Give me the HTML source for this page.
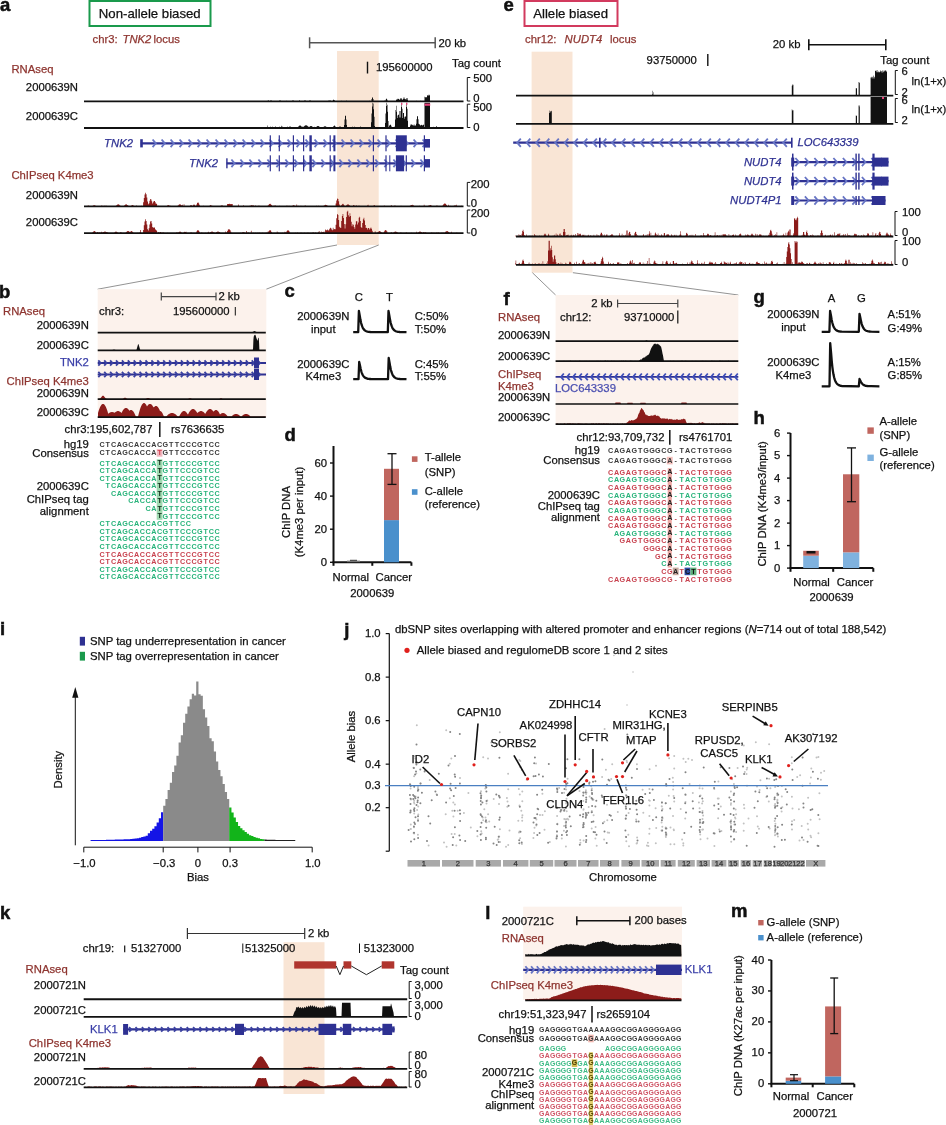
<!DOCTYPE html>
<html><head><meta charset="utf-8"><style>
html,body{margin:0;padding:0;background:#fff;}
body{width:946px;height:1125px;overflow:hidden;font-family:"Liberation Sans", sans-serif;}
svg{display:block;will-change:transform;}
</style></head><body>
<svg width="946" height="1125" viewBox="0 0 946 1125" font-family='"Liberation Sans", sans-serif'><text x="0.00" y="10.60" font-size="18.5" fill="#111" font-weight="bold" stroke="#111" stroke-width="0.5">a</text>
<rect x="89.5" y="1" width="121" height="25" fill="none" stroke="#1a9a4c" stroke-width="2"/>
<text x="98.80" y="18.10" font-size="13.2" fill="#111" stroke="#111" stroke-width="0.25">Non-allele biased</text>
<text x="92.60" y="42.90" font-size="11.3" fill="#8e3530" stroke="#8e3530" stroke-width="0.25">chr3:</text>
<text x="122.50" y="42.90" font-size="11.3" fill="#8e3530" stroke="#8e3530" stroke-width="0.25" font-style="italic">TNK2</text>
<text x="153.50" y="42.90" font-size="11.3" fill="#8e3530" stroke="#8e3530" stroke-width="0.25">locus</text>
<line x1="309.60" y1="42.80" x2="435.20" y2="42.80" stroke="#555" stroke-width="1.5"/>
<line x1="309.60" y1="37.30" x2="309.60" y2="48.30" stroke="#555" stroke-width="1.5"/>
<line x1="435.20" y1="37.30" x2="435.20" y2="48.30" stroke="#555" stroke-width="1.5"/>
<text x="438.50" y="47.00" font-size="11.3" fill="#111" stroke="#111" stroke-width="0.25">20 kb</text>
<rect x="337.00" y="51.00" width="41.70" height="194.00" fill="#f9e5d5"/>
<line x1="367.50" y1="61.70" x2="367.50" y2="73.50" stroke="#111" stroke-width="1.4"/>
<text x="376.00" y="71.30" font-size="11.3" fill="#111" stroke="#111" stroke-width="0.25">195600000</text>
<text x="452.00" y="66.80" font-size="11.3" fill="#111" stroke="#111" stroke-width="0.25">Tag count</text>
<text x="11.40" y="72.50" font-size="11.3" fill="#8e3530" stroke="#8e3530" stroke-width="0.25">RNAseq</text>
<text x="78.00" y="91.00" font-size="11.3" fill="#111" stroke="#111" stroke-width="0.25" text-anchor="end">2000639N</text>
<text x="78.00" y="119.50" font-size="11.3" fill="#111" stroke="#111" stroke-width="0.25" text-anchor="end">2000639C</text>
<path d="M262.00,101.10L262.00,101.10L262.50,101.10L262.50,101.10L263.00,101.10L263.00,101.10L263.50,101.10L263.50,101.10L264.00,101.10L264.00,101.10L264.50,101.10L264.50,101.10L265.00,101.10L265.00,101.10L265.50,101.10L265.50,101.10L266.00,101.10L266.00,101.10L266.50,101.10L266.50,101.10L267.00,101.10L267.00,101.01L267.50,101.01L267.50,100.69L268.00,100.69L268.00,101.10L268.50,101.10L268.50,100.09L269.00,100.09L269.00,101.10L269.50,101.10L269.50,101.10L270.00,101.10L270.00,100.70L270.50,100.70L270.50,100.38L271.00,100.38L271.00,100.38L271.50,100.38L271.50,100.70L272.00,100.70L272.00,101.10L272.50,101.10L272.50,100.94L273.00,100.94L273.00,101.10L273.50,101.10L273.50,101.10L274.00,101.10L274.00,101.10L274.50,101.10L274.50,101.10L275.00,101.10L275.00,101.10L275.50,101.10L275.50,101.10L276.00,101.10L276.00,101.10L276.50,101.10L276.50,101.10L277.00,101.10L277.00,101.10L277.50,101.10L277.50,101.10L278.00,101.10L278.00,101.10L278.50,101.10L278.50,101.10L279.00,101.10L279.00,100.70L279.50,100.70L279.50,100.38L280.00,100.38L280.00,100.38L280.50,100.38L280.50,100.70L281.00,100.70L281.00,101.10L281.50,101.10L281.50,101.10L282.00,101.10L282.00,101.10L282.50,101.10L282.50,101.10L283.00,101.10L283.00,101.10L283.50,101.10L283.50,101.04L284.00,101.04L284.00,101.10L284.50,101.10L284.50,101.10L285.00,101.10L285.00,101.10L285.50,101.10L285.50,101.10L286.00,101.10L286.00,100.85L286.50,100.85L286.50,101.10L287.00,101.10L287.00,101.10L287.50,101.10L287.50,101.00L288.00,101.00L288.00,101.10L288.50,101.10L288.50,101.10L289.00,101.10L289.00,101.03L289.50,101.03L289.50,101.08L290.00,101.08L290.00,101.10L290.50,101.10L290.50,101.10L291.00,101.10L291.00,101.10L291.50,101.10L291.50,101.10L292.00,101.10L292.00,100.70L292.50,100.70L292.50,100.38L293.00,100.38L293.00,100.38L293.50,100.38L293.50,100.70L294.00,100.70L294.00,101.10L294.50,101.10L294.50,101.10L295.00,101.10L295.00,101.10L295.50,101.10L295.50,101.10L296.00,101.10L296.00,101.10L296.50,101.10L296.50,101.10L297.00,101.10L297.00,101.10L297.50,101.10L297.50,101.10L298.00,101.10L298.00,101.10L298.50,101.10L298.50,101.10L299.00,101.10L299.00,99.97L299.50,99.97L299.50,101.10L300.00,101.10L300.00,101.10L300.50,101.10L300.50,101.10L301.00,101.10L301.00,101.10L301.50,101.10L301.50,101.10L302.00,101.10L302.00,101.08L302.50,101.08L302.50,101.10L303.00,101.10L303.00,101.10L303.50,101.10L303.50,101.10L304.00,101.10L304.00,100.70L304.50,100.70L304.50,100.38L305.00,100.38L305.00,100.38L305.50,100.38L305.50,100.70L306.00,100.70L306.00,101.10L306.50,101.10L306.50,101.10L307.00,101.10L307.00,101.10L307.50,101.10L307.50,101.10L308.00,101.10L308.00,101.10L308.50,101.10L308.50,101.10L309.00,101.10L309.00,100.70L309.50,100.70L309.50,100.38L310.00,100.38L310.00,100.38L310.50,100.38L310.50,100.70L311.00,100.70L311.00,101.10L311.50,101.10L311.50,101.10L312.00,101.10L312.00,101.10L312.50,101.10L312.50,101.10L313.00,101.10L313.00,101.10L313.50,101.10L313.50,101.09L314.00,101.09L314.00,101.10L314.50,101.10L314.50,101.10L315.00,101.10L315.00,101.10L315.50,101.10L315.50,101.10L316.00,101.10L316.00,101.10L316.50,101.10L316.50,101.10L317.00,101.10L317.00,101.10L317.50,101.10L317.50,101.10L318.00,101.10L318.00,101.10L318.50,101.10L318.50,101.04L319.00,101.04L319.00,101.10L319.50,101.10L319.50,101.10L320.00,101.10L320.00,101.10L320.50,101.10L320.50,101.10L321.00,101.10L321.00,101.10L321.50,101.10L321.50,101.10L322.00,101.10L322.00,101.02L322.50,101.02L322.50,101.10L323.00,101.10L323.00,101.05L323.50,101.05L323.50,101.10L324.00,101.10L324.00,101.10L324.50,101.10L324.50,100.99L325.00,100.99L325.00,101.10L325.50,101.10L325.50,101.10L326.00,101.10L326.00,101.10L326.50,101.10L326.50,101.10L327.00,101.10L327.00,101.10L327.50,101.10L327.50,101.09L328.00,101.09L328.00,100.50L328.50,100.50L328.50,101.10L329.00,101.10L329.00,100.70L329.50,100.70L329.50,100.38L330.00,100.38L330.00,100.38L330.50,100.38L330.50,100.70L331.00,100.70L331.00,101.10L331.50,101.10L331.50,101.10L332.00,101.10L332.00,100.90L332.50,100.90L332.50,100.83L333.00,100.83L333.00,100.07L333.50,100.07L333.50,99.61L334.00,99.61L334.00,99.94L334.50,99.94L334.50,100.66L335.00,100.66L335.00,101.10L335.50,101.10L335.50,101.10L336.00,101.10L336.00,101.10L336.50,101.10L336.50,101.10L337.00,101.10L337.00,101.10L337.50,101.10L337.50,101.10L338.00,101.10L338.00,101.10L338.50,101.10L338.50,101.10L339.00,101.10L339.00,101.10L339.50,101.10L339.50,101.10L340.00,101.10L340.00,101.10L340.50,101.10L340.50,101.10L341.00,101.10L341.00,101.10L341.50,101.10L341.50,100.85L342.00,100.85L342.00,101.10L342.50,101.10L342.50,101.10L343.00,101.10L343.00,101.10L343.50,101.10L343.50,101.10L344.00,101.10L344.00,101.10L344.50,101.10L344.50,101.10L345.00,101.10L345.00,101.10L345.50,101.10L345.50,101.10L346.00,101.10L346.00,100.75L346.50,100.75L346.50,100.87L347.00,100.87L347.00,101.10L347.50,101.10L347.50,101.10L348.00,101.10L348.00,101.10L348.50,101.10L348.50,101.10L349.00,101.10L349.00,101.10L349.50,101.10L349.50,101.10L350.00,101.10L350.00,101.10L350.50,101.10L350.50,101.01L351.00,101.01L351.00,101.10L351.50,101.10L351.50,101.10L352.00,101.10L352.00,101.10L352.50,101.10L352.50,101.10L353.00,101.10L353.00,101.10L353.50,101.10L353.50,101.10L354.00,101.10L354.00,101.10L354.50,101.10L354.50,101.10L355.00,101.10L355.00,101.10L355.50,101.10L355.50,101.10L356.00,101.10L356.00,101.10L356.50,101.10L356.50,101.10L357.00,101.10L357.00,101.10L357.50,101.10L357.50,101.10L358.00,101.10L358.00,101.10L358.50,101.10L358.50,101.10L359.00,101.10L359.00,101.10L359.50,101.10L359.50,100.93L360.00,100.93L360.00,101.10L360.50,101.10L360.50,101.10L361.00,101.10L361.00,101.10L361.50,101.10L361.50,101.10L362.00,101.10L362.00,101.10L362.50,101.10L362.50,101.10L363.00,101.10L363.00,101.10L363.50,101.10L363.50,101.10L364.00,101.10L364.00,101.10L364.50,101.10L364.50,101.10L365.00,101.10L365.00,101.10L365.50,101.10L365.50,101.10L366.00,101.10L366.00,101.10L366.50,101.10L366.50,101.10L367.00,101.10L367.00,101.10L367.50,101.10L367.50,101.10L368.00,101.10L368.00,101.09L368.50,101.09L368.50,101.10L369.00,101.10L369.00,100.79L369.50,100.79L369.50,101.10L370.00,101.10L370.00,101.10L370.50,101.10L370.50,101.10L371.00,101.10L371.00,101.06L371.50,101.06L371.50,99.08L372.00,99.08L372.00,97.48L372.50,97.48L372.50,97.48L373.00,97.48L373.00,99.08L373.50,99.08L373.50,101.10L374.00,101.10L374.00,101.10L374.50,101.10L374.50,101.10L375.00,101.10L375.00,101.10L375.50,101.10L375.50,101.10L376.00,101.10L376.00,101.10L376.50,101.10L376.50,101.10L377.00,101.10L377.00,101.10L377.50,101.10L377.50,101.10L378.00,101.10L378.00,101.10L378.50,101.10L378.50,100.94L379.00,100.94L379.00,101.10L379.50,101.10L379.50,101.10L380.00,101.10L380.00,101.10L380.50,101.10L380.50,101.10L381.00,101.10L381.00,101.10L381.50,101.10L381.50,101.10L382.00,101.10L382.00,101.10L382.50,101.10L382.50,101.10L383.00,101.10L383.00,101.10L383.50,101.10L383.50,101.10L384.00,101.10L384.00,101.10L384.50,101.10L384.50,100.43L385.00,100.43L385.00,101.10L385.50,101.10L385.50,99.84L386.00,99.84L386.00,98.84L386.50,98.84L386.50,98.84L387.00,98.84L387.00,99.84L387.50,99.84L387.50,101.10L388.00,101.10L388.00,101.10L388.50,101.10L388.50,101.10L389.00,101.10L389.00,101.10L389.50,101.10L389.50,101.10L390.00,101.10L390.00,101.10L390.50,101.10L390.50,101.10L391.00,101.10L391.00,101.10L391.50,101.10L391.50,101.10L392.00,101.10L392.00,101.10L392.50,101.10L392.50,101.10L393.00,101.10L393.00,101.10L393.50,101.10L393.50,101.10L394.00,101.10L394.00,101.10L394.50,101.10L394.50,101.10L395.00,101.10L395.00,101.10L395.50,101.10L395.50,101.10L396.00,101.10L396.00,99.90L396.50,99.90L396.50,99.28L397.00,99.28L397.00,99.51L397.50,99.51L397.50,98.84L398.00,98.84L398.00,98.84L398.50,98.84L398.50,99.09L399.00,99.09L399.00,99.77L399.50,99.77L399.50,99.47L400.00,99.47L400.00,99.33L400.50,99.33L400.50,97.93L401.00,97.93L401.00,97.93L401.50,97.93L401.50,99.33L402.00,99.33L402.00,99.70L402.50,99.70L402.50,99.48L403.00,99.48L403.00,99.08L403.50,99.08L403.50,97.48L404.00,97.48L404.00,97.48L404.50,97.48L404.50,99.08L405.00,99.08L405.00,99.48L405.50,99.48L405.50,99.12L406.00,99.12L406.00,99.45L406.50,99.45L406.50,98.07L407.00,98.07L407.00,98.07L407.50,98.07L407.50,99.78L408.00,99.78L408.00,101.10L408.50,101.10L408.50,101.10L409.00,101.10L409.00,101.10L409.50,101.10L409.50,100.91L410.00,100.91L410.00,101.10L410.50,101.10L410.50,101.10L411.00,101.10L411.00,101.10L411.50,101.10L411.50,101.10L412.00,101.10L412.00,101.10L412.50,101.10L412.50,100.96L413.00,100.96L413.00,101.10L413.50,101.10L413.50,101.10L414.00,101.10L414.00,101.10L414.50,101.10L414.50,101.10L415.00,101.10L415.00,101.10L415.50,101.10L415.50,101.10L416.00,101.10L416.00,101.10L416.50,101.10L416.50,100.72L417.00,100.72L417.00,101.05L417.50,101.05L417.50,101.10L418.00,101.10L418.00,101.10L418.50,101.10L418.50,101.10L419.00,101.10L419.00,101.10L419.50,101.10L419.50,101.10L420.00,101.10L420.00,100.77L420.50,100.77L420.50,100.92L421.00,100.92L421.00,101.10L421.50,101.10L421.50,101.10L422.00,101.10L422.00,101.10L422.50,101.10L422.50,101.10L423.00,101.10L423.00,101.10L423.50,101.10L423.50,101.10L424.00,101.10L424.00,101.10L424.50,101.10L424.50,96.78L425.00,96.78L425.00,97.17L425.50,97.17L425.50,97.37L426.00,97.37L426.00,97.37L426.50,97.37L426.50,97.27L427.00,97.27L427.00,95.69L427.50,95.69L427.50,94.92L428.00,94.92L428.00,94.79L428.50,94.79L428.50,95.67L429.00,95.67L429.00,95.46L429.50,95.46L429.50,94.63L430.00,94.63L430.00,101.10L430.50,101.10L430.50,101.10L431.00,101.10L431.00,101.10L431.50,101.10L431.50,100.97L432.00,100.97L432.00,101.10L432.50,101.10L432.50,101.04L433.00,101.04L433.00,101.10L433.50,101.10L433.50,101.10L434.00,101.10L434.00,101.10L434.50,101.10L434.50,100.92L435.00,100.92L435.00,101.10L435.50,101.10L435.50,101.10L436.00,101.10L436.00,101.10L436.50,101.10L436.50,101.10L437.00,101.10L437.00,101.07L437.50,101.07L437.50,100.90L438.00,100.90L438.00,101.10L438.50,101.10L438.50,101.10L439.00,101.10L439.00,101.05L439.50,101.05L439.50,101.10L440.00,101.10L440.00,101.10Z" fill="#111"/>
<path d="M262.00,127.50L262.00,127.09L262.50,127.09L262.50,127.50L263.00,127.50L263.00,127.50L263.50,127.50L263.50,126.95L264.00,126.95L264.00,127.50L264.50,127.50L264.50,127.50L265.00,127.50L265.00,127.50L265.50,127.50L265.50,127.50L266.00,127.50L266.00,127.19L266.50,127.19L266.50,126.95L267.00,126.95L267.00,127.41L267.50,127.41L267.50,125.39L268.00,125.39L268.00,127.50L268.50,127.50L268.50,127.50L269.00,127.50L269.00,127.50L269.50,127.50L269.50,127.36L270.00,127.36L270.00,127.50L270.50,127.50L270.50,126.44L271.00,126.44L271.00,127.44L271.50,127.44L271.50,127.50L272.00,127.50L272.00,126.58L272.50,126.58L272.50,127.50L273.00,127.50L273.00,127.50L273.50,127.50L273.50,127.27L274.00,127.27L274.00,127.49L274.50,127.49L274.50,127.50L275.00,127.50L275.00,126.97L275.50,126.97L275.50,126.29L276.00,126.29L276.00,127.50L276.50,127.50L276.50,127.50L277.00,127.50L277.00,127.50L277.50,127.50L277.50,127.50L278.00,127.50L278.00,127.50L278.50,127.50L278.50,127.27L279.00,127.27L279.00,127.50L279.50,127.50L279.50,126.60L280.00,126.60L280.00,127.20L280.50,127.20L280.50,127.00L281.00,127.00L281.00,126.84L281.50,126.84L281.50,125.66L282.00,125.66L282.00,126.73L282.50,126.73L282.50,126.84L283.00,126.84L283.00,127.00L283.50,127.00L283.50,127.20L284.00,127.20L284.00,127.43L284.50,127.43L284.50,127.50L285.00,127.50L285.00,127.50L285.50,127.50L285.50,127.17L286.00,127.17L286.00,127.50L286.50,127.50L286.50,127.50L287.00,127.50L287.00,127.43L287.50,127.43L287.50,126.58L288.00,126.58L288.00,127.12L288.50,127.12L288.50,126.88L289.00,126.88L289.00,126.67L289.50,126.67L289.50,126.53L290.00,126.53L290.00,126.53L290.50,126.53L290.50,126.67L291.00,126.67L291.00,126.88L291.50,126.88L291.50,127.12L292.00,127.12L292.00,127.41L292.50,127.41L292.50,127.50L293.00,127.50L293.00,127.50L293.50,127.50L293.50,127.50L294.00,127.50L294.00,127.50L294.50,127.50L294.50,127.50L295.00,127.50L295.00,127.40L295.50,127.40L295.50,127.50L296.00,127.50L296.00,127.47L296.50,127.47L296.50,127.50L297.00,127.50L297.00,127.50L297.50,127.50L297.50,127.32L298.00,127.32L298.00,126.75L298.50,126.75L298.50,126.25L299.00,126.25L299.00,125.85L299.50,125.85L299.50,125.57L300.00,125.57L300.00,125.57L300.50,125.57L300.50,125.85L301.00,125.85L301.00,126.25L301.50,126.25L301.50,126.75L302.00,126.75L302.00,126.38L302.50,126.38L302.50,127.50L303.00,127.50L303.00,127.05L303.50,127.05L303.50,126.60L304.00,126.60L304.00,126.19L304.50,126.19L304.50,125.84L305.00,125.84L305.00,125.55L305.50,125.55L305.50,125.35L306.00,125.35L306.00,125.35L306.50,125.35L306.50,125.55L307.00,125.55L307.00,125.84L307.50,125.84L307.50,126.19L308.00,126.19L308.00,126.60L308.50,126.60L308.50,127.05L309.00,127.05L309.00,126.90L309.50,126.90L309.50,126.50L310.00,126.50L310.00,126.18L310.50,126.18L310.50,125.95L311.00,125.95L311.00,125.95L311.50,125.95L311.50,126.18L312.00,126.18L312.00,126.50L312.50,126.50L312.50,126.90L313.00,126.90L313.00,127.35L313.50,127.35L313.50,127.49L314.00,127.49L314.00,127.50L314.50,127.50L314.50,126.79L315.00,126.79L315.00,127.50L315.50,127.50L315.50,127.23L316.00,127.23L316.00,126.93L316.50,126.93L316.50,126.56L317.00,126.56L317.00,126.26L317.50,126.26L317.50,126.05L318.00,126.05L318.00,126.05L318.50,126.05L318.50,126.26L319.00,126.26L319.00,126.56L319.50,126.56L319.50,126.93L320.00,126.93L320.00,127.36L320.50,127.36L320.50,127.28L321.00,127.28L321.00,126.99L321.50,126.99L321.50,127.06L322.00,127.06L322.00,127.08L322.50,127.08L322.50,127.39L323.00,127.39L323.00,127.05L323.50,127.05L323.50,126.75L324.00,126.75L324.00,126.51L324.50,126.51L324.50,126.34L325.00,126.34L325.00,126.34L325.50,126.34L325.50,126.51L326.00,126.51L326.00,126.75L326.50,126.75L326.50,127.05L327.00,127.05L327.00,127.39L327.50,127.39L327.50,127.08L328.00,127.08L328.00,127.50L328.50,127.50L328.50,127.50L329.00,127.50L329.00,126.91L329.50,126.91L329.50,127.50L330.00,127.50L330.00,127.37L330.50,127.37L330.50,127.50L331.00,127.50L331.00,127.47L331.50,127.47L331.50,126.91L332.00,126.91L332.00,127.50L332.50,127.50L332.50,127.50L333.00,127.50L333.00,126.72L333.50,126.72L333.50,126.02L334.00,126.02L334.00,125.56L334.50,125.56L334.50,125.70L335.00,125.70L335.00,126.27L335.50,126.27L335.50,127.05L336.00,127.05L336.00,127.50L336.50,127.50L336.50,127.07L337.00,127.07L337.00,127.50L337.50,127.50L337.50,127.50L338.00,127.50L338.00,127.50L338.50,127.50L338.50,127.19L339.00,127.19L339.00,126.82L339.50,126.82L339.50,126.56L340.00,126.56L340.00,126.56L340.50,126.56L340.50,126.82L341.00,126.82L341.00,127.19L341.50,127.19L341.50,127.50L342.00,127.50L342.00,127.50L342.50,127.50L342.50,127.50L343.00,127.50L343.00,127.50L343.50,127.50L343.50,127.50L344.00,127.50L344.00,125.07L344.50,125.07L344.50,119.57L345.00,119.57L345.00,115.72L345.50,115.72L345.50,115.72L346.00,115.72L346.00,119.57L346.50,119.57L346.50,125.07L347.00,125.07L347.00,127.50L347.50,127.50L347.50,127.50L348.00,127.50L348.00,127.50L348.50,127.50L348.50,127.37L349.00,127.37L349.00,127.33L349.50,127.33L349.50,127.22L350.00,127.22L350.00,127.37L350.50,127.37L350.50,127.50L351.00,127.50L351.00,127.50L351.50,127.50L351.50,127.50L352.00,127.50L352.00,126.41L352.50,126.41L352.50,127.50L353.00,127.50L353.00,127.36L353.50,127.36L353.50,127.50L354.00,127.50L354.00,127.50L354.50,127.50L354.50,126.44L355.00,126.44L355.00,127.40L355.50,127.40L355.50,127.50L356.00,127.50L356.00,127.10L356.50,127.10L356.50,127.18L357.00,127.18L357.00,127.33L357.50,127.33L357.50,127.50L358.00,127.50L358.00,127.50L358.50,127.50L358.50,127.50L359.00,127.50L359.00,127.50L359.50,127.50L359.50,127.43L360.00,127.43L360.00,127.39L360.50,127.39L360.50,126.37L361.00,126.37L361.00,126.92L361.50,126.92L361.50,127.50L362.00,127.50L362.00,127.50L362.50,127.50L362.50,127.26L363.00,127.26L363.00,127.17L363.50,127.17L363.50,127.50L364.00,127.50L364.00,127.50L364.50,127.50L364.50,127.50L365.00,127.50L365.00,127.37L365.50,127.37L365.50,127.50L366.00,127.50L366.00,127.50L366.50,127.50L366.50,127.45L367.00,127.45L367.00,127.50L367.50,127.50L367.50,127.50L368.00,127.50L368.00,127.50L368.50,127.50L368.50,127.43L369.00,127.43L369.00,127.50L369.50,127.50L369.50,127.50L370.00,127.50L370.00,126.93L370.50,126.93L370.50,127.50L371.00,127.50L371.00,122.21L371.50,122.21L371.50,113.55L372.00,113.55L372.00,106.62L372.50,106.62L372.50,102.80L373.00,102.80L373.00,103.52L373.50,103.52L373.50,109.16L374.00,109.16L374.00,116.83L374.50,116.83L374.50,126.09L375.00,126.09L375.00,127.50L375.50,127.50L375.50,127.50L376.00,127.50L376.00,127.50L376.50,127.50L376.50,127.50L377.00,127.50L377.00,127.39L377.50,127.39L377.50,127.38L378.00,127.38L378.00,127.50L378.50,127.50L378.50,127.50L379.00,127.50L379.00,127.48L379.50,127.48L379.50,127.50L380.00,127.50L380.00,127.50L380.50,127.50L380.50,127.39L381.00,127.39L381.00,127.49L381.50,127.49L381.50,127.50L382.00,127.50L382.00,127.50L382.50,127.50L382.50,127.50L383.00,127.50L383.00,127.46L383.50,127.46L383.50,127.50L384.00,127.50L384.00,127.50L384.50,127.50L384.50,127.50L385.00,127.50L385.00,122.99L385.50,122.99L385.50,113.48L386.00,113.48L386.00,106.04L386.50,106.04L386.50,102.80L387.00,102.80L387.00,104.86L387.50,104.86L387.50,111.81L388.00,111.81L388.00,120.94L388.50,120.94L388.50,127.07L389.00,127.07L389.00,126.09L389.50,126.09L389.50,125.10L390.00,125.10L390.00,124.52L390.50,124.52L390.50,124.95L391.00,124.95L391.00,125.87L391.50,125.87L391.50,126.97L392.00,126.97L392.00,127.50L392.50,127.50L392.50,127.50L393.00,127.50L393.00,127.50L393.50,127.50L393.50,127.50L394.00,127.50L394.00,126.50L394.50,126.50L394.50,127.50L395.00,127.50L395.00,119.57L395.50,119.57L395.50,110.09L396.00,110.09L396.00,105.67L396.50,105.67L396.50,111.70L397.00,111.70L397.00,115.55L397.50,115.55L397.50,117.99L398.00,117.99L398.00,114.71L398.50,114.71L398.50,114.71L399.00,114.71L399.00,117.57L399.50,117.57L399.50,111.05L400.00,111.05L400.00,111.05L400.50,111.05L400.50,117.57L401.00,117.57L401.00,106.92L401.50,106.92L401.50,102.80L402.00,102.80L402.00,108.82L402.50,108.82L402.50,117.90L403.00,117.90L403.00,112.88L403.50,112.88L403.50,112.88L404.00,112.88L404.00,118.68L404.50,118.68L404.50,116.77L405.00,116.77L405.00,116.77L405.50,116.77L405.50,116.23L406.00,116.23L406.00,106.92L406.50,106.92L406.50,102.80L407.00,102.80L407.00,108.82L407.50,108.82L407.50,120.82L408.00,120.82L408.00,127.32L408.50,127.32L408.50,127.12L409.00,127.12L409.00,127.50L409.50,127.50L409.50,127.50L410.00,127.50L410.00,124.41L410.50,124.41L410.50,125.71L411.00,125.71L411.00,124.12L411.50,124.12L411.50,125.05L412.00,125.05L412.00,124.82L412.50,124.82L412.50,125.26L413.00,125.26L413.00,125.82L413.50,125.82L413.50,124.79L414.00,124.79L414.00,125.67L414.50,125.67L414.50,124.42L415.00,124.42L415.00,125.87L415.50,125.87L415.50,125.33L416.00,125.33L416.00,123.79L416.50,123.79L416.50,119.35L417.00,119.35L417.00,116.24L417.50,116.24L417.50,116.24L418.00,116.24L418.00,119.35L418.50,119.35L418.50,123.79L419.00,123.79L419.00,124.12L419.50,124.12L419.50,124.87L420.00,124.87L420.00,125.38L420.50,125.38L420.50,125.25L421.00,125.25L421.00,125.05L421.50,125.05L421.50,124.79L422.00,124.79L422.00,125.34L422.50,125.34L422.50,125.59L423.00,125.59L423.00,124.96L423.50,124.96L423.50,124.47L424.00,124.47L424.00,127.50L424.50,127.50L424.50,102.80L425.00,102.80L425.00,102.80L425.50,102.80L425.50,102.80L426.00,102.80L426.00,102.80L426.50,102.80L426.50,102.80L427.00,102.80L427.00,102.80L427.50,102.80L427.50,102.80L428.00,102.80L428.00,102.80L428.50,102.80L428.50,102.80L429.00,102.80L429.00,102.80L429.50,102.80L429.50,102.80L430.00,102.80L430.00,127.42L430.50,127.42L430.50,127.50L431.00,127.50L431.00,127.50L431.50,127.50L431.50,127.50L432.00,127.50L432.00,127.50L432.50,127.50L432.50,127.37L433.00,127.37L433.00,126.64L433.50,126.64L433.50,126.96L434.00,126.96L434.00,127.26L434.50,127.26L434.50,127.50L435.00,127.50L435.00,127.50L435.50,127.50L435.50,127.50L436.00,127.50L436.00,126.59L436.50,126.59L436.50,126.33L437.00,126.33L437.00,127.50L437.50,127.50L437.50,127.50L438.00,127.50L438.00,127.50L438.50,127.50L438.50,127.35L439.00,127.35L439.00,127.50L439.50,127.50L439.50,127.50L440.00,127.50L440.00,127.50Z" fill="#111"/>
<rect x="424.50" y="103.60" width="5.70" height="2.20" fill="#e8407a"/>
<rect x="401.00" y="102.80" width="1.40" height="2.00" fill="#e8407a"/>
<rect x="406.00" y="102.80" width="1.40" height="2.00" fill="#e8407a"/>
<line x1="84.00" y1="101.40" x2="463.50" y2="101.40" stroke="#111" stroke-width="1.8"/>
<line x1="84.00" y1="128.00" x2="463.50" y2="128.00" stroke="#111" stroke-width="1.8"/>
<path d="M470.30,77.50H467.30V101.00H470.30" fill="none" stroke="#111" stroke-width="1.0"/>
<text x="473.30" y="81.90" font-size="11.3" fill="#111" stroke="#111" stroke-width="0.25">500</text>
<text x="473.30" y="102.10" font-size="11.3" fill="#111" stroke="#111" stroke-width="0.25">0</text>
<path d="M470.30,104.20H467.30V127.50H470.30" fill="none" stroke="#111" stroke-width="1.0"/>
<text x="473.30" y="111.30" font-size="11.3" fill="#111" stroke="#111" stroke-width="0.25">500</text>
<text x="473.30" y="131.20" font-size="11.3" fill="#111" stroke="#111" stroke-width="0.25">0</text>
<line x1="140.80" y1="143.30" x2="430.00" y2="143.30" stroke="#2e3192" stroke-width="2.2"/>
<path d="M152.60,139.50L155.80,143.30L152.60,147.10M161.60,139.50L164.80,143.30L161.60,147.10M170.60,139.50L173.80,143.30L170.60,147.10M179.60,139.50L182.80,143.30L179.60,147.10M188.60,139.50L191.80,143.30L188.60,147.10M197.60,139.50L200.80,143.30L197.60,147.10M206.60,139.50L209.80,143.30L206.60,147.10M215.60,139.50L218.80,143.30L215.60,147.10M224.60,139.50L227.80,143.30L224.60,147.10M233.60,139.50L236.80,143.30L233.60,147.10M242.60,139.50L245.80,143.30L242.60,147.10M251.60,139.50L254.80,143.30L251.60,147.10M260.60,139.50L263.80,143.30L260.60,147.10M269.60,139.50L272.80,143.30L269.60,147.10M278.60,139.50L281.80,143.30L278.60,147.10M287.60,139.50L290.80,143.30L287.60,147.10M296.60,139.50L299.80,143.30L296.60,147.10M305.60,139.50L308.80,143.30L305.60,147.10M314.60,139.50L317.80,143.30L314.60,147.10M323.60,139.50L326.80,143.30L323.60,147.10M332.60,139.50L335.80,143.30L332.60,147.10M341.60,139.50L344.80,143.30L341.60,147.10M350.60,139.50L353.80,143.30L350.60,147.10M359.60,139.50L362.80,143.30L359.60,147.10M368.60,139.50L371.80,143.30L368.60,147.10M377.60,139.50L380.80,143.30L377.60,147.10M386.60,139.50L389.80,143.30L386.60,147.10M395.60,139.50L398.80,143.30L395.60,147.10M404.60,139.50L407.80,143.30L404.60,147.10M413.60,139.50L416.80,143.30L413.60,147.10M422.60,139.50L425.80,143.30L422.60,147.10" fill="none" stroke="#6674c4" stroke-width="1.8" stroke-linejoin="miter"/>
<rect x="140.20" y="139.20" width="2.60" height="8.20" fill="#2e3192"/>
<rect x="269.70" y="135.30" width="1.20" height="16.00" fill="#2e3192"/>
<rect x="278.70" y="135.30" width="1.20" height="16.00" fill="#2e3192"/>
<rect x="292.80" y="135.30" width="1.20" height="16.00" fill="#2e3192"/>
<rect x="303.00" y="135.30" width="1.20" height="16.00" fill="#2e3192"/>
<rect x="309.40" y="135.30" width="2.40" height="16.00" fill="#2e3192"/>
<rect x="329.60" y="135.30" width="1.20" height="16.00" fill="#2e3192"/>
<rect x="333.40" y="135.30" width="2.00" height="16.00" fill="#2e3192"/>
<rect x="372.80" y="135.30" width="1.20" height="16.00" fill="#2e3192"/>
<rect x="385.40" y="135.30" width="1.20" height="16.00" fill="#2e3192"/>
<rect x="395.90" y="135.30" width="10.90" height="16.00" fill="#2e3192"/>
<rect x="423.80" y="135.30" width="1.20" height="16.00" fill="#2e3192"/>
<rect x="424.40" y="139.00" width="5.60" height="8.60" fill="#2e3192"/>
<text x="133.00" y="147.00" font-size="11.3" fill="#2e3192" stroke="#2e3192" stroke-width="0.25" text-anchor="end" font-style="italic">TNK2</text>
<line x1="226.60" y1="163.30" x2="430.00" y2="163.30" stroke="#2e3192" stroke-width="2.2"/>
<path d="M231.40,159.50L234.60,163.30L231.40,167.10M240.40,159.50L243.60,163.30L240.40,167.10M249.40,159.50L252.60,163.30L249.40,167.10M258.40,159.50L261.60,163.30L258.40,167.10M267.40,159.50L270.60,163.30L267.40,167.10M276.40,159.50L279.60,163.30L276.40,167.10M285.40,159.50L288.60,163.30L285.40,167.10M294.40,159.50L297.60,163.30L294.40,167.10M303.40,159.50L306.60,163.30L303.40,167.10M312.40,159.50L315.60,163.30L312.40,167.10M321.40,159.50L324.60,163.30L321.40,167.10M330.40,159.50L333.60,163.30L330.40,167.10M339.40,159.50L342.60,163.30L339.40,167.10M348.40,159.50L351.60,163.30L348.40,167.10M357.40,159.50L360.60,163.30L357.40,167.10M366.40,159.50L369.60,163.30L366.40,167.10M375.40,159.50L378.60,163.30L375.40,167.10M384.40,159.50L387.60,163.30L384.40,167.10M393.40,159.50L396.60,163.30L393.40,167.10M402.40,159.50L405.60,163.30L402.40,167.10M411.40,159.50L414.60,163.30L411.40,167.10M420.40,159.50L423.60,163.30L420.40,167.10" fill="none" stroke="#6674c4" stroke-width="1.8" stroke-linejoin="miter"/>
<rect x="226.20" y="158.30" width="1.40" height="10.00" fill="#2e3192"/>
<rect x="269.70" y="155.30" width="1.20" height="16.00" fill="#2e3192"/>
<rect x="278.70" y="155.30" width="1.20" height="16.00" fill="#2e3192"/>
<rect x="292.80" y="155.30" width="1.20" height="16.00" fill="#2e3192"/>
<rect x="303.00" y="155.30" width="1.20" height="16.00" fill="#2e3192"/>
<rect x="309.40" y="155.30" width="2.40" height="16.00" fill="#2e3192"/>
<rect x="329.60" y="155.30" width="1.20" height="16.00" fill="#2e3192"/>
<rect x="333.40" y="155.30" width="2.00" height="16.00" fill="#2e3192"/>
<rect x="372.80" y="155.30" width="1.20" height="16.00" fill="#2e3192"/>
<rect x="385.40" y="155.30" width="1.20" height="16.00" fill="#2e3192"/>
<rect x="389.30" y="155.30" width="1.00" height="16.00" fill="#2e3192"/>
<rect x="395.90" y="155.30" width="8.20" height="16.00" fill="#2e3192"/>
<rect x="405.70" y="155.30" width="1.20" height="16.00" fill="#2e3192"/>
<rect x="423.80" y="155.30" width="1.20" height="16.00" fill="#2e3192"/>
<rect x="424.40" y="159.10" width="5.60" height="8.40" fill="#2e3192"/>
<text x="218.00" y="167.20" font-size="11.3" fill="#2e3192" stroke="#2e3192" stroke-width="0.25" text-anchor="end" font-style="italic">TNK2</text>
<text x="11.40" y="178.50" font-size="11.3" fill="#8e3530" stroke="#8e3530" stroke-width="0.25">ChIPseq K4me3</text>
<text x="78.00" y="198.50" font-size="11.3" fill="#111" stroke="#111" stroke-width="0.25" text-anchor="end">2000639N</text>
<text x="78.00" y="226.30" font-size="11.3" fill="#111" stroke="#111" stroke-width="0.25" text-anchor="end">2000639C</text>
<path d="M85.00,206.30L85.00,206.24L85.70,206.24L85.70,206.30L86.40,206.30L86.40,206.30L87.10,206.30L87.10,206.24L87.80,206.24L87.80,205.59L88.50,205.59L88.50,205.63L89.20,205.63L89.20,206.30L89.90,206.30L89.90,205.92L90.60,205.92L90.60,206.30L91.30,206.30L91.30,206.30L92.00,206.30L92.00,206.30L92.70,206.30L92.70,205.86L93.40,205.86L93.40,205.32L94.10,205.32L94.10,205.13L94.80,205.13L94.80,205.52L95.50,205.52L95.50,206.14L96.20,206.14L96.20,206.30L96.90,206.30L96.90,206.18L97.60,206.18L97.60,206.30L98.30,206.30L98.30,206.30L99.00,206.30L99.00,206.30L99.70,206.30L99.70,206.30L100.40,206.30L100.40,206.30L101.10,206.30L101.10,205.39L101.80,205.39L101.80,206.30L102.50,206.30L102.50,205.64L103.20,205.64L103.20,206.30L103.90,206.30L103.90,206.30L104.60,206.30L104.60,205.50L105.30,205.50L105.30,206.30L106.00,206.30L106.00,205.79L106.70,205.79L106.70,206.28L107.40,206.28L107.40,206.10L108.10,206.10L108.10,206.30L108.80,206.30L108.80,206.30L109.50,206.30L109.50,206.30L110.20,206.30L110.20,206.30L110.90,206.30L110.90,206.30L111.60,206.30L111.60,206.30L112.30,206.30L112.30,206.30L113.00,206.30L113.00,206.20L113.70,206.20L113.70,206.30L114.40,206.30L114.40,206.30L115.10,206.30L115.10,206.30L115.80,206.30L115.80,205.74L116.50,205.74L116.50,205.07L117.20,205.07L117.20,204.56L117.90,204.56L117.90,204.31L118.60,204.31L118.60,204.62L119.30,204.62L119.30,205.16L120.00,205.16L120.00,205.85L120.70,205.85L120.70,206.30L121.40,206.30L121.40,206.00L122.10,206.00L122.10,206.30L122.80,206.30L122.80,206.30L123.50,206.30L123.50,206.07L124.20,206.07L124.20,205.34L124.90,205.34L124.90,204.75L125.60,204.75L125.60,204.36L126.30,204.36L126.30,204.45L127.00,204.45L127.00,204.91L127.70,204.91L127.70,205.54L128.40,205.54L128.40,206.30L129.10,206.30L129.10,206.30L129.80,206.30L129.80,206.30L130.50,206.30L130.50,205.89L131.20,205.89L131.20,205.42L131.90,205.42L131.90,205.12L132.60,205.12L132.60,205.27L133.30,205.27L133.30,205.65L134.00,205.65L134.00,206.22L134.70,206.22L134.70,206.30L135.40,206.30L135.40,206.30L136.10,206.30L136.10,205.57L136.80,205.57L136.80,206.30L137.50,206.30L137.50,206.29L138.20,206.29L138.20,206.30L138.90,206.30L138.90,206.20L139.60,206.20L139.60,206.23L140.30,206.23L140.30,206.30L141.00,206.30L141.00,205.82L141.70,205.82L141.70,206.19L142.40,206.19L142.40,206.30L143.10,206.30L143.10,202.23L143.80,202.23L143.80,197.93L144.50,197.93L144.50,194.58L145.20,194.58L145.20,192.63L145.90,192.63L145.90,194.20L146.60,194.20L146.60,197.39L147.30,197.39L147.30,201.56L148.00,201.56L148.00,204.15L148.70,204.15L148.70,203.13L149.40,203.13L149.40,200.69L150.10,200.69L150.10,199.06L150.80,199.06L150.80,199.42L151.50,199.42L151.50,201.32L152.20,201.32L152.20,203.52L152.90,203.52L152.90,202.27L153.60,202.27L153.60,200.92L154.30,200.92L154.30,200.92L155.00,200.92L155.00,202.27L155.70,202.27L155.70,203.66L156.40,203.66L156.40,203.65L157.10,203.65L157.10,206.18L157.80,206.18L157.80,205.70L158.50,205.70L158.50,206.30L159.20,206.30L159.20,206.30L159.90,206.30L159.90,206.16L160.60,206.16L160.60,206.30L161.30,206.30L161.30,206.30L162.00,206.30L162.00,206.30L162.70,206.30L162.70,206.30L163.40,206.30L163.40,206.20L164.10,206.20L164.10,205.97L164.80,205.97L164.80,205.98L165.50,205.98L165.50,206.30L166.20,206.30L166.20,206.30L166.90,206.30L166.90,205.86L167.60,205.86L167.60,205.08L168.30,205.08L168.30,205.13L169.00,205.13L169.00,205.52L169.70,205.52L169.70,206.14L170.40,206.14L170.40,205.84L171.10,205.84L171.10,206.30L171.80,206.30L171.80,206.30L172.50,206.30L172.50,206.25L173.20,206.25L173.20,206.30L173.90,206.30L173.90,206.07L174.60,206.07L174.60,206.30L175.30,206.30L175.30,206.30L176.00,206.30L176.00,206.30L176.70,206.30L176.70,206.30L177.40,206.30L177.40,205.85L178.10,205.85L178.10,205.16L178.80,205.16L178.80,204.62L179.50,204.62L179.50,204.31L180.20,204.31L180.20,204.56L180.90,204.56L180.90,205.07L181.60,205.07L181.60,205.69L182.30,205.69L182.30,204.75L183.00,204.75L183.00,206.30L183.70,206.30L183.70,204.26L184.40,204.26L184.40,206.30L185.10,206.30L185.10,206.16L185.80,206.16L185.80,206.30L186.50,206.30L186.50,206.30L187.20,206.30L187.20,206.28L187.90,206.28L187.90,206.28L188.60,206.28L188.60,206.30L189.30,206.30L189.30,205.95L190.00,205.95L190.00,205.38L190.70,205.38L190.70,205.11L191.40,205.11L191.40,205.45L192.10,205.45L192.10,206.05L192.80,206.05L192.80,205.14L193.50,205.14L193.50,204.55L194.20,204.55L194.20,204.83L194.90,204.83L194.90,205.63L195.60,205.63L195.60,206.30L196.30,206.30L196.30,204.45L197.00,204.45L197.00,203.02L197.70,203.02L197.70,202.32L198.40,202.32L198.40,203.19L199.10,203.19L199.10,204.70L199.80,204.70L199.80,206.05L200.50,206.05L200.50,206.30L201.20,206.30L201.20,206.30L201.90,206.30L201.90,206.30L202.60,206.30L202.60,206.30L203.30,206.30L203.30,205.64L204.00,205.64L204.00,206.30L204.70,206.30L204.70,206.30L205.40,206.30L205.40,206.30L206.10,206.30L206.10,206.30L206.80,206.30L206.80,206.30L207.50,206.30L207.50,206.30L208.20,206.30L208.20,206.30L208.90,206.30L208.90,206.05L209.60,206.05L209.60,205.45L210.30,205.45L210.30,205.11L211.00,205.11L211.00,205.38L211.70,205.38L211.70,205.86L212.40,205.86L212.40,206.30L213.10,206.30L213.10,206.30L213.80,206.30L213.80,206.06L214.50,206.06L214.50,206.09L215.20,206.09L215.20,206.30L215.90,206.30L215.90,206.30L216.60,206.30L216.60,206.14L217.30,206.14L217.30,206.30L218.00,206.30L218.00,206.30L218.70,206.30L218.70,206.20L219.40,206.20L219.40,206.15L220.10,206.15L220.10,206.30L220.80,206.30L220.80,205.60L221.50,205.60L221.50,205.53L222.20,205.53L222.20,205.54L222.90,205.54L222.90,206.30L223.60,206.30L223.60,206.25L224.30,206.25L224.30,206.30L225.00,206.30L225.00,206.30L225.70,206.30L225.70,206.30L226.40,206.30L226.40,206.30L227.10,206.30L227.10,204.04L227.80,204.04L227.80,203.96L228.50,203.96L228.50,204.07L229.20,204.07L229.20,203.86L229.90,203.86L229.90,204.11L230.60,204.11L230.60,204.24L231.30,204.24L231.30,204.10L232.00,204.10L232.00,203.93L232.70,203.93L232.70,206.30L233.40,206.30L233.40,206.30L234.10,206.30L234.10,206.30L234.80,206.30L234.80,206.30L235.50,206.30L235.50,206.30L236.20,206.30L236.20,206.30L236.90,206.30L236.90,206.26L237.60,206.26L237.60,206.30L238.30,206.30L238.30,204.55L239.00,204.55L239.00,206.30L239.70,206.30L239.70,206.30L240.40,206.30L240.40,206.30L241.10,206.30L241.10,206.30L241.80,206.30L241.80,206.00L242.50,206.00L242.50,205.99L243.20,205.99L243.20,205.25L243.90,205.25L243.90,206.30L244.60,206.30L244.60,206.30L245.30,206.30L245.30,206.30L246.00,206.30L246.00,206.30L246.70,206.30L246.70,205.95L247.40,205.95L247.40,206.30L248.10,206.30L248.10,206.23L248.80,206.23L248.80,206.30L249.50,206.30L249.50,205.68L250.20,205.68L250.20,205.86L250.90,205.86L250.90,205.32L251.60,205.32L251.60,205.13L252.30,205.13L252.30,205.52L253.00,205.52L253.00,205.16L253.70,205.16L253.70,206.30L254.40,206.30L254.40,206.21L255.10,206.21L255.10,205.47L255.80,205.47L255.80,206.30L256.50,206.30L256.50,206.20L257.20,206.20L257.20,206.03L257.90,206.03L257.90,206.27L258.60,206.27L258.60,205.44L259.30,205.44L259.30,206.04L260.00,206.04L260.00,206.30L260.70,206.30L260.70,206.28L261.40,206.28L261.40,206.22L262.10,206.22L262.10,206.30L262.80,206.30L262.80,206.30L263.50,206.30L263.50,206.30L264.20,206.30L264.20,206.30L264.90,206.30L264.90,206.16L265.60,206.16L265.60,206.30L266.30,206.30L266.30,206.30L267.00,206.30L267.00,206.30L267.70,206.30L267.70,205.47L268.40,205.47L268.40,204.66L269.10,204.66L269.10,204.05L269.80,204.05L269.80,203.84L270.50,203.84L270.50,204.28L271.20,204.28L271.20,204.98L271.90,204.98L271.90,205.87L272.60,205.87L272.60,206.30L273.30,206.30L273.30,205.71L274.00,205.71L274.00,206.30L274.70,206.30L274.70,205.07L275.40,205.07L275.40,206.30L276.10,206.30L276.10,206.30L276.80,206.30L276.80,206.21L277.50,206.21L277.50,206.30L278.20,206.30L278.20,206.30L278.90,206.30L278.90,205.78L279.60,205.78L279.60,206.30L280.30,206.30L280.30,206.30L281.00,206.30L281.00,206.30L281.70,206.30L281.70,206.30L282.40,206.30L282.40,206.30L283.10,206.30L283.10,206.30L283.80,206.30L283.80,206.30L284.50,206.30L284.50,206.30L285.20,206.30L285.20,206.30L285.90,206.30L285.90,205.99L286.60,205.99L286.60,205.48L287.30,205.48L287.30,206.30L288.00,206.30L288.00,206.30L288.70,206.30L288.70,205.85L289.40,205.85L289.40,206.30L290.10,206.30L290.10,206.30L290.80,206.30L290.80,206.30L291.50,206.30L291.50,206.30L292.20,206.30L292.20,205.68L292.90,205.68L292.90,205.21L293.60,205.21L293.60,205.21L294.30,205.21L294.30,205.68L295.00,205.68L295.00,206.30L295.70,206.30L295.70,206.30L296.40,206.30L296.40,204.51L297.10,204.51L297.10,206.00L297.80,206.00L297.80,205.84L298.50,205.84L298.50,206.30L299.20,206.30L299.20,206.30L299.90,206.30L299.90,206.30L300.60,206.30L300.60,205.76L301.30,205.76L301.30,206.30L302.00,206.30L302.00,206.28L302.70,206.28L302.70,206.30L303.40,206.30L303.40,206.30L304.10,206.30L304.10,206.30L304.80,206.30L304.80,205.15L305.50,205.15L305.50,206.30L306.20,206.30L306.20,206.30L306.90,206.30L306.90,206.30L307.60,206.30L307.60,206.30L308.30,206.30L308.30,206.30L309.00,206.30L309.00,206.30L309.70,206.30L309.70,206.30L310.40,206.30L310.40,206.30L311.10,206.30L311.10,206.30L311.80,206.30L311.80,206.09L312.50,206.09L312.50,206.30L313.20,206.30L313.20,206.30L313.90,206.30L313.90,206.30L314.60,206.30L314.60,206.30L315.30,206.30L315.30,206.15L316.00,206.15L316.00,205.74L316.70,205.74L316.70,206.30L317.40,206.30L317.40,206.01L318.10,206.01L318.10,205.68L318.80,205.68L318.80,206.30L319.50,206.30L319.50,206.30L320.20,206.30L320.20,206.30L320.90,206.30L320.90,205.88L321.60,205.88L321.60,206.24L322.30,206.24L322.30,206.30L323.00,206.30L323.00,206.13L323.70,206.13L323.70,205.58L324.40,205.58L324.40,205.14L325.10,205.14L325.10,204.85L325.80,204.85L325.80,204.91L326.50,204.91L326.50,205.25L327.20,205.25L327.20,205.73L327.90,205.73L327.90,206.21L328.60,206.21L328.60,206.30L329.30,206.30L329.30,206.30L330.00,206.30L330.00,206.30L330.70,206.30L330.70,206.30L331.40,206.30L331.40,205.98L332.10,205.98L332.10,206.30L332.80,206.30L332.80,205.93L333.50,205.93L333.50,206.30L334.20,206.30L334.20,206.30L334.90,206.30L334.90,206.30L335.60,206.30L335.60,203.46L336.30,203.46L336.30,200.55L337.00,200.55L337.00,198.60L337.70,198.60L337.70,199.04L338.40,199.04L338.40,201.30L339.10,201.30L339.10,204.43L339.80,204.43L339.80,206.30L340.50,206.30L340.50,206.14L341.20,206.14L341.20,205.00L341.90,205.00L341.90,204.15L342.60,204.15L342.60,203.85L343.30,203.85L343.30,204.47L344.00,204.47L344.00,205.46L344.70,205.46L344.70,206.30L345.40,206.30L345.40,205.96L346.10,205.96L346.10,205.25L346.80,205.25L346.80,204.68L347.50,204.68L347.50,204.33L348.20,204.33L348.20,204.50L348.90,204.50L348.90,204.99L349.60,204.99L349.60,205.64L350.30,205.64L350.30,205.95L351.00,205.95L351.00,206.30L351.70,206.30L351.70,206.08L352.40,206.08L352.40,206.30L353.10,206.30L353.10,205.10L353.80,205.10L353.80,205.24L354.50,205.24L354.50,206.30L355.20,206.30L355.20,206.30L355.90,206.30L355.90,205.29L356.60,205.29L356.60,206.30L357.30,206.30L357.30,206.11L358.00,206.11L358.00,205.80L358.70,205.80L358.70,206.30L359.40,206.30L359.40,205.69L360.10,205.69L360.10,206.22L360.80,206.22L360.80,206.30L361.50,206.30L361.50,206.30L362.20,206.30L362.20,206.30L362.90,206.30L362.90,206.30L363.60,206.30L363.60,206.30L364.30,206.30L364.30,206.30L365.00,206.30L365.00,206.12L365.70,206.12L365.70,206.30L366.40,206.30L366.40,206.30L367.10,206.30L367.10,205.58L367.80,205.58L367.80,204.84L368.50,204.84L368.50,206.30L369.20,206.30L369.20,206.30L369.90,206.30L369.90,206.30L370.60,206.30L370.60,206.30L371.30,206.30L371.30,206.30L372.00,206.30L372.00,206.01L372.70,206.01L372.70,206.30L373.40,206.30L373.40,205.42L374.10,205.42L374.10,205.03L374.80,205.03L374.80,206.30L375.50,206.30L375.50,206.30L376.20,206.30L376.20,206.30L376.90,206.30L376.90,206.30L377.60,206.30L377.60,206.30L378.30,206.30L378.30,206.26L379.00,206.26L379.00,206.30L379.70,206.30L379.70,206.04L380.40,206.04L380.40,206.30L381.10,206.30L381.10,206.30L381.80,206.30L381.80,206.30L382.50,206.30L382.50,206.30L383.20,206.30L383.20,206.30L383.90,206.30L383.90,205.42L384.60,205.42L384.60,206.30L385.30,206.30L385.30,206.26L386.00,206.26L386.00,206.25L386.70,206.25L386.70,206.30L387.40,206.30L387.40,206.30L388.10,206.30L388.10,206.30L388.80,206.30L388.80,206.21L389.50,206.21L389.50,206.30L390.20,206.30L390.20,206.30L390.90,206.30L390.90,205.09L391.60,205.09L391.60,206.30L392.30,206.30L392.30,206.30L393.00,206.30L393.00,206.30L393.70,206.30L393.70,206.20L394.40,206.20L394.40,205.46L395.10,205.46L395.10,205.65L395.80,205.65L395.80,206.30L396.50,206.30L396.50,206.30L397.20,206.30L397.20,206.30L397.90,206.30L397.90,206.30L398.60,206.30L398.60,206.30L399.30,206.30L399.30,206.30L400.00,206.30L400.00,206.13L400.70,206.13L400.70,205.80L401.40,205.80L401.40,206.30L402.10,206.30L402.10,206.30L402.80,206.30L402.80,206.30L403.50,206.30L403.50,206.30L404.20,206.30L404.20,206.30L404.90,206.30L404.90,206.30L405.60,206.30L405.60,206.30L406.30,206.30L406.30,206.30L407.00,206.30L407.00,206.30L407.70,206.30L407.70,206.26L408.40,206.26L408.40,206.30L409.10,206.30L409.10,206.30L409.80,206.30L409.80,205.73L410.50,205.73L410.50,205.25L411.20,205.25L411.20,204.91L411.90,204.91L411.90,204.85L412.60,204.85L412.60,205.14L413.30,205.14L413.30,205.58L414.00,205.58L414.00,206.13L414.70,206.13L414.70,206.30L415.40,206.30L415.40,205.96L416.10,205.96L416.10,206.30L416.80,206.30L416.80,206.30L417.50,206.30L417.50,205.97L418.20,205.97L418.20,206.30L418.90,206.30L418.90,205.76L419.60,205.76L419.60,205.98L420.30,205.98L420.30,206.30L421.00,206.30L421.00,206.30L421.70,206.30L421.70,206.30L422.40,206.30L422.40,206.30L423.10,206.30L423.10,206.30L423.80,206.30L423.80,204.84L424.50,204.84L424.50,206.30L425.20,206.30L425.20,206.30L425.90,206.30L425.90,205.92L426.60,205.92L426.60,206.30L427.30,206.30L427.30,206.30L428.00,206.30L428.00,205.67L428.70,205.67L428.70,205.60L429.40,205.60L429.40,205.17L430.10,205.17L430.10,205.12L430.80,205.12L430.80,205.32L431.50,205.32L431.50,206.30L432.20,206.30L432.20,206.30L432.90,206.30L432.90,206.14L433.60,206.14L433.60,206.20L434.30,206.20L434.30,206.30L435.00,206.30L435.00,206.30L435.70,206.30L435.70,206.30L436.40,206.30L436.40,205.62L437.10,205.62L437.10,205.68L437.80,205.68L437.80,206.08L438.50,206.08L438.50,206.30L439.20,206.30L439.20,206.30L439.90,206.30L439.90,206.05L440.60,206.05L440.60,206.30L441.30,206.30L441.30,205.99L442.00,205.99L442.00,206.12L442.70,206.12L442.70,205.01L443.40,205.01L443.40,204.09L444.10,204.09L444.10,203.45L444.80,203.45L444.80,203.45L445.50,203.45L445.50,204.09L446.20,204.09L446.20,205.01L446.90,205.01L446.90,206.13L447.60,206.13L447.60,206.30L448.30,206.30L448.30,204.64L449.00,204.64L449.00,206.30L449.70,206.30L449.70,205.80L450.40,205.80L450.40,206.30L451.10,206.30L451.10,205.94L451.80,205.94L451.80,205.99L452.50,205.99L452.50,206.30L453.20,206.30L453.20,206.30L453.90,206.30L453.90,205.31L454.60,205.31L454.60,206.30L455.30,206.30L455.30,205.33L456.00,205.33L456.00,204.63L456.70,204.63L456.70,206.30L457.40,206.30L457.40,206.30L458.10,206.30L458.10,206.30L458.80,206.30L458.80,206.30L459.50,206.30L459.50,206.30L460.20,206.30L460.20,206.30L460.90,206.30L460.90,205.75L461.60,205.75L461.60,206.30L462.30,206.30L462.00,206.30Z" fill="#8c1c1a"/>
<path d="M85.00,233.00L85.00,233.00L85.70,233.00L85.70,232.91L86.40,232.91L86.40,233.00L87.10,233.00L87.10,233.00L87.80,233.00L87.80,233.00L88.50,233.00L88.50,233.00L89.20,233.00L89.20,233.00L89.90,233.00L89.90,233.00L90.60,233.00L90.60,233.00L91.30,233.00L91.30,233.00L92.00,233.00L92.00,232.87L92.70,232.87L92.70,231.96L93.40,231.96L93.40,231.28L94.10,231.28L94.10,231.04L94.80,231.04L94.80,231.54L95.50,231.54L95.50,232.32L96.20,232.32L96.20,233.00L96.90,233.00L96.90,232.23L97.60,232.23L97.60,231.99L98.30,231.99L98.30,233.00L99.00,233.00L99.00,232.35L99.70,232.35L99.70,233.00L100.40,233.00L100.40,232.45L101.10,232.45L101.10,231.78L101.80,231.78L101.80,232.65L102.50,232.65L102.50,232.25L103.20,232.25L103.20,231.92L103.90,231.92L103.90,231.66L104.60,231.66L104.60,231.50L105.30,231.50L105.30,231.63L106.00,231.63L106.00,231.88L106.70,231.88L106.70,232.20L107.40,232.20L107.40,232.59L108.10,232.59L108.10,233.00L108.80,233.00L108.80,233.00L109.50,233.00L109.50,233.00L110.20,233.00L110.20,233.00L110.90,233.00L110.90,232.93L111.60,232.93L111.60,233.00L112.30,233.00L112.30,233.00L113.00,233.00L113.00,233.00L113.70,233.00L113.70,232.90L114.40,232.90L114.40,232.22L115.10,232.22L115.10,231.71L115.80,231.71L115.80,231.53L116.50,231.53L116.50,231.90L117.20,231.90L117.20,232.49L117.90,232.49L117.90,233.00L118.60,233.00L118.60,233.00L119.30,233.00L119.30,233.00L120.00,233.00L120.00,232.46L120.70,232.46L120.70,231.90L121.40,231.90L121.40,233.00L122.10,233.00L122.10,233.00L122.80,233.00L122.80,233.00L123.50,233.00L123.50,233.00L124.20,233.00L124.20,233.00L124.90,233.00L124.90,233.00L125.60,233.00L125.60,232.44L126.30,232.44L126.30,231.77L127.00,231.77L127.00,231.26L127.70,231.26L127.70,231.01L128.40,231.01L128.40,231.32L129.10,231.32L129.10,231.86L129.80,231.86L129.80,232.08L130.50,232.08L130.50,231.36L131.20,231.36L131.20,231.01L131.90,231.01L131.90,231.45L132.60,231.45L132.60,232.20L133.30,232.20L133.30,233.00L134.00,233.00L134.00,233.00L134.70,233.00L134.70,233.00L135.40,233.00L135.40,232.91L136.10,232.91L136.10,232.90L136.80,232.90L136.80,233.00L137.50,233.00L137.50,232.86L138.20,232.86L138.20,233.00L138.90,233.00L138.90,232.80L139.60,232.80L139.60,232.44L140.30,232.44L140.30,230.00L141.00,230.00L141.00,233.00L141.70,233.00L141.70,233.00L142.40,233.00L142.40,233.00L143.10,233.00L143.10,229.91L143.80,229.91L143.80,225.17L144.50,225.17L144.50,221.49L145.20,221.49L145.20,219.34L145.90,219.34L145.90,221.06L146.60,221.06L146.60,224.58L147.30,224.58L147.30,229.18L148.00,229.18L148.00,230.54L148.70,230.54L148.70,228.30L149.40,228.30L149.40,224.43L150.10,224.43L150.10,221.61L150.80,221.61L150.80,221.08L151.50,221.08L151.50,223.50L152.20,223.50L152.20,227.10L152.90,227.10L152.90,227.96L153.60,227.96L153.60,227.02L154.30,227.02L154.30,227.77L155.00,227.77L155.00,229.31L155.70,229.31L155.70,230.05L156.40,230.05L156.40,230.64L157.10,230.64L157.10,233.00L157.80,233.00L157.80,232.29L158.50,232.29L158.50,232.19L159.20,232.19L159.20,232.77L159.90,232.77L159.90,231.99L160.60,231.99L160.60,231.97L161.30,231.97L161.30,233.00L162.00,233.00L162.00,232.47L162.70,232.47L162.70,233.00L163.40,233.00L163.40,232.13L164.10,232.13L164.10,232.99L164.80,232.99L164.80,233.00L165.50,233.00L165.50,233.00L166.20,233.00L166.20,233.00L166.90,233.00L166.90,232.63L167.60,232.63L167.60,233.00L168.30,233.00L168.30,233.00L169.00,233.00L169.00,233.00L169.70,233.00L169.70,233.00L170.40,233.00L170.40,233.00L171.10,233.00L171.10,232.90L171.80,232.90L171.80,233.00L172.50,233.00L172.50,233.00L173.20,233.00L173.20,233.00L173.90,233.00L173.90,233.00L174.60,233.00L174.60,233.00L175.30,233.00L175.30,233.00L176.00,233.00L176.00,232.75L176.70,232.75L176.70,232.10L177.40,232.10L177.40,233.00L178.10,233.00L178.10,232.49L178.80,232.49L178.80,231.90L179.50,231.90L179.50,231.53L180.20,231.53L180.20,231.71L180.90,231.71L180.90,232.22L181.60,232.22L181.60,232.90L182.30,232.90L182.30,233.00L183.00,233.00L183.00,232.91L183.70,232.91L183.70,232.07L184.40,232.07L184.40,231.83L185.10,231.83L185.10,232.09L185.80,232.09L185.80,231.84L186.50,231.84L186.50,233.00L187.20,233.00L187.20,233.00L187.90,233.00L187.90,233.00L188.60,233.00L188.60,233.00L189.30,233.00L189.30,233.00L190.00,233.00L190.00,233.00L190.70,233.00L190.70,232.05L191.40,232.05L191.40,233.00L192.10,233.00L192.10,232.91L192.80,232.91L192.80,233.00L193.50,233.00L193.50,233.00L194.20,233.00L194.20,233.00L194.90,233.00L194.90,233.00L195.60,233.00L195.60,233.00L196.30,233.00L196.30,231.62L197.00,231.62L197.00,230.54L197.70,230.54L197.70,230.01L198.40,230.01L198.40,230.67L199.10,230.67L199.10,231.80L199.80,231.80L199.80,233.00L200.50,233.00L200.50,233.00L201.20,233.00L201.20,232.45L201.90,232.45L201.90,232.86L202.60,232.86L202.60,233.00L203.30,233.00L203.30,232.95L204.00,232.95L204.00,233.00L204.70,233.00L204.70,233.00L205.40,233.00L205.40,232.74L206.10,232.74L206.10,233.00L206.80,233.00L206.80,233.00L207.50,233.00L207.50,232.48L208.20,232.48L208.20,231.68L208.90,231.68L208.90,233.00L209.60,233.00L209.60,232.58L210.30,232.58L210.30,232.08L211.00,232.08L211.00,231.69L211.70,231.69L211.70,231.50L212.40,231.50L212.40,231.74L213.10,231.74L213.10,232.14L213.80,232.14L213.80,232.58L214.50,232.58L214.50,233.00L215.20,233.00L215.20,232.91L215.90,232.91L215.90,232.35L216.60,232.35L216.60,231.90L217.30,231.90L217.30,231.58L218.00,231.58L218.00,231.58L218.70,231.58L218.70,231.90L219.40,231.90L219.40,231.88L220.10,231.88L220.10,232.91L220.80,232.91L220.80,233.00L221.50,233.00L221.50,233.00L222.20,233.00L222.20,233.00L222.90,233.00L222.90,233.00L223.60,233.00L223.60,233.00L224.30,233.00L224.30,233.00L225.00,233.00L225.00,231.53L225.70,231.53L225.70,233.00L226.40,233.00L226.40,232.32L227.10,232.32L227.10,230.90L227.80,230.90L227.80,229.77L228.50,229.77L228.50,229.06L229.20,229.06L229.20,229.40L229.90,229.40L229.90,230.37L230.60,230.37L230.60,231.67L231.30,231.67L231.30,233.00L232.00,233.00L232.00,233.00L232.70,233.00L232.70,233.00L233.40,233.00L233.40,233.00L234.10,233.00L234.10,233.00L234.80,233.00L234.80,233.00L235.50,233.00L235.50,233.00L236.20,233.00L236.20,233.00L236.90,233.00L236.90,233.00L237.60,233.00L237.60,233.00L238.30,233.00L238.30,233.00L239.00,233.00L239.00,232.90L239.70,232.90L239.70,233.00L240.40,233.00L240.40,232.84L241.10,232.84L241.10,233.00L241.80,233.00L241.80,232.63L242.50,232.63L242.50,232.12L243.20,232.12L243.20,232.19L243.90,232.19L243.90,232.22L244.60,232.22L244.60,233.00L245.30,233.00L245.30,233.00L246.00,233.00L246.00,230.91L246.70,230.91L246.70,232.78L247.40,232.78L247.40,232.66L248.10,232.66L248.10,232.59L248.80,232.59L248.80,233.00L249.50,233.00L249.50,233.00L250.20,233.00L250.20,233.00L250.90,233.00L250.90,230.85L251.60,230.85L251.60,233.00L252.30,233.00L252.30,233.00L253.00,233.00L253.00,232.82L253.70,232.82L253.70,233.00L254.40,233.00L254.40,233.00L255.10,233.00L255.10,232.69L255.80,232.69L255.80,233.00L256.50,233.00L256.50,232.88L257.20,232.88L257.20,232.64L257.90,232.64L257.90,233.00L258.60,233.00L258.60,232.67L259.30,232.67L259.30,232.76L260.00,232.76L260.00,233.00L260.70,233.00L260.70,232.95L261.40,232.95L261.40,233.00L262.10,233.00L262.10,232.68L262.80,232.68L262.80,233.00L263.50,233.00L263.50,233.00L264.20,233.00L264.20,233.00L264.90,233.00L264.90,233.00L265.60,233.00L265.60,232.79L266.30,232.79L266.30,232.83L267.00,232.83L267.00,232.86L267.70,232.86L267.70,231.59L268.40,231.59L268.40,231.44L269.10,231.44L269.10,230.42L269.80,230.42L269.80,230.06L270.50,230.06L270.50,230.81L271.20,230.81L271.20,231.99L271.90,231.99L271.90,233.00L272.60,233.00L272.60,233.00L273.30,233.00L273.30,233.00L274.00,233.00L274.00,233.00L274.70,233.00L274.70,232.95L275.40,232.95L275.40,233.00L276.10,233.00L276.10,233.00L276.80,233.00L276.80,231.48L277.50,231.48L277.50,232.71L278.20,232.71L278.20,232.74L278.90,232.74L278.90,233.00L279.60,233.00L279.60,233.00L280.30,233.00L280.30,233.00L281.00,233.00L281.00,233.00L281.70,233.00L281.70,233.00L282.40,233.00L282.40,232.75L283.10,232.75L283.10,233.00L283.80,233.00L283.80,233.00L284.50,233.00L284.50,231.87L285.20,231.87L285.20,232.43L285.90,232.43L285.90,232.38L286.60,232.38L286.60,231.11L287.30,231.11L287.30,230.21L288.00,230.21L288.00,230.21L288.70,230.21L288.70,231.11L289.40,231.11L289.40,232.38L290.10,232.38L290.10,233.00L290.80,233.00L290.80,233.00L291.50,233.00L291.50,233.00L292.20,233.00L292.20,233.00L292.90,233.00L292.90,233.00L293.60,233.00L293.60,233.00L294.30,233.00L294.30,233.00L295.00,233.00L295.00,232.67L295.70,232.67L295.70,233.00L296.40,233.00L296.40,232.92L297.10,232.92L297.10,232.45L297.80,232.45L297.80,233.00L298.50,233.00L298.50,233.00L299.20,233.00L299.20,233.00L299.90,233.00L299.90,232.77L300.60,232.77L300.60,233.00L301.30,233.00L301.30,232.86L302.00,232.86L302.00,233.00L302.70,233.00L302.70,232.96L303.40,232.96L303.40,233.00L304.10,233.00L304.10,232.72L304.80,232.72L304.80,233.00L305.50,233.00L305.50,233.00L306.20,233.00L306.20,233.00L306.90,233.00L306.90,233.00L307.60,233.00L307.60,232.38L308.30,232.38L308.30,233.00L309.00,233.00L309.00,233.00L309.70,233.00L309.70,233.00L310.40,233.00L310.40,233.00L311.10,233.00L311.10,233.00L311.80,233.00L311.80,233.00L312.50,233.00L312.50,232.51L313.20,232.51L313.20,232.45L313.90,232.45L313.90,233.00L314.60,233.00L314.60,233.00L315.30,233.00L315.30,232.38L316.00,232.38L316.00,233.00L316.70,233.00L316.70,233.00L317.40,233.00L317.40,233.00L318.10,233.00L318.10,232.26L318.80,232.26L318.80,231.05L319.50,231.05L319.50,232.99L320.20,232.99L320.20,233.00L320.90,233.00L320.90,231.48L321.60,231.48L321.60,233.00L322.30,233.00L322.30,231.98L323.00,231.98L323.00,232.15L323.70,232.15L323.70,231.59L324.40,231.59L324.40,233.00L325.10,233.00L325.10,229.50L325.80,229.50L325.80,230.33L326.50,230.33L326.50,230.23L327.20,230.23L327.20,229.53L327.90,229.53L327.90,230.48L328.60,230.48L328.60,230.16L329.30,230.16L329.30,228.64L330.00,228.64L330.00,227.68L330.70,227.68L330.70,228.14L331.40,228.14L331.40,229.45L332.10,229.45L332.10,230.21L332.80,230.21L332.80,227.68L333.50,227.68L333.50,229.58L334.20,229.58L334.20,228.94L334.90,228.94L334.90,229.22L335.60,229.22L335.60,224.67L336.30,224.67L336.30,218.27L337.00,218.27L337.00,213.97L337.70,213.97L337.70,214.92L338.40,214.92L338.40,219.92L339.10,219.92L339.10,226.80L339.80,226.80L339.80,227.53L340.50,227.53L340.50,228.04L341.20,228.04L341.20,221.11L341.90,221.11L341.90,215.93L342.60,215.93L342.60,214.10L343.30,214.10L343.30,217.90L344.00,217.90L344.00,223.89L344.70,223.89L344.70,228.58L345.40,228.58L345.40,224.21L346.10,224.21L346.10,216.97L346.80,216.97L346.80,211.71L347.50,211.71L347.50,210.71L348.20,210.71L348.20,215.23L348.90,215.23L348.90,216.78L349.60,216.78L349.60,213.36L350.30,213.36L350.30,216.11L351.00,216.11L351.00,221.72L351.70,221.72L351.70,226.27L352.40,226.27L352.40,224.31L353.10,224.31L353.10,224.74L353.80,224.74L353.80,227.02L354.50,227.02L354.50,228.86L355.20,228.86L355.20,224.53L355.90,224.53L355.90,221.19L356.60,221.19L356.60,221.19L357.30,221.19L357.30,224.53L358.00,224.53L358.00,222.51L358.70,222.51L358.70,217.74L359.40,217.74L359.40,216.84L360.10,216.84L360.10,220.93L360.80,220.93L360.80,227.04L361.50,227.04L361.50,227.90L362.20,227.90L362.20,222.89L362.90,222.89L362.90,219.14L363.60,219.14L363.60,217.82L364.30,217.82L364.30,220.56L365.00,220.56L365.00,224.90L365.70,224.90L365.70,227.98L366.40,227.98L366.40,227.86L367.10,227.86L367.10,229.59L367.80,229.59L367.80,227.98L368.50,227.98L368.50,227.98L369.20,227.98L369.20,229.59L369.90,229.59L369.90,228.57L370.60,228.57L370.60,227.62L371.30,227.62L371.30,228.80L372.00,228.80L372.00,230.84L372.70,230.84L372.70,233.00L373.40,233.00L373.40,233.00L374.10,233.00L374.10,233.00L374.80,233.00L374.80,231.35L375.50,231.35L375.50,232.87L376.20,232.87L376.20,233.00L376.90,233.00L376.90,232.66L377.60,232.66L377.60,231.95L378.30,231.95L378.30,231.38L379.00,231.38L379.00,231.03L379.70,231.03L379.70,231.20L380.40,231.20L380.40,231.66L381.10,231.66L381.10,232.18L381.80,232.18L381.80,233.00L382.50,233.00L382.50,232.76L383.20,232.76L383.20,232.68L383.90,232.68L383.90,231.43L384.60,231.43L384.60,230.48L385.30,230.48L385.30,230.01L386.00,230.01L386.00,230.59L386.70,230.59L386.70,231.59L387.40,231.59L387.40,232.88L388.10,232.88L388.10,233.00L388.80,233.00L388.80,232.92L389.50,232.92L389.50,233.00L390.20,233.00L390.20,233.00L390.90,233.00L390.90,231.96L391.60,231.96L391.60,233.00L392.30,233.00L392.30,233.00L393.00,233.00L393.00,232.74L393.70,232.74L393.70,232.21L394.40,232.21L394.40,231.79L395.10,231.79L395.10,231.52L395.80,231.52L395.80,231.65L396.50,231.65L396.50,232.01L397.20,232.01L397.20,232.50L397.90,232.50L397.90,233.00L398.60,233.00L398.60,233.00L399.30,233.00L399.30,233.00L400.00,233.00L400.00,232.71L400.70,232.71L400.70,232.53L401.40,232.53L401.40,233.00L402.10,233.00L402.10,233.00L402.80,233.00L402.80,232.94L403.50,232.94L403.50,233.00L404.20,233.00L404.20,233.00L404.90,233.00L404.90,233.00L405.60,233.00L405.60,232.83L406.30,232.83L406.30,232.49L407.00,232.49L407.00,233.00L407.70,233.00L407.70,233.00L408.40,233.00L408.40,233.00L409.10,233.00L409.10,232.95L409.80,232.95L409.80,233.00L410.50,233.00L410.50,233.00L411.20,233.00L411.20,232.81L411.90,232.81L411.90,233.00L412.60,233.00L412.60,233.00L413.30,233.00L413.30,233.00L414.00,233.00L414.00,233.00L414.70,233.00L414.70,233.00L415.40,233.00L415.40,233.00L416.10,233.00L416.10,231.72L416.80,231.72L416.80,233.00L417.50,233.00L417.50,232.66L418.20,232.66L418.20,232.14L418.90,232.14L418.90,231.74L419.60,231.74L419.60,231.50L420.30,231.50L420.30,231.69L421.00,231.69L421.00,232.08L421.70,232.08L421.70,232.58L422.40,232.58L422.40,233.00L423.10,233.00L423.10,231.96L423.80,231.96L423.80,232.46L424.50,232.46L424.50,232.61L425.20,232.61L425.20,232.17L425.90,232.17L425.90,232.64L426.60,232.64L426.60,233.00L427.30,233.00L427.30,233.00L428.00,233.00L428.00,233.00L428.70,233.00L428.70,233.00L429.40,233.00L429.40,233.00L430.10,233.00L430.10,233.00L430.80,233.00L430.80,233.00L431.50,233.00L431.50,232.24L432.20,232.24L432.20,233.00L432.90,233.00L432.90,233.00L433.60,233.00L433.60,232.82L434.30,232.82L434.30,233.00L435.00,233.00L435.00,233.00L435.70,233.00L435.70,233.00L436.40,233.00L436.40,232.41L437.10,232.41L437.10,233.00L437.80,233.00L437.80,232.31L438.50,232.31L438.50,233.00L439.20,233.00L439.20,233.00L439.90,233.00L439.90,233.00L440.60,233.00L440.60,233.00L441.30,233.00L441.30,232.74L442.00,232.74L442.00,233.00L442.70,233.00L442.70,232.42L443.40,232.42L443.40,233.00L444.10,233.00L444.10,233.00L444.80,233.00L444.80,232.24L445.50,232.24L445.50,231.61L446.20,231.61L446.20,231.15L446.90,231.15L446.90,231.06L447.60,231.06L447.60,231.45L448.30,231.45L448.30,232.04L449.00,232.04L449.00,232.77L449.70,232.77L449.70,232.80L450.40,232.80L450.40,233.00L451.10,233.00L451.10,231.74L451.80,231.74L451.80,233.00L452.50,233.00L452.50,233.00L453.20,233.00L453.20,233.00L453.90,233.00L453.90,233.00L454.60,233.00L454.60,233.00L455.30,233.00L455.30,233.00L456.00,233.00L456.00,232.82L456.70,232.82L456.70,232.87L457.40,232.87L457.40,233.00L458.10,233.00L458.10,233.00L458.80,233.00L458.80,233.00L459.50,233.00L459.50,233.00L460.20,233.00L460.20,233.00L460.90,233.00L460.90,233.00L461.60,233.00L461.60,233.00L462.30,233.00L462.00,233.00Z" fill="#8c1c1a"/>
<line x1="84.00" y1="206.40" x2="463.50" y2="206.40" stroke="#111" stroke-width="1.8"/>
<line x1="84.00" y1="233.20" x2="463.50" y2="233.20" stroke="#111" stroke-width="1.8"/>
<path d="M470.30,182.40H467.30V206.00H470.30" fill="none" stroke="#111" stroke-width="1.0"/>
<text x="470.70" y="187.70" font-size="11.3" fill="#111" stroke="#111" stroke-width="0.25">200</text>
<text x="470.70" y="207.30" font-size="11.3" fill="#111" stroke="#111" stroke-width="0.25">0</text>
<path d="M470.30,210.00H467.30V233.00H470.30" fill="none" stroke="#111" stroke-width="1.0"/>
<text x="470.70" y="216.70" font-size="11.3" fill="#111" stroke="#111" stroke-width="0.25">200</text>
<text x="470.70" y="236.30" font-size="11.3" fill="#111" stroke="#111" stroke-width="0.25">0</text>
<line x1="337.00" y1="245.00" x2="97.70" y2="289.20" stroke="#777" stroke-width="0.8"/>
<line x1="378.70" y1="245.00" x2="266.30" y2="289.20" stroke="#777" stroke-width="0.8"/>
<text x="503.50" y="10.60" font-size="18.5" fill="#111" font-weight="bold" stroke="#111" stroke-width="0.5">e</text>
<rect x="524.5" y="1" width="93" height="25" fill="none" stroke="#d23a5e" stroke-width="2"/>
<text x="533.20" y="18.10" font-size="13.2" fill="#111" stroke="#111" stroke-width="0.25">Allele biased</text>
<text x="525.00" y="42.80" font-size="11.3" fill="#8e3530" stroke="#8e3530" stroke-width="0.25">chr12:</text>
<text x="564.60" y="42.80" font-size="11.3" fill="#8e3530" stroke="#8e3530" stroke-width="0.25" font-style="italic">NUDT4</text>
<text x="610.00" y="42.80" font-size="11.3" fill="#8e3530" stroke="#8e3530" stroke-width="0.25">locus</text>
<rect x="531.60" y="51.70" width="40.90" height="221.00" fill="#f9e5d5"/>
<text x="772.80" y="48.20" font-size="11.3" fill="#111" stroke="#111" stroke-width="0.25">20 kb</text>
<line x1="808.80" y1="44.70" x2="885.80" y2="44.70" stroke="#111" stroke-width="1.6"/>
<line x1="808.80" y1="39.20" x2="808.80" y2="50.20" stroke="#111" stroke-width="1.6"/>
<line x1="885.80" y1="39.20" x2="885.80" y2="50.20" stroke="#111" stroke-width="1.6"/>
<text x="646.60" y="63.50" font-size="11.3" fill="#111" stroke="#111" stroke-width="0.25">93750000</text>
<line x1="707.80" y1="54.00" x2="707.80" y2="66.00" stroke="#111" stroke-width="1.4"/>
<text x="880.30" y="64.00" font-size="11.3" fill="#111" stroke="#111" stroke-width="0.25">Tag count</text>
<path d="M515.00,95.50L515.00,95.50L515.40,95.50L515.40,95.50L515.80,95.50L515.80,95.50L516.20,95.50L516.20,95.50L516.60,95.50L516.60,95.50L517.00,95.50L517.00,95.50L517.40,95.50L517.40,95.50L517.80,95.50L517.80,95.50L518.20,95.50L518.20,95.50L518.60,95.50L518.60,95.50L519.00,95.50L519.00,95.50L519.40,95.50L519.40,95.50L519.80,95.50L519.80,95.50L520.20,95.50L520.20,95.50L520.60,95.50L520.60,95.50L521.00,95.50L521.00,95.50L521.40,95.50L521.40,95.50L521.80,95.50L521.80,95.50L522.20,95.50L522.20,95.50L522.60,95.50L522.60,95.50L523.00,95.50L523.00,95.50L523.40,95.50L523.40,95.50L523.80,95.50L523.80,95.50L524.20,95.50L524.20,95.50L524.60,95.50L524.60,95.50L525.00,95.50L525.00,95.50L525.40,95.50L525.40,95.50L525.80,95.50L525.80,95.50L526.20,95.50L526.20,95.50L526.60,95.50L526.60,95.50L527.00,95.50L527.00,95.50L527.40,95.50L527.40,95.50L527.80,95.50L527.80,95.50L528.20,95.50L528.20,95.50L528.60,95.50L528.60,95.50L529.00,95.50L529.00,95.50L529.40,95.50L529.40,95.50L529.80,95.50L529.80,95.50L530.20,95.50L530.20,95.50L530.60,95.50L530.60,95.50L531.00,95.50L531.00,95.50L531.40,95.50L531.40,95.50L531.80,95.50L531.80,95.50L532.20,95.50L532.20,95.50L532.60,95.50L532.60,95.50L533.00,95.50L533.00,95.50L533.40,95.50L533.40,95.50L533.80,95.50L533.80,95.50L534.20,95.50L534.20,95.50L534.60,95.50L534.60,95.50L535.00,95.50L535.00,95.50L535.40,95.50L535.40,95.50L535.80,95.50L535.80,95.50L536.20,95.50L536.20,95.50L536.60,95.50L536.60,95.50L537.00,95.50L537.00,95.50L537.40,95.50L537.40,95.50L537.80,95.50L537.80,95.50L538.20,95.50L538.20,95.50L538.60,95.50L538.60,95.50L539.00,95.50L539.00,95.50L539.40,95.50L539.40,95.50L539.80,95.50L539.80,95.50L540.20,95.50L540.20,95.50L540.60,95.50L540.60,95.50L541.00,95.50L541.00,95.50L541.40,95.50L541.40,95.50L541.80,95.50L541.80,95.50L542.20,95.50L542.20,95.50L542.60,95.50L542.60,95.50L543.00,95.50L543.00,95.50L543.40,95.50L543.40,95.50L543.80,95.50L543.80,95.50L544.20,95.50L544.20,95.50L544.60,95.50L544.60,95.50L545.00,95.50L545.00,95.50L545.40,95.50L545.40,95.50L545.80,95.50L545.80,95.50L546.20,95.50L546.20,95.50L546.60,95.50L546.60,95.50L547.00,95.50L547.00,95.50L547.40,95.50L547.40,95.50L547.80,95.50L547.80,95.50L548.20,95.50L548.20,95.50L548.60,95.50L548.60,95.50L549.00,95.50L549.00,95.50L549.40,95.50L549.40,95.50L549.80,95.50L549.80,95.50L550.20,95.50L550.20,95.50L550.60,95.50L550.60,95.50L551.00,95.50L551.00,95.50L551.40,95.50L551.40,95.50L551.80,95.50L551.80,95.50L552.20,95.50L552.20,95.50L552.60,95.50L552.60,95.50L553.00,95.50L553.00,95.50L553.40,95.50L553.40,95.50L553.80,95.50L553.80,95.50L554.20,95.50L554.20,95.50L554.60,95.50L554.60,95.50L555.00,95.50L555.00,95.50L555.40,95.50L555.40,95.50L555.80,95.50L555.80,95.50L556.20,95.50L556.20,95.50L556.60,95.50L556.60,95.50L557.00,95.50L557.00,95.50L557.40,95.50L557.40,95.50L557.80,95.50L557.80,95.50L558.20,95.50L558.20,95.50L558.60,95.50L558.60,95.50L559.00,95.50L559.00,95.50L559.40,95.50L559.40,95.50L559.80,95.50L559.80,95.50L560.20,95.50L560.20,95.50L560.60,95.50L560.60,95.50L561.00,95.50L561.00,95.50L561.40,95.50L561.40,95.50L561.80,95.50L561.80,95.50L562.20,95.50L562.20,95.50L562.60,95.50L562.60,95.50L563.00,95.50L563.00,95.50L563.40,95.50L563.40,95.50L563.80,95.50L563.80,95.50L564.20,95.50L564.20,95.50L564.60,95.50L564.60,95.50L565.00,95.50L565.00,95.50L565.40,95.50L565.40,95.50L565.80,95.50L565.80,95.50L566.20,95.50L566.20,95.50L566.60,95.50L566.60,95.50L567.00,95.50L567.00,95.50L567.40,95.50L567.40,95.50L567.80,95.50L567.80,95.50L568.20,95.50L568.20,95.50L568.60,95.50L568.60,95.50L569.00,95.50L569.00,95.50L569.40,95.50L569.40,95.50L569.80,95.50L569.80,95.50L570.20,95.50L570.20,95.50L570.60,95.50L570.60,95.50L571.00,95.50L571.00,95.50L571.40,95.50L571.40,95.50L571.80,95.50L571.80,95.50L572.20,95.50L572.20,95.50L572.60,95.50L572.60,95.50L573.00,95.50L573.00,95.50L573.40,95.50L573.40,95.50L573.80,95.50L573.80,95.50L574.20,95.50L574.20,95.50L574.60,95.50L574.60,95.50L575.00,95.50L575.00,95.50L575.40,95.50L575.40,95.50L575.80,95.50L575.80,95.50L576.20,95.50L576.20,95.50L576.60,95.50L576.60,95.50L577.00,95.50L577.00,95.50L577.40,95.50L577.40,95.50L577.80,95.50L577.80,95.50L578.20,95.50L578.20,95.50L578.60,95.50L578.60,95.50L579.00,95.50L579.00,95.50L579.40,95.50L579.40,95.50L579.80,95.50L579.80,95.50L580.20,95.50L580.20,95.50L580.60,95.50L580.60,95.50L581.00,95.50L581.00,95.50L581.40,95.50L581.40,95.50L581.80,95.50L581.80,95.50L582.20,95.50L582.20,95.50L582.60,95.50L582.60,95.50L583.00,95.50L583.00,95.50L583.40,95.50L583.40,95.50L583.80,95.50L583.80,95.50L584.20,95.50L584.20,95.50L584.60,95.50L584.60,95.50L585.00,95.50L585.00,95.50L585.40,95.50L585.40,95.50L585.80,95.50L585.80,95.50L586.20,95.50L586.20,95.50L586.60,95.50L586.60,95.50L587.00,95.50L587.00,95.50L587.40,95.50L587.40,95.50L587.80,95.50L587.80,95.50L588.20,95.50L588.20,95.50L588.60,95.50L588.60,95.50L589.00,95.50L589.00,95.50L589.40,95.50L589.40,95.50L589.80,95.50L589.80,95.50L590.20,95.50L590.20,95.50L590.60,95.50L590.60,95.50L591.00,95.50L591.00,95.50L591.40,95.50L591.40,95.50L591.80,95.50L591.80,95.50L592.20,95.50L592.20,95.50L592.60,95.50L592.60,95.50L593.00,95.50L593.00,95.50L593.40,95.50L593.40,95.50L593.80,95.50L593.80,95.50L594.20,95.50L594.20,95.50L594.60,95.50L594.60,95.50L595.00,95.50L595.00,95.50L595.40,95.50L595.40,95.50L595.80,95.50L595.80,95.50L596.20,95.50L596.20,95.50L596.60,95.50L596.60,95.50L597.00,95.50L597.00,95.50L597.40,95.50L597.40,95.50L597.80,95.50L597.80,95.50L598.20,95.50L598.20,95.50L598.60,95.50L598.60,95.50L599.00,95.50L599.00,95.50L599.40,95.50L599.40,95.50L599.80,95.50L599.80,95.50L600.20,95.50L600.20,95.50L600.60,95.50L600.60,95.50L601.00,95.50L601.00,95.50L601.40,95.50L601.40,95.50L601.80,95.50L601.80,95.50L602.20,95.50L602.20,95.50L602.60,95.50L602.60,95.50L603.00,95.50L603.00,95.50L603.40,95.50L603.40,95.50L603.80,95.50L603.80,95.50L604.20,95.50L604.20,95.50L604.60,95.50L604.60,95.50L605.00,95.50L605.00,95.50L605.40,95.50L605.40,95.50L605.80,95.50L605.80,95.50L606.20,95.50L606.20,95.50L606.60,95.50L606.60,95.50L607.00,95.50L607.00,95.50L607.40,95.50L607.40,95.50L607.80,95.50L607.80,95.50L608.20,95.50L608.20,95.50L608.60,95.50L608.60,95.50L609.00,95.50L609.00,95.50L609.40,95.50L609.40,95.50L609.80,95.50L609.80,95.50L610.20,95.50L610.20,95.50L610.60,95.50L610.60,95.50L611.00,95.50L611.00,95.50L611.40,95.50L611.40,95.50L611.80,95.50L611.80,95.50L612.20,95.50L612.20,95.50L612.60,95.50L612.60,95.50L613.00,95.50L613.00,95.50L613.40,95.50L613.40,95.50L613.80,95.50L613.80,95.50L614.20,95.50L614.20,95.50L614.60,95.50L614.60,95.50L615.00,95.50L615.00,95.50L615.40,95.50L615.40,95.50L615.80,95.50L615.80,95.50L616.20,95.50L616.20,95.50L616.60,95.50L616.60,95.50L617.00,95.50L617.00,95.50L617.40,95.50L617.40,95.50L617.80,95.50L617.80,95.50L618.20,95.50L618.20,95.50L618.60,95.50L618.60,95.50L619.00,95.50L619.00,95.50L619.40,95.50L619.40,95.50L619.80,95.50L619.80,95.50L620.20,95.50L620.20,95.50L620.60,95.50L620.60,95.50L621.00,95.50L621.00,95.50L621.40,95.50L621.40,95.50L621.80,95.50L621.80,95.50L622.20,95.50L622.20,95.50L622.60,95.50L622.60,95.50L623.00,95.50L623.00,95.50L623.40,95.50L623.40,95.50L623.80,95.50L623.80,95.50L624.20,95.50L624.20,95.50L624.60,95.50L624.60,95.50L625.00,95.50L625.00,95.50L625.40,95.50L625.40,95.50L625.80,95.50L625.80,95.50L626.20,95.50L626.20,95.50L626.60,95.50L626.60,95.50L627.00,95.50L627.00,95.50L627.40,95.50L627.40,95.50L627.80,95.50L627.80,95.50L628.20,95.50L628.20,95.50L628.60,95.50L628.60,95.50L629.00,95.50L629.00,95.50L629.40,95.50L629.40,95.50L629.80,95.50L629.80,95.50L630.20,95.50L630.20,95.50L630.60,95.50L630.60,95.50L631.00,95.50L631.00,95.50L631.40,95.50L631.40,95.50L631.80,95.50L631.80,95.50L632.20,95.50L632.20,95.50L632.60,95.50L632.60,95.50L633.00,95.50L633.00,95.50L633.40,95.50L633.40,95.50L633.80,95.50L633.80,95.50L634.20,95.50L634.20,95.50L634.60,95.50L634.60,95.50L635.00,95.50L635.00,95.50L635.40,95.50L635.40,95.50L635.80,95.50L635.80,95.50L636.20,95.50L636.20,95.50L636.60,95.50L636.60,95.50L637.00,95.50L637.00,95.50L637.40,95.50L637.40,95.50L637.80,95.50L637.80,95.50L638.20,95.50L638.20,95.50L638.60,95.50L638.60,95.50L639.00,95.50L639.00,95.50L639.40,95.50L639.40,95.50L639.80,95.50L639.80,95.50L640.20,95.50L640.20,95.50L640.60,95.50L640.60,95.50L641.00,95.50L641.00,95.50L641.40,95.50L641.40,95.50L641.80,95.50L641.80,95.50L642.20,95.50L642.20,95.50L642.60,95.50L642.60,95.50L643.00,95.50L643.00,95.50L643.40,95.50L643.40,95.50L643.80,95.50L643.80,95.50L644.20,95.50L644.20,95.50L644.60,95.50L644.60,95.50L645.00,95.50L645.00,95.50L645.40,95.50L645.40,95.50L645.80,95.50L645.80,95.50L646.20,95.50L646.20,95.50L646.60,95.50L646.60,95.50L647.00,95.50L647.00,95.50L647.40,95.50L647.40,95.50L647.80,95.50L647.80,95.50L648.20,95.50L648.20,95.50L648.60,95.50L648.60,95.50L649.00,95.50L649.00,95.50L649.40,95.50L649.40,95.50L649.80,95.50L649.80,95.50L650.20,95.50L650.20,95.50L650.60,95.50L650.60,95.50L651.00,95.50L651.00,95.50L651.40,95.50L651.40,95.50L651.80,95.50L651.80,95.50L652.20,95.50L652.20,94.30L652.60,94.30L652.60,90.84L653.00,90.84L653.00,92.27L653.40,92.27L653.40,95.50L653.80,95.50L653.80,95.50L654.20,95.50L654.20,95.50L654.60,95.50L654.60,95.50L655.00,95.50L655.00,95.50L655.40,95.50L655.40,95.50L655.80,95.50L655.80,95.50L656.20,95.50L656.20,95.50L656.60,95.50L656.60,95.50L657.00,95.50L657.00,95.50L657.40,95.50L657.40,95.50L657.80,95.50L657.80,95.50L658.20,95.50L658.20,95.50L658.60,95.50L658.60,95.50L659.00,95.50L659.00,95.50L659.40,95.50L659.40,95.50L659.80,95.50L659.80,95.50L660.20,95.50L660.20,95.50L660.60,95.50L660.60,95.50L661.00,95.50L661.00,95.50L661.40,95.50L661.40,95.50L661.80,95.50L661.80,95.50L662.20,95.50L662.20,95.50L662.60,95.50L662.60,95.50L663.00,95.50L663.00,95.50L663.40,95.50L663.40,95.50L663.80,95.50L663.80,95.50L664.20,95.50L664.20,95.50L664.60,95.50L664.60,95.50L665.00,95.50L665.00,95.50L665.40,95.50L665.40,95.50L665.80,95.50L665.80,95.50L666.20,95.50L666.20,95.50L666.60,95.50L666.60,95.50L667.00,95.50L667.00,95.50L667.40,95.50L667.40,95.50L667.80,95.50L667.80,95.50L668.20,95.50L668.20,95.50L668.60,95.50L668.60,95.50L669.00,95.50L669.00,95.50L669.40,95.50L669.40,95.50L669.80,95.50L669.80,95.50L670.20,95.50L670.20,95.50L670.60,95.50L670.60,95.50L671.00,95.50L671.00,95.50L671.40,95.50L671.40,95.50L671.80,95.50L671.80,95.50L672.20,95.50L672.20,95.50L672.60,95.50L672.60,95.50L673.00,95.50L673.00,95.50L673.40,95.50L673.40,95.50L673.80,95.50L673.80,95.50L674.20,95.50L674.20,95.50L674.60,95.50L674.60,95.50L675.00,95.50L675.00,95.50L675.40,95.50L675.40,95.50L675.80,95.50L675.80,95.50L676.20,95.50L676.20,95.50L676.60,95.50L676.60,95.50L677.00,95.50L677.00,95.50L677.40,95.50L677.40,95.50L677.80,95.50L677.80,95.50L678.20,95.50L678.20,95.50L678.60,95.50L678.60,95.50L679.00,95.50L679.00,95.50L679.40,95.50L679.40,95.50L679.80,95.50L679.80,95.50L680.20,95.50L680.20,95.50L680.60,95.50L680.60,95.50L681.00,95.50L681.00,95.50L681.40,95.50L681.40,95.50L681.80,95.50L681.80,95.50L682.20,95.50L682.20,95.50L682.60,95.50L682.60,95.50L683.00,95.50L683.00,95.50L683.40,95.50L683.40,95.50L683.80,95.50L683.80,95.50L684.20,95.50L684.20,95.50L684.60,95.50L684.60,95.50L685.00,95.50L685.00,95.50L685.40,95.50L685.40,95.50L685.80,95.50L685.80,95.50L686.20,95.50L686.20,95.50L686.60,95.50L686.60,95.50L687.00,95.50L687.00,95.50L687.40,95.50L687.40,95.50L687.80,95.50L687.80,95.50L688.20,95.50L688.20,95.50L688.60,95.50L688.60,95.50L689.00,95.50L689.00,95.50L689.40,95.50L689.40,95.50L689.80,95.50L689.80,95.50L690.20,95.50L690.20,95.50L690.60,95.50L690.60,95.50L691.00,95.50L691.00,95.50L691.40,95.50L691.40,95.50L691.80,95.50L691.80,95.50L692.20,95.50L692.20,95.50L692.60,95.50L692.60,95.50L693.00,95.50L693.00,95.50L693.40,95.50L693.40,95.50L693.80,95.50L693.80,95.50L694.20,95.50L694.20,95.50L694.60,95.50L694.60,95.50L695.00,95.50L695.00,95.50L695.40,95.50L695.40,95.50L695.80,95.50L695.80,95.50L696.20,95.50L696.20,95.50L696.60,95.50L696.60,95.50L697.00,95.50L697.00,95.50L697.40,95.50L697.40,95.50L697.80,95.50L697.80,95.50L698.20,95.50L698.20,95.50L698.60,95.50L698.60,95.50L699.00,95.50L699.00,95.50L699.40,95.50L699.40,95.50L699.80,95.50L699.80,95.50L700.20,95.50L700.20,95.50L700.60,95.50L700.60,95.50L701.00,95.50L701.00,95.50L701.40,95.50L701.40,95.50L701.80,95.50L701.80,95.50L702.20,95.50L702.20,95.50L702.60,95.50L702.60,95.50L703.00,95.50L703.00,95.50L703.40,95.50L703.40,95.50L703.80,95.50L703.80,95.50L704.20,95.50L704.20,95.50L704.60,95.50L704.60,95.50L705.00,95.50L705.00,95.50L705.40,95.50L705.40,95.50L705.80,95.50L705.80,95.50L706.20,95.50L706.20,95.50L706.60,95.50L706.60,95.50L707.00,95.50L707.00,95.50L707.40,95.50L707.40,95.50L707.80,95.50L707.80,95.50L708.20,95.50L708.20,95.50L708.60,95.50L708.60,95.50L709.00,95.50L709.00,95.50L709.40,95.50L709.40,95.50L709.80,95.50L709.80,95.50L710.20,95.50L710.20,95.50L710.60,95.50L710.60,95.50L711.00,95.50L711.00,95.50L711.40,95.50L711.40,95.50L711.80,95.50L711.80,95.50L712.20,95.50L712.20,95.50L712.60,95.50L712.60,95.50L713.00,95.50L713.00,95.50L713.40,95.50L713.40,95.50L713.80,95.50L713.80,95.50L714.20,95.50L714.20,95.50L714.60,95.50L714.60,95.50L715.00,95.50L715.00,95.50L715.40,95.50L715.40,95.50L715.80,95.50L715.80,95.50L716.20,95.50L716.20,95.50L716.60,95.50L716.60,95.50L717.00,95.50L717.00,95.50L717.40,95.50L717.40,95.50L717.80,95.50L717.80,95.50L718.20,95.50L718.20,95.50L718.60,95.50L718.60,95.50L719.00,95.50L719.00,95.50L719.40,95.50L719.40,95.50L719.80,95.50L719.80,95.50L720.20,95.50L720.20,95.50L720.60,95.50L720.60,95.50L721.00,95.50L721.00,95.50L721.40,95.50L721.40,95.50L721.80,95.50L721.80,95.50L722.20,95.50L722.20,95.50L722.60,95.50L722.60,95.50L723.00,95.50L723.00,95.50L723.40,95.50L723.40,95.50L723.80,95.50L723.80,95.50L724.20,95.50L724.20,95.50L724.60,95.50L724.60,95.50L725.00,95.50L725.00,95.50L725.40,95.50L725.40,95.50L725.80,95.50L725.80,95.50L726.20,95.50L726.20,95.50L726.60,95.50L726.60,95.50L727.00,95.50L727.00,95.50L727.40,95.50L727.40,95.50L727.80,95.50L727.80,95.50L728.20,95.50L728.20,95.50L728.60,95.50L728.60,95.50L729.00,95.50L729.00,95.50L729.40,95.50L729.40,95.50L729.80,95.50L729.80,95.50L730.20,95.50L730.20,95.50L730.60,95.50L730.60,95.50L731.00,95.50L731.00,95.50L731.40,95.50L731.40,95.50L731.80,95.50L731.80,95.50L732.20,95.50L732.20,95.50L732.60,95.50L732.60,95.50L733.00,95.50L733.00,95.50L733.40,95.50L733.40,95.50L733.80,95.50L733.80,95.50L734.20,95.50L734.20,95.50L734.60,95.50L734.60,95.50L735.00,95.50L735.00,95.50L735.40,95.50L735.40,95.50L735.80,95.50L735.80,95.50L736.20,95.50L736.20,95.50L736.60,95.50L736.60,95.50L737.00,95.50L737.00,95.50L737.40,95.50L737.40,95.50L737.80,95.50L737.80,95.50L738.20,95.50L738.20,95.50L738.60,95.50L738.60,95.50L739.00,95.50L739.00,95.50L739.40,95.50L739.40,95.50L739.80,95.50L739.80,95.50L740.20,95.50L740.20,95.50L740.60,95.50L740.60,95.50L741.00,95.50L741.00,95.50L741.40,95.50L741.40,95.50L741.80,95.50L741.80,95.50L742.20,95.50L742.20,95.50L742.60,95.50L742.60,95.50L743.00,95.50L743.00,95.50L743.40,95.50L743.40,95.50L743.80,95.50L743.80,95.50L744.20,95.50L744.20,95.50L744.60,95.50L744.60,95.50L745.00,95.50L745.00,95.50L745.40,95.50L745.40,95.50L745.80,95.50L745.80,95.50L746.20,95.50L746.20,95.50L746.60,95.50L746.60,95.50L747.00,95.50L747.00,95.50L747.40,95.50L747.40,95.50L747.80,95.50L747.80,95.50L748.20,95.50L748.20,95.50L748.60,95.50L748.60,95.50L749.00,95.50L749.00,95.50L749.40,95.50L749.40,95.50L749.80,95.50L749.80,95.50L750.20,95.50L750.20,95.50L750.60,95.50L750.60,95.50L751.00,95.50L751.00,95.50L751.40,95.50L751.40,95.50L751.80,95.50L751.80,95.50L752.20,95.50L752.20,95.50L752.60,95.50L752.60,95.50L753.00,95.50L753.00,95.50L753.40,95.50L753.40,95.50L753.80,95.50L753.80,95.50L754.20,95.50L754.20,95.50L754.60,95.50L754.60,95.50L755.00,95.50L755.00,95.50L755.40,95.50L755.40,95.50L755.80,95.50L755.80,95.50L756.20,95.50L756.20,95.50L756.60,95.50L756.60,95.50L757.00,95.50L757.00,95.50L757.40,95.50L757.40,95.50L757.80,95.50L757.80,95.50L758.20,95.50L758.20,95.50L758.60,95.50L758.60,95.50L759.00,95.50L759.00,95.50L759.40,95.50L759.40,95.50L759.80,95.50L759.80,95.50L760.20,95.50L760.20,95.50L760.60,95.50L760.60,95.50L761.00,95.50L761.00,95.50L761.40,95.50L761.40,95.50L761.80,95.50L761.80,95.50L762.20,95.50L762.20,95.50L762.60,95.50L762.60,95.50L763.00,95.50L763.00,95.50L763.40,95.50L763.40,95.50L763.80,95.50L763.80,95.50L764.20,95.50L764.20,95.50L764.60,95.50L764.60,95.50L765.00,95.50L765.00,95.50L765.40,95.50L765.40,95.50L765.80,95.50L765.80,95.50L766.20,95.50L766.20,95.50L766.60,95.50L766.60,95.50L767.00,95.50L767.00,95.50L767.40,95.50L767.40,95.50L767.80,95.50L767.80,95.50L768.20,95.50L768.20,95.50L768.60,95.50L768.60,95.50L769.00,95.50L769.00,95.50L769.40,95.50L769.40,95.50L769.80,95.50L769.80,95.50L770.20,95.50L770.20,95.50L770.60,95.50L770.60,95.50L771.00,95.50L771.00,95.50L771.40,95.50L771.40,95.50L771.80,95.50L771.80,95.50L772.20,95.50L772.20,95.50L772.60,95.50L772.60,95.50L773.00,95.50L773.00,95.50L773.40,95.50L773.40,95.50L773.80,95.50L773.80,95.50L774.20,95.50L774.20,95.50L774.60,95.50L774.60,95.50L775.00,95.50L775.00,95.50L775.40,95.50L775.40,95.50L775.80,95.50L775.80,95.50L776.20,95.50L776.20,95.50L776.60,95.50L776.60,95.50L777.00,95.50L777.00,95.50L777.40,95.50L777.40,95.50L777.80,95.50L777.80,95.50L778.20,95.50L778.20,95.50L778.60,95.50L778.60,95.50L779.00,95.50L779.00,95.50L779.40,95.50L779.40,95.50L779.80,95.50L779.80,95.50L780.20,95.50L780.20,95.50L780.60,95.50L780.60,95.50L781.00,95.50L781.00,95.50L781.40,95.50L781.40,95.50L781.80,95.50L781.80,95.50L782.20,95.50L782.20,95.50L782.60,95.50L782.60,95.50L783.00,95.50L783.00,95.50L783.40,95.50L783.40,95.50L783.80,95.50L783.80,95.50L784.20,95.50L784.20,95.50L784.60,95.50L784.60,95.50L785.00,95.50L785.00,95.50L785.40,95.50L785.40,95.50L785.80,95.50L785.80,95.50L786.20,95.50L786.20,95.50L786.60,95.50L786.60,95.50L787.00,95.50L787.00,95.50L787.40,95.50L787.40,95.50L787.80,95.50L787.80,95.50L788.20,95.50L788.20,95.50L788.60,95.50L788.60,95.50L789.00,95.50L789.00,95.50L789.40,95.50L789.40,95.50L789.80,95.50L789.80,95.50L790.20,95.50L790.20,95.50L790.60,95.50L790.60,95.50L791.00,95.50L791.00,95.50L791.40,95.50L791.40,95.50L791.80,95.50L791.80,85.71L792.20,85.71L792.20,85.14L792.60,85.14L792.60,84.16L793.00,84.16L793.00,84.71L793.40,84.71L793.40,95.50L793.80,95.50L793.80,95.50L794.20,95.50L794.20,95.50L794.60,95.50L794.60,95.50L795.00,95.50L795.00,95.50L795.40,95.50L795.40,95.50L795.80,95.50L795.80,95.50L796.20,95.50L796.20,95.50L796.60,95.50L796.60,95.50L797.00,95.50L797.00,95.50L797.40,95.50L797.40,95.50L797.80,95.50L797.80,95.50L798.20,95.50L798.20,95.50L798.60,95.50L798.60,95.50L799.00,95.50L799.00,95.50L799.40,95.50L799.40,95.50L799.80,95.50L799.80,95.50L800.20,95.50L800.20,95.50L800.60,95.50L800.60,95.50L801.00,95.50L801.00,95.50L801.40,95.50L801.40,95.50L801.80,95.50L801.80,95.50L802.20,95.50L802.20,95.50L802.60,95.50L802.60,95.50L803.00,95.50L803.00,95.50L803.40,95.50L803.40,95.50L803.80,95.50L803.80,95.50L804.20,95.50L804.20,95.50L804.60,95.50L804.60,95.50L805.00,95.50L805.00,95.50L805.40,95.50L805.40,95.50L805.80,95.50L805.80,95.50L806.20,95.50L806.20,95.50L806.60,95.50L806.60,95.50L807.00,95.50L807.00,95.50L807.40,95.50L807.40,95.50L807.80,95.50L807.80,95.50L808.20,95.50L808.20,95.50L808.60,95.50L808.60,95.50L809.00,95.50L809.00,95.50L809.40,95.50L809.40,95.50L809.80,95.50L809.80,95.50L810.20,95.50L810.20,95.50L810.60,95.50L810.60,95.50L811.00,95.50L811.00,95.50L811.40,95.50L811.40,95.50L811.80,95.50L811.80,95.50L812.20,95.50L812.20,95.50L812.60,95.50L812.60,95.50L813.00,95.50L813.00,95.50L813.40,95.50L813.40,95.50L813.80,95.50L813.80,95.50L814.20,95.50L814.20,95.50L814.60,95.50L814.60,95.50L815.00,95.50L815.00,95.50L815.40,95.50L815.40,95.50L815.80,95.50L815.80,95.50L816.20,95.50L816.20,95.50L816.60,95.50L816.60,95.50L817.00,95.50L817.00,95.50L817.40,95.50L817.40,95.50L817.80,95.50L817.80,95.50L818.20,95.50L818.20,95.50L818.60,95.50L818.60,95.50L819.00,95.50L819.00,95.50L819.40,95.50L819.40,95.50L819.80,95.50L819.80,95.50L820.20,95.50L820.20,95.50L820.60,95.50L820.60,95.50L821.00,95.50L821.00,95.50L821.40,95.50L821.40,95.50L821.80,95.50L821.80,95.50L822.20,95.50L822.20,95.50L822.60,95.50L822.60,95.50L823.00,95.50L823.00,95.50L823.40,95.50L823.40,95.50L823.80,95.50L823.80,95.50L824.20,95.50L824.20,95.50L824.60,95.50L824.60,95.50L825.00,95.50L825.00,95.50L825.40,95.50L825.40,95.50L825.80,95.50L825.80,95.50L826.20,95.50L826.20,95.50L826.60,95.50L826.60,95.50L827.00,95.50L827.00,95.50L827.40,95.50L827.40,95.50L827.80,95.50L827.80,95.50L828.20,95.50L828.20,95.50L828.60,95.50L828.60,95.50L829.00,95.50L829.00,95.50L829.40,95.50L829.40,95.50L829.80,95.50L829.80,95.50L830.20,95.50L830.20,95.50L830.60,95.50L830.60,95.50L831.00,95.50L831.00,95.50L831.40,95.50L831.40,95.50L831.80,95.50L831.80,95.50L832.20,95.50L832.20,95.50L832.60,95.50L832.60,95.50L833.00,95.50L833.00,95.50L833.40,95.50L833.40,95.50L833.80,95.50L833.80,95.50L834.20,95.50L834.20,95.50L834.60,95.50L834.60,95.50L835.00,95.50L835.00,95.50L835.40,95.50L835.40,95.50L835.80,95.50L835.80,95.50L836.20,95.50L836.20,95.50L836.60,95.50L836.60,95.50L837.00,95.50L837.00,95.50L837.40,95.50L837.40,95.50L837.80,95.50L837.80,95.50L838.20,95.50L838.20,95.50L838.60,95.50L838.60,95.50L839.00,95.50L839.00,95.50L839.40,95.50L839.40,95.50L839.80,95.50L839.80,95.50L840.20,95.50L840.20,95.50L840.60,95.50L840.60,95.50L841.00,95.50L841.00,95.50L841.40,95.50L841.40,95.50L841.80,95.50L841.80,95.50L842.20,95.50L842.20,95.50L842.60,95.50L842.60,95.50L843.00,95.50L843.00,95.50L843.40,95.50L843.40,95.50L843.80,95.50L843.80,95.50L844.20,95.50L844.20,95.50L844.60,95.50L844.60,95.50L845.00,95.50L845.00,95.50L845.40,95.50L845.40,95.50L845.80,95.50L845.80,95.50L846.20,95.50L846.20,95.50L846.60,95.50L846.60,95.50L847.00,95.50L847.00,95.50L847.40,95.50L847.40,95.50L847.80,95.50L847.80,95.50L848.20,95.50L848.20,95.50L848.60,95.50L848.60,95.50L849.00,95.50L849.00,95.50L849.40,95.50L849.40,95.50L849.80,95.50L849.80,95.50L850.20,95.50L850.20,95.50L850.60,95.50L850.60,95.50L851.00,95.50L851.00,95.50L851.40,95.50L851.40,95.50L851.80,95.50L851.80,95.50L852.20,95.50L852.20,95.50L852.60,95.50L852.60,95.50L853.00,95.50L853.00,95.50L853.40,95.50L853.40,95.50L853.80,95.50L853.80,95.50L854.20,95.50L854.20,95.50L854.60,95.50L854.60,95.50L855.00,95.50L855.00,95.50L855.40,95.50L855.40,95.50L855.80,95.50L855.80,88.35L856.20,88.35L856.20,88.07L856.60,88.07L856.60,88.39L857.00,88.39L857.00,95.50L857.40,95.50L857.40,95.50L857.80,95.50L857.80,95.50L858.20,95.50L858.20,95.50L858.60,95.50L858.60,81.98L859.00,81.98L859.00,82.65L859.40,82.65L859.40,82.58L859.80,82.58L859.80,95.50L860.20,95.50L860.20,95.50L860.60,95.50L860.60,95.50L861.00,95.50L861.00,95.50L861.40,95.50L861.40,95.50L861.80,95.50L861.80,95.50L862.20,95.50L862.20,95.50L862.60,95.50L862.60,95.50L863.00,95.50L863.00,95.50L863.40,95.50L863.40,95.50L863.80,95.50L863.80,95.50L864.20,95.50L864.20,95.50L864.60,95.50L864.60,95.50L865.00,95.50L865.00,95.50L865.40,95.50L865.40,95.50L865.80,95.50L865.80,95.50L866.20,95.50L866.20,95.50L866.60,95.50L866.60,95.50L867.00,95.50L867.00,95.50L867.40,95.50L867.40,95.50L867.80,95.50L867.80,95.50L868.20,95.50L868.20,95.50L868.60,95.50L868.60,95.50L869.00,95.50L869.00,95.50L869.40,95.50L869.40,95.50L869.80,95.50L869.80,95.50L870.20,95.50L870.20,95.50L870.60,95.50L870.60,77.44L871.00,77.44L871.00,76.84L871.40,76.84L871.40,78.20L871.80,78.20L871.80,77.03L872.20,77.03L872.20,76.65L872.60,76.65L872.60,78.52L873.00,78.52L873.00,75.58L873.40,75.58L873.40,78.62L873.80,78.62L873.80,76.61L874.20,76.61L874.20,78.47L874.60,78.47L874.60,76.98L875.00,76.98L875.00,70.73L875.40,70.73L875.40,70.99L875.80,70.99L875.80,70.59L876.20,70.59L876.20,70.53L876.60,70.53L876.60,72.20L877.00,72.20L877.00,70.06L877.40,70.06L877.40,72.27L877.80,72.27L877.80,72.22L878.20,72.22L878.20,71.36L878.60,71.36L878.60,72.23L879.00,72.23L879.00,72.35L879.40,72.35L879.40,72.22L879.80,72.22L879.80,71.62L880.20,71.62L880.20,71.49L880.60,71.49L880.60,70.28L881.00,70.28L881.00,71.12L881.40,71.12L881.40,72.42L881.80,72.42L881.80,71.32L882.20,71.32L882.20,70.32L882.60,70.32L882.60,72.67L883.00,72.67L883.00,72.33L883.40,72.33L883.40,71.58L883.80,71.58L883.80,70.29L884.20,70.29L884.20,71.42L884.60,71.42L884.60,70.69L885.00,70.69L885.00,70.42L885.40,70.42L885.40,70.19L885.80,70.19L885.80,71.18L886.20,71.18L886.20,72.12L886.60,72.12L886.60,70.85L887.00,70.85L887.00,95.50L887.40,95.50L887.40,95.50L887.80,95.50L887.80,95.50L888.20,95.50L888.20,95.50L888.60,95.50L888.60,95.50L889.00,95.50L889.00,95.50L889.40,95.50L889.40,95.50L889.80,95.50L889.80,95.50L890.20,95.50L890.20,95.50L890.60,95.50L890.60,95.50L891.00,95.50L891.00,95.50L891.40,95.50L891.40,95.50L891.80,95.50L891.80,95.50L892.20,95.50L892.20,95.50L892.60,95.50L892.60,95.50L893.00,95.50L893.00,95.50L893.40,95.50L893.00,95.50Z" fill="#111"/>
<path d="M515.00,123.90L515.00,123.90L515.40,123.90L515.40,123.90L515.80,123.90L515.80,123.90L516.20,123.90L516.20,123.90L516.60,123.90L516.60,123.90L517.00,123.90L517.00,123.90L517.40,123.90L517.40,123.90L517.80,123.90L517.80,123.90L518.20,123.90L518.20,123.90L518.60,123.90L518.60,123.90L519.00,123.90L519.00,123.90L519.40,123.90L519.40,123.90L519.80,123.90L519.80,123.90L520.20,123.90L520.20,123.90L520.60,123.90L520.60,123.90L521.00,123.90L521.00,123.90L521.40,123.90L521.40,123.90L521.80,123.90L521.80,123.90L522.20,123.90L522.20,123.90L522.60,123.90L522.60,123.90L523.00,123.90L523.00,123.90L523.40,123.90L523.40,123.90L523.80,123.90L523.80,123.90L524.20,123.90L524.20,123.90L524.60,123.90L524.60,123.90L525.00,123.90L525.00,123.90L525.40,123.90L525.40,123.90L525.80,123.90L525.80,123.90L526.20,123.90L526.20,123.90L526.60,123.90L526.60,123.90L527.00,123.90L527.00,123.90L527.40,123.90L527.40,123.90L527.80,123.90L527.80,123.90L528.20,123.90L528.20,123.90L528.60,123.90L528.60,123.90L529.00,123.90L529.00,123.90L529.40,123.90L529.40,123.90L529.80,123.90L529.80,123.90L530.20,123.90L530.20,123.90L530.60,123.90L530.60,123.90L531.00,123.90L531.00,123.90L531.40,123.90L531.40,123.90L531.80,123.90L531.80,123.90L532.20,123.90L532.20,123.90L532.60,123.90L532.60,123.90L533.00,123.90L533.00,123.90L533.40,123.90L533.40,123.90L533.80,123.90L533.80,123.90L534.20,123.90L534.20,123.90L534.60,123.90L534.60,123.90L535.00,123.90L535.00,123.90L535.40,123.90L535.40,123.90L535.80,123.90L535.80,123.90L536.20,123.90L536.20,123.90L536.60,123.90L536.60,123.90L537.00,123.90L537.00,123.90L537.40,123.90L537.40,123.90L537.80,123.90L537.80,123.90L538.20,123.90L538.20,123.90L538.60,123.90L538.60,123.90L539.00,123.90L539.00,123.90L539.40,123.90L539.40,123.90L539.80,123.90L539.80,123.90L540.20,123.90L540.20,123.90L540.60,123.90L540.60,123.90L541.00,123.90L541.00,123.90L541.40,123.90L541.40,123.90L541.80,123.90L541.80,123.90L542.20,123.90L542.20,123.90L542.60,123.90L542.60,123.90L543.00,123.90L543.00,123.90L543.40,123.90L543.40,123.90L543.80,123.90L543.80,123.90L544.20,123.90L544.20,123.90L544.60,123.90L544.60,123.90L545.00,123.90L545.00,123.90L545.40,123.90L545.40,123.90L545.80,123.90L545.80,123.90L546.20,123.90L546.20,123.90L546.60,123.90L546.60,123.90L547.00,123.90L547.00,123.90L547.40,123.90L547.40,123.90L547.80,123.90L547.80,123.90L548.20,123.90L548.20,123.90L548.60,123.90L548.60,123.90L549.00,123.90L549.00,110.56L549.40,110.56L549.40,113.08L549.80,113.08L549.80,112.72L550.20,112.72L550.20,111.49L550.60,111.49L550.60,111.25L551.00,111.25L551.00,110.67L551.40,110.67L551.40,111.28L551.80,111.28L551.80,123.90L552.20,123.90L552.20,123.90L552.60,123.90L552.60,123.90L553.00,123.90L553.00,123.90L553.40,123.90L553.40,123.90L553.80,123.90L553.80,123.90L554.20,123.90L554.20,123.90L554.60,123.90L554.60,123.90L555.00,123.90L555.00,123.90L555.40,123.90L555.40,123.90L555.80,123.90L555.80,123.90L556.20,123.90L556.20,123.90L556.60,123.90L556.60,123.90L557.00,123.90L557.00,123.90L557.40,123.90L557.40,123.90L557.80,123.90L557.80,123.90L558.20,123.90L558.20,123.90L558.60,123.90L558.60,123.90L559.00,123.90L559.00,123.90L559.40,123.90L559.40,123.90L559.80,123.90L559.80,123.90L560.20,123.90L560.20,123.90L560.60,123.90L560.60,123.90L561.00,123.90L561.00,123.90L561.40,123.90L561.40,123.90L561.80,123.90L561.80,123.90L562.20,123.90L562.20,123.90L562.60,123.90L562.60,123.90L563.00,123.90L563.00,123.90L563.40,123.90L563.40,123.90L563.80,123.90L563.80,123.90L564.20,123.90L564.20,123.90L564.60,123.90L564.60,123.90L565.00,123.90L565.00,123.90L565.40,123.90L565.40,123.90L565.80,123.90L565.80,123.90L566.20,123.90L566.20,123.90L566.60,123.90L566.60,123.90L567.00,123.90L567.00,123.90L567.40,123.90L567.40,123.90L567.80,123.90L567.80,123.90L568.20,123.90L568.20,123.90L568.60,123.90L568.60,123.90L569.00,123.90L569.00,123.90L569.40,123.90L569.40,123.90L569.80,123.90L569.80,123.90L570.20,123.90L570.20,123.90L570.60,123.90L570.60,123.90L571.00,123.90L571.00,123.90L571.40,123.90L571.40,123.90L571.80,123.90L571.80,123.90L572.20,123.90L572.20,123.90L572.60,123.90L572.60,123.90L573.00,123.90L573.00,123.90L573.40,123.90L573.40,123.90L573.80,123.90L573.80,123.90L574.20,123.90L574.20,123.90L574.60,123.90L574.60,123.90L575.00,123.90L575.00,123.90L575.40,123.90L575.40,123.90L575.80,123.90L575.80,123.90L576.20,123.90L576.20,123.90L576.60,123.90L576.60,123.90L577.00,123.90L577.00,123.90L577.40,123.90L577.40,123.90L577.80,123.90L577.80,123.90L578.20,123.90L578.20,123.90L578.60,123.90L578.60,123.90L579.00,123.90L579.00,123.90L579.40,123.90L579.40,123.90L579.80,123.90L579.80,123.90L580.20,123.90L580.20,123.90L580.60,123.90L580.60,123.90L581.00,123.90L581.00,123.90L581.40,123.90L581.40,123.90L581.80,123.90L581.80,123.90L582.20,123.90L582.20,123.90L582.60,123.90L582.60,123.90L583.00,123.90L583.00,123.90L583.40,123.90L583.40,123.90L583.80,123.90L583.80,123.90L584.20,123.90L584.20,123.90L584.60,123.90L584.60,123.90L585.00,123.90L585.00,123.90L585.40,123.90L585.40,123.90L585.80,123.90L585.80,123.90L586.20,123.90L586.20,123.90L586.60,123.90L586.60,123.90L587.00,123.90L587.00,123.90L587.40,123.90L587.40,123.90L587.80,123.90L587.80,123.90L588.20,123.90L588.20,123.90L588.60,123.90L588.60,123.90L589.00,123.90L589.00,123.90L589.40,123.90L589.40,123.90L589.80,123.90L589.80,123.90L590.20,123.90L590.20,123.90L590.60,123.90L590.60,123.90L591.00,123.90L591.00,123.90L591.40,123.90L591.40,123.90L591.80,123.90L591.80,123.90L592.20,123.90L592.20,123.90L592.60,123.90L592.60,123.90L593.00,123.90L593.00,123.90L593.40,123.90L593.40,123.90L593.80,123.90L593.80,123.90L594.20,123.90L594.20,123.90L594.60,123.90L594.60,123.90L595.00,123.90L595.00,123.90L595.40,123.90L595.40,123.90L595.80,123.90L595.80,123.90L596.20,123.90L596.20,123.90L596.60,123.90L596.60,123.90L597.00,123.90L597.00,123.90L597.40,123.90L597.40,123.90L597.80,123.90L597.80,123.90L598.20,123.90L598.20,123.90L598.60,123.90L598.60,123.90L599.00,123.90L599.00,123.90L599.40,123.90L599.40,123.90L599.80,123.90L599.80,123.90L600.20,123.90L600.20,123.90L600.60,123.90L600.60,123.90L601.00,123.90L601.00,123.90L601.40,123.90L601.40,123.90L601.80,123.90L601.80,123.90L602.20,123.90L602.20,123.90L602.60,123.90L602.60,123.90L603.00,123.90L603.00,123.90L603.40,123.90L603.40,123.90L603.80,123.90L603.80,123.90L604.20,123.90L604.20,123.90L604.60,123.90L604.60,123.90L605.00,123.90L605.00,123.90L605.40,123.90L605.40,123.90L605.80,123.90L605.80,123.90L606.20,123.90L606.20,123.90L606.60,123.90L606.60,123.90L607.00,123.90L607.00,123.90L607.40,123.90L607.40,123.90L607.80,123.90L607.80,123.90L608.20,123.90L608.20,123.90L608.60,123.90L608.60,123.90L609.00,123.90L609.00,123.90L609.40,123.90L609.40,123.90L609.80,123.90L609.80,123.90L610.20,123.90L610.20,123.90L610.60,123.90L610.60,123.90L611.00,123.90L611.00,123.90L611.40,123.90L611.40,123.90L611.80,123.90L611.80,123.90L612.20,123.90L612.20,123.90L612.60,123.90L612.60,123.90L613.00,123.90L613.00,123.90L613.40,123.90L613.40,123.90L613.80,123.90L613.80,123.90L614.20,123.90L614.20,123.90L614.60,123.90L614.60,123.90L615.00,123.90L615.00,123.90L615.40,123.90L615.40,123.90L615.80,123.90L615.80,123.90L616.20,123.90L616.20,123.90L616.60,123.90L616.60,123.90L617.00,123.90L617.00,123.90L617.40,123.90L617.40,123.90L617.80,123.90L617.80,123.90L618.20,123.90L618.20,123.90L618.60,123.90L618.60,123.90L619.00,123.90L619.00,123.90L619.40,123.90L619.40,123.90L619.80,123.90L619.80,123.90L620.20,123.90L620.20,123.90L620.60,123.90L620.60,123.90L621.00,123.90L621.00,123.90L621.40,123.90L621.40,123.90L621.80,123.90L621.80,123.90L622.20,123.90L622.20,123.90L622.60,123.90L622.60,123.90L623.00,123.90L623.00,123.90L623.40,123.90L623.40,123.90L623.80,123.90L623.80,123.90L624.20,123.90L624.20,123.90L624.60,123.90L624.60,123.90L625.00,123.90L625.00,123.90L625.40,123.90L625.40,123.90L625.80,123.90L625.80,123.90L626.20,123.90L626.20,123.90L626.60,123.90L626.60,123.90L627.00,123.90L627.00,123.90L627.40,123.90L627.40,123.90L627.80,123.90L627.80,123.90L628.20,123.90L628.20,123.90L628.60,123.90L628.60,123.90L629.00,123.90L629.00,123.90L629.40,123.90L629.40,123.90L629.80,123.90L629.80,123.90L630.20,123.90L630.20,123.90L630.60,123.90L630.60,123.90L631.00,123.90L631.00,123.90L631.40,123.90L631.40,123.90L631.80,123.90L631.80,123.90L632.20,123.90L632.20,123.90L632.60,123.90L632.60,123.90L633.00,123.90L633.00,123.90L633.40,123.90L633.40,123.90L633.80,123.90L633.80,123.90L634.20,123.90L634.20,123.90L634.60,123.90L634.60,123.90L635.00,123.90L635.00,123.90L635.40,123.90L635.40,123.90L635.80,123.90L635.80,123.90L636.20,123.90L636.20,123.90L636.60,123.90L636.60,123.90L637.00,123.90L637.00,123.90L637.40,123.90L637.40,123.90L637.80,123.90L637.80,123.90L638.20,123.90L638.20,123.90L638.60,123.90L638.60,123.90L639.00,123.90L639.00,123.90L639.40,123.90L639.40,123.90L639.80,123.90L639.80,123.90L640.20,123.90L640.20,123.90L640.60,123.90L640.60,123.90L641.00,123.90L641.00,123.90L641.40,123.90L641.40,123.90L641.80,123.90L641.80,123.90L642.20,123.90L642.20,123.90L642.60,123.90L642.60,123.90L643.00,123.90L643.00,123.90L643.40,123.90L643.40,123.90L643.80,123.90L643.80,123.90L644.20,123.90L644.20,123.90L644.60,123.90L644.60,123.90L645.00,123.90L645.00,123.90L645.40,123.90L645.40,123.90L645.80,123.90L645.80,123.90L646.20,123.90L646.20,123.90L646.60,123.90L646.60,123.90L647.00,123.90L647.00,123.90L647.40,123.90L647.40,123.90L647.80,123.90L647.80,123.90L648.20,123.90L648.20,123.90L648.60,123.90L648.60,123.90L649.00,123.90L649.00,123.90L649.40,123.90L649.40,123.90L649.80,123.90L649.80,123.90L650.20,123.90L650.20,123.90L650.60,123.90L650.60,123.90L651.00,123.90L651.00,123.90L651.40,123.90L651.40,123.90L651.80,123.90L651.80,123.90L652.20,123.90L652.20,123.90L652.60,123.90L652.60,123.90L653.00,123.90L653.00,123.90L653.40,123.90L653.40,123.90L653.80,123.90L653.80,123.90L654.20,123.90L654.20,123.90L654.60,123.90L654.60,123.90L655.00,123.90L655.00,123.90L655.40,123.90L655.40,123.90L655.80,123.90L655.80,123.90L656.20,123.90L656.20,123.90L656.60,123.90L656.60,123.90L657.00,123.90L657.00,123.90L657.40,123.90L657.40,123.90L657.80,123.90L657.80,123.90L658.20,123.90L658.20,123.90L658.60,123.90L658.60,123.90L659.00,123.90L659.00,123.90L659.40,123.90L659.40,123.90L659.80,123.90L659.80,123.90L660.20,123.90L660.20,123.90L660.60,123.90L660.60,123.90L661.00,123.90L661.00,123.90L661.40,123.90L661.40,123.90L661.80,123.90L661.80,123.90L662.20,123.90L662.20,123.90L662.60,123.90L662.60,123.90L663.00,123.90L663.00,123.90L663.40,123.90L663.40,123.90L663.80,123.90L663.80,123.90L664.20,123.90L664.20,123.90L664.60,123.90L664.60,123.90L665.00,123.90L665.00,123.90L665.40,123.90L665.40,123.90L665.80,123.90L665.80,123.90L666.20,123.90L666.20,123.90L666.60,123.90L666.60,123.90L667.00,123.90L667.00,123.90L667.40,123.90L667.40,123.90L667.80,123.90L667.80,123.90L668.20,123.90L668.20,123.90L668.60,123.90L668.60,123.90L669.00,123.90L669.00,123.90L669.40,123.90L669.40,123.90L669.80,123.90L669.80,123.90L670.20,123.90L670.20,123.90L670.60,123.90L670.60,123.90L671.00,123.90L671.00,123.90L671.40,123.90L671.40,123.90L671.80,123.90L671.80,123.90L672.20,123.90L672.20,123.90L672.60,123.90L672.60,123.90L673.00,123.90L673.00,123.90L673.40,123.90L673.40,123.90L673.80,123.90L673.80,123.90L674.20,123.90L674.20,123.90L674.60,123.90L674.60,123.90L675.00,123.90L675.00,123.90L675.40,123.90L675.40,123.90L675.80,123.90L675.80,123.90L676.20,123.90L676.20,123.90L676.60,123.90L676.60,123.90L677.00,123.90L677.00,123.90L677.40,123.90L677.40,123.90L677.80,123.90L677.80,123.90L678.20,123.90L678.20,123.90L678.60,123.90L678.60,123.90L679.00,123.90L679.00,123.90L679.40,123.90L679.40,123.90L679.80,123.90L679.80,123.90L680.20,123.90L680.20,123.90L680.60,123.90L680.60,123.90L681.00,123.90L681.00,123.90L681.40,123.90L681.40,123.90L681.80,123.90L681.80,123.90L682.20,123.90L682.20,123.90L682.60,123.90L682.60,123.90L683.00,123.90L683.00,123.90L683.40,123.90L683.40,123.90L683.80,123.90L683.80,123.90L684.20,123.90L684.20,123.90L684.60,123.90L684.60,123.90L685.00,123.90L685.00,123.90L685.40,123.90L685.40,123.90L685.80,123.90L685.80,123.90L686.20,123.90L686.20,123.90L686.60,123.90L686.60,123.90L687.00,123.90L687.00,123.90L687.40,123.90L687.40,123.90L687.80,123.90L687.80,123.90L688.20,123.90L688.20,123.90L688.60,123.90L688.60,123.90L689.00,123.90L689.00,123.90L689.40,123.90L689.40,123.90L689.80,123.90L689.80,123.90L690.20,123.90L690.20,123.90L690.60,123.90L690.60,123.90L691.00,123.90L691.00,123.90L691.40,123.90L691.40,123.90L691.80,123.90L691.80,123.90L692.20,123.90L692.20,123.90L692.60,123.90L692.60,123.90L693.00,123.90L693.00,123.90L693.40,123.90L693.40,123.90L693.80,123.90L693.80,123.90L694.20,123.90L694.20,123.90L694.60,123.90L694.60,123.90L695.00,123.90L695.00,123.90L695.40,123.90L695.40,123.90L695.80,123.90L695.80,123.90L696.20,123.90L696.20,123.90L696.60,123.90L696.60,123.90L697.00,123.90L697.00,123.90L697.40,123.90L697.40,123.90L697.80,123.90L697.80,123.90L698.20,123.90L698.20,123.90L698.60,123.90L698.60,123.90L699.00,123.90L699.00,123.90L699.40,123.90L699.40,123.90L699.80,123.90L699.80,123.90L700.20,123.90L700.20,123.90L700.60,123.90L700.60,123.90L701.00,123.90L701.00,123.90L701.40,123.90L701.40,123.90L701.80,123.90L701.80,123.90L702.20,123.90L702.20,123.90L702.60,123.90L702.60,123.90L703.00,123.90L703.00,123.90L703.40,123.90L703.40,123.90L703.80,123.90L703.80,123.90L704.20,123.90L704.20,123.90L704.60,123.90L704.60,123.90L705.00,123.90L705.00,123.90L705.40,123.90L705.40,123.90L705.80,123.90L705.80,123.90L706.20,123.90L706.20,123.90L706.60,123.90L706.60,123.90L707.00,123.90L707.00,123.90L707.40,123.90L707.40,123.90L707.80,123.90L707.80,123.90L708.20,123.90L708.20,123.90L708.60,123.90L708.60,123.90L709.00,123.90L709.00,123.90L709.40,123.90L709.40,123.90L709.80,123.90L709.80,123.90L710.20,123.90L710.20,123.90L710.60,123.90L710.60,123.90L711.00,123.90L711.00,123.90L711.40,123.90L711.40,123.90L711.80,123.90L711.80,123.90L712.20,123.90L712.20,123.90L712.60,123.90L712.60,123.90L713.00,123.90L713.00,123.90L713.40,123.90L713.40,123.90L713.80,123.90L713.80,123.90L714.20,123.90L714.20,123.90L714.60,123.90L714.60,123.90L715.00,123.90L715.00,123.90L715.40,123.90L715.40,123.90L715.80,123.90L715.80,123.90L716.20,123.90L716.20,123.90L716.60,123.90L716.60,123.90L717.00,123.90L717.00,123.90L717.40,123.90L717.40,123.90L717.80,123.90L717.80,123.90L718.20,123.90L718.20,123.90L718.60,123.90L718.60,123.90L719.00,123.90L719.00,123.90L719.40,123.90L719.40,123.90L719.80,123.90L719.80,123.90L720.20,123.90L720.20,123.90L720.60,123.90L720.60,123.90L721.00,123.90L721.00,123.90L721.40,123.90L721.40,123.90L721.80,123.90L721.80,123.90L722.20,123.90L722.20,123.90L722.60,123.90L722.60,123.90L723.00,123.90L723.00,123.90L723.40,123.90L723.40,123.90L723.80,123.90L723.80,123.90L724.20,123.90L724.20,123.90L724.60,123.90L724.60,123.90L725.00,123.90L725.00,123.90L725.40,123.90L725.40,123.90L725.80,123.90L725.80,123.90L726.20,123.90L726.20,123.90L726.60,123.90L726.60,123.90L727.00,123.90L727.00,123.90L727.40,123.90L727.40,123.90L727.80,123.90L727.80,123.90L728.20,123.90L728.20,123.90L728.60,123.90L728.60,123.90L729.00,123.90L729.00,123.90L729.40,123.90L729.40,123.90L729.80,123.90L729.80,123.90L730.20,123.90L730.20,123.90L730.60,123.90L730.60,123.90L731.00,123.90L731.00,123.90L731.40,123.90L731.40,123.90L731.80,123.90L731.80,123.90L732.20,123.90L732.20,123.90L732.60,123.90L732.60,123.90L733.00,123.90L733.00,123.90L733.40,123.90L733.40,123.90L733.80,123.90L733.80,123.90L734.20,123.90L734.20,123.90L734.60,123.90L734.60,123.90L735.00,123.90L735.00,123.90L735.40,123.90L735.40,123.90L735.80,123.90L735.80,123.90L736.20,123.90L736.20,123.90L736.60,123.90L736.60,123.90L737.00,123.90L737.00,123.90L737.40,123.90L737.40,123.90L737.80,123.90L737.80,123.90L738.20,123.90L738.20,123.90L738.60,123.90L738.60,123.90L739.00,123.90L739.00,123.90L739.40,123.90L739.40,123.90L739.80,123.90L739.80,123.90L740.20,123.90L740.20,123.90L740.60,123.90L740.60,123.90L741.00,123.90L741.00,123.90L741.40,123.90L741.40,123.90L741.80,123.90L741.80,123.90L742.20,123.90L742.20,123.90L742.60,123.90L742.60,123.90L743.00,123.90L743.00,123.90L743.40,123.90L743.40,123.90L743.80,123.90L743.80,123.90L744.20,123.90L744.20,123.90L744.60,123.90L744.60,123.90L745.00,123.90L745.00,123.90L745.40,123.90L745.40,123.90L745.80,123.90L745.80,123.90L746.20,123.90L746.20,123.90L746.60,123.90L746.60,123.90L747.00,123.90L747.00,123.90L747.40,123.90L747.40,123.90L747.80,123.90L747.80,123.90L748.20,123.90L748.20,123.90L748.60,123.90L748.60,123.90L749.00,123.90L749.00,123.90L749.40,123.90L749.40,123.90L749.80,123.90L749.80,123.90L750.20,123.90L750.20,123.90L750.60,123.90L750.60,123.90L751.00,123.90L751.00,123.90L751.40,123.90L751.40,123.90L751.80,123.90L751.80,123.90L752.20,123.90L752.20,123.90L752.60,123.90L752.60,123.90L753.00,123.90L753.00,123.90L753.40,123.90L753.40,123.90L753.80,123.90L753.80,123.90L754.20,123.90L754.20,123.90L754.60,123.90L754.60,123.90L755.00,123.90L755.00,123.90L755.40,123.90L755.40,123.90L755.80,123.90L755.80,123.90L756.20,123.90L756.20,123.90L756.60,123.90L756.60,123.90L757.00,123.90L757.00,123.90L757.40,123.90L757.40,123.90L757.80,123.90L757.80,123.90L758.20,123.90L758.20,123.90L758.60,123.90L758.60,123.90L759.00,123.90L759.00,123.90L759.40,123.90L759.40,123.90L759.80,123.90L759.80,123.90L760.20,123.90L760.20,123.90L760.60,123.90L760.60,123.90L761.00,123.90L761.00,123.90L761.40,123.90L761.40,123.90L761.80,123.90L761.80,123.90L762.20,123.90L762.20,123.90L762.60,123.90L762.60,123.90L763.00,123.90L763.00,123.90L763.40,123.90L763.40,123.90L763.80,123.90L763.80,123.90L764.20,123.90L764.20,123.90L764.60,123.90L764.60,123.90L765.00,123.90L765.00,123.90L765.40,123.90L765.40,123.90L765.80,123.90L765.80,123.90L766.20,123.90L766.20,123.90L766.60,123.90L766.60,123.90L767.00,123.90L767.00,123.90L767.40,123.90L767.40,123.90L767.80,123.90L767.80,123.90L768.20,123.90L768.20,123.90L768.60,123.90L768.60,123.90L769.00,123.90L769.00,123.90L769.40,123.90L769.40,123.90L769.80,123.90L769.80,123.90L770.20,123.90L770.20,123.90L770.60,123.90L770.60,123.90L771.00,123.90L771.00,123.90L771.40,123.90L771.40,123.90L771.80,123.90L771.80,123.90L772.20,123.90L772.20,123.90L772.60,123.90L772.60,123.90L773.00,123.90L773.00,123.90L773.40,123.90L773.40,123.90L773.80,123.90L773.80,123.90L774.20,123.90L774.20,123.90L774.60,123.90L774.60,123.90L775.00,123.90L775.00,123.90L775.40,123.90L775.40,123.90L775.80,123.90L775.80,123.90L776.20,123.90L776.20,123.90L776.60,123.90L776.60,123.90L777.00,123.90L777.00,123.90L777.40,123.90L777.40,123.90L777.80,123.90L777.80,123.90L778.20,123.90L778.20,123.90L778.60,123.90L778.60,123.90L779.00,123.90L779.00,123.90L779.40,123.90L779.40,123.90L779.80,123.90L779.80,123.90L780.20,123.90L780.20,123.90L780.60,123.90L780.60,123.90L781.00,123.90L781.00,123.90L781.40,123.90L781.40,123.90L781.80,123.90L781.80,123.90L782.20,123.90L782.20,123.90L782.60,123.90L782.60,123.90L783.00,123.90L783.00,123.90L783.40,123.90L783.40,123.90L783.80,123.90L783.80,123.90L784.20,123.90L784.20,123.90L784.60,123.90L784.60,123.90L785.00,123.90L785.00,123.90L785.40,123.90L785.40,123.90L785.80,123.90L785.80,123.90L786.20,123.90L786.20,123.90L786.60,123.90L786.60,123.90L787.00,123.90L787.00,123.90L787.40,123.90L787.40,123.90L787.80,123.90L787.80,123.90L788.20,123.90L788.20,123.90L788.60,123.90L788.60,123.90L789.00,123.90L789.00,123.90L789.40,123.90L789.40,123.90L789.80,123.90L789.80,123.90L790.20,123.90L790.20,123.90L790.60,123.90L790.60,123.90L791.00,123.90L791.00,123.90L791.40,123.90L791.40,123.90L791.80,123.90L791.80,109.28L792.20,109.28L792.20,110.54L792.60,110.54L792.60,110.17L793.00,110.17L793.00,110.17L793.40,110.17L793.40,123.90L793.80,123.90L793.80,123.90L794.20,123.90L794.20,123.90L794.60,123.90L794.60,123.90L795.00,123.90L795.00,123.90L795.40,123.90L795.40,123.90L795.80,123.90L795.80,123.90L796.20,123.90L796.20,123.90L796.60,123.90L796.60,123.90L797.00,123.90L797.00,123.90L797.40,123.90L797.40,123.90L797.80,123.90L797.80,123.90L798.20,123.90L798.20,123.90L798.60,123.90L798.60,123.90L799.00,123.90L799.00,123.90L799.40,123.90L799.40,123.90L799.80,123.90L799.80,123.90L800.20,123.90L800.20,123.90L800.60,123.90L800.60,123.90L801.00,123.90L801.00,123.90L801.40,123.90L801.40,123.90L801.80,123.90L801.80,123.90L802.20,123.90L802.20,123.90L802.60,123.90L802.60,123.90L803.00,123.90L803.00,123.90L803.40,123.90L803.40,123.90L803.80,123.90L803.80,123.90L804.20,123.90L804.20,123.90L804.60,123.90L804.60,123.90L805.00,123.90L805.00,123.90L805.40,123.90L805.40,123.90L805.80,123.90L805.80,123.90L806.20,123.90L806.20,123.90L806.60,123.90L806.60,123.90L807.00,123.90L807.00,123.90L807.40,123.90L807.40,123.90L807.80,123.90L807.80,123.90L808.20,123.90L808.20,123.90L808.60,123.90L808.60,123.90L809.00,123.90L809.00,123.90L809.40,123.90L809.40,123.90L809.80,123.90L809.80,123.90L810.20,123.90L810.20,123.90L810.60,123.90L810.60,123.90L811.00,123.90L811.00,123.90L811.40,123.90L811.40,123.90L811.80,123.90L811.80,123.90L812.20,123.90L812.20,123.90L812.60,123.90L812.60,123.90L813.00,123.90L813.00,123.90L813.40,123.90L813.40,123.90L813.80,123.90L813.80,123.90L814.20,123.90L814.20,123.90L814.60,123.90L814.60,123.90L815.00,123.90L815.00,123.90L815.40,123.90L815.40,123.90L815.80,123.90L815.80,123.90L816.20,123.90L816.20,123.90L816.60,123.90L816.60,123.90L817.00,123.90L817.00,123.90L817.40,123.90L817.40,123.90L817.80,123.90L817.80,123.90L818.20,123.90L818.20,123.90L818.60,123.90L818.60,123.90L819.00,123.90L819.00,123.90L819.40,123.90L819.40,123.90L819.80,123.90L819.80,123.90L820.20,123.90L820.20,123.90L820.60,123.90L820.60,123.90L821.00,123.90L821.00,123.90L821.40,123.90L821.40,123.90L821.80,123.90L821.80,123.90L822.20,123.90L822.20,123.90L822.60,123.90L822.60,123.90L823.00,123.90L823.00,123.90L823.40,123.90L823.40,123.90L823.80,123.90L823.80,123.90L824.20,123.90L824.20,123.90L824.60,123.90L824.60,123.90L825.00,123.90L825.00,123.90L825.40,123.90L825.40,123.90L825.80,123.90L825.80,123.90L826.20,123.90L826.20,123.90L826.60,123.90L826.60,123.90L827.00,123.90L827.00,123.90L827.40,123.90L827.40,123.90L827.80,123.90L827.80,123.90L828.20,123.90L828.20,123.90L828.60,123.90L828.60,123.90L829.00,123.90L829.00,123.90L829.40,123.90L829.40,123.90L829.80,123.90L829.80,123.90L830.20,123.90L830.20,123.90L830.60,123.90L830.60,123.90L831.00,123.90L831.00,123.90L831.40,123.90L831.40,123.90L831.80,123.90L831.80,123.90L832.20,123.90L832.20,123.90L832.60,123.90L832.60,123.90L833.00,123.90L833.00,123.90L833.40,123.90L833.40,123.90L833.80,123.90L833.80,123.90L834.20,123.90L834.20,123.90L834.60,123.90L834.60,123.90L835.00,123.90L835.00,123.90L835.40,123.90L835.40,123.90L835.80,123.90L835.80,123.90L836.20,123.90L836.20,123.90L836.60,123.90L836.60,123.90L837.00,123.90L837.00,123.90L837.40,123.90L837.40,123.90L837.80,123.90L837.80,123.90L838.20,123.90L838.20,123.90L838.60,123.90L838.60,123.90L839.00,123.90L839.00,123.90L839.40,123.90L839.40,123.90L839.80,123.90L839.80,123.90L840.20,123.90L840.20,123.90L840.60,123.90L840.60,123.90L841.00,123.90L841.00,123.90L841.40,123.90L841.40,123.90L841.80,123.90L841.80,123.90L842.20,123.90L842.20,123.90L842.60,123.90L842.60,123.90L843.00,123.90L843.00,123.90L843.40,123.90L843.40,123.90L843.80,123.90L843.80,123.90L844.20,123.90L844.20,123.90L844.60,123.90L844.60,123.90L845.00,123.90L845.00,123.90L845.40,123.90L845.40,123.90L845.80,123.90L845.80,123.90L846.20,123.90L846.20,123.90L846.60,123.90L846.60,123.90L847.00,123.90L847.00,123.90L847.40,123.90L847.40,123.90L847.80,123.90L847.80,123.90L848.20,123.90L848.20,123.90L848.60,123.90L848.60,123.90L849.00,123.90L849.00,123.90L849.40,123.90L849.40,123.90L849.80,123.90L849.80,123.90L850.20,123.90L850.20,123.90L850.60,123.90L850.60,123.90L851.00,123.90L851.00,123.90L851.40,123.90L851.40,123.90L851.80,123.90L851.80,123.90L852.20,123.90L852.20,123.90L852.60,123.90L852.60,123.90L853.00,123.90L853.00,123.90L853.40,123.90L853.40,123.90L853.80,123.90L853.80,123.90L854.20,123.90L854.20,123.90L854.60,123.90L854.60,123.90L855.00,123.90L855.00,123.90L855.40,123.90L855.40,123.90L855.80,123.90L855.80,115.59L856.20,115.59L856.20,115.69L856.60,115.69L856.60,115.80L857.00,115.80L857.00,123.90L857.40,123.90L857.40,123.90L857.80,123.90L857.80,123.90L858.20,123.90L858.20,123.90L858.60,123.90L858.60,105.53L859.00,105.53L859.00,106.51L859.40,106.51L859.40,105.28L859.80,105.28L859.80,123.90L860.20,123.90L860.20,123.90L860.60,123.90L860.60,123.90L861.00,123.90L861.00,123.90L861.40,123.90L861.40,123.90L861.80,123.90L861.80,123.90L862.20,123.90L862.20,123.90L862.60,123.90L862.60,123.90L863.00,123.90L863.00,123.90L863.40,123.90L863.40,123.90L863.80,123.90L863.80,123.90L864.20,123.90L864.20,123.90L864.60,123.90L864.60,123.90L865.00,123.90L865.00,123.90L865.40,123.90L865.40,123.90L865.80,123.90L865.80,123.90L866.20,123.90L866.20,123.90L866.60,123.90L866.60,123.90L867.00,123.90L867.00,123.90L867.40,123.90L867.40,123.90L867.80,123.90L867.80,123.90L868.20,123.90L868.20,123.90L868.60,123.90L868.60,123.90L869.00,123.90L869.00,123.90L869.40,123.90L869.40,123.90L869.80,123.90L869.80,123.90L870.20,123.90L870.20,123.90L870.60,123.90L870.60,97.10L871.00,97.10L871.00,97.10L871.40,97.10L871.40,97.10L871.80,97.10L871.80,97.10L872.20,97.10L872.20,97.10L872.60,97.10L872.60,97.10L873.00,97.10L873.00,97.10L873.40,97.10L873.40,97.10L873.80,97.10L873.80,97.10L874.20,97.10L874.20,97.10L874.60,97.10L874.60,97.10L875.00,97.10L875.00,97.10L875.40,97.10L875.40,97.10L875.80,97.10L875.80,97.10L876.20,97.10L876.20,97.10L876.60,97.10L876.60,97.10L877.00,97.10L877.00,97.10L877.40,97.10L877.40,97.10L877.80,97.10L877.80,97.10L878.20,97.10L878.20,97.10L878.60,97.10L878.60,97.10L879.00,97.10L879.00,97.10L879.40,97.10L879.40,97.10L879.80,97.10L879.80,97.10L880.20,97.10L880.20,97.10L880.60,97.10L880.60,97.10L881.00,97.10L881.00,97.10L881.40,97.10L881.40,97.10L881.80,97.10L881.80,97.10L882.20,97.10L882.20,97.10L882.60,97.10L882.60,97.10L883.00,97.10L883.00,97.10L883.40,97.10L883.40,97.10L883.80,97.10L883.80,97.10L884.20,97.10L884.20,97.10L884.60,97.10L884.60,97.10L885.00,97.10L885.00,97.10L885.40,97.10L885.40,97.10L885.80,97.10L885.80,97.10L886.20,97.10L886.20,97.10L886.60,97.10L886.60,97.10L887.00,97.10L887.00,123.90L887.40,123.90L887.40,123.90L887.80,123.90L887.80,123.90L888.20,123.90L888.20,123.90L888.60,123.90L888.60,123.90L889.00,123.90L889.00,123.90L889.40,123.90L889.40,123.90L889.80,123.90L889.80,123.90L890.20,123.90L890.20,123.90L890.60,123.90L890.60,123.90L891.00,123.90L891.00,123.90L891.40,123.90L891.40,123.90L891.80,123.90L891.80,123.90L892.20,123.90L892.20,123.90L892.60,123.90L892.60,123.90L893.00,123.90L893.00,123.90L893.40,123.90L893.00,123.90Z" fill="#111"/>
<rect x="882.00" y="97.00" width="2.00" height="2.00" fill="#e8407a"/>
<line x1="516.00" y1="95.60" x2="893.30" y2="95.60" stroke="#111" stroke-width="1.8"/>
<line x1="516.00" y1="123.90" x2="893.30" y2="123.90" stroke="#111" stroke-width="1.8"/>
<path d="M897.80,70.50H895.30V94.50H897.80" fill="none" stroke="#111" stroke-width="1.0"/>
<path d="M897.80,98.50H895.30V122.50H897.80" fill="none" stroke="#111" stroke-width="1.0"/>
<text x="901.60" y="74.80" font-size="11.3" fill="#111" stroke="#111" stroke-width="0.25">6</text>
<text x="901.60" y="96.00" font-size="11.3" fill="#111" stroke="#111" stroke-width="0.25">2</text>
<text x="911.40" y="85.00" font-size="11.3" fill="#111" stroke="#111" stroke-width="0.25">ln(1+x)</text>
<text x="901.60" y="104.30" font-size="11.3" fill="#111" stroke="#111" stroke-width="0.25">6</text>
<text x="901.60" y="123.90" font-size="11.3" fill="#111" stroke="#111" stroke-width="0.25">2</text>
<text x="911.40" y="113.10" font-size="11.3" fill="#111" stroke="#111" stroke-width="0.25">ln(1+x)</text>
<line x1="513.20" y1="142.70" x2="791.00" y2="142.70" stroke="#2e3192" stroke-width="2.2"/>
<path d="M520.80,138.60L517.20,142.70L520.80,146.80M530.30,138.60L526.70,142.70L530.30,146.80M539.80,138.60L536.20,142.70L539.80,146.80M549.30,138.60L545.70,142.70L549.30,146.80M558.80,138.60L555.20,142.70L558.80,146.80M568.30,138.60L564.70,142.70L568.30,146.80M577.80,138.60L574.20,142.70L577.80,146.80M587.30,138.60L583.70,142.70L587.30,146.80M596.80,138.60L593.20,142.70L596.80,146.80M606.30,138.60L602.70,142.70L606.30,146.80M615.80,138.60L612.20,142.70L615.80,146.80M625.30,138.60L621.70,142.70L625.30,146.80M634.80,138.60L631.20,142.70L634.80,146.80M644.30,138.60L640.70,142.70L644.30,146.80M653.80,138.60L650.20,142.70L653.80,146.80M663.30,138.60L659.70,142.70L663.30,146.80M672.80,138.60L669.20,142.70L672.80,146.80M682.30,138.60L678.70,142.70L682.30,146.80M691.80,138.60L688.20,142.70L691.80,146.80M701.30,138.60L697.70,142.70L701.30,146.80M710.80,138.60L707.20,142.70L710.80,146.80M720.30,138.60L716.70,142.70L720.30,146.80M729.80,138.60L726.20,142.70L729.80,146.80M739.30,138.60L735.70,142.70L739.30,146.80M748.80,138.60L745.20,142.70L748.80,146.80M758.30,138.60L754.70,142.70L758.30,146.80M767.80,138.60L764.20,142.70L767.80,146.80M777.30,138.60L773.70,142.70L777.30,146.80M786.80,138.60L783.20,142.70L786.80,146.80" fill="none" stroke="#6674c4" stroke-width="1.8" stroke-linejoin="miter"/>
<rect x="791.00" y="137.70" width="1.60" height="10.00" fill="#2e3192"/>
<rect x="599.00" y="137.70" width="1.60" height="10.00" fill="#2e3192"/>
<text x="797.50" y="146.00" font-size="11.3" fill="#2e3192" stroke="#2e3192" stroke-width="0.25" font-style="italic">LOC643339</text>
<line x1="792.00" y1="162.10" x2="888.50" y2="162.10" stroke="#2e3192" stroke-width="2.2"/>
<path d="M795.40,158.00L799.00,162.10L795.40,166.20M804.90,158.00L808.50,162.10L804.90,166.20M814.40,158.00L818.00,162.10L814.40,166.20M823.90,158.00L827.50,162.10L823.90,166.20M833.40,158.00L837.00,162.10L833.40,166.20M842.90,158.00L846.50,162.10L842.90,166.20M852.40,158.00L856.00,162.10L852.40,166.20M861.90,158.00L865.50,162.10L861.90,166.20M871.40,158.00L875.00,162.10L871.40,166.20M880.90,158.00L884.50,162.10L880.90,166.20" fill="none" stroke="#6674c4" stroke-width="1.8" stroke-linejoin="miter"/>
<rect x="791.20" y="157.60" width="3.00" height="9.00" fill="#2e3192"/>
<rect x="792.00" y="153.60" width="1.50" height="17.00" fill="#2e3192"/>
<rect x="855.40" y="153.60" width="1.40" height="17.00" fill="#2e3192"/>
<rect x="858.20" y="153.60" width="1.40" height="17.00" fill="#2e3192"/>
<rect x="872.40" y="153.60" width="2.20" height="17.00" fill="#2e3192"/>
<rect x="872.40" y="157.60" width="16.10" height="9.00" fill="#2e3192"/>
<text x="781.60" y="165.60" font-size="11.3" fill="#2e3192" stroke="#2e3192" stroke-width="0.25" text-anchor="end" font-style="italic">NUDT4</text>
<line x1="792.00" y1="181.10" x2="888.50" y2="181.10" stroke="#2e3192" stroke-width="2.2"/>
<path d="M795.40,177.00L799.00,181.10L795.40,185.20M804.90,177.00L808.50,181.10L804.90,185.20M814.40,177.00L818.00,181.10L814.40,185.20M823.90,177.00L827.50,181.10L823.90,185.20M833.40,177.00L837.00,181.10L833.40,185.20M842.90,177.00L846.50,181.10L842.90,185.20M852.40,177.00L856.00,181.10L852.40,185.20M861.90,177.00L865.50,181.10L861.90,185.20M871.40,177.00L875.00,181.10L871.40,185.20M880.90,177.00L884.50,181.10L880.90,185.20" fill="none" stroke="#6674c4" stroke-width="1.8" stroke-linejoin="miter"/>
<rect x="791.20" y="176.60" width="3.00" height="9.00" fill="#2e3192"/>
<rect x="792.00" y="172.60" width="1.50" height="17.00" fill="#2e3192"/>
<rect x="855.40" y="172.60" width="1.40" height="17.00" fill="#2e3192"/>
<rect x="858.20" y="172.60" width="1.40" height="17.00" fill="#2e3192"/>
<rect x="872.40" y="172.60" width="2.20" height="17.00" fill="#2e3192"/>
<rect x="872.40" y="176.60" width="16.10" height="9.00" fill="#2e3192"/>
<text x="781.60" y="184.60" font-size="11.3" fill="#2e3192" stroke="#2e3192" stroke-width="0.25" text-anchor="end" font-style="italic">NUDT4</text>
<line x1="792.00" y1="200.50" x2="885.50" y2="200.50" stroke="#2e3192" stroke-width="2.2"/>
<path d="M795.40,196.40L799.00,200.50L795.40,204.60M804.90,196.40L808.50,200.50L804.90,204.60M814.40,196.40L818.00,200.50L814.40,204.60M823.90,196.40L827.50,200.50L823.90,204.60M833.40,196.40L837.00,200.50L833.40,204.60M842.90,196.40L846.50,200.50L842.90,204.60M852.40,196.40L856.00,200.50L852.40,204.60M861.90,196.40L865.50,200.50L861.90,204.60M871.40,196.40L875.00,200.50L871.40,204.60" fill="none" stroke="#6674c4" stroke-width="1.8" stroke-linejoin="miter"/>
<rect x="791.20" y="196.00" width="3.00" height="9.00" fill="#2e3192"/>
<rect x="855.40" y="196.00" width="1.40" height="9.00" fill="#2e3192"/>
<rect x="858.20" y="196.00" width="1.40" height="9.00" fill="#2e3192"/>
<rect x="872.00" y="196.00" width="13.50" height="9.00" fill="#2e3192"/>
<text x="781.60" y="204.00" font-size="11.3" fill="#2e3192" stroke="#2e3192" stroke-width="0.25" text-anchor="end" font-style="italic">NUDT4P1</text>
<path d="M515.00,236.40L515.00,235.59L515.60,235.59L515.60,236.40L516.20,236.40L516.20,236.01L516.80,236.01L516.80,235.73L517.40,235.73L517.40,235.88L518.00,235.88L518.00,236.22L518.60,236.22L518.60,234.16L519.20,234.16L519.20,235.39L519.80,235.39L519.80,235.83L520.40,235.83L520.40,235.10L521.00,235.10L521.00,236.06L521.60,236.06L521.60,233.87L522.20,233.87L522.20,230.91L522.80,230.91L522.80,229.72L523.40,229.72L523.40,231.77L524.00,231.77L524.00,235.09L524.60,235.09L524.60,235.88L525.20,235.88L525.20,236.34L525.80,236.34L525.80,236.39L526.40,236.39L526.40,234.50L527.00,234.50L527.00,236.40L527.60,236.40L527.60,236.29L528.20,236.29L528.20,236.33L528.80,236.33L528.80,235.43L529.40,235.43L529.40,236.37L530.00,236.37L530.00,235.85L530.60,235.85L530.60,236.25L531.20,236.25L531.20,236.29L531.80,236.29L531.80,235.35L532.40,235.35L532.40,235.88L533.00,235.88L533.00,236.40L533.60,236.40L533.60,236.17L534.20,236.17L534.20,233.96L534.80,233.96L534.80,234.96L535.40,234.96L535.40,236.40L536.00,236.40L536.00,236.40L536.60,236.40L536.60,235.80L537.20,235.80L537.20,236.40L537.80,236.40L537.80,236.40L538.40,236.40L538.40,236.40L539.00,236.40L539.00,235.46L539.60,235.46L539.60,236.40L540.20,236.40L540.20,236.17L540.80,236.17L540.80,236.40L541.40,236.40L541.40,235.87L542.00,235.87L542.00,236.10L542.60,236.10L542.60,236.29L543.20,236.29L543.20,236.24L543.80,236.24L543.80,234.79L544.40,234.79L544.40,233.67L545.00,233.67L545.00,233.67L545.60,233.67L545.60,234.79L546.20,234.79L546.20,236.26L546.80,236.26L546.80,236.32L547.40,236.32L547.40,236.13L548.00,236.13L548.00,233.73L548.60,233.73L548.60,234.87L549.20,234.87L549.20,236.40L549.80,236.40L549.80,236.33L550.40,236.33L550.40,236.26L551.00,236.26L551.00,235.99L551.60,235.99L551.60,236.40L552.20,236.40L552.20,236.26L552.80,236.26L552.80,235.47L553.40,235.47L553.40,235.98L554.00,235.98L554.00,234.67L554.60,234.67L554.60,236.40L555.20,236.40L555.20,236.40L555.80,236.40L555.80,233.62L556.40,233.62L556.40,236.06L557.00,236.06L557.00,234.62L557.60,234.62L557.60,235.44L558.20,235.44L558.20,236.40L558.80,236.40L558.80,236.03L559.40,236.03L559.40,233.80L560.00,233.80L560.00,233.52L560.60,233.52L560.60,236.28L561.20,236.28L561.20,234.88L561.80,234.88L561.80,236.09L562.40,236.09L562.40,236.40L563.00,236.40L563.00,232.12L563.60,232.12L563.60,229.12L564.20,229.12L564.20,229.12L564.80,229.12L564.80,232.12L565.40,232.12L565.40,236.07L566.00,236.07L566.00,234.94L566.60,234.94L566.60,235.79L567.20,235.79L567.20,234.94L567.80,234.94L567.80,234.61L568.40,234.61L568.40,235.67L569.00,235.67L569.00,236.07L569.60,236.07L569.60,236.21L570.20,236.21L570.20,235.49L570.80,235.49L570.80,236.01L571.40,236.01L571.40,234.86L572.00,234.86L572.00,236.40L572.60,236.40L572.60,235.71L573.20,235.71L573.20,234.69L573.80,234.69L573.80,235.82L574.40,235.82L574.40,235.68L575.00,235.68L575.00,233.95L575.60,233.95L575.60,236.36L576.20,236.36L576.20,236.25L576.80,236.25L576.80,235.44L577.40,235.44L577.40,232.90L578.00,232.90L578.00,233.59L578.60,233.59L578.60,235.28L579.20,235.28L579.20,233.98L579.80,233.98L579.80,233.45L580.40,233.45L580.40,234.36L581.00,234.36L581.00,235.82L581.60,235.82L581.60,236.31L582.20,236.31L582.20,234.80L582.80,234.80L582.80,235.39L583.40,235.39L583.40,234.71L584.00,234.71L584.00,236.40L584.60,236.40L584.60,234.81L585.20,234.81L585.20,236.40L585.80,236.40L585.80,235.76L586.40,235.76L586.40,236.40L587.00,236.40L587.00,236.40L587.60,236.40L587.60,235.60L588.20,235.60L588.20,234.63L588.80,234.63L588.80,236.40L589.40,236.40L589.40,236.14L590.00,236.14L590.00,235.39L590.60,235.39L590.60,235.49L591.20,235.49L591.20,236.40L591.80,236.40L591.80,236.39L592.40,236.39L592.40,236.03L593.00,236.03L593.00,236.12L593.60,236.12L593.60,234.72L594.20,234.72L594.20,236.18L594.80,236.18L594.80,236.23L595.40,236.23L595.40,236.40L596.00,236.40L596.00,236.13L596.60,236.13L596.60,234.16L597.20,234.16L597.20,236.25L597.80,236.25L597.80,235.06L598.40,235.06L598.40,236.40L599.00,236.40L599.00,236.11L599.60,236.11L599.60,236.40L600.20,236.40L600.20,234.17L600.80,234.17L600.80,232.76L601.40,232.76L601.40,232.76L602.00,232.76L602.00,234.26L602.60,234.26L602.60,236.40L603.20,236.40L603.20,235.40L603.80,235.40L603.80,236.11L604.40,236.11L604.40,234.53L605.00,234.53L605.00,235.91L605.60,235.91L605.60,235.74L606.20,235.74L606.20,234.39L606.80,234.39L606.80,234.49L607.40,234.49L607.40,236.40L608.00,236.40L608.00,236.40L608.60,236.40L608.60,236.33L609.20,236.33L609.20,236.18L609.80,236.18L609.80,235.65L610.40,235.65L610.40,234.95L611.00,234.95L611.00,234.70L611.60,234.70L611.60,233.94L612.20,233.94L612.20,234.38L612.80,234.38L612.80,235.47L613.40,235.47L613.40,236.40L614.00,236.40L614.00,236.40L614.60,236.40L614.60,236.31L615.20,236.31L615.20,236.11L615.80,236.11L615.80,236.29L616.40,236.29L616.40,235.81L617.00,235.81L617.00,236.40L617.60,236.40L617.60,236.11L618.20,236.11L618.20,236.40L618.80,236.40L618.80,235.28L619.40,235.28L619.40,233.26L620.00,233.26L620.00,236.40L620.60,236.40L620.60,236.40L621.20,236.40L621.20,235.80L621.80,235.80L621.80,233.84L622.40,233.84L622.40,236.12L623.00,236.12L623.00,236.40L623.60,236.40L623.60,235.09L624.20,235.09L624.20,236.40L624.80,236.40L624.80,236.40L625.40,236.40L625.40,234.69L626.00,234.69L626.00,230.51L626.60,230.51L626.60,236.21L627.20,236.21L627.20,230.53L627.80,230.53L627.80,235.91L628.40,235.91L628.40,233.21L629.00,233.21L629.00,231.64L629.60,231.64L629.60,232.09L630.20,232.09L630.20,234.12L630.80,234.12L630.80,236.30L631.40,236.30L631.40,236.15L632.00,236.15L632.00,236.40L632.60,236.40L632.60,235.87L633.20,235.87L633.20,236.25L633.80,236.25L633.80,235.91L634.40,235.91L634.40,233.35L635.00,233.35L635.00,231.64L635.60,231.64L635.60,232.09L636.20,232.09L636.20,234.12L636.80,234.12L636.80,236.40L637.40,236.40L637.40,235.28L638.00,235.28L638.00,236.36L638.60,236.36L638.60,236.40L639.20,236.40L639.20,236.39L639.80,236.39L639.80,236.40L640.40,236.40L640.40,236.39L641.00,236.39L641.00,235.99L641.60,235.99L641.60,236.40L642.20,236.40L642.20,236.40L642.80,236.40L642.80,235.19L643.40,235.19L643.40,233.91L644.00,233.91L644.00,236.40L644.60,236.40L644.60,236.35L645.20,236.35L645.20,235.65L645.80,235.65L645.80,234.76L646.40,234.76L646.40,236.40L647.00,236.40L647.00,235.81L647.60,235.81L647.60,234.04L648.20,234.04L648.20,236.26L648.80,236.26L648.80,233.84L649.40,233.84L649.40,231.13L650.00,231.13L650.00,235.93L650.60,235.93L650.60,232.76L651.20,232.76L651.20,236.22L651.80,236.22L651.80,235.74L652.40,235.74L652.40,235.79L653.00,235.79L653.00,236.40L653.60,236.40L653.60,235.59L654.20,235.59L654.20,235.71L654.80,235.71L654.80,233.48L655.40,233.48L655.40,232.50L656.00,232.50L656.00,234.18L656.60,234.18L656.60,236.27L657.20,236.27L657.20,235.12L657.80,235.12L657.80,233.56L658.40,233.56L658.40,236.33L659.00,236.33L659.00,235.43L659.60,235.43L659.60,236.40L660.20,236.40L660.20,236.40L660.80,236.40L660.80,235.46L661.40,235.46L661.40,234.26L662.00,234.26L662.00,235.67L662.60,235.67L662.60,235.74L663.20,235.74L663.20,236.38L663.80,236.38L663.80,233.33L664.40,233.33L664.40,233.08L665.00,233.08L665.00,236.40L665.60,236.40L665.60,236.40L666.20,236.40L666.20,234.48L666.80,234.48L666.80,235.06L667.40,235.06L667.40,234.12L668.00,234.12L668.00,234.12L668.60,234.12L668.60,235.06L669.20,235.06L669.20,236.40L669.80,236.40L669.80,236.19L670.40,236.19L670.40,236.01L671.00,236.01L671.00,234.16L671.60,234.16L671.60,235.40L672.20,235.40L672.20,235.76L672.80,235.76L672.80,235.72L673.40,235.72L673.40,236.40L674.00,236.40L674.00,234.77L674.60,234.77L674.60,235.69L675.20,235.69L675.20,236.40L675.80,236.40L675.80,234.72L676.40,234.72L676.40,236.30L677.00,236.30L677.00,236.40L677.60,236.40L677.60,236.15L678.20,236.15L678.20,236.22L678.80,236.22L678.80,236.40L679.40,236.40L679.40,234.64L680.00,234.64L680.00,231.19L680.60,231.19L680.60,234.43L681.20,234.43L681.20,235.73L681.80,235.73L681.80,235.88L682.40,235.88L682.40,236.40L683.00,236.40L683.00,235.89L683.60,235.89L683.60,236.29L684.20,236.29L684.20,236.03L684.80,236.03L684.80,236.40L685.40,236.40L685.40,235.44L686.00,235.44L686.00,233.17L686.60,233.17L686.60,232.67L687.20,232.67L687.20,234.12L687.80,234.12L687.80,236.40L688.40,236.40L688.40,236.40L689.00,236.40L689.00,236.40L689.60,236.40L689.60,234.93L690.20,234.93L690.20,236.40L690.80,236.40L690.80,234.69L691.40,234.69L691.40,236.40L692.00,236.40L692.00,236.34L692.60,236.34L692.60,234.84L693.20,234.84L693.20,236.02L693.80,236.02L693.80,236.40L694.40,236.40L694.40,236.11L695.00,236.11L695.00,234.03L695.60,234.03L695.60,235.91L696.20,235.91L696.20,236.20L696.80,236.20L696.80,236.40L697.40,236.40L697.40,236.40L698.00,236.40L698.00,236.22L698.60,236.22L698.60,236.40L699.20,236.40L699.20,235.92L699.80,235.92L699.80,236.40L700.40,236.40L700.40,235.62L701.00,235.62L701.00,235.13L701.60,235.13L701.60,236.40L702.20,236.40L702.20,236.40L702.80,236.40L702.80,235.42L703.40,235.42L703.40,232.89L704.00,232.89L704.00,235.61L704.60,235.61L704.60,235.57L705.20,235.57L705.20,236.34L705.80,236.34L705.80,235.15L706.40,235.15L706.40,235.82L707.00,235.82L707.00,234.36L707.60,234.36L707.60,233.45L708.20,233.45L708.20,233.98L708.80,233.98L708.80,235.28L709.40,235.28L709.40,236.40L710.00,236.40L710.00,235.23L710.60,235.23L710.60,234.95L711.20,234.95L711.20,236.40L711.80,236.40L711.80,235.91L712.40,235.91L712.40,236.40L713.00,236.40L713.00,236.06L713.60,236.06L713.60,236.40L714.20,236.40L714.20,235.50L714.80,235.50L714.80,232.23L715.40,232.23L715.40,236.32L716.00,236.32L716.00,236.30L716.60,236.30L716.60,235.18L717.20,235.18L717.20,235.00L717.80,235.00L717.80,236.40L718.40,236.40L718.40,235.68L719.00,235.68L719.00,235.18L719.60,235.18L719.60,236.40L720.20,236.40L720.20,235.88L720.80,235.88L720.80,234.79L721.40,234.79L721.40,236.02L722.00,236.02L722.00,235.64L722.60,235.64L722.60,234.30L723.20,234.30L723.20,234.35L723.80,234.35L723.80,235.06L724.40,235.06L724.40,234.12L725.00,234.12L725.00,234.12L725.60,234.12L725.60,235.06L726.20,235.06L726.20,235.63L726.80,235.63L726.80,236.35L727.40,236.35L727.40,236.26L728.00,236.26L728.00,236.40L728.60,236.40L728.60,234.04L729.20,234.04L729.20,236.40L729.80,236.40L729.80,235.38L730.40,235.38L730.40,236.40L731.00,236.40L731.00,236.40L731.60,236.40L731.60,235.83L732.20,235.83L732.20,235.05L732.80,235.05L732.80,234.70L733.40,234.70L733.40,234.51L734.00,234.51L734.00,236.33L734.60,236.33L734.60,236.03L735.20,236.03L735.20,234.56L735.80,234.56L735.80,236.40L736.40,236.40L736.40,235.71L737.00,235.71L737.00,236.07L737.60,236.07L737.60,235.66L738.20,235.66L738.20,236.40L738.80,236.40L738.80,235.28L739.40,235.28L739.40,233.98L740.00,233.98L740.00,233.45L740.60,233.45L740.60,234.36L741.20,234.36L741.20,235.82L741.80,235.82L741.80,236.14L742.40,236.14L742.40,236.22L743.00,236.22L743.00,236.19L743.60,236.19L743.60,236.16L744.20,236.16L744.20,236.40L744.80,236.40L744.80,236.28L745.40,236.28L745.40,234.60L746.00,234.60L746.00,235.83L746.60,235.83L746.60,235.22L747.20,235.22L747.20,234.25L747.80,234.25L747.80,235.48L748.40,235.48L748.40,234.68L749.00,234.68L749.00,236.02L749.60,236.02L749.60,235.20L750.20,235.20L750.20,236.40L750.80,236.40L750.80,234.79L751.40,234.79L751.40,233.67L752.00,233.67L752.00,233.67L752.60,233.67L752.60,234.79L753.20,234.79L753.20,235.56L753.80,235.56L753.80,236.40L754.40,236.40L754.40,236.40L755.00,236.40L755.00,233.84L755.60,233.84L755.60,236.40L756.20,236.40L756.20,236.26L756.80,236.26L756.80,233.98L757.40,233.98L757.40,235.73L758.00,235.73L758.00,236.23L758.60,236.23L758.60,235.47L759.20,235.47L759.20,234.38L759.80,234.38L759.80,233.94L760.40,233.94L760.40,234.70L761.00,234.70L761.00,234.85L761.60,234.85L761.60,236.27L762.20,236.27L762.20,236.40L762.80,236.40L762.80,235.59L763.40,235.59L763.40,236.40L764.00,236.40L764.00,236.38L764.60,236.38L764.60,236.40L765.20,236.40L765.20,236.40L765.80,236.40L765.80,235.76L766.40,235.76L766.40,236.40L767.00,236.40L767.00,236.07L767.60,236.07L767.60,236.40L768.20,236.40L768.20,234.77L768.80,234.77L768.80,235.23L769.40,235.23L769.40,232.85L770.00,232.85L770.00,230.60L770.60,230.60L770.60,229.69L771.20,229.69L771.20,231.25L771.80,231.25L771.80,233.77L772.40,233.77L772.40,236.40L773.00,236.40L773.00,236.40L773.60,236.40L773.60,236.40L774.20,236.40L774.20,234.92L774.80,234.92L774.80,236.32L775.40,236.32L775.40,234.23L776.00,234.23L776.00,235.61L776.60,235.61L776.60,232.32L777.20,232.32L777.20,236.40L777.80,236.40L777.80,235.96L778.40,235.96L778.40,236.40L779.00,236.40L779.00,236.40L779.60,236.40L779.60,236.40L780.20,236.40L780.20,236.40L780.80,236.40L780.80,235.58L781.40,235.58L781.40,236.14L782.00,236.14L782.00,235.52L782.60,235.52L782.60,235.81L783.20,235.81L783.20,233.85L783.80,233.85L783.80,235.07L784.40,235.07L784.40,236.40L785.00,236.40L785.00,236.40L785.60,236.40L785.60,232.87L786.20,232.87L786.20,236.40L786.80,236.40L786.80,235.30L787.40,235.30L787.40,232.52L788.00,232.52L788.00,230.80L788.60,230.80L788.60,231.80L789.20,231.80L789.20,229.56L789.80,229.56L789.80,235.63L790.40,235.63L790.40,229.42L791.00,229.42L791.00,235.46L791.60,235.46L791.60,235.63L792.20,235.63L792.20,236.33L792.80,236.33L792.80,234.64L793.40,234.64L793.40,233.18L794.00,233.18L794.00,218.47L794.60,218.47L794.60,218.33L795.20,218.33L795.20,219.63L795.80,219.63L795.80,220.20L796.40,220.20L796.40,218.57L797.00,218.57L797.00,216.74L797.60,216.74L797.60,217.97L798.20,217.97L798.20,236.40L798.80,236.40L798.80,236.01L799.40,236.01L799.40,236.21L800.00,236.21L800.00,236.24L800.60,236.24L800.60,236.40L801.20,236.40L801.20,235.49L801.80,235.49L801.80,236.40L802.40,236.40L802.40,234.65L803.00,234.65L803.00,232.02L803.60,232.02L803.60,232.03L804.20,232.03L804.20,234.65L804.80,234.65L804.80,234.81L805.40,234.81L805.40,235.67L806.00,235.67L806.00,232.01L806.60,232.01L806.60,230.54L807.20,230.54L807.20,233.07L807.80,233.07L807.80,235.56L808.40,235.56L808.40,236.40L809.00,236.40L809.00,236.40L809.60,236.40L809.60,236.17L810.20,236.17L810.20,234.99L810.80,234.99L810.80,234.89L811.40,234.89L811.40,236.40L812.00,236.40L812.00,234.61L812.60,234.61L812.60,236.32L813.20,236.32L813.20,235.35L813.80,235.35L813.80,236.14L814.40,236.14L814.40,236.40L815.00,236.40L815.00,236.40L815.60,236.40L815.60,235.71L816.20,235.71L816.20,236.19L816.80,236.19L816.80,236.40L817.40,236.40L817.40,235.48L818.00,235.48L818.00,236.11L818.60,236.11L818.60,235.13L819.20,235.13L819.20,236.40L819.80,236.40L819.80,236.40L820.40,236.40L820.40,232.92L821.00,232.92L821.00,230.48L821.60,230.48L821.60,230.48L822.20,230.48L822.20,232.92L822.80,232.92L822.80,236.29L823.40,236.29L823.40,236.32L824.00,236.32L824.00,235.89L824.60,235.89L824.60,235.52L825.20,235.52L825.20,234.81L825.80,234.81L825.80,236.18L826.40,236.18L826.40,236.31L827.00,236.31L827.00,236.32L827.60,236.32L827.60,235.54L828.20,235.54L828.20,236.40L828.80,236.40L828.80,234.98L829.40,234.98L829.40,236.40L830.00,236.40L830.00,234.42L830.60,234.42L830.60,235.02L831.20,235.02L831.20,236.40L831.80,236.40L831.80,236.04L832.40,236.04L832.40,234.49L833.00,234.49L833.00,236.22L833.60,236.22L833.60,236.25L834.20,236.25L834.20,232.22L834.80,232.22L834.80,236.40L835.40,236.40L835.40,236.02L836.00,236.02L836.00,235.58L836.60,235.58L836.60,235.28L837.20,235.28L837.20,233.98L837.80,233.98L837.80,233.45L838.40,233.45L838.40,234.36L839.00,234.36L839.00,234.37L839.60,234.37L839.60,232.97L840.20,232.97L840.20,236.12L840.80,236.12L840.80,235.88L841.40,235.88L841.40,235.58L842.00,235.58L842.00,235.20L842.60,235.20L842.60,236.40L843.20,236.40L843.20,234.36L843.80,234.36L843.80,234.79L844.40,234.79L844.40,236.12L845.00,236.12L845.00,234.04L845.60,234.04L845.60,236.33L846.20,236.33L846.20,236.40L846.80,236.40L846.80,236.40L847.40,236.40L847.40,233.52L848.00,233.52L848.00,235.47L848.60,235.47L848.60,235.27L849.20,235.27L849.20,235.23L849.80,235.23L849.80,236.25L850.40,236.25L850.40,235.66L851.00,235.66L851.00,236.40L851.60,236.40L851.60,235.92L852.20,235.92L852.20,236.40L852.80,236.40L852.80,236.40L853.40,236.40L853.40,235.50L854.00,235.50L854.00,234.36L854.60,234.36L854.60,233.45L855.20,233.45L855.20,233.98L855.80,233.98L855.80,235.28L856.40,235.28L856.40,234.07L857.00,234.07L857.00,236.40L857.60,236.40L857.60,236.40L858.20,236.40L858.20,235.20L858.80,235.20L858.80,236.13L859.40,236.13L859.40,236.40L860.00,236.40L860.00,236.27L860.60,236.27L860.60,236.40L861.20,236.40L861.20,235.02L861.80,235.02L861.80,235.90L862.40,235.90L862.40,236.40L863.00,236.40L863.00,234.38L863.60,234.38L863.60,236.21L864.20,236.21L864.20,235.23L864.80,235.23L864.80,236.40L865.40,236.40L865.40,236.40L866.00,236.40L866.00,236.21L866.60,236.21L866.60,235.10L867.20,235.10L867.20,233.57L867.80,233.57L867.80,232.96L868.40,232.96L868.40,234.02L869.00,234.02L869.00,235.72L869.60,235.72L869.60,235.75L870.20,235.75L870.20,236.06L870.80,236.06L870.80,234.97L871.40,234.97L871.40,236.40L872.00,236.40L872.00,235.99L872.60,235.99L872.60,232.15L873.20,232.15L873.20,236.40L873.80,236.40L873.80,235.62L874.40,235.62L874.40,236.27L875.00,236.27L875.00,234.55L875.60,234.55L875.60,233.00L876.20,233.00L876.20,236.31L876.80,236.31L876.80,235.02L877.40,235.02L877.40,235.06L878.00,235.06L878.00,235.91L878.60,235.91L878.60,233.35L879.20,233.35L879.20,231.64L879.80,231.64L879.80,232.09L880.40,232.09L880.40,234.12L881.00,234.12L881.00,236.20L881.60,236.20L881.60,235.43L882.20,235.43L882.20,236.24L882.80,236.24L882.80,236.36L883.40,236.36L883.40,236.24L884.00,236.24L884.00,236.40L884.60,236.40L884.60,236.40L885.20,236.40L885.20,236.40L885.80,236.40L885.80,234.26L886.40,234.26L886.40,232.76L887.00,232.76L887.00,232.76L887.60,232.76L887.60,234.26L888.20,234.26L888.20,234.51L888.80,234.51L888.80,235.28L889.40,235.28L889.40,236.40L890.00,236.40L890.00,233.42L890.60,233.42L890.60,235.08L891.20,235.08L891.20,235.57L891.80,235.57L891.80,236.19L892.40,236.19L892.40,236.40L893.00,236.40L893.00,236.40Z" fill="#8c1c1a"/>
<path d="M515.00,264.50L515.00,263.53L515.60,263.53L515.60,260.43L516.20,260.43L516.20,264.50L516.80,264.50L516.80,264.50L517.40,264.50L517.40,264.28L518.00,264.28L518.00,264.28L518.60,264.28L518.60,263.32L519.20,263.32L519.20,262.81L519.80,262.81L519.80,264.50L520.40,264.50L520.40,264.32L521.00,264.32L521.00,264.47L521.60,264.47L521.60,262.64L522.20,262.64L522.20,260.46L522.80,260.46L522.80,259.59L523.40,259.59L523.40,261.09L524.00,261.09L524.00,263.53L524.60,263.53L524.60,264.22L525.20,264.22L525.20,264.50L525.80,264.50L525.80,264.15L526.40,264.15L526.40,264.07L527.00,264.07L527.00,264.43L527.60,264.43L527.60,264.15L528.20,264.15L528.20,263.82L528.80,263.82L528.80,262.61L529.40,262.61L529.40,264.40L530.00,264.40L530.00,264.26L530.60,264.26L530.60,263.85L531.20,263.85L531.20,264.40L531.80,264.40L531.80,264.50L532.40,264.50L532.40,263.52L533.00,263.52L533.00,264.50L533.60,264.50L533.60,264.50L534.20,264.50L534.20,264.29L534.80,264.29L534.80,263.29L535.40,263.29L535.40,263.80L536.00,263.80L536.00,264.22L536.60,264.22L536.60,264.50L537.20,264.50L537.20,264.50L537.80,264.50L537.80,263.87L538.40,263.87L538.40,263.58L539.00,263.58L539.00,263.52L539.60,263.52L539.60,263.87L540.20,263.87L540.20,264.50L540.80,264.50L540.80,263.73L541.40,263.73L541.40,263.84L542.00,263.84L542.00,264.50L542.60,264.50L542.60,261.16L543.20,261.16L543.20,263.89L543.80,263.89L543.80,263.80L544.40,263.80L544.40,264.16L545.00,264.16L545.00,263.95L545.60,263.95L545.60,264.21L546.20,264.21L546.20,263.33L546.80,263.33L546.80,264.50L547.40,264.50L547.40,261.19L548.00,261.19L548.00,250.58L548.60,250.58L548.60,240.83L549.20,240.83L549.20,240.83L549.80,240.83L549.80,250.58L550.40,250.58L550.40,248.28L551.00,248.28L551.00,245.75L551.60,245.75L551.60,250.11L552.20,250.11L552.20,257.16L552.80,257.16L552.80,261.65L553.40,261.65L553.40,259.15L554.00,259.15L554.00,255.39L554.60,255.39L554.60,255.39L555.20,255.39L555.20,259.15L555.80,259.15L555.80,262.31L556.40,262.31L556.40,263.90L557.00,263.90L557.00,264.35L557.60,264.35L557.60,263.29L558.20,263.29L558.20,263.07L558.80,263.07L558.80,263.38L559.40,263.38L559.40,264.50L560.00,264.50L560.00,264.50L560.60,264.50L560.60,262.45L561.20,262.45L561.20,264.18L561.80,264.18L561.80,263.16L562.40,263.16L562.40,264.50L563.00,264.50L563.00,264.10L563.60,264.10L563.60,264.50L564.20,264.50L564.20,264.20L564.80,264.20L564.80,264.50L565.40,264.50L565.40,262.66L566.00,262.66L566.00,263.50L566.60,263.50L566.60,263.90L567.20,263.90L567.20,264.50L567.80,264.50L567.80,264.16L568.40,264.16L568.40,263.92L569.00,263.92L569.00,262.46L569.60,262.46L569.60,261.55L570.20,261.55L570.20,262.08L570.80,262.08L570.80,262.82L571.40,262.82L571.40,264.17L572.00,264.17L572.00,264.27L572.60,264.27L572.60,264.50L573.20,264.50L573.20,264.43L573.80,264.43L573.80,264.50L574.40,264.50L574.40,262.77L575.00,262.77L575.00,264.50L575.60,264.50L575.60,264.11L576.20,264.11L576.20,261.68L576.80,261.68L576.80,264.50L577.40,264.50L577.40,264.50L578.00,264.50L578.00,263.71L578.60,263.71L578.60,263.70L579.20,263.70L579.20,263.06L579.80,263.06L579.80,264.50L580.40,264.50L580.40,264.50L581.00,264.50L581.00,263.46L581.60,263.46L581.60,264.01L582.20,264.01L582.20,261.45L582.80,261.45L582.80,259.74L583.40,259.74L583.40,260.19L584.00,260.19L584.00,262.22L584.60,262.22L584.60,262.08L585.20,262.08L585.20,263.75L585.80,263.75L585.80,263.52L586.40,263.52L586.40,264.43L587.00,264.43L587.00,264.50L587.60,264.50L587.60,263.03L588.20,263.03L588.20,263.67L588.80,263.67L588.80,262.79L589.40,262.79L589.40,264.50L590.00,264.50L590.00,263.69L590.60,263.69L590.60,262.09L591.20,262.09L591.20,263.58L591.80,263.58L591.80,264.40L592.40,264.40L592.40,263.00L593.00,263.00L593.00,264.22L593.60,264.22L593.60,262.48L594.20,262.48L594.20,262.08L594.80,262.08L594.80,261.55L595.40,261.55L595.40,262.46L596.00,262.46L596.00,263.92L596.60,263.92L596.60,263.48L597.20,263.48L597.20,264.42L597.80,264.42L597.80,264.31L598.40,264.31L598.40,264.50L599.00,264.50L599.00,264.50L599.60,264.50L599.60,264.04L600.20,264.04L600.20,263.48L600.80,263.48L600.80,261.29L601.40,261.29L601.40,259.05L602.00,259.05L602.00,256.64L602.60,256.64L602.60,258.04L603.20,258.04L603.20,261.52L603.80,261.52L603.80,264.50L604.40,264.50L604.40,263.71L605.00,263.71L605.00,264.47L605.60,264.47L605.60,263.71L606.20,263.71L606.20,264.50L606.80,264.50L606.80,264.50L607.40,264.50L607.40,264.44L608.00,264.44L608.00,261.82L608.60,261.82L608.60,263.46L609.20,263.46L609.20,263.91L609.80,263.91L609.80,264.24L610.40,264.24L610.40,262.91L611.00,262.91L611.00,264.50L611.60,264.50L611.60,264.26L612.20,264.26L612.20,264.40L612.80,264.40L612.80,263.20L613.40,263.20L613.40,263.42L614.00,263.42L614.00,264.50L614.60,264.50L614.60,264.22L615.20,264.22L615.20,264.36L615.80,264.36L615.80,264.50L616.40,264.50L616.40,264.02L617.00,264.02L617.00,262.80L617.60,262.80L617.60,262.04L618.20,262.04L618.20,262.48L618.80,262.48L618.80,262.43L619.40,262.43L619.40,264.50L620.00,264.50L620.00,264.50L620.60,264.50L620.60,262.88L621.20,262.88L621.20,263.88L621.80,263.88L621.80,264.40L622.40,264.40L622.40,264.06L623.00,264.06L623.00,264.50L623.60,264.50L623.60,264.32L624.20,264.32L624.20,264.05L624.80,264.05L624.80,264.32L625.40,264.32L625.40,264.50L626.00,264.50L626.00,264.50L626.60,264.50L626.60,264.40L627.20,264.40L627.20,262.95L627.80,262.95L627.80,264.50L628.40,264.50L628.40,264.02L629.00,264.02L629.00,263.36L629.60,263.36L629.60,261.51L630.20,261.51L630.20,260.50L630.80,260.50L630.80,261.51L631.40,261.51L631.40,263.36L632.00,263.36L632.00,260.02L632.60,260.02L632.60,264.19L633.20,264.19L633.20,262.99L633.80,262.99L633.80,264.50L634.40,264.50L634.40,262.79L635.00,262.79L635.00,264.30L635.60,264.30L635.60,263.91L636.20,263.91L636.20,264.50L636.80,264.50L636.80,264.14L637.40,264.14L637.40,264.48L638.00,264.48L638.00,264.50L638.60,264.50L638.60,263.57L639.20,263.57L639.20,262.48L639.80,262.48L639.80,262.04L640.40,262.04L640.40,262.80L641.00,262.80L641.00,264.02L641.60,264.02L641.60,264.50L642.20,264.50L642.20,264.50L642.80,264.50L642.80,262.38L643.40,262.38L643.40,264.50L644.00,264.50L644.00,264.50L644.60,264.50L644.60,263.46L645.20,263.46L645.20,264.23L645.80,264.23L645.80,264.50L646.40,264.50L646.40,263.46L647.00,263.46L647.00,260.98L647.60,260.98L647.60,264.50L648.20,264.50L648.20,264.50L648.80,264.50L648.80,258.07L649.40,258.07L649.40,263.63L650.00,263.63L650.00,263.59L650.60,263.59L650.60,264.50L651.20,264.50L651.20,264.50L651.80,264.50L651.80,264.50L652.40,264.50L652.40,264.50L653.00,264.50L653.00,263.73L653.60,263.73L653.60,261.78L654.20,261.78L654.20,260.57L654.80,260.57L654.80,261.27L655.40,261.27L655.40,263.01L656.00,263.01L656.00,263.87L656.60,263.87L656.60,262.91L657.20,262.91L657.20,264.10L657.80,264.10L657.80,263.89L658.40,263.89L658.40,264.50L659.00,264.50L659.00,264.47L659.60,264.47L659.60,264.06L660.20,264.06L660.20,264.50L660.80,264.50L660.80,263.66L661.40,263.66L661.40,263.98L662.00,263.98L662.00,263.82L662.60,263.82L662.60,261.19L663.20,261.19L663.20,264.07L663.80,264.07L663.80,264.50L664.40,264.50L664.40,264.38L665.00,264.38L665.00,263.74L665.60,263.74L665.60,262.06L666.20,262.06L666.20,260.69L666.80,260.69L666.80,261.05L667.40,261.05L667.40,262.68L668.00,262.68L668.00,264.50L668.60,264.50L668.60,263.67L669.20,263.67L669.20,263.76L669.80,263.76L669.80,264.47L670.40,264.47L670.40,262.58L671.00,262.58L671.00,264.33L671.60,264.33L671.60,264.50L672.20,264.50L672.20,264.37L672.80,264.37L672.80,261.02L673.40,261.02L673.40,260.88L674.00,260.88L674.00,263.15L674.60,263.15L674.60,263.97L675.20,263.97L675.20,263.13L675.80,263.13L675.80,263.19L676.40,263.19L676.40,262.75L677.00,262.75L677.00,264.13L677.60,264.13L677.60,263.69L678.20,263.69L678.20,264.50L678.80,264.50L678.80,264.45L679.40,264.45L679.40,264.50L680.00,264.50L680.00,264.38L680.60,264.38L680.60,264.50L681.20,264.50L681.20,264.49L681.80,264.49L681.80,264.50L682.40,264.50L682.40,263.55L683.00,263.55L683.00,264.41L683.60,264.41L683.60,264.50L684.20,264.50L684.20,264.03L684.80,264.03L684.80,264.50L685.40,264.50L685.40,264.34L686.00,264.34L686.00,264.24L686.60,264.24L686.60,264.27L687.20,264.27L687.20,262.56L687.80,262.56L687.80,264.50L688.40,264.50L688.40,264.24L689.00,264.24L689.00,264.50L689.60,264.50L689.60,262.43L690.20,262.43L690.20,263.73L690.80,263.73L690.80,261.78L691.40,261.78L691.40,260.57L692.00,260.57L692.00,261.27L692.60,261.27L692.60,263.01L693.20,263.01L693.20,263.22L693.80,263.22L693.80,264.06L694.40,264.06L694.40,264.29L695.00,264.29L695.00,264.17L695.60,264.17L695.60,263.82L696.20,263.82L696.20,264.50L696.80,264.50L696.80,263.37L697.40,263.37L697.40,260.15L698.00,260.15L698.00,263.87L698.60,263.87L698.60,263.68L699.20,263.68L699.20,263.43L699.80,263.43L699.80,264.50L700.40,264.50L700.40,264.50L701.00,264.50L701.00,263.40L701.60,263.40L701.60,262.82L702.20,262.82L702.20,263.90L702.80,263.90L702.80,263.20L703.40,263.20L703.40,264.50L704.00,264.50L704.00,261.67L704.60,261.67L704.60,264.46L705.20,264.46L705.20,264.50L705.80,264.50L705.80,264.50L706.40,264.50L706.40,264.49L707.00,264.49L707.00,264.45L707.60,264.45L707.60,264.50L708.20,264.50L708.20,264.50L708.80,264.50L708.80,262.89L709.40,262.89L709.40,261.77L710.00,261.77L710.00,261.77L710.60,261.77L710.60,262.89L711.20,262.89L711.20,262.20L711.80,262.20L711.80,262.50L712.40,262.50L712.40,262.78L713.00,262.78L713.00,263.72L713.60,263.72L713.60,264.50L714.20,264.50L714.20,263.58L714.80,263.58L714.80,263.80L715.40,263.80L715.40,261.99L716.00,261.99L716.00,263.68L716.60,263.68L716.60,264.36L717.20,264.36L717.20,264.45L717.80,264.45L717.80,264.50L718.40,264.50L718.40,264.25L719.00,264.25L719.00,264.05L719.60,264.05L719.60,264.48L720.20,264.48L720.20,262.91L720.80,262.91L720.80,263.01L721.40,263.01L721.40,261.68L722.00,261.68L722.00,263.64L722.60,263.64L722.60,264.05L723.20,264.05L723.20,264.50L723.80,264.50L723.80,261.35L724.40,261.35L724.40,262.22L725.00,262.22L725.00,262.22L725.60,262.22L725.60,263.16L726.20,263.16L726.20,263.01L726.80,263.01L726.80,262.55L727.40,262.55L727.40,264.50L728.00,264.50L728.00,263.74L728.60,263.74L728.60,262.53L729.20,262.53L729.20,264.50L729.80,264.50L729.80,263.24L730.40,263.24L730.40,261.84L731.00,261.84L731.00,264.50L731.60,264.50L731.60,264.50L732.20,264.50L732.20,264.50L732.80,264.50L732.80,263.43L733.40,263.43L733.40,264.50L734.00,264.50L734.00,263.28L734.60,263.28L734.60,264.50L735.20,264.50L735.20,263.22L735.80,263.22L735.80,263.38L736.40,263.38L736.40,262.17L737.00,262.17L737.00,264.16L737.60,264.16L737.60,264.50L738.20,264.50L738.20,263.63L738.80,263.63L738.80,263.38L739.40,263.38L739.40,262.08L740.00,262.08L740.00,261.55L740.60,261.55L740.60,262.46L741.20,262.46L741.20,261.90L741.80,261.90L741.80,262.33L742.40,262.33L742.40,264.50L743.00,264.50L743.00,262.90L743.60,262.90L743.60,264.46L744.20,264.46L744.20,264.23L744.80,264.23L744.80,261.92L745.40,261.92L745.40,263.43L746.00,263.43L746.00,264.48L746.60,264.48L746.60,263.97L747.20,263.97L747.20,264.16L747.80,264.16L747.80,263.71L748.40,263.71L748.40,264.34L749.00,264.34L749.00,263.13L749.60,263.13L749.60,262.83L750.20,262.83L750.20,263.92L750.80,263.92L750.80,264.50L751.40,264.50L751.40,263.64L752.00,263.64L752.00,264.50L752.60,264.50L752.60,263.34L753.20,263.34L753.20,264.50L753.80,264.50L753.80,264.50L754.40,264.50L754.40,264.50L755.00,264.50L755.00,264.07L755.60,264.07L755.60,263.38L756.20,263.38L756.20,262.08L756.80,262.08L756.80,261.55L757.40,261.55L757.40,262.46L758.00,262.46L758.00,263.01L758.60,263.01L758.60,262.99L759.20,262.99L759.20,263.14L759.80,263.14L759.80,263.73L760.40,263.73L760.40,264.50L761.00,264.50L761.00,264.25L761.60,264.25L761.60,264.15L762.20,264.15L762.20,263.56L762.80,263.56L762.80,264.30L763.40,264.30L763.40,264.47L764.00,264.47L764.00,261.49L764.60,261.49L764.60,264.28L765.20,264.28L765.20,263.44L765.80,263.44L765.80,263.49L766.40,263.49L766.40,262.49L767.00,262.49L767.00,264.50L767.60,264.50L767.60,263.52L768.20,263.52L768.20,264.35L768.80,264.35L768.80,263.43L769.40,263.43L769.40,263.91L770.00,263.91L770.00,264.50L770.60,264.50L770.60,262.68L771.20,262.68L771.20,261.05L771.80,261.05L771.80,260.69L772.40,260.69L772.40,262.06L773.00,262.06L773.00,264.11L773.60,264.11L773.60,264.08L774.20,264.08L774.20,264.50L774.80,264.50L774.80,264.50L775.40,264.50L775.40,264.50L776.00,264.50L776.00,263.16L776.60,263.16L776.60,264.50L777.20,264.50L777.20,262.60L777.80,262.60L777.80,264.50L778.40,264.50L778.40,264.34L779.00,264.34L779.00,264.00L779.60,264.00L779.60,264.50L780.20,264.50L780.20,264.50L780.80,264.50L780.80,264.36L781.40,264.36L781.40,264.45L782.00,264.45L782.00,264.50L782.60,264.50L782.60,263.72L783.20,263.72L783.20,264.50L783.80,264.50L783.80,261.91L784.40,261.91L784.40,264.50L785.00,264.50L785.00,264.28L785.60,264.28L785.60,263.38L786.20,263.38L786.20,257.07L786.80,257.07L786.80,251.54L787.40,251.54L787.40,246.92L788.00,246.92L788.00,243.44L788.60,243.44L788.60,242.04L789.20,242.04L789.20,244.45L789.80,244.45L789.80,248.35L790.40,248.35L790.40,253.29L791.00,253.29L791.00,259.09L791.60,259.09L791.60,264.10L792.20,264.10L792.20,262.19L792.80,262.19L792.80,263.95L793.40,263.95L793.40,264.29L794.00,264.29L794.00,264.50L794.60,264.50L794.60,240.90L795.20,240.90L795.20,242.42L795.80,242.42L795.80,240.89L796.40,240.89L796.40,242.39L797.00,242.39L797.00,241.66L797.60,241.66L797.60,263.59L798.20,263.59L798.20,262.75L798.80,262.75L798.80,261.99L799.40,261.99L799.40,262.83L800.00,262.83L800.00,262.70L800.60,262.70L800.60,262.74L801.20,262.74L801.20,261.53L801.80,261.53L801.80,262.15L802.40,262.15L802.40,261.87L803.00,261.87L803.00,263.34L803.60,263.34L803.60,263.26L804.20,263.26L804.20,264.12L804.80,264.12L804.80,264.30L805.40,264.30L805.40,264.50L806.00,264.50L806.00,263.20L806.60,263.20L806.60,264.50L807.20,264.50L807.20,262.96L807.80,262.96L807.80,264.50L808.40,264.50L808.40,264.47L809.00,264.47L809.00,262.76L809.60,262.76L809.60,263.25L810.20,263.25L810.20,264.45L810.80,264.45L810.80,263.67L811.40,263.67L811.40,264.37L812.00,264.37L812.00,264.50L812.60,264.50L812.60,264.50L813.20,264.50L813.20,263.79L813.80,263.79L813.80,262.89L814.40,262.89L814.40,261.77L815.00,261.77L815.00,261.77L815.60,261.77L815.60,262.89L816.20,262.89L816.20,263.63L816.80,263.63L816.80,263.85L817.40,263.85L817.40,264.48L818.00,264.48L818.00,263.25L818.60,263.25L818.60,263.75L819.20,263.75L819.20,263.81L819.80,263.81L819.80,262.29L820.40,262.29L820.40,263.46L821.00,263.46L821.00,263.19L821.60,263.19L821.60,264.50L822.20,264.50L822.20,264.50L822.80,264.50L822.80,262.26L823.40,262.26L823.40,264.50L824.00,264.50L824.00,264.47L824.60,264.47L824.60,264.50L825.20,264.50L825.20,264.50L825.80,264.50L825.80,264.12L826.40,264.12L826.40,263.24L827.00,263.24L827.00,264.50L827.60,264.50L827.60,264.50L828.20,264.50L828.20,264.50L828.80,264.50L828.80,262.37L829.40,262.37L829.40,262.22L830.00,262.22L830.00,262.22L830.60,262.22L830.60,263.16L831.20,263.16L831.20,264.22L831.80,264.22L831.80,264.50L832.40,264.50L832.40,264.50L833.00,264.50L833.00,263.11L833.60,263.11L833.60,261.74L834.20,261.74L834.20,264.15L834.80,264.15L834.80,264.50L835.40,264.50L835.40,263.86L836.00,263.86L836.00,263.72L836.60,263.72L836.60,263.70L837.20,263.70L837.20,264.50L837.80,264.50L837.80,264.50L838.40,264.50L838.40,264.50L839.00,264.50L839.00,263.08L839.60,263.08L839.60,263.45L840.20,263.45L840.20,264.50L840.80,264.50L840.80,263.47L841.40,263.47L841.40,263.29L842.00,263.29L842.00,263.93L842.60,263.93L842.60,263.51L843.20,263.51L843.20,264.13L843.80,264.13L843.80,263.72L844.40,263.72L844.40,263.08L845.00,263.08L845.00,260.76L845.60,260.76L845.60,259.50L846.20,259.50L846.20,260.76L846.80,260.76L846.80,263.08L847.40,263.08L847.40,264.50L848.00,264.50L848.00,259.71L848.60,259.71L848.60,264.25L849.20,264.25L849.20,259.85L849.80,259.85L849.80,264.50L850.40,264.50L850.40,262.33L851.00,262.33L851.00,264.11L851.60,264.11L851.60,263.15L852.20,263.15L852.20,264.17L852.80,264.17L852.80,262.80L853.40,262.80L853.40,263.74L854.00,263.74L854.00,263.36L854.60,263.36L854.60,263.78L855.20,263.78L855.20,264.50L855.80,264.50L855.80,263.68L856.40,263.68L856.40,263.21L857.00,263.21L857.00,264.12L857.60,264.12L857.60,264.50L858.20,264.50L858.20,264.06L858.80,264.06L858.80,264.50L859.40,264.50L859.40,264.50L860.00,264.50L860.00,263.88L860.60,263.88L860.60,264.44L861.20,264.44L861.20,264.50L861.80,264.50L861.80,264.50L862.40,264.50L862.40,262.23L863.00,262.23L863.00,263.24L863.60,263.24L863.60,264.21L864.20,264.21L864.20,264.50L864.80,264.50L864.80,263.11L865.40,263.11L865.40,263.51L866.00,263.51L866.00,264.39L866.60,264.39L866.60,264.50L867.20,264.50L867.20,264.18L867.80,264.18L867.80,264.40L868.40,264.40L868.40,264.42L869.00,264.42L869.00,263.83L869.60,263.83L869.60,264.00L870.20,264.00L870.20,264.50L870.80,264.50L870.80,263.08L871.40,263.08L871.40,260.76L872.00,260.76L872.00,259.50L872.60,259.50L872.60,260.76L873.20,260.76L873.20,262.80L873.80,262.80L873.80,264.50L874.40,264.50L874.40,263.08L875.00,263.08L875.00,264.26L875.60,264.26L875.60,264.50L876.20,264.50L876.20,264.50L876.80,264.50L876.80,264.36L877.40,264.36L877.40,264.37L878.00,264.37L878.00,262.36L878.60,262.36L878.60,262.19L879.20,262.19L879.20,262.69L879.80,262.69L879.80,263.96L880.40,263.96L880.40,262.27L881.00,262.27L881.00,261.72L881.60,261.72L881.60,264.50L882.20,264.50L882.20,264.50L882.80,264.50L882.80,263.35L883.40,263.35L883.40,263.92L884.00,263.92L884.00,262.46L884.60,262.46L884.60,261.55L885.20,261.55L885.20,262.08L885.80,262.08L885.80,263.38L886.40,263.38L886.40,264.50L887.00,264.50L887.00,263.15L887.60,263.15L887.60,264.50L888.20,264.50L888.20,263.38L888.80,263.38L888.80,263.84L889.40,263.84L889.40,264.02L890.00,264.02L890.00,264.25L890.60,264.25L890.60,264.50L891.20,264.50L891.20,261.13L891.80,261.13L891.80,263.55L892.40,263.55L892.40,264.16L893.00,264.16L893.00,264.50Z" fill="#8c1c1a"/>
<line x1="516.00" y1="236.50" x2="893.30" y2="236.50" stroke="#111" stroke-width="1.8"/>
<line x1="516.00" y1="264.90" x2="893.30" y2="264.90" stroke="#111" stroke-width="1.8"/>
<path d="M897.50,211.50H895.00V235.50H897.50" fill="none" stroke="#111" stroke-width="1.0"/>
<path d="M897.50,240.50H895.00V264.50H897.50" fill="none" stroke="#111" stroke-width="1.0"/>
<text x="902.00" y="215.50" font-size="11.3" fill="#111" stroke="#111" stroke-width="0.25">100</text>
<text x="902.00" y="236.00" font-size="11.3" fill="#111" stroke="#111" stroke-width="0.25">0</text>
<text x="902.00" y="245.00" font-size="11.3" fill="#111" stroke="#111" stroke-width="0.25">100</text>
<text x="902.00" y="266.00" font-size="11.3" fill="#111" stroke="#111" stroke-width="0.25">0</text>
<line x1="532.40" y1="272.70" x2="555.60" y2="295.00" stroke="#777" stroke-width="0.8"/>
<line x1="572.90" y1="272.70" x2="738.30" y2="295.00" stroke="#777" stroke-width="0.8"/>
<text x="-1.00" y="297.70" font-size="18.5" fill="#111" font-weight="bold" stroke="#111" stroke-width="0.5">b</text>
<rect x="97.70" y="289.20" width="168.60" height="128.60" fill="#fcf2ec"/>
<line x1="161.30" y1="296.60" x2="216.00" y2="296.60" stroke="#444" stroke-width="1.2"/>
<line x1="161.30" y1="292.60" x2="161.30" y2="300.60" stroke="#444" stroke-width="1.2"/>
<line x1="216.00" y1="292.60" x2="216.00" y2="300.60" stroke="#444" stroke-width="1.2"/>
<text x="218.40" y="300.10" font-size="11.3" fill="#111" stroke="#111" stroke-width="0.25">2 kb</text>
<text x="99.00" y="314.90" font-size="11.3" fill="#111" stroke="#111" stroke-width="0.25">chr3:</text>
<text x="173.00" y="314.90" font-size="11.3" fill="#111" stroke="#111" stroke-width="0.25">195600000</text>
<line x1="235.30" y1="307.00" x2="235.30" y2="315.50" stroke="#111" stroke-width="1.0"/>
<text x="3.00" y="314.50" font-size="11.3" fill="#8e3530" stroke="#8e3530" stroke-width="0.25">RNAseq</text>
<text x="88.80" y="328.80" font-size="11.3" fill="#111" stroke="#111" stroke-width="0.25" text-anchor="end">2000639N</text>
<text x="88.80" y="348.90" font-size="11.3" fill="#111" stroke="#111" stroke-width="0.25" text-anchor="end">2000639C</text>
<path d="M98.00,332.70L98.00,332.70L98.50,332.70L99.00,332.70L99.50,332.70L100.00,332.70L100.50,332.70L101.00,332.70L101.50,332.70L102.00,332.70L102.50,332.70L103.00,332.70L103.50,332.70L104.00,332.70L104.50,332.70L105.00,332.70L105.50,332.70L106.00,332.70L106.50,332.70L107.00,332.70L107.50,332.70L108.00,332.70L108.50,332.70L109.00,332.70L109.50,332.70L110.00,332.70L110.50,332.70L111.00,332.70L111.50,332.70L112.00,332.70L112.50,332.70L113.00,332.70L113.50,332.70L114.00,332.70L114.50,332.70L115.00,332.70L115.50,332.70L116.00,332.70L116.50,332.70L117.00,332.70L117.50,332.70L118.00,332.70L118.50,332.70L119.00,332.70L119.50,332.70L120.00,332.70L120.50,332.70L121.00,332.70L121.50,332.70L122.00,332.70L122.50,332.70L123.00,332.70L123.50,332.70L124.00,332.70L124.50,332.70L125.00,332.70L125.50,332.70L126.00,332.70L126.50,332.70L127.00,332.70L127.50,332.70L128.00,332.70L128.50,332.70L129.00,332.70L129.50,332.70L130.00,332.70L130.50,332.70L131.00,332.70L131.50,332.70L132.00,332.70L132.50,332.70L133.00,332.70L133.50,332.70L134.00,332.70L134.50,332.70L135.00,332.70L135.50,332.70L136.00,332.70L136.50,332.70L137.00,332.70L137.50,332.70L138.00,332.70L138.50,332.70L139.00,332.70L139.50,332.70L140.00,332.70L140.50,332.70L141.00,332.70L141.50,332.70L142.00,332.70L142.50,332.70L143.00,332.70L143.50,332.70L144.00,332.70L144.50,332.70L145.00,332.70L145.50,332.70L146.00,332.70L146.50,332.70L147.00,332.70L147.50,332.70L148.00,332.70L148.50,332.70L149.00,332.70L149.50,332.70L150.00,332.70L150.50,332.70L151.00,332.70L151.50,332.70L152.00,332.70L152.50,332.70L153.00,332.70L153.50,332.70L154.00,332.70L154.50,332.70L155.00,332.70L155.50,332.70L156.00,332.70L156.50,332.70L157.00,332.70L157.50,332.70L158.00,332.70L158.50,332.70L159.00,332.70L159.50,332.70L160.00,332.70L160.50,332.70L161.00,332.70L161.50,332.70L162.00,332.70L162.50,332.70L163.00,332.70L163.50,332.70L164.00,332.70L164.50,332.70L165.00,332.70L165.50,332.70L166.00,332.70L166.50,332.70L167.00,332.70L167.50,332.70L168.00,332.70L168.50,332.70L169.00,332.70L169.50,332.70L170.00,332.70L170.50,332.70L171.00,332.70L171.50,332.70L172.00,332.70L172.50,332.70L173.00,332.70L173.50,332.70L174.00,332.70L174.50,332.70L175.00,332.70L175.50,332.70L176.00,332.70L176.50,332.70L177.00,332.70L177.50,332.70L178.00,332.70L178.50,332.70L179.00,332.70L179.50,332.70L180.00,332.70L180.50,332.70L181.00,332.70L181.50,332.70L182.00,332.70L182.50,332.70L183.00,332.70L183.50,332.70L184.00,332.70L184.50,332.70L185.00,332.70L185.50,332.70L186.00,332.70L186.50,332.70L187.00,332.70L187.50,332.70L188.00,332.70L188.50,332.70L189.00,332.70L189.50,332.70L190.00,332.70L190.50,332.70L191.00,332.70L191.50,332.70L192.00,332.70L192.50,332.70L193.00,332.70L193.50,332.70L194.00,332.70L194.50,332.70L195.00,332.70L195.50,332.70L196.00,332.70L196.50,332.70L197.00,332.70L197.50,332.70L198.00,332.70L198.50,332.70L199.00,332.70L199.50,332.70L200.00,332.70L200.50,332.70L201.00,332.70L201.50,332.70L202.00,332.70L202.50,332.70L203.00,332.70L203.50,332.70L204.00,332.70L204.50,332.70L205.00,332.70L205.50,332.70L206.00,332.70L206.50,332.70L207.00,332.70L207.50,332.70L208.00,332.70L208.50,332.70L209.00,332.70L209.50,332.70L210.00,332.70L210.50,332.70L211.00,332.70L211.50,332.70L212.00,332.70L212.50,332.70L213.00,332.70L213.50,332.70L214.00,332.70L214.50,332.70L215.00,332.70L215.50,332.70L216.00,332.70L216.50,332.70L217.00,332.70L217.50,332.70L218.00,332.70L218.50,332.70L219.00,332.70L219.50,332.70L220.00,332.70L220.50,332.70L221.00,332.70L221.50,332.70L222.00,332.70L222.50,332.70L223.00,332.70L223.50,332.70L224.00,332.70L224.50,332.70L225.00,332.70L225.50,332.70L226.00,332.70L226.50,332.70L227.00,332.70L227.50,332.70L228.00,332.70L228.50,332.70L229.00,332.70L229.50,332.70L230.00,332.70L230.50,332.70L231.00,332.70L231.50,332.70L232.00,332.70L232.50,332.70L233.00,332.70L233.50,332.70L234.00,332.70L234.50,332.70L235.00,332.70L235.50,332.70L236.00,332.70L236.50,332.70L237.00,332.70L237.50,332.70L238.00,332.70L238.50,332.70L239.00,332.70L239.50,332.70L240.00,332.70L240.50,332.70L241.00,332.70L241.50,332.70L242.00,332.70L242.50,332.70L243.00,332.70L243.50,332.70L244.00,332.70L244.50,332.70L245.00,332.70L245.50,332.70L246.00,332.70L246.50,332.70L247.00,332.70L247.50,332.70L248.00,332.70L248.50,332.70L249.00,332.70L249.50,332.70L250.00,332.70L250.50,332.70L251.00,332.70L251.50,332.70L252.00,332.40L252.50,332.10L253.00,331.80L253.50,331.50L254.00,331.20L254.50,330.90L255.00,331.20L255.50,331.50L256.00,331.80L256.50,332.10L257.00,332.40L257.50,332.70L258.00,332.70L258.50,332.70L259.00,332.70L259.50,332.70L260.00,332.70L260.50,332.70L261.00,332.70L261.50,332.70L262.00,332.70L262.50,332.70L263.00,332.70L263.50,332.70L264.00,332.70L264.50,332.70L265.00,332.70L265.50,332.70L265.80,332.70Z" fill="#111"/>
<path d="M98.00,350.40L98.00,350.40L98.50,350.40L99.00,350.40L99.50,350.40L100.00,350.40L100.50,350.40L101.00,350.40L101.50,350.40L102.00,350.40L102.50,350.40L103.00,350.40L103.50,350.40L104.00,350.40L104.50,350.40L105.00,350.40L105.50,350.40L106.00,350.40L106.50,350.40L107.00,350.40L107.50,350.40L108.00,350.40L108.50,350.40L109.00,350.40L109.50,350.40L110.00,350.40L110.50,350.40L111.00,350.40L111.50,350.27L112.00,350.13L112.50,350.00L113.00,349.87L113.50,349.73L114.00,349.60L114.50,349.73L115.00,349.87L115.50,350.00L116.00,350.13L116.50,350.27L117.00,350.40L117.50,350.40L118.00,350.40L118.50,350.40L119.00,350.40L119.50,350.40L120.00,350.40L120.50,350.40L121.00,350.40L121.50,350.40L122.00,350.40L122.50,350.40L123.00,350.40L123.50,350.40L124.00,350.40L124.50,350.40L125.00,350.40L125.50,350.40L126.00,350.40L126.50,350.40L127.00,350.40L127.50,350.40L128.00,350.40L128.50,350.40L129.00,350.40L129.50,350.40L130.00,350.40L130.50,350.40L131.00,350.40L131.50,350.40L132.00,350.40L132.50,350.40L133.00,350.40L133.50,350.40L134.00,350.40L134.50,350.40L135.00,350.40L135.50,350.40L136.00,350.40L136.50,349.70L137.00,347.95L137.50,346.20L138.00,344.45L138.50,344.10L139.00,345.85L139.50,347.60L140.00,349.35L140.50,350.40L141.00,350.40L141.50,350.40L142.00,350.40L142.50,350.40L143.00,350.40L143.50,350.40L144.00,350.40L144.50,350.40L145.00,350.40L145.50,350.40L146.00,350.40L146.50,350.40L147.00,350.40L147.50,350.40L148.00,350.40L148.50,350.40L149.00,350.40L149.50,350.40L150.00,350.40L150.50,350.40L151.00,350.40L151.50,350.40L152.00,350.40L152.50,350.40L153.00,350.40L153.50,350.40L154.00,350.40L154.50,350.40L155.00,350.40L155.50,350.40L156.00,350.40L156.50,350.40L157.00,350.40L157.50,350.40L158.00,350.40L158.50,350.40L159.00,350.40L159.50,350.40L160.00,350.40L160.50,350.40L161.00,350.40L161.50,350.40L162.00,350.40L162.50,350.40L163.00,350.40L163.50,350.40L164.00,350.40L164.50,350.40L165.00,350.40L165.50,350.40L166.00,350.40L166.50,350.40L167.00,350.40L167.50,350.40L168.00,350.40L168.50,350.40L169.00,350.40L169.50,350.40L170.00,350.40L170.50,350.40L171.00,350.40L171.50,350.40L172.00,350.40L172.50,350.40L173.00,350.40L173.50,350.40L174.00,350.40L174.50,350.40L175.00,350.40L175.50,350.40L176.00,350.40L176.50,350.40L177.00,350.40L177.50,350.40L178.00,350.40L178.50,350.40L179.00,350.40L179.50,350.40L180.00,350.40L180.50,350.40L181.00,350.40L181.50,350.40L182.00,350.40L182.50,350.40L183.00,350.40L183.50,350.40L184.00,350.40L184.50,350.40L185.00,350.40L185.50,350.40L186.00,350.40L186.50,350.40L187.00,350.40L187.50,350.40L188.00,350.40L188.50,350.40L189.00,350.40L189.50,350.40L190.00,350.40L190.50,350.40L191.00,350.40L191.50,350.40L192.00,350.40L192.50,350.40L193.00,350.40L193.50,350.40L194.00,350.40L194.50,350.40L195.00,350.40L195.50,350.40L196.00,350.40L196.50,350.40L197.00,350.40L197.50,350.40L198.00,350.40L198.50,350.40L199.00,350.40L199.50,350.40L200.00,350.40L200.50,350.40L201.00,350.40L201.50,350.40L202.00,350.40L202.50,350.40L203.00,350.40L203.50,350.40L204.00,350.40L204.50,350.40L205.00,350.40L205.50,350.40L206.00,350.40L206.50,350.40L207.00,350.40L207.50,350.40L208.00,350.40L208.50,350.40L209.00,350.40L209.50,350.40L210.00,350.40L210.50,350.40L211.00,350.40L211.50,350.40L212.00,350.40L212.50,350.40L213.00,350.40L213.50,350.40L214.00,350.40L214.50,350.40L215.00,350.40L215.50,350.40L216.00,350.40L216.50,350.40L217.00,350.40L217.50,350.40L218.00,350.40L218.50,350.40L219.00,350.40L219.50,350.40L220.00,350.40L220.50,350.40L221.00,350.40L221.50,350.40L222.00,350.40L222.50,350.40L223.00,350.40L223.50,350.40L224.00,350.40L224.50,350.40L225.00,350.40L225.50,350.40L226.00,350.40L226.50,350.40L227.00,350.40L227.50,350.40L228.00,350.40L228.50,350.40L229.00,350.40L229.50,350.40L230.00,350.40L230.50,350.40L231.00,350.40L231.50,350.40L232.00,350.40L232.50,350.40L233.00,350.40L233.50,350.40L234.00,350.40L234.50,350.40L235.00,350.40L235.50,350.40L236.00,350.40L236.50,350.40L237.00,350.40L237.50,350.40L238.00,350.40L238.50,350.40L239.00,350.40L239.50,350.40L240.00,350.40L240.50,350.40L241.00,350.40L241.50,350.40L242.00,350.40L242.50,350.40L243.00,350.40L243.50,350.40L244.00,350.40L244.50,350.40L245.00,350.40L245.50,350.40L246.00,350.40L246.50,350.40L247.00,350.40L247.50,350.40L248.00,350.40L248.50,350.40L249.00,350.40L249.50,350.40L250.00,350.40L250.50,350.40L251.00,350.40L251.50,350.40L252.00,350.40L252.50,350.40L253.00,350.40L253.50,350.40L254.00,350.40L254.50,350.40L255.00,350.40L255.50,350.40L256.00,350.40L256.50,350.40L257.00,350.40L257.50,350.40L258.00,350.40L258.50,350.40L259.00,350.40L259.50,350.40L260.00,350.40L260.50,350.40L261.00,350.40L261.50,350.40L262.00,350.40L262.50,350.40L263.00,350.40L263.50,350.40L264.00,350.40L264.50,350.40L265.00,350.40L265.50,350.40L265.80,350.40Z" fill="#111"/>
<path d="M252.50,350.40L252.50,350.26L252.80,350.27L253.10,347.93L253.40,340.12L253.70,336.80L254.00,336.08L254.30,335.35L254.60,334.96L254.90,334.87L255.20,334.87L255.50,334.88L255.80,336.05L256.10,337.02L256.40,338.08L256.70,338.79L257.00,339.39L257.30,340.08L257.60,340.89L257.90,339.17L258.20,337.47L258.50,337.97L258.80,338.40L259.10,343.21L259.40,350.40L259.70,350.40L260.00,350.40Z" fill="#111"/>
<line x1="97.70" y1="332.70" x2="265.80" y2="332.70" stroke="#111" stroke-width="1.7"/>
<line x1="97.70" y1="350.40" x2="265.80" y2="350.40" stroke="#111" stroke-width="1.7"/>
<text x="88.80" y="366.30" font-size="11.3" fill="#3a3fa8" stroke="#3a3fa8" stroke-width="0.25" text-anchor="end">TNK2</text>
<line x1="97.70" y1="363.00" x2="266.00" y2="363.00" stroke="#2e3192" stroke-width="2.2"/>
<path d="M98.30,360.30L100.70,363.00L98.30,365.70M104.20,360.30L106.60,363.00L104.20,365.70M110.10,360.30L112.50,363.00L110.10,365.70M116.00,360.30L118.40,363.00L116.00,365.70M121.90,360.30L124.30,363.00L121.90,365.70M127.80,360.30L130.20,363.00L127.80,365.70M133.70,360.30L136.10,363.00L133.70,365.70M139.60,360.30L142.00,363.00L139.60,365.70M145.50,360.30L147.90,363.00L145.50,365.70M151.40,360.30L153.80,363.00L151.40,365.70M157.30,360.30L159.70,363.00L157.30,365.70M163.20,360.30L165.60,363.00L163.20,365.70M169.10,360.30L171.50,363.00L169.10,365.70M175.00,360.30L177.40,363.00L175.00,365.70M180.90,360.30L183.30,363.00L180.90,365.70M186.80,360.30L189.20,363.00L186.80,365.70M192.70,360.30L195.10,363.00L192.70,365.70M198.60,360.30L201.00,363.00L198.60,365.70M204.50,360.30L206.90,363.00L204.50,365.70M210.40,360.30L212.80,363.00L210.40,365.70M216.30,360.30L218.70,363.00L216.30,365.70M222.20,360.30L224.60,363.00L222.20,365.70M228.10,360.30L230.50,363.00L228.10,365.70M234.00,360.30L236.40,363.00L234.00,365.70M239.90,360.30L242.30,363.00L239.90,365.70M245.80,360.30L248.20,363.00L245.80,365.70M251.70,360.30L254.10,363.00L251.70,365.70M257.60,360.30L260.00,363.00L257.60,365.70" fill="none" stroke="#3a41a0" stroke-width="1.8" stroke-linejoin="miter"/>
<rect x="254.00" y="357.50" width="5.00" height="11.00" fill="#2e3192"/>
<line x1="97.70" y1="374.50" x2="266.00" y2="374.50" stroke="#2e3192" stroke-width="2.2"/>
<path d="M98.30,371.80L100.70,374.50L98.30,377.20M104.20,371.80L106.60,374.50L104.20,377.20M110.10,371.80L112.50,374.50L110.10,377.20M116.00,371.80L118.40,374.50L116.00,377.20M121.90,371.80L124.30,374.50L121.90,377.20M127.80,371.80L130.20,374.50L127.80,377.20M133.70,371.80L136.10,374.50L133.70,377.20M139.60,371.80L142.00,374.50L139.60,377.20M145.50,371.80L147.90,374.50L145.50,377.20M151.40,371.80L153.80,374.50L151.40,377.20M157.30,371.80L159.70,374.50L157.30,377.20M163.20,371.80L165.60,374.50L163.20,377.20M169.10,371.80L171.50,374.50L169.10,377.20M175.00,371.80L177.40,374.50L175.00,377.20M180.90,371.80L183.30,374.50L180.90,377.20M186.80,371.80L189.20,374.50L186.80,377.20M192.70,371.80L195.10,374.50L192.70,377.20M198.60,371.80L201.00,374.50L198.60,377.20M204.50,371.80L206.90,374.50L204.50,377.20M210.40,371.80L212.80,374.50L210.40,377.20M216.30,371.80L218.70,374.50L216.30,377.20M222.20,371.80L224.60,374.50L222.20,377.20M228.10,371.80L230.50,374.50L228.10,377.20M234.00,371.80L236.40,374.50L234.00,377.20M239.90,371.80L242.30,374.50L239.90,377.20M245.80,371.80L248.20,374.50L245.80,377.20M251.70,371.80L254.10,374.50L251.70,377.20M257.60,371.80L260.00,374.50L257.60,377.20" fill="none" stroke="#3a41a0" stroke-width="1.8" stroke-linejoin="miter"/>
<rect x="254.00" y="369.00" width="5.00" height="11.00" fill="#2e3192"/>
<text x="6.50" y="384.50" font-size="11.3" fill="#8e3530" stroke="#8e3530" stroke-width="0.25">ChIPseq K4me3</text>
<text x="88.80" y="396.80" font-size="11.3" fill="#111" stroke="#111" stroke-width="0.25" text-anchor="end">2000639N</text>
<text x="88.80" y="416.10" font-size="11.3" fill="#111" stroke="#111" stroke-width="0.25" text-anchor="end">2000639C</text>
<path d="M98.00,399.20L98.00,399.20L98.50,399.13L99.00,399.04L99.50,398.87L100.00,398.59L100.50,398.16L101.00,397.59L101.50,396.94L102.00,396.32L102.50,395.87L103.00,395.70L103.50,395.87L104.00,396.32L104.50,396.94L105.00,397.59L105.50,398.16L106.00,398.59L106.50,398.87L107.00,399.04L107.50,399.13L108.00,399.20L108.50,399.20L109.00,399.20L109.50,399.20L110.00,399.20L110.50,399.20L111.00,399.20L111.50,399.20L112.00,399.20L112.50,399.20L113.00,399.20L113.50,399.20L114.00,399.20L114.50,399.20L115.00,399.20L115.50,399.20L116.00,399.20L116.50,399.20L117.00,399.20L117.50,399.20L118.00,399.20L118.50,399.20L119.00,399.20L119.50,399.20L120.00,399.20L120.50,399.20L121.00,399.20L121.50,399.16L122.00,399.10L122.50,398.97L123.00,398.75L123.50,398.44L124.00,398.09L124.50,397.81L125.00,397.70L125.50,397.81L126.00,398.09L126.50,398.44L127.00,398.75L127.50,398.97L128.00,399.10L128.50,399.16L129.00,399.20L129.50,399.20L130.00,399.20L130.50,399.20L131.00,399.20L131.50,399.20L132.00,399.20L132.50,399.20L133.00,399.20L133.50,399.20L134.00,399.20L134.50,399.20L135.00,399.20L135.50,399.20L136.00,399.20L136.50,399.20L137.00,399.20L137.50,399.20L138.00,399.20L138.50,399.20L139.00,399.20L139.50,399.20L140.00,399.20L140.50,399.20L141.00,399.20L141.50,399.20L142.00,399.20L142.50,399.20L143.00,399.20L143.50,399.20L144.00,399.20L144.50,399.17L145.00,399.12L145.50,399.02L146.00,398.84L146.50,398.59L147.00,398.31L147.50,398.09L148.00,398.00L148.50,398.09L149.00,398.31L149.50,398.59L150.00,398.84L150.50,399.02L151.00,399.12L151.50,399.17L152.00,399.20L152.50,399.20L153.00,399.20L153.50,399.20L154.00,399.20L154.50,399.20L155.00,399.20L155.50,399.20L156.00,399.20L156.50,399.20L157.00,399.20L157.50,399.20L158.00,399.20L158.50,399.20L159.00,399.20L159.50,399.20L160.00,399.20L160.50,399.20L161.00,399.20L161.50,399.20L162.00,399.20L162.50,399.20L163.00,399.20L163.50,399.20L164.00,399.20L164.50,399.20L165.00,399.20L165.50,399.20L166.00,399.20L166.50,399.20L167.00,399.20L167.50,399.20L168.00,399.20L168.50,399.20L169.00,399.20L169.50,399.20L170.00,399.20L170.50,399.20L171.00,399.20L171.50,399.20L172.00,399.20L172.50,399.20L173.00,399.20L173.50,399.20L174.00,399.20L174.50,399.20L175.00,399.20L175.50,399.20L176.00,399.20L176.50,399.20L177.00,399.20L177.50,399.20L178.00,399.20L178.50,399.20L179.00,399.20L179.50,399.20L180.00,399.20L180.50,399.20L181.00,399.20L181.50,399.20L182.00,399.20L182.50,399.20L183.00,399.20L183.50,399.20L184.00,399.20L184.50,399.20L185.00,399.20L185.50,399.20L186.00,399.20L186.50,399.18L187.00,399.13L187.50,399.05L188.00,398.90L188.50,398.69L189.00,398.46L189.50,398.27L190.00,398.20L190.50,398.27L191.00,398.46L191.50,398.69L192.00,398.90L192.50,399.05L193.00,399.13L193.50,399.18L194.00,399.20L194.50,399.20L195.00,399.20L195.50,399.20L196.00,399.20L196.50,399.20L197.00,399.20L197.50,399.20L198.00,399.20L198.50,399.20L199.00,399.20L199.50,399.20L200.00,399.20L200.50,399.20L201.00,399.20L201.50,399.20L202.00,399.20L202.50,399.20L203.00,399.20L203.50,399.20L204.00,399.20L204.50,399.20L205.00,399.20L205.50,399.20L206.00,399.20L206.50,399.20L207.00,399.20L207.50,399.20L208.00,399.20L208.50,399.20L209.00,399.20L209.50,399.20L210.00,399.20L210.50,399.20L211.00,399.20L211.50,399.20L212.00,399.20L212.50,399.20L213.00,399.20L213.50,399.20L214.00,399.20L214.50,399.20L215.00,399.20L215.50,399.20L216.00,399.20L216.50,399.20L217.00,399.20L217.50,399.20L218.00,399.20L218.50,399.17L219.00,399.08L219.50,398.90L220.00,398.62L220.50,398.33L221.00,398.20L221.50,398.33L222.00,398.62L222.50,398.90L223.00,399.08L223.50,399.17L224.00,399.20L224.50,399.20L225.00,399.20L225.50,399.20L226.00,399.20L226.50,399.20L227.00,399.20L227.50,399.20L228.00,399.20L228.50,399.20L229.00,399.20L229.50,399.20L230.00,399.20L230.50,399.20L231.00,399.20L231.50,399.20L232.00,399.20L232.50,399.20L233.00,399.20L233.50,399.20L234.00,399.20L234.50,399.20L235.00,399.20L235.50,399.20L236.00,399.20L236.50,399.20L237.00,399.20L237.50,399.20L238.00,399.20L238.50,399.20L239.00,399.20L239.50,399.20L240.00,399.20L240.50,399.20L241.00,399.20L241.50,399.20L242.00,399.20L242.50,399.20L243.00,399.20L243.50,399.20L244.00,399.20L244.50,399.20L245.00,399.20L245.50,399.20L246.00,399.20L246.50,399.20L247.00,399.20L247.50,399.20L248.00,399.20L248.50,399.20L249.00,399.20L249.50,399.20L250.00,399.20L250.50,399.20L251.00,399.20L251.50,399.20L252.00,399.20L252.50,399.20L253.00,399.20L253.50,399.20L254.00,399.20L254.50,399.20L255.00,399.20L255.50,399.20L256.00,399.20L256.50,399.20L257.00,399.20L257.50,399.20L258.00,399.20L258.50,399.20L259.00,399.20L259.50,399.20L260.00,399.20L260.50,399.20L261.00,399.20L261.50,399.20L262.00,399.20L262.50,399.20L263.00,399.20L263.50,399.20L264.00,399.20L264.50,399.20L265.00,399.20L265.50,399.20L265.80,399.20Z" fill="#8c1c1a"/>
<path d="M98.00,417.00L98.00,413.03L98.50,411.31L99.00,409.78L99.50,408.42L100.00,407.25L100.50,406.26L101.00,405.44L101.50,404.81L102.00,404.36L102.50,404.09L103.00,404.00L103.50,404.09L104.00,404.36L104.50,404.81L105.00,405.44L105.50,406.26L106.00,407.25L106.50,408.42L107.00,409.78L107.50,411.31L108.00,413.03L108.50,413.70L109.00,413.25L109.50,412.87L110.00,412.56L110.50,412.31L111.00,412.14L111.50,412.03L112.00,412.00L112.50,412.03L113.00,412.14L113.50,412.31L114.00,412.56L114.50,412.87L115.00,412.50L115.50,412.04L116.00,411.67L116.50,411.38L117.00,411.17L117.50,411.04L118.00,411.00L118.50,411.04L119.00,411.17L119.50,411.38L120.00,411.67L120.50,412.04L121.00,412.50L121.50,413.04L122.00,412.00L122.50,411.06L123.00,410.25L123.50,409.56L124.00,409.00L124.50,408.56L125.00,408.25L125.50,408.06L126.00,408.00L126.50,408.06L127.00,408.25L127.50,408.56L128.00,409.00L128.50,409.56L129.00,410.25L129.50,410.63L130.00,410.28L130.50,410.07L131.00,410.00L131.50,410.07L132.00,410.28L132.50,410.63L133.00,411.12L133.50,411.75L134.00,412.52L134.50,413.43L135.00,414.48L135.50,415.67L136.00,416.50L136.50,416.50L137.00,416.50L137.50,416.50L138.00,416.50L138.50,414.76L139.00,412.72L139.50,410.88L140.00,409.22L140.50,407.76L141.00,406.50L141.50,405.43L142.00,404.56L142.50,403.88L143.00,403.39L143.50,403.10L144.00,403.00L144.50,403.10L145.00,403.39L145.50,403.88L146.00,404.56L146.50,405.43L147.00,406.39L147.50,405.66L148.00,405.06L148.50,404.60L149.00,404.27L149.50,404.07L150.00,404.00L150.50,404.07L151.00,404.27L151.50,404.60L152.00,405.06L152.50,405.66L153.00,406.39L153.50,407.25L154.00,407.22L154.50,406.69L155.00,406.31L155.50,406.08L156.00,406.00L156.50,406.08L157.00,406.31L157.50,406.69L158.00,407.22L158.50,407.91L159.00,408.75L159.50,409.74L160.00,410.89L160.50,411.09L161.00,411.38L161.50,411.84L162.00,412.50L162.50,413.34L163.00,414.38L163.50,415.59L164.00,416.50L164.50,416.50L165.00,416.50L165.50,416.50L166.00,416.50L166.50,416.36L167.00,415.78L167.50,415.25L168.00,414.78L168.50,414.36L169.00,414.00L169.50,413.69L170.00,413.44L170.50,413.25L171.00,413.11L171.50,413.03L172.00,413.00L172.50,413.03L173.00,413.11L173.50,413.25L174.00,413.44L174.50,413.69L175.00,414.00L175.50,414.36L176.00,414.78L176.50,415.25L177.00,415.78L177.50,416.36L178.00,416.50L178.50,416.50L179.00,416.50L179.50,415.86L180.00,414.84L180.50,413.94L181.00,413.16L181.50,412.50L182.00,411.96L182.50,411.54L183.00,411.24L183.50,411.06L184.00,411.00L184.50,411.06L185.00,411.24L185.50,411.54L186.00,411.96L186.50,412.50L187.00,413.16L187.50,413.94L188.00,414.56L188.50,413.50L189.00,412.56L189.50,411.72L190.00,411.00L190.50,410.39L191.00,409.89L191.50,409.50L192.00,409.22L192.50,409.06L193.00,409.00L193.50,409.06L194.00,409.22L194.50,409.50L195.00,409.89L195.50,410.39L196.00,411.00L196.50,411.72L197.00,412.56L197.50,413.04L198.00,412.50L198.50,412.04L199.00,411.67L199.50,411.38L200.00,411.17L200.50,411.04L201.00,411.00L201.50,411.04L202.00,411.17L202.50,411.38L203.00,411.67L203.50,412.04L204.00,412.50L204.50,413.04L205.00,413.67L205.50,413.50L206.00,412.56L206.50,411.72L207.00,411.00L207.50,410.39L208.00,409.89L208.50,409.50L209.00,409.22L209.50,409.06L210.00,409.00L210.50,409.06L211.00,409.22L211.50,409.50L212.00,409.89L212.50,410.39L213.00,411.00L213.50,411.72L214.00,411.12L214.50,410.63L215.00,410.28L215.50,410.07L216.00,410.00L216.50,410.07L217.00,410.28L217.50,410.63L218.00,411.12L218.50,411.75L219.00,412.52L219.50,413.43L220.00,414.44L220.50,414.00L221.00,413.64L221.50,413.36L222.00,413.16L222.50,413.04L223.00,413.00L223.50,413.04L224.00,413.16L224.50,413.36L225.00,413.64L225.50,414.00L226.00,414.44L226.50,414.96L227.00,415.56L227.50,416.24L228.00,416.50L228.50,416.50L229.00,416.50L229.50,416.50L230.00,416.50L230.50,416.50L231.00,416.50L231.50,416.43L232.00,415.92L232.50,415.47L233.00,415.08L233.50,414.75L234.00,414.48L234.50,414.27L235.00,414.12L235.50,414.03L236.00,414.00L236.50,414.03L237.00,414.12L237.50,414.27L238.00,414.48L238.50,414.75L239.00,415.08L239.50,415.47L240.00,415.92L240.50,416.43L241.00,416.50L241.50,416.43L242.00,415.92L242.50,415.47L243.00,415.08L243.50,414.75L244.00,414.48L244.50,414.27L245.00,414.12L245.50,414.03L246.00,414.00L246.50,414.03L247.00,414.12L247.50,414.27L248.00,414.48L248.50,414.75L249.00,415.08L249.50,415.47L250.00,415.92L250.50,416.43L251.00,416.50L251.50,416.50L252.00,416.50L252.50,416.50L253.00,416.50L253.50,416.50L254.00,416.50L254.50,416.50L255.00,416.50L255.50,416.50L256.00,416.50L256.50,416.50L257.00,416.50L257.50,416.50L258.00,416.50L258.50,416.50L259.00,416.50L259.50,416.50L260.00,416.50L260.50,416.50L261.00,416.50L261.50,416.50L262.00,416.50L262.50,416.50L263.00,416.50L263.50,416.50L264.00,416.50L264.50,416.50L265.00,416.50L265.50,416.50L265.80,417.00Z" fill="#8c1c1a"/>
<line x1="97.70" y1="399.20" x2="265.80" y2="399.20" stroke="#111" stroke-width="1.7"/>
<line x1="97.70" y1="417.20" x2="265.80" y2="417.20" stroke="#111" stroke-width="1.7"/>
<text x="64.50" y="433.10" font-size="11.3" fill="#111" stroke="#111" stroke-width="0.25">chr3:195,602,787</text>
<line x1="159.80" y1="422.00" x2="159.80" y2="437.00" stroke="#111" stroke-width="1.5"/>
<text x="171.00" y="433.10" font-size="11.3" fill="#111" stroke="#111" stroke-width="0.25">rs7636635</text>
<text x="88.80" y="447.90" font-size="11.3" fill="#111" stroke="#111" stroke-width="0.25" text-anchor="end">hg19</text>
<text x="88.80" y="456.80" font-size="11.3" fill="#111" stroke="#111" stroke-width="0.25" text-anchor="end">Consensus</text>
<text x="88.80" y="490.20" font-size="11.3" fill="#111" stroke="#111" stroke-width="0.25" text-anchor="end">2000639C</text>
<text x="88.80" y="502.50" font-size="11.3" fill="#111" stroke="#111" stroke-width="0.25" text-anchor="end">ChIPseq tag</text>
<text x="88.80" y="514.50" font-size="11.3" fill="#111" stroke="#111" stroke-width="0.25" text-anchor="end">alignment</text>
<text x="101.98 107.74 113.50 119.26 125.02 130.78 136.54 142.30 148.06 153.82 159.58 165.34 171.10 176.86 182.62 188.38 194.14 199.90 205.66 211.42 217.18" y="446.78" font-size="7.2" font-weight="bold" fill="#3a3a3a" text-anchor="middle">CTCAGCACCACGTTCCCGTCC</text>
<rect x="156.70" y="449.10" width="5.76" height="7.60" fill="#f2b8c0"/>
<text x="159.58" y="455.13" font-size="7.2" fill="#d0404f" text-anchor="middle" font-weight="bold">T</text>
<text x="101.98 107.74 113.50 119.26 125.02 130.78 136.54 142.30 148.06 153.82 165.34 171.10 176.86 182.62 188.38 194.14 199.90 205.66 211.42 217.18" y="455.48" font-size="7.2" font-weight="bold" fill="#3a3a3a" text-anchor="middle">CTCAGCACCAGTTCCCGTCC</text>
<rect x="156.70" y="459.30" width="5.76" height="60.50" fill="#9fd9b0"/>
<text x="159.58" y="465.23" font-size="7.2" fill="#0d2a18" text-anchor="middle" font-weight="bold">T</text>
<text x="101.98 107.74 113.50 119.26 125.02 130.78 136.54 142.30 148.06 153.82 165.34 171.10 176.86 182.62 188.38 194.14 199.90 205.66 211.42 217.18" y="465.58" font-size="7.2" font-weight="bold" fill="#27b37a" text-anchor="middle">CTCAGCACCAGTTCCCGTCC</text>
<text x="159.58" y="472.81" font-size="7.2" fill="#0d2a18" text-anchor="middle" font-weight="bold">T</text>
<text x="101.98 107.74 113.50 119.26 125.02 130.78 136.54 142.30 148.06 153.82 165.34 171.10 176.86 182.62 188.38 194.14 199.90 205.66 211.42 217.18" y="473.16" font-size="7.2" font-weight="bold" fill="#27b37a" text-anchor="middle">CTCAGCACCAGTTCCCGTCC</text>
<text x="159.58" y="480.39" font-size="7.2" fill="#0d2a18" text-anchor="middle" font-weight="bold">T</text>
<text x="101.98 107.74 113.50 119.26 125.02 130.78 136.54 142.30 148.06 153.82 165.34 171.10 176.86 182.62 188.38 194.14 199.90 205.66 211.42 217.18" y="480.74" font-size="7.2" font-weight="bold" fill="#27b37a" text-anchor="middle">CTCAGCACCAGTTCCCGTCC</text>
<text x="159.58" y="487.97" font-size="7.2" fill="#0d2a18" text-anchor="middle" font-weight="bold">T</text>
<text x="107.74 113.50 119.26 125.02 130.78 136.54 142.30 148.06 153.82 165.34 171.10 176.86 182.62 188.38 194.14 199.90 205.66 211.42 217.18" y="488.32" font-size="7.2" font-weight="bold" fill="#27b37a" text-anchor="middle">TCAGCACCAGTTCCCGTCC</text>
<text x="159.58" y="495.55" font-size="7.2" fill="#0d2a18" text-anchor="middle" font-weight="bold">T</text>
<text x="113.50 119.26 125.02 130.78 136.54 142.30 148.06 153.82 165.34 171.10 176.86 182.62 188.38 194.14 199.90 205.66 211.42 217.18" y="495.90" font-size="7.2" font-weight="bold" fill="#27b37a" text-anchor="middle">CAGCACCAGTTCCCGTCC</text>
<text x="159.58" y="503.13" font-size="7.2" fill="#0d2a18" text-anchor="middle" font-weight="bold">T</text>
<text x="130.78 136.54 142.30 148.06 153.82 165.34 171.10 176.86 182.62 188.38 194.14 199.90 205.66 211.42 217.18" y="503.48" font-size="7.2" font-weight="bold" fill="#27b37a" text-anchor="middle">CACCAGTTCCCGTCC</text>
<text x="159.58" y="510.71" font-size="7.2" fill="#0d2a18" text-anchor="middle" font-weight="bold">T</text>
<text x="148.06 153.82 165.34 171.10 176.86 182.62 188.38 194.14 199.90 205.66 211.42 217.18" y="511.06" font-size="7.2" font-weight="bold" fill="#27b37a" text-anchor="middle">CAGTTCCCGTCC</text>
<text x="159.58" y="518.29" font-size="7.2" fill="#0d2a18" text-anchor="middle" font-weight="bold">T</text>
<text x="165.34 171.10 176.86 182.62 188.38 194.14 199.90 205.66 211.42 217.18" y="518.64" font-size="7.2" font-weight="bold" fill="#27b37a" text-anchor="middle">GTTCCCGTCC</text>
<text x="101.98 107.74 113.50 119.26 125.02 130.78 136.54 142.30 148.06 153.82 159.58 165.34 171.10 176.86 182.62 188.38" y="526.22" font-size="7.2" font-weight="bold" fill="#27b37a" text-anchor="middle">CTCAGCACCACGTTCC</text>
<text x="101.98 107.74 113.50 119.26 125.02 130.78 136.54 142.30 148.06 153.82 159.58 165.34 171.10 176.86 182.62 188.38 194.14 199.90 205.66 211.42 217.18" y="533.80" font-size="7.2" font-weight="bold" fill="#27b37a" text-anchor="middle">CTCAGCACCACGTTCCCGTCC</text>
<text x="101.98 107.74 113.50 119.26 125.02 130.78 136.54 142.30 148.06 153.82 159.58 165.34 171.10 176.86 182.62 188.38 194.14 199.90 205.66 211.42 217.18" y="541.38" font-size="7.2" font-weight="bold" fill="#27b37a" text-anchor="middle">CTCAGCACCACGTTCCCGTCC</text>
<text x="101.98 107.74 113.50 119.26 125.02 130.78 136.54 142.30 148.06 153.82 159.58 165.34 171.10 176.86 182.62 188.38 194.14 199.90 205.66 211.42 217.18" y="548.96" font-size="7.2" font-weight="bold" fill="#27b37a" text-anchor="middle">CTCAGCACCACGTTCCCGTCC</text>
<text x="101.98 107.74 113.50 119.26 125.02 130.78 136.54 142.30 148.06 153.82 159.58 165.34 171.10 176.86 182.62 188.38 194.14 199.90 205.66 211.42 217.18" y="556.54" font-size="7.2" font-weight="bold" fill="#c8424f" text-anchor="middle">CTCAGCACCACGTTCCCGTCC</text>
<text x="101.98 107.74 113.50 119.26 125.02 130.78 136.54 142.30 148.06 153.82 159.58 165.34 171.10 176.86 182.62 188.38 194.14 199.90 205.66 211.42 217.18" y="564.12" font-size="7.2" font-weight="bold" fill="#c8424f" text-anchor="middle">CTCAGCACCACGTTCCCGTCC</text>
<text x="101.98 107.74 113.50 119.26 125.02 130.78 136.54 142.30 148.06 153.82 159.58 165.34 171.10 176.86 182.62 188.38 194.14 199.90 205.66 211.42 217.18" y="571.70" font-size="7.2" font-weight="bold" fill="#27b37a" text-anchor="middle">CTCAGCACCACGTTCCCGTCC</text>
<text x="101.98 107.74 113.50 119.26 125.02 130.78 136.54 142.30 148.06 153.82 159.58 165.34 171.10 176.86 182.62 188.38 194.14 199.90 205.66 211.42 217.18" y="579.28" font-size="7.2" font-weight="bold" fill="#27b37a" text-anchor="middle">CTCAGCACCACGTTCCCGTCC</text>
<text x="284.50" y="296.60" font-size="18.5" fill="#111" font-weight="bold" stroke="#111" stroke-width="0.5">c</text>
<text x="358.80" y="301.30" font-size="11.3" fill="#111" stroke="#111" stroke-width="0.25" text-anchor="middle">C</text>
<text x="389.40" y="301.30" font-size="11.3" fill="#111" stroke="#111" stroke-width="0.25" text-anchor="middle">T</text>
<text x="323.30" y="320.10" font-size="11.3" fill="#111" stroke="#111" stroke-width="0.25" text-anchor="middle">2000639N</text>
<text x="323.30" y="332.80" font-size="11.3" fill="#111" stroke="#111" stroke-width="0.25" text-anchor="middle">input</text>
<text x="323.30" y="367.80" font-size="11.3" fill="#111" stroke="#111" stroke-width="0.25" text-anchor="middle">2000639C</text>
<text x="323.30" y="380.10" font-size="11.3" fill="#111" stroke="#111" stroke-width="0.25" text-anchor="middle">K4me3</text>
<text x="414.70" y="320.10" font-size="11.3" fill="#111" stroke="#111" stroke-width="0.25">C:50%</text>
<text x="414.70" y="332.50" font-size="11.3" fill="#111" stroke="#111" stroke-width="0.25">T:50%</text>
<text x="414.70" y="367.80" font-size="11.3" fill="#111" stroke="#111" stroke-width="0.25">C:45%</text>
<text x="414.70" y="380.10" font-size="11.3" fill="#111" stroke="#111" stroke-width="0.25">T:55%</text>
<path d="M353.2,332.2L358.2,332.2L358.9,311.0L359.8,315.9L360.4,319.6L361.0,322.5L361.6,324.7L362.2,326.4L362.8,327.8L363.4,328.8L364.0,329.6L364.6,330.2L365.2,330.6L365.8,331.0L366.4,331.3L367.0,331.5L367.6,331.7L368.2,331.8L368.8,331.9L369.4,331.9L370.0,332.0L370.6,332.1L387.8,332.2L388.5,311.0L389.4,315.9L390.0,319.6L390.6,322.5L391.2,324.7L391.8,326.4L392.4,327.8L393.0,328.8L393.6,329.6L394.2,330.2L394.8,330.6L395.4,331.0L396.0,331.3L396.6,331.5L397.2,331.7L397.8,331.8L398.4,331.9L399.0,331.9L399.6,332.0L400.2,332.1L406.5,332.2" fill="none" stroke="#111" stroke-width="2.3" stroke-linejoin="round"/>
<path d="M353.2,379.2L358.5,379.2L359.2,362.0L360.1,365.9L360.7,369.0L361.3,371.3L361.9,373.1L362.5,374.5L363.1,375.6L363.7,376.4L364.3,377.1L364.9,377.6L365.5,377.9L366.1,378.2L366.7,378.4L367.3,378.6L367.9,378.8L368.5,378.9L369.1,378.9L369.7,379.0L370.3,379.0L370.9,379.1L388.0,379.2L388.7,358.0L389.6,362.9L390.2,366.6L390.8,369.5L391.4,371.7L392.0,373.4L392.6,374.8L393.2,375.8L393.8,376.6L394.4,377.2L395.0,377.6L395.6,378.0L396.2,378.3L396.8,378.5L397.4,378.7L398.0,378.8L398.6,378.9L399.2,378.9L399.8,379.0L400.4,379.1L406.5,379.2" fill="none" stroke="#111" stroke-width="2.3" stroke-linejoin="round"/>
<text x="284.50" y="441.40" font-size="18.5" fill="#111" font-weight="bold" stroke="#111" stroke-width="0.5">d</text>
<line x1="333.50" y1="446.00" x2="333.50" y2="562.30" stroke="#111" stroke-width="2.0"/>
<line x1="332.50" y1="562.30" x2="411.40" y2="562.30" stroke="#111" stroke-width="2.0"/>
<line x1="333.50" y1="562.30" x2="333.50" y2="565.80" stroke="#111" stroke-width="2.0"/>
<line x1="372.30" y1="562.30" x2="372.30" y2="565.80" stroke="#111" stroke-width="2.0"/>
<line x1="411.40" y1="562.30" x2="411.40" y2="565.80" stroke="#111" stroke-width="2.0"/>
<line x1="330.00" y1="562.30" x2="333.50" y2="562.30" stroke="#111" stroke-width="1.4"/>
<text x="327.00" y="565.80" font-size="11.3" fill="#111" stroke="#111" stroke-width="0.25" text-anchor="end">0</text>
<line x1="330.00" y1="529.20" x2="333.50" y2="529.20" stroke="#111" stroke-width="1.4"/>
<text x="327.00" y="532.70" font-size="11.3" fill="#111" stroke="#111" stroke-width="0.25" text-anchor="end">20</text>
<line x1="330.00" y1="496.10" x2="333.50" y2="496.10" stroke="#111" stroke-width="1.4"/>
<text x="327.00" y="499.60" font-size="11.3" fill="#111" stroke="#111" stroke-width="0.25" text-anchor="end">40</text>
<line x1="330.00" y1="463.00" x2="333.50" y2="463.00" stroke="#111" stroke-width="1.4"/>
<text x="327.00" y="466.50" font-size="11.3" fill="#111" stroke="#111" stroke-width="0.25" text-anchor="end">60</text>
<rect x="384.00" y="520.10" width="15.00" height="42.20" fill="#4a90cc"/>
<rect x="384.00" y="468.79" width="15.00" height="51.31" fill="#c0665f"/>
<line x1="392.00" y1="453.70" x2="392.00" y2="484.40" stroke="#111" stroke-width="1.3"/>
<line x1="387.50" y1="453.70" x2="396.50" y2="453.70" stroke="#111" stroke-width="1.3"/>
<line x1="387.50" y1="484.40" x2="396.50" y2="484.40" stroke="#111" stroke-width="1.3"/>
<rect x="347.00" y="560.64" width="13.00" height="1.50" fill="#777"/>
<line x1="350.00" y1="560.30" x2="357.00" y2="560.30" stroke="#333" stroke-width="1.0"/>
<text x="350.80" y="580.50" font-size="11.3" fill="#111" stroke="#111" stroke-width="0.25" text-anchor="middle">Normal</text>
<text x="393.80" y="580.50" font-size="11.3" fill="#111" stroke="#111" stroke-width="0.25" text-anchor="middle">Cancer</text>
<text x="372.30" y="597.20" font-size="11.3" fill="#111" stroke="#111" stroke-width="0.25" text-anchor="middle">2000639</text>
<text transform="translate(290,512) rotate(-90)" font-size="11.3" text-anchor="middle" fill="#111" stroke="#111" stroke-width="0.25">ChIP DNA</text>
<text transform="translate(303.2,512) rotate(-90)" font-size="11.3" text-anchor="middle" fill="#111" stroke="#111" stroke-width="0.25">(K4me3 per input)</text>
<rect x="411.90" y="456.30" width="5.60" height="5.60" fill="#c0665f"/>
<text x="424.70" y="461.20" font-size="11.3" fill="#111" stroke="#111" stroke-width="0.25">T-allele</text>
<text x="424.70" y="475.80" font-size="11.3" fill="#111" stroke="#111" stroke-width="0.25">(SNP)</text>
<rect x="411.90" y="489.20" width="5.60" height="5.60" fill="#4a90cc"/>
<text x="424.70" y="494.50" font-size="11.3" fill="#111" stroke="#111" stroke-width="0.25">C-allele</text>
<text x="424.70" y="507.70" font-size="11.3" fill="#111" stroke="#111" stroke-width="0.25">(reference)</text>
<text x="503.50" y="305.00" font-size="18.5" fill="#111" font-weight="bold" stroke="#111" stroke-width="0.5">f</text>
<rect x="555.60" y="295.00" width="182.70" height="129.20" fill="#fcf2ec"/>
<text x="591.30" y="307.00" font-size="11.3" fill="#111" stroke="#111" stroke-width="0.25">2 kb</text>
<line x1="617.60" y1="303.50" x2="677.80" y2="303.50" stroke="#444" stroke-width="1.2"/>
<line x1="617.60" y1="299.50" x2="617.60" y2="307.50" stroke="#444" stroke-width="1.2"/>
<line x1="677.80" y1="299.50" x2="677.80" y2="307.50" stroke="#444" stroke-width="1.2"/>
<text x="498.00" y="321.00" font-size="11.3" fill="#8e3530" stroke="#8e3530" stroke-width="0.25">RNAseq</text>
<text x="560.00" y="321.30" font-size="11.3" fill="#111" stroke="#111" stroke-width="0.25">chr12:</text>
<text x="624.00" y="321.30" font-size="11.3" fill="#111" stroke="#111" stroke-width="0.25">93710000</text>
<line x1="677.80" y1="310.50" x2="677.80" y2="323.50" stroke="#111" stroke-width="1.2"/>
<text x="498.00" y="339.00" font-size="11.3" fill="#111" stroke="#111" stroke-width="0.25">2000639N</text>
<text x="498.00" y="359.80" font-size="11.3" fill="#111" stroke="#111" stroke-width="0.25">2000639C</text>
<path d="M556.00,361.20L556.00,361.20L556.50,361.01L557.00,361.00L557.50,361.20L558.00,361.20L558.50,361.20L559.00,361.20L559.50,360.83L560.00,360.97L560.50,361.08L561.00,361.13L561.50,361.01L562.00,361.20L562.50,361.20L563.00,361.20L563.50,360.71L564.00,361.20L564.50,360.82L565.00,361.20L565.50,360.98L566.00,361.20L566.50,361.20L567.00,360.79L567.50,361.20L568.00,361.20L568.50,360.70L569.00,361.19L569.50,361.20L570.00,360.62L570.50,360.66L571.00,361.20L571.50,361.20L572.00,361.20L572.50,361.20L573.00,361.05L573.50,361.20L574.00,360.96L574.50,361.20L575.00,361.20L575.50,360.82L576.00,361.20L576.50,361.20L577.00,361.08L577.50,361.20L578.00,361.20L578.50,361.20L579.00,360.93L579.50,360.64L580.00,360.63L580.50,361.00L581.00,361.20L581.50,361.20L582.00,360.97L582.50,360.99L583.00,361.20L583.50,361.20L584.00,361.20L584.50,361.19L585.00,360.83L585.50,361.20L586.00,361.20L586.50,360.81L587.00,361.20L587.50,361.18L588.00,361.20L588.50,361.20L589.00,361.20L589.50,360.87L590.00,361.20L590.50,361.14L591.00,361.20L591.50,360.96L592.00,361.20L592.50,361.20L593.00,361.20L593.50,361.04L594.00,361.20L594.50,361.20L595.00,361.20L595.50,361.20L596.00,361.20L596.50,360.65L597.00,361.20L597.50,360.65L598.00,361.20L598.50,360.69L599.00,361.20L599.50,361.20L600.00,360.90L600.50,360.71L601.00,361.20L601.50,361.20L602.00,360.88L602.50,361.20L603.00,361.20L603.50,361.20L604.00,361.20L604.50,361.06L605.00,360.62L605.50,360.60L606.00,361.20L606.50,361.20L607.00,361.20L607.50,360.86L608.00,360.80L608.50,361.03L609.00,361.20L609.50,361.17L610.00,361.20L610.50,361.05L611.00,361.20L611.50,360.66L612.00,360.73L612.50,361.20L613.00,361.20L613.50,360.75L614.00,361.20L614.50,360.67L615.00,361.18L615.50,360.96L616.00,360.95L616.50,361.20L617.00,361.20L617.50,361.20L618.00,360.98L618.50,360.97L619.00,361.20L619.50,360.74L620.00,361.20L620.50,361.20L621.00,361.20L621.50,360.62L622.00,361.13L622.50,361.05L623.00,360.70L623.50,360.65L624.00,360.89L624.50,361.20L625.00,361.09L625.50,360.72L626.00,360.85L626.50,361.10L627.00,361.20L627.50,361.20L628.00,360.92L628.50,361.12L629.00,361.20L629.50,360.95L630.00,360.72L630.50,360.84L631.00,360.72L631.50,360.71L632.00,361.16L632.50,360.85L633.00,361.20L633.50,361.20L634.00,361.20L634.50,361.20L635.00,360.68L635.50,360.97L636.00,361.15L636.50,361.05L637.00,361.20L637.50,361.16L638.00,360.96L638.50,360.96L639.00,360.81L639.50,360.29L640.00,360.07L640.50,359.30L641.00,359.63L641.50,359.44L642.00,358.93L642.50,358.22L643.00,357.89L643.50,357.76L644.00,357.18L644.50,357.49L645.00,357.53L645.50,356.61L646.00,356.30L646.50,356.25L647.00,355.30L647.50,355.37L648.00,355.16L648.50,354.73L649.00,353.67L649.50,353.34L650.00,351.46L650.50,350.10L651.00,348.74L651.50,347.53L652.00,347.20L652.50,345.78L653.00,345.70L653.50,344.46L654.00,344.11L654.50,343.69L655.00,343.70L655.50,343.60L656.00,344.50L656.50,344.25L657.00,343.77L657.50,343.80L658.00,344.53L658.50,344.25L659.00,344.45L659.50,345.36L660.00,345.49L660.50,346.13L661.00,346.38L661.50,348.52L662.00,350.68L662.50,353.38L663.00,355.49L663.50,358.55L664.00,361.20L664.50,361.20L665.00,361.20L665.50,361.20L666.00,361.20L666.50,361.15L667.00,361.20L667.50,361.20L668.00,360.84L668.50,361.20L669.00,360.68L669.50,361.08L670.00,361.20L670.50,360.75L671.00,360.72L671.50,361.20L672.00,361.20L672.50,361.03L673.00,360.79L673.50,361.07L674.00,360.86L674.50,361.20L675.00,361.06L675.50,361.20L676.00,361.20L676.50,361.20L677.00,361.20L677.50,361.20L678.00,360.83L678.50,361.20L679.00,361.20L679.50,361.20L680.00,360.63L680.50,361.17L681.00,361.20L681.50,360.80L682.00,360.75L682.50,360.81L683.00,361.20L683.50,360.92L684.00,361.20L684.50,361.20L685.00,360.76L685.50,360.80L686.00,361.20L686.50,360.74L687.00,361.20L687.50,361.20L688.00,361.20L688.50,361.20L689.00,361.20L689.50,360.94L690.00,361.20L690.50,361.20L691.00,361.20L691.50,361.20L692.00,360.77L692.50,361.07L693.00,361.20L693.50,360.98L694.00,361.16L694.50,361.20L695.00,361.17L695.50,361.02L696.00,360.84L696.50,361.19L697.00,361.04L697.50,361.20L698.00,361.04L698.50,361.20L699.00,361.20L699.50,361.18L700.00,360.94L700.50,361.20L701.00,360.69L701.50,361.20L702.00,360.77L702.50,360.97L703.00,360.65L703.50,360.98L704.00,361.20L704.50,361.20L705.00,361.07L705.50,360.90L706.00,360.79L706.50,361.20L707.00,361.20L707.50,361.20L708.00,361.20L708.50,361.20L709.00,361.20L709.50,361.20L710.00,361.20L710.50,360.98L711.00,361.06L711.50,360.64L712.00,360.65L712.50,360.90L713.00,360.66L713.50,361.20L714.00,361.20L714.50,360.69L715.00,361.20L715.50,361.20L716.00,360.89L716.50,361.20L717.00,361.15L717.50,361.20L718.00,361.20L718.50,361.20L719.00,361.07L719.50,360.66L720.00,360.62L720.50,360.88L721.00,360.68L721.50,361.20L722.00,361.20L722.50,360.69L723.00,361.08L723.50,361.00L724.00,361.20L724.50,361.20L725.00,361.20L725.50,360.92L726.00,360.81L726.50,360.89L727.00,361.20L727.50,361.20L728.00,360.77L728.50,360.61L729.00,361.20L729.50,361.20L730.00,361.05L730.50,361.16L731.00,361.20L731.50,361.20L732.00,361.20L732.50,361.07L733.00,361.20L733.50,361.15L734.00,360.66L734.50,360.91L735.00,361.20L735.50,361.20L736.00,361.20L736.50,360.92L737.00,361.04L737.50,361.20L738.00,361.14L738.00,361.20Z" fill="#111"/>
<path d="M556.00,341.20L556.00,341.20L556.50,341.20L557.00,341.20L557.50,341.20L558.00,341.20L558.50,341.20L559.00,341.20L559.50,341.20L560.00,341.20L560.50,341.20L561.00,341.20L561.50,341.20L562.00,341.20L562.50,341.20L563.00,341.20L563.50,341.20L564.00,341.20L564.50,341.20L565.00,341.20L565.50,341.20L566.00,341.20L566.50,341.20L567.00,341.20L567.50,341.20L568.00,341.20L568.50,341.20L569.00,341.20L569.50,341.20L570.00,341.20L570.50,341.20L571.00,341.20L571.50,341.20L572.00,341.20L572.50,341.20L573.00,341.20L573.50,341.20L574.00,341.20L574.50,341.20L575.00,341.20L575.50,341.20L576.00,341.20L576.50,341.20L577.00,341.20L577.50,341.20L578.00,341.20L578.50,341.20L579.00,341.20L579.50,341.20L580.00,341.20L580.50,341.20L581.00,341.20L581.50,341.20L582.00,341.20L582.50,341.20L583.00,341.20L583.50,341.20L584.00,341.20L584.50,341.20L585.00,341.20L585.50,341.20L586.00,341.20L586.50,341.20L587.00,341.20L587.50,341.20L588.00,341.20L588.50,341.20L589.00,341.20L589.50,341.20L590.00,341.20L590.50,341.20L591.00,341.20L591.50,341.20L592.00,341.20L592.50,341.20L593.00,341.20L593.50,341.20L594.00,341.20L594.50,341.20L595.00,341.20L595.50,341.20L596.00,341.20L596.50,341.20L597.00,341.20L597.50,341.20L598.00,341.20L598.50,341.20L599.00,341.20L599.50,341.20L600.00,341.20L600.50,341.20L601.00,341.20L601.50,341.20L602.00,341.20L602.50,341.20L603.00,341.20L603.50,341.20L604.00,341.20L604.50,341.20L605.00,341.20L605.50,341.20L606.00,341.20L606.50,341.20L607.00,341.20L607.50,341.20L608.00,341.20L608.50,341.20L609.00,341.20L609.50,341.20L610.00,341.20L610.50,341.20L611.00,341.20L611.50,341.20L612.00,341.20L612.50,341.20L613.00,341.20L613.50,341.20L614.00,341.20L614.50,341.20L615.00,341.20L615.50,341.20L616.00,341.20L616.50,341.20L617.00,341.20L617.50,341.20L618.00,341.20L618.50,341.20L619.00,341.20L619.50,341.20L620.00,341.20L620.50,341.20L621.00,341.20L621.50,341.20L622.00,341.20L622.50,341.20L623.00,341.20L623.50,341.20L624.00,341.20L624.50,341.20L625.00,341.20L625.50,341.20L626.00,341.20L626.50,341.20L627.00,341.20L627.50,341.20L628.00,341.20L628.50,341.20L629.00,341.20L629.50,341.20L630.00,341.20L630.50,341.20L631.00,341.20L631.50,341.20L632.00,341.20L632.50,341.20L633.00,341.20L633.50,341.20L634.00,341.20L634.50,341.20L635.00,341.20L635.50,341.20L636.00,341.20L636.50,341.20L637.00,341.20L637.50,341.20L638.00,341.20L638.50,341.20L639.00,341.20L639.50,341.20L640.00,341.20L640.50,341.20L641.00,341.20L641.50,341.20L642.00,341.20L642.50,341.20L643.00,341.20L643.50,341.20L644.00,341.20L644.50,341.20L645.00,341.20L645.50,340.87L646.00,340.53L646.50,340.20L647.00,340.53L647.50,340.87L648.00,341.20L648.50,341.20L649.00,341.20L649.50,341.20L650.00,341.20L650.50,341.20L651.00,341.20L651.50,341.20L652.00,341.20L652.50,341.20L653.00,341.20L653.50,341.20L654.00,341.20L654.50,341.20L655.00,341.20L655.50,341.20L656.00,341.20L656.50,341.20L657.00,341.20L657.50,341.20L658.00,341.20L658.50,341.20L659.00,341.20L659.50,341.20L660.00,341.20L660.50,341.20L661.00,341.20L661.50,341.20L662.00,341.20L662.50,341.20L663.00,341.20L663.50,341.20L664.00,341.20L664.50,341.20L665.00,341.20L665.50,341.20L666.00,341.20L666.50,341.20L667.00,341.20L667.50,341.20L668.00,341.20L668.50,341.20L669.00,341.20L669.50,341.20L670.00,341.20L670.50,341.20L671.00,341.20L671.50,341.20L672.00,341.20L672.50,341.20L673.00,341.20L673.50,341.20L674.00,341.20L674.50,341.20L675.00,341.20L675.50,341.20L676.00,341.20L676.50,341.20L677.00,341.20L677.50,341.20L678.00,341.20L678.50,341.20L679.00,341.20L679.50,341.20L680.00,341.20L680.50,341.20L681.00,341.20L681.50,341.20L682.00,341.20L682.50,341.20L683.00,341.20L683.50,341.20L684.00,341.20L684.50,341.20L685.00,341.20L685.50,341.20L686.00,341.20L686.50,341.20L687.00,341.20L687.50,341.20L688.00,341.20L688.50,341.20L689.00,341.20L689.50,341.20L690.00,341.20L690.50,341.20L691.00,341.20L691.50,341.20L692.00,341.20L692.50,341.20L693.00,341.20L693.50,341.20L694.00,341.20L694.50,341.20L695.00,341.20L695.50,341.20L696.00,341.20L696.50,341.20L697.00,341.20L697.50,341.20L698.00,341.20L698.50,341.20L699.00,341.20L699.50,341.20L700.00,341.20L700.50,341.20L701.00,341.20L701.50,341.20L702.00,341.20L702.50,341.20L703.00,341.20L703.50,341.20L704.00,341.20L704.50,341.20L705.00,341.20L705.50,341.20L706.00,341.20L706.50,341.20L707.00,341.20L707.50,341.20L708.00,341.20L708.50,341.20L709.00,341.20L709.50,341.20L710.00,341.20L710.50,341.20L711.00,341.20L711.50,341.20L712.00,341.20L712.50,341.20L713.00,341.20L713.50,341.20L714.00,341.20L714.50,341.20L715.00,341.20L715.50,341.20L716.00,341.20L716.50,341.20L717.00,341.20L717.50,341.20L718.00,341.20L718.50,341.20L719.00,341.20L719.50,341.20L720.00,341.20L720.50,341.20L721.00,341.20L721.50,341.20L722.00,341.20L722.50,341.20L723.00,341.20L723.50,341.20L724.00,341.20L724.50,341.20L725.00,341.20L725.50,341.20L726.00,341.20L726.50,341.20L727.00,341.20L727.50,341.20L728.00,341.20L728.50,341.20L729.00,341.20L729.50,341.20L730.00,341.20L730.50,341.20L731.00,341.20L731.50,341.20L732.00,341.20L732.50,341.20L733.00,341.20L733.50,341.20L734.00,341.20L734.50,341.20L735.00,341.20L735.50,341.20L736.00,341.20L736.50,341.20L737.00,341.20L737.50,341.20L738.00,341.20L738.00,341.20Z" fill="#111"/>
<line x1="555.60" y1="341.20" x2="738.30" y2="341.20" stroke="#111" stroke-width="1.7"/>
<line x1="555.60" y1="361.20" x2="738.30" y2="361.20" stroke="#111" stroke-width="1.7"/>
<text x="498.00" y="378.40" font-size="11.3" fill="#8e3530" stroke="#8e3530" stroke-width="0.25">ChIPseq</text>
<text x="498.00" y="390.30" font-size="11.3" fill="#8e3530" stroke="#8e3530" stroke-width="0.25">K4me3</text>
<line x1="555.60" y1="376.90" x2="738.30" y2="376.90" stroke="#2e3192" stroke-width="1.8"/>
<path d="M563.80,373.54L561.00,376.90L563.80,380.26M569.80,373.54L567.00,376.90L569.80,380.26M575.80,373.54L573.00,376.90L575.80,380.26M581.80,373.54L579.00,376.90L581.80,380.26M587.80,373.54L585.00,376.90L587.80,380.26M593.80,373.54L591.00,376.90L593.80,380.26M599.80,373.54L597.00,376.90L599.80,380.26M605.80,373.54L603.00,376.90L605.80,380.26M611.80,373.54L609.00,376.90L611.80,380.26M617.80,373.54L615.00,376.90L617.80,380.26M623.80,373.54L621.00,376.90L623.80,380.26M629.80,373.54L627.00,376.90L629.80,380.26M635.80,373.54L633.00,376.90L635.80,380.26M641.80,373.54L639.00,376.90L641.80,380.26M647.80,373.54L645.00,376.90L647.80,380.26M653.80,373.54L651.00,376.90L653.80,380.26M659.80,373.54L657.00,376.90L659.80,380.26M665.80,373.54L663.00,376.90L665.80,380.26M671.80,373.54L669.00,376.90L671.80,380.26M677.80,373.54L675.00,376.90L677.80,380.26M683.80,373.54L681.00,376.90L683.80,380.26M689.80,373.54L687.00,376.90L689.80,380.26M695.80,373.54L693.00,376.90L695.80,380.26M701.80,373.54L699.00,376.90L701.80,380.26M707.80,373.54L705.00,376.90L707.80,380.26M713.80,373.54L711.00,376.90L713.80,380.26M719.80,373.54L717.00,376.90L719.80,380.26M725.80,373.54L723.00,376.90L725.80,380.26M731.80,373.54L729.00,376.90L731.80,380.26M737.80,373.54L735.00,376.90L737.80,380.26" fill="none" stroke="#3f4fb8" stroke-width="1.8" stroke-linejoin="miter"/>
<text x="555.00" y="391.50" font-size="11.3" fill="#4a4fb0" stroke="#4a4fb0" stroke-width="0.25">LOC643339</text>
<text x="498.00" y="401.20" font-size="11.3" fill="#111" stroke="#111" stroke-width="0.25">2000639N</text>
<text x="498.00" y="420.60" font-size="11.3" fill="#111" stroke="#111" stroke-width="0.25">2000639C</text>
<path d="M556.00,404.00L556.00,404.00L556.50,404.00L557.00,404.00L557.50,404.00L558.00,404.00L558.50,404.00L559.00,404.00L559.50,404.00L560.00,404.00L560.50,404.00L561.00,404.00L561.50,404.00L562.00,404.00L562.50,404.00L563.00,404.00L563.50,404.00L564.00,404.00L564.50,404.00L565.00,404.00L565.50,404.00L566.00,404.00L566.50,404.00L567.00,404.00L567.50,404.00L568.00,404.00L568.50,404.00L569.00,404.00L569.50,404.00L570.00,404.00L570.50,404.00L571.00,404.00L571.50,404.00L572.00,404.00L572.50,404.00L573.00,404.00L573.50,404.00L574.00,404.00L574.50,404.00L575.00,404.00L575.50,404.00L576.00,404.00L576.50,404.00L577.00,404.00L577.50,404.00L578.00,404.00L578.50,404.00L579.00,404.00L579.50,404.00L580.00,404.00L580.50,404.00L581.00,404.00L581.50,404.00L582.00,404.00L582.50,404.00L583.00,404.00L583.50,404.00L584.00,404.00L584.50,404.00L585.00,404.00L585.50,404.00L586.00,404.00L586.50,404.00L587.00,404.00L587.50,404.00L588.00,404.00L588.50,404.00L589.00,404.00L589.50,404.00L590.00,404.00L590.50,404.00L591.00,404.00L591.50,404.00L592.00,404.00L592.50,404.00L593.00,404.00L593.50,404.00L594.00,404.00L594.50,404.00L595.00,404.00L595.50,404.00L596.00,404.00L596.50,404.00L597.00,404.00L597.50,404.00L598.00,404.00L598.50,404.00L599.00,404.00L599.50,404.00L600.00,404.00L600.50,404.00L601.00,404.00L601.50,404.00L602.00,404.00L602.50,404.00L603.00,404.00L603.50,404.00L604.00,404.00L604.50,404.00L605.00,404.00L605.50,404.00L606.00,404.00L606.50,404.00L607.00,404.00L607.50,404.00L608.00,404.00L608.50,404.00L609.00,404.00L609.50,404.00L610.00,404.00L610.50,404.00L611.00,404.00L611.50,404.00L612.00,404.00L612.50,404.00L613.00,404.00L613.50,404.00L614.00,404.00L614.50,404.00L615.00,404.00L615.50,402.50L616.00,402.50L616.50,402.50L617.00,402.50L617.50,402.50L618.00,402.50L618.50,402.50L619.00,402.50L619.50,402.50L620.00,402.50L620.50,402.50L621.00,404.00L621.50,404.00L622.00,404.00L622.50,404.00L623.00,404.00L623.50,404.00L624.00,404.00L624.50,404.00L625.00,404.00L625.50,404.00L626.00,404.00L626.50,404.00L627.00,404.00L627.50,402.80L628.00,402.80L628.50,402.80L629.00,402.80L629.50,402.80L630.00,402.80L630.50,402.80L631.00,402.80L631.50,402.80L632.00,402.80L632.50,402.80L633.00,404.00L633.50,404.00L634.00,404.00L634.50,404.00L635.00,404.00L635.50,404.00L636.00,404.00L636.50,404.00L637.00,404.00L637.50,404.00L638.00,404.00L638.50,404.00L639.00,404.00L639.50,404.00L640.00,404.00L640.50,402.80L641.00,402.80L641.50,402.80L642.00,402.80L642.50,402.80L643.00,402.80L643.50,402.80L644.00,402.80L644.50,402.80L645.00,402.80L645.50,402.80L646.00,404.00L646.50,404.00L647.00,404.00L647.50,404.00L648.00,404.00L648.50,404.00L649.00,404.00L649.50,404.00L650.00,404.00L650.50,404.00L651.00,404.00L651.50,404.00L652.00,404.00L652.50,404.00L653.00,404.00L653.50,404.00L654.00,404.00L654.50,404.00L655.00,404.00L655.50,404.00L656.00,404.00L656.50,404.00L657.00,404.00L657.50,404.00L658.00,404.00L658.50,404.00L659.00,404.00L659.50,404.00L660.00,404.00L660.50,404.00L661.00,404.00L661.50,404.00L662.00,404.00L662.50,404.00L663.00,404.00L663.50,404.00L664.00,404.00L664.50,404.00L665.00,404.00L665.50,404.00L666.00,404.00L666.50,404.00L667.00,404.00L667.50,404.00L668.00,404.00L668.50,404.00L669.00,404.00L669.50,404.00L670.00,404.00L670.50,404.00L671.00,404.00L671.50,404.00L672.00,404.00L672.50,404.00L673.00,404.00L673.50,404.00L674.00,404.00L674.50,404.00L675.00,404.00L675.50,404.00L676.00,404.00L676.50,404.00L677.00,404.00L677.50,404.00L678.00,404.00L678.50,404.00L679.00,404.00L679.50,404.00L680.00,404.00L680.50,404.00L681.00,404.00L681.50,402.50L682.00,402.50L682.50,402.50L683.00,402.50L683.50,402.50L684.00,402.50L684.50,402.50L685.00,402.50L685.50,402.50L686.00,402.50L686.50,402.50L687.00,404.00L687.50,404.00L688.00,404.00L688.50,404.00L689.00,404.00L689.50,404.00L690.00,404.00L690.50,404.00L691.00,404.00L691.50,404.00L692.00,404.00L692.50,404.00L693.00,404.00L693.50,404.00L694.00,404.00L694.50,404.00L695.00,404.00L695.50,404.00L696.00,404.00L696.50,404.00L697.00,404.00L697.50,404.00L698.00,404.00L698.50,404.00L699.00,404.00L699.50,404.00L700.00,404.00L700.50,404.00L701.00,404.00L701.50,404.00L702.00,404.00L702.50,404.00L703.00,404.00L703.50,404.00L704.00,404.00L704.50,404.00L705.00,404.00L705.50,404.00L706.00,404.00L706.50,404.00L707.00,404.00L707.50,404.00L708.00,404.00L708.50,404.00L709.00,404.00L709.50,404.00L710.00,404.00L710.50,404.00L711.00,404.00L711.50,404.00L712.00,404.00L712.50,404.00L713.00,404.00L713.50,404.00L714.00,404.00L714.50,404.00L715.00,404.00L715.50,404.00L716.00,404.00L716.50,404.00L717.00,404.00L717.50,404.00L718.00,404.00L718.50,404.00L719.00,404.00L719.50,404.00L720.00,404.00L720.50,404.00L721.00,404.00L721.50,404.00L722.00,404.00L722.50,404.00L723.00,404.00L723.50,404.00L724.00,404.00L724.50,404.00L725.00,404.00L725.50,404.00L726.00,404.00L726.50,404.00L727.00,404.00L727.50,404.00L728.00,404.00L728.50,404.00L729.00,404.00L729.50,404.00L730.00,404.00L730.50,404.00L731.00,404.00L731.50,404.00L732.00,404.00L732.50,404.00L733.00,404.00L733.50,404.00L734.00,404.00L734.50,404.00L735.00,404.00L735.50,404.00L736.00,404.00L736.50,404.00L737.00,404.00L737.50,404.00L738.00,404.00L738.00,404.00Z" fill="#8c1c1a"/>
<path d="M556.00,424.00L556.00,423.94L556.60,423.51L557.20,423.52L557.80,423.35L558.40,424.00L559.00,423.97L559.60,424.00L560.20,423.97L560.80,423.47L561.40,424.00L562.00,423.67L562.60,423.99L563.20,423.91L563.80,423.77L564.40,423.36L565.00,423.59L565.60,424.00L566.20,423.92L566.80,424.00L567.40,423.33L568.00,423.39L568.60,423.39L569.20,423.37L569.80,423.46L570.40,423.25L571.00,423.41L571.60,423.94L572.20,423.35L572.80,423.71L573.40,423.44L574.00,423.64L574.60,423.77L575.20,423.84L575.80,423.77L576.40,423.89L577.00,424.00L577.60,423.38L578.20,423.40L578.80,423.21L579.40,423.51L580.00,423.65L580.60,423.45L581.20,424.00L581.80,423.52L582.40,423.76L583.00,424.00L583.60,424.00L584.20,423.68L584.80,423.95L585.40,423.74L586.00,423.59L586.60,423.80L587.20,424.00L587.80,423.71L588.40,423.96L589.00,423.96L589.60,424.00L590.20,423.83L590.80,424.00L591.40,423.55L592.00,423.25L592.60,423.81L593.20,423.48L593.80,423.27L594.40,424.00L595.00,424.00L595.60,423.39L596.20,423.36L596.80,423.56L597.40,424.00L598.00,423.79L598.60,423.33L599.20,423.31L599.80,423.40L600.40,424.00L601.00,423.35L601.60,423.83L602.20,423.48L602.80,424.00L603.40,423.23L604.00,423.60L604.60,423.48L605.20,423.99L605.80,423.58L606.40,423.62L607.00,423.61L607.60,423.84L608.20,423.47L608.80,423.86L609.40,423.90L610.00,424.00L610.60,423.52L611.20,424.00L611.80,423.97L612.40,424.00L613.00,423.56L613.60,423.64L614.20,423.66L614.80,424.00L615.40,423.76L616.00,423.86L616.60,424.00L617.20,424.00L617.80,423.20L618.40,424.00L619.00,423.90L619.60,423.93L620.20,423.60L620.80,424.00L621.40,423.73L622.00,423.83L622.60,423.37L623.20,424.00L623.80,423.87L624.40,423.70L625.00,423.23L625.60,423.68L626.20,423.41L626.80,422.56L627.40,422.29L628.00,421.90L628.60,420.96L629.20,420.45L629.80,420.51L630.40,420.88L631.00,420.35L631.60,420.08L632.20,420.56L632.80,420.13L633.40,420.25L634.00,420.26L634.60,419.81L635.20,419.50L635.80,418.95L636.40,418.86L637.00,418.10L637.60,416.97L638.20,414.86L638.80,413.58L639.40,412.74L640.00,410.53L640.60,409.68L641.20,407.96L641.80,408.17L642.40,409.02L643.00,409.69L643.60,410.29L644.20,411.94L644.80,412.56L645.40,414.66L646.00,414.34L646.60,415.15L647.20,415.26L647.80,415.38L648.40,415.93L649.00,416.04L649.60,416.01L650.20,416.02L650.80,415.46L651.40,415.23L652.00,416.06L652.60,415.44L653.20,415.73L653.80,414.94L654.40,415.30L655.00,414.61L655.60,415.10L656.20,415.67L656.80,415.95L657.40,415.85L658.00,415.38L658.60,416.25L659.20,416.27L659.80,417.13L660.40,417.91L661.00,418.20L661.60,418.83L662.20,418.37L662.80,418.46L663.40,418.24L664.00,418.69L664.60,418.34L665.20,418.86L665.80,418.77L666.40,418.77L667.00,418.59L667.60,418.57L668.20,419.40L668.80,419.42L669.40,419.07L670.00,418.83L670.60,419.15L671.20,419.43L671.80,418.81L672.40,419.52L673.00,419.77L673.60,419.85L674.20,419.91L674.80,419.26L675.40,419.93L676.00,419.38L676.60,419.29L677.20,419.22L677.80,419.47L678.40,419.92L679.00,419.78L679.60,419.63L680.20,419.68L680.80,419.81L681.40,419.04L682.00,419.39L682.60,419.21L683.20,418.54L683.80,419.09L684.40,419.31L685.00,418.82L685.60,420.32L686.20,421.94L686.80,423.08L687.40,423.26L688.00,423.22L688.60,422.65L689.20,423.37L689.80,422.81L690.40,422.84L691.00,423.31L691.60,422.76L692.20,423.03L692.80,423.34L693.40,423.59L694.00,423.43L694.60,423.02L695.20,423.42L695.80,423.79L696.40,423.49L697.00,423.19L697.60,423.28L698.20,422.69L698.80,423.03L699.40,422.18L700.00,422.82L700.60,422.90L701.20,422.41L701.80,422.69L702.40,422.11L703.00,422.50L703.60,422.81L704.20,422.83L704.80,423.78L705.40,423.45L706.00,423.55L706.60,423.77L707.20,423.24L707.80,424.00L708.40,423.34L709.00,424.00L709.60,423.36L710.20,424.00L710.80,424.00L711.40,423.70L712.00,423.27L712.60,423.94L713.20,423.71L713.80,423.59L714.40,423.96L715.00,423.67L715.60,424.00L716.20,423.75L716.80,423.44L717.40,423.86L718.00,423.98L718.60,424.00L719.20,423.50L719.80,423.77L720.40,423.29L721.00,423.46L721.60,424.00L722.20,423.29L722.80,423.27L723.40,423.38L724.00,423.37L724.60,423.52L725.20,423.48L725.80,423.53L726.40,423.61L727.00,423.94L727.60,424.00L728.20,423.47L728.80,423.60L729.40,424.00L730.00,423.56L730.60,423.59L731.20,423.69L731.80,423.42L732.40,423.32L733.00,423.82L733.60,423.39L734.20,423.70L734.80,423.63L735.40,423.79L736.00,423.27L736.60,423.76L737.20,423.25L737.80,423.86L738.00,424.00Z" fill="#8c1c1a"/>
<line x1="555.60" y1="404.00" x2="738.30" y2="404.00" stroke="#111" stroke-width="1.7"/>
<line x1="555.60" y1="424.20" x2="738.30" y2="424.20" stroke="#111" stroke-width="1.7"/>
<text x="576.50" y="440.60" font-size="11.3" fill="#111" stroke="#111" stroke-width="0.25">chr12:93,709,732</text>
<line x1="669.80" y1="430.00" x2="669.80" y2="444.80" stroke="#111" stroke-width="1.5"/>
<text x="679.00" y="440.60" font-size="11.3" fill="#111" stroke="#111" stroke-width="0.25">rs4761701</text>
<text x="599.90" y="454.30" font-size="11.3" fill="#111" stroke="#111" stroke-width="0.25" text-anchor="end">hg19</text>
<text x="599.90" y="464.30" font-size="11.3" fill="#111" stroke="#111" stroke-width="0.25" text-anchor="end">Consensus</text>
<text x="599.90" y="498.50" font-size="11.3" fill="#111" stroke="#111" stroke-width="0.25" text-anchor="end">2000639C</text>
<text x="599.90" y="510.00" font-size="11.3" fill="#111" stroke="#111" stroke-width="0.25" text-anchor="end">ChIPseq tag</text>
<text x="599.90" y="520.50" font-size="11.3" fill="#111" stroke="#111" stroke-width="0.25" text-anchor="end">alignment</text>
<text x="610.56 616.48 622.40 628.32 634.24 640.16 646.08 652.00 657.92 663.84 669.76 675.68 681.60 687.52 693.44 699.36 705.28 711.20 717.12 723.04 728.96" y="453.18" font-size="7.2" font-weight="bold" fill="#3a3a3a" text-anchor="middle">CAGAGTGGGCG-TACTGTGGG</text>
<rect x="666.80" y="456.80" width="5.92" height="7.60" fill="#f4c0bc"/>
<text x="610.56 616.48 622.40 628.32 634.24 640.16 646.08 652.00 657.92 663.84 669.76 675.68 681.60 687.52 693.44 699.36 705.28 711.20 717.12 723.04 728.96" y="463.18" font-size="7.2" font-weight="bold" fill="#3a3a3a" text-anchor="middle">CAGAGTGGGCA-TACTGTGGG</text>
<rect x="667.70" y="468.20" width="4.12" height="99.40" fill="#eeaaa6"/>
<text x="669.76" y="474.43" font-size="7.2" fill="#222" text-anchor="middle" font-weight="bold">A</text>
<text x="610.56 616.48 622.40 628.32 634.24 640.16 646.08 652.00 657.92 663.84 675.68 681.60 687.52 693.44 699.36 705.28 711.20 717.12 723.04 728.96" y="474.78" font-size="7.2" font-weight="bold" fill="#c8424f" text-anchor="middle">CAGAGTGGGC-TACTGTGGG</text>
<text x="669.76" y="482.06" font-size="7.2" fill="#222" text-anchor="middle" font-weight="bold">A</text>
<text x="610.56 616.48 622.40 628.32 634.24 640.16 646.08 652.00 657.92 663.84 675.68 681.60 687.52 693.44 699.36 705.28 711.20 717.12 723.04 728.96" y="482.41" font-size="7.2" font-weight="bold" fill="#27b37a" text-anchor="middle">CAGAGTGGGC-TACTGTGGG</text>
<text x="669.76" y="489.69" font-size="7.2" fill="#222" text-anchor="middle" font-weight="bold">A</text>
<text x="610.56 616.48 622.40 628.32 634.24 640.16 646.08 652.00 657.92 663.84 675.68 681.60 687.52 693.44 699.36 705.28 711.20 717.12 723.04 728.96" y="490.04" font-size="7.2" font-weight="bold" fill="#c8424f" text-anchor="middle">CAGAGTGGGC-TACTGTGGG</text>
<text x="669.76" y="497.32" font-size="7.2" fill="#222" text-anchor="middle" font-weight="bold">A</text>
<text x="610.56 616.48 622.40 628.32 634.24 640.16 646.08 652.00 657.92 663.84 675.68 681.60 687.52 693.44 699.36 705.28 711.20 717.12 723.04 728.96" y="497.67" font-size="7.2" font-weight="bold" fill="#27b37a" text-anchor="middle">CAGAGTGGGC-TACTGTGGG</text>
<text x="669.76" y="504.95" font-size="7.2" fill="#222" text-anchor="middle" font-weight="bold">A</text>
<text x="610.56 616.48 622.40 628.32 634.24 640.16 646.08 652.00 657.92 663.84 675.68 681.60 687.52 693.44 699.36 705.28 711.20 717.12 723.04 728.96" y="505.30" font-size="7.2" font-weight="bold" fill="#c8424f" text-anchor="middle">CAGAGTGGGC-TACTGTGGG</text>
<text x="669.76" y="512.58" font-size="7.2" fill="#222" text-anchor="middle" font-weight="bold">A</text>
<text x="610.56 616.48 622.40 628.32 634.24 640.16 646.08 652.00 657.92 663.84 675.68 681.60 687.52 693.44 699.36 705.28 711.20 717.12 723.04 728.96" y="512.93" font-size="7.2" font-weight="bold" fill="#27b37a" text-anchor="middle">CAGAGTGGGC-TACTGTGGG</text>
<text x="669.76" y="520.21" font-size="7.2" fill="#222" text-anchor="middle" font-weight="bold">A</text>
<text x="610.56 616.48 622.40 628.32 634.24 640.16 646.08 652.00 657.92 663.84 675.68 681.60 687.52 693.44 699.36 705.28 711.20 717.12 723.04 728.96" y="520.56" font-size="7.2" font-weight="bold" fill="#c8424f" text-anchor="middle">CAGAGTGGGC-TACTGTGGG</text>
<text x="669.76" y="527.84" font-size="7.2" fill="#222" text-anchor="middle" font-weight="bold">A</text>
<text x="610.56 616.48 622.40 628.32 634.24 640.16 646.08 652.00 657.92 663.84 675.68 681.60 687.52 693.44 699.36 705.28 711.20 717.12 723.04 728.96" y="528.19" font-size="7.2" font-weight="bold" fill="#c8424f" text-anchor="middle">CAGAGTGGGC-TACTGTGGG</text>
<text x="669.76" y="535.47" font-size="7.2" fill="#222" text-anchor="middle" font-weight="bold">A</text>
<text x="616.48 622.40 628.32 634.24 640.16 646.08 652.00 657.92 663.84 675.68 681.60 687.52 693.44 699.36 705.28 711.20 717.12 723.04 728.96" y="535.82" font-size="7.2" font-weight="bold" fill="#27b37a" text-anchor="middle">AGAGTGGGC-TACTGTGGG</text>
<text x="669.76" y="543.10" font-size="7.2" fill="#222" text-anchor="middle" font-weight="bold">A</text>
<text x="622.40 628.32 634.24 640.16 646.08 652.00 657.92 663.84 675.68 681.60 687.52 693.44 699.36 705.28 711.20 717.12 723.04 728.96" y="543.45" font-size="7.2" font-weight="bold" fill="#c8424f" text-anchor="middle">GAGTGGGC-TACTGTGGG</text>
<text x="669.76" y="550.73" font-size="7.2" fill="#222" text-anchor="middle" font-weight="bold">A</text>
<text x="646.08 652.00 657.92 663.84 675.68 681.60 687.52 693.44 699.36 705.28 711.20 717.12 723.04 728.96" y="551.08" font-size="7.2" font-weight="bold" fill="#c8424f" text-anchor="middle">GGGC-TACTGTGGG</text>
<text x="669.76" y="558.36" font-size="7.2" fill="#222" text-anchor="middle" font-weight="bold">A</text>
<text x="657.92 663.84 675.68 681.60 687.52 693.44 699.36 705.28 711.20 717.12 723.04 728.96" y="558.71" font-size="7.2" font-weight="bold" fill="#c8424f" text-anchor="middle">GC-TACTGTGGG</text>
<text x="669.76" y="565.99" font-size="7.2" fill="#222" text-anchor="middle" font-weight="bold">A</text>
<text x="663.84 675.68 681.60 687.52 693.44 699.36 705.28 711.20 717.12 723.04 728.96" y="566.34" font-size="7.2" font-weight="bold" fill="#27b37a" text-anchor="middle">C-TACTGTGGG</text>
<rect x="672.72" y="567.59" width="5.92" height="7.60" fill="#c8aaa0"/>
<rect x="684.56" y="567.59" width="5.92" height="7.60" fill="#2f4fa8"/>
<rect x="690.48" y="567.59" width="5.92" height="7.60" fill="#5fb07a"/>
<text x="675.68" y="573.62" font-size="7.2" fill="#222" text-anchor="middle" font-weight="bold">A</text>
<text x="687.52" y="573.62" font-size="7.2" fill="#111" text-anchor="middle" font-weight="bold">C</text>
<text x="693.44" y="573.62" font-size="7.2" fill="#111" text-anchor="middle" font-weight="bold">T</text>
<text x="663.84 669.76 681.60 699.36 705.28 711.20 717.12 723.04 728.96" y="573.97" font-size="7.2" font-weight="bold" fill="#c8424f" text-anchor="middle">CGTTGTGGG</text>
<text x="610.56 616.48 622.40 628.32 634.24 640.16 646.08 652.00 657.92 663.84 669.76 675.68 681.60 687.52 693.44 699.36 705.28 711.20 717.12 723.04 728.96" y="581.60" font-size="7.2" font-weight="bold" fill="#c8424f" text-anchor="middle">CAGAGTGGGCG-TACTGTGGG</text>
<text x="753.50" y="302.50" font-size="18.5" fill="#111" font-weight="bold" stroke="#111" stroke-width="0.5">g</text>
<text x="831.50" y="301.50" font-size="11.3" fill="#111" stroke="#111" stroke-width="0.25" text-anchor="middle">A</text>
<text x="861.50" y="301.50" font-size="11.3" fill="#111" stroke="#111" stroke-width="0.25" text-anchor="middle">G</text>
<text x="793.40" y="317.90" font-size="11.3" fill="#111" stroke="#111" stroke-width="0.25" text-anchor="middle">2000639N</text>
<text x="793.40" y="330.80" font-size="11.3" fill="#111" stroke="#111" stroke-width="0.25" text-anchor="middle">input</text>
<text x="793.40" y="365.80" font-size="11.3" fill="#111" stroke="#111" stroke-width="0.25" text-anchor="middle">2000639C</text>
<text x="793.40" y="379.30" font-size="11.3" fill="#111" stroke="#111" stroke-width="0.25" text-anchor="middle">K4me3</text>
<text x="887.60" y="317.90" font-size="11.3" fill="#111" stroke="#111" stroke-width="0.25">A:51%</text>
<text x="887.60" y="331.50" font-size="11.3" fill="#111" stroke="#111" stroke-width="0.25">G:49%</text>
<text x="887.60" y="365.80" font-size="11.3" fill="#111" stroke="#111" stroke-width="0.25">A:15%</text>
<text x="887.60" y="379.30" font-size="11.3" fill="#111" stroke="#111" stroke-width="0.25">G:85%</text>
<path d="M821.7,331.8L829.4,331.8L830.1,311.0L831.0,315.8L831.6,319.5L832.2,322.3L832.8,324.5L833.4,326.2L834.0,327.5L834.6,328.5L835.2,329.2L835.8,329.8L836.4,330.3L837.0,330.6L837.6,330.9L838.2,331.1L838.8,331.3L839.4,331.4L840.0,331.5L840.6,331.6L841.2,331.6L841.8,331.7L858.8,331.8L859.5,313.8L860.4,317.9L861.0,321.1L861.6,323.6L862.2,325.5L862.8,326.9L863.4,328.0L864.0,328.9L864.6,329.6L865.2,330.1L865.8,330.5L866.4,330.8L867.0,331.0L867.6,331.2L868.2,331.3L868.8,331.4L869.4,331.5L870.0,331.6L870.6,331.6L871.2,331.7L879.4,331.8" fill="none" stroke="#111" stroke-width="2.3" stroke-linejoin="round"/>
<path d="M821.7,386.3L829.5,386.3L830.2,343.2L831.1,353.1L831.7,360.7L832.3,366.6L832.9,371.1L833.5,374.6L834.1,377.3L834.7,379.4L835.3,381.0L835.9,382.2L836.5,383.1L837.1,383.9L837.7,384.4L838.3,384.8L838.9,385.2L839.5,385.4L840.1,385.6L840.7,385.8L841.3,385.9L841.9,386.0L858.8,386.3L859.5,379.0L860.4,380.7L861.0,382.0L861.6,383.0L862.2,383.7L862.8,384.3L863.4,384.8L864.0,385.1L864.6,385.4L865.2,385.6L865.8,385.8L866.4,385.9L867.0,386.0L867.6,386.1L868.2,386.1L868.8,386.2L869.4,386.2L870.0,386.2L870.6,386.2L871.2,386.2L879.4,386.3" fill="none" stroke="#111" stroke-width="2.3" stroke-linejoin="round"/>
<text x="753.50" y="423.70" font-size="18.5" fill="#111" font-weight="bold" stroke="#111" stroke-width="0.5">h</text>
<line x1="790.50" y1="433.00" x2="790.50" y2="568.10" stroke="#111" stroke-width="2.0"/>
<line x1="789.50" y1="568.10" x2="873.30" y2="568.10" stroke="#111" stroke-width="2.0"/>
<line x1="790.50" y1="568.10" x2="790.50" y2="571.80" stroke="#111" stroke-width="2.0"/>
<line x1="833.20" y1="568.10" x2="833.20" y2="571.80" stroke="#111" stroke-width="2.0"/>
<line x1="873.30" y1="568.10" x2="873.30" y2="571.80" stroke="#111" stroke-width="2.0"/>
<line x1="787.00" y1="568.10" x2="790.50" y2="568.10" stroke="#111" stroke-width="1.4"/>
<text x="780.30" y="571.60" font-size="11.3" fill="#111" stroke="#111" stroke-width="0.25" text-anchor="end">0</text>
<line x1="787.00" y1="545.60" x2="790.50" y2="545.60" stroke="#111" stroke-width="1.4"/>
<text x="780.30" y="549.10" font-size="11.3" fill="#111" stroke="#111" stroke-width="0.25" text-anchor="end">1</text>
<line x1="787.00" y1="523.10" x2="790.50" y2="523.10" stroke="#111" stroke-width="1.4"/>
<text x="780.30" y="526.60" font-size="11.3" fill="#111" stroke="#111" stroke-width="0.25" text-anchor="end">2</text>
<line x1="787.00" y1="500.60" x2="790.50" y2="500.60" stroke="#111" stroke-width="1.4"/>
<text x="780.30" y="504.10" font-size="11.3" fill="#111" stroke="#111" stroke-width="0.25" text-anchor="end">3</text>
<line x1="787.00" y1="478.10" x2="790.50" y2="478.10" stroke="#111" stroke-width="1.4"/>
<text x="780.30" y="481.60" font-size="11.3" fill="#111" stroke="#111" stroke-width="0.25" text-anchor="end">4</text>
<line x1="787.00" y1="455.60" x2="790.50" y2="455.60" stroke="#111" stroke-width="1.4"/>
<text x="780.30" y="459.10" font-size="11.3" fill="#111" stroke="#111" stroke-width="0.25" text-anchor="end">5</text>
<line x1="787.00" y1="433.10" x2="790.50" y2="433.10" stroke="#111" stroke-width="1.4"/>
<text x="780.30" y="436.60" font-size="11.3" fill="#111" stroke="#111" stroke-width="0.25" text-anchor="end">6</text>
<rect x="803.20" y="555.73" width="15.60" height="12.38" fill="#7fb2df"/>
<rect x="803.20" y="550.77" width="15.60" height="4.95" fill="#c0665f"/>
<rect x="806.50" y="551.00" width="9.00" height="2.50" fill="#111"/>
<rect x="843.00" y="552.35" width="16.30" height="15.75" fill="#7fb2df"/>
<rect x="843.00" y="474.28" width="16.30" height="78.07" fill="#c0665f"/>
<line x1="851.50" y1="447.90" x2="851.50" y2="501.70" stroke="#111" stroke-width="1.3"/>
<line x1="847.00" y1="447.90" x2="856.00" y2="447.90" stroke="#111" stroke-width="1.3"/>
<line x1="847.00" y1="501.70" x2="856.00" y2="501.70" stroke="#111" stroke-width="1.3"/>
<text x="811.50" y="585.80" font-size="11.3" fill="#111" stroke="#111" stroke-width="0.25" text-anchor="middle">Normal</text>
<text x="855.00" y="585.80" font-size="11.3" fill="#111" stroke="#111" stroke-width="0.25" text-anchor="middle">Cancer</text>
<text x="831.50" y="601.00" font-size="11.3" fill="#111" stroke="#111" stroke-width="0.25" text-anchor="middle">2000639</text>
<text transform="translate(765.8,503.9) rotate(-90)" font-size="11.3" text-anchor="middle" fill="#111" stroke="#111" stroke-width="0.25">ChIP DNA (K4me3/input)</text>
<rect x="867.40" y="427.40" width="6.40" height="6.40" fill="#c0665f"/>
<text x="879.40" y="424.60" font-size="11.3" fill="#111" stroke="#111" stroke-width="0.25">A-allele</text>
<text x="879.40" y="438.80" font-size="11.3" fill="#111" stroke="#111" stroke-width="0.25">(SNP)</text>
<rect x="867.40" y="454.60" width="6.40" height="6.40" fill="#7fb2df"/>
<text x="879.40" y="456.20" font-size="11.3" fill="#111" stroke="#111" stroke-width="0.25">G-allele</text>
<text x="879.40" y="469.30" font-size="11.3" fill="#111" stroke="#111" stroke-width="0.25">(reference)</text>
<text x="0.00" y="634.50" font-size="18.5" fill="#111" font-weight="bold" stroke="#111" stroke-width="0.5">i</text>
<rect x="79.80" y="636.80" width="5.20" height="8.80" fill="#2e3192"/>
<text x="89.90" y="644.92" font-size="11.35" fill="#111" stroke="#111" stroke-width="0.25">SNP tag underrepresentation in cancer</text>
<rect x="79.80" y="651.80" width="5.20" height="8.80" fill="#1a9a4c"/>
<text x="89.90" y="660.02" font-size="11.35" fill="#111" stroke="#111" stroke-width="0.25">SNP tag overrepresentation in cancer</text>
<path d="M90.60,841.1V839.90H92.85V841.1ZM92.80,841.1V839.90H95.05V841.1ZM95.00,841.1V839.90H97.25V841.1ZM97.20,841.1V839.90H99.45V841.1ZM99.40,841.1V839.90H101.65V841.1ZM101.60,841.1V839.90H103.85V841.1ZM103.80,841.1V839.88H106.05V841.1ZM106.00,841.1V839.84H108.25V841.1ZM108.20,841.1V839.81H110.45V841.1ZM110.40,841.1V839.75H112.65V841.1ZM112.60,841.1V839.68H114.85V841.1ZM114.80,841.1V839.61H117.05V841.1ZM117.00,841.1V839.54H119.25V841.1ZM119.20,841.1V839.47H121.45V841.1ZM121.40,841.1V839.40H123.65V841.1ZM123.60,841.1V839.33H125.85V841.1ZM125.80,841.1V839.26H128.05V841.1ZM128.00,841.1V839.19H130.25V841.1ZM130.20,841.1V839.12H132.45V841.1ZM132.40,841.1V838.86H134.65V841.1ZM134.60,841.1V838.50H136.85V841.1ZM136.80,841.1V838.14H139.05V841.1ZM139.00,841.1V837.77H141.25V841.1ZM141.20,841.1V837.11H143.45V841.1ZM143.40,841.1V836.44H145.65V841.1ZM145.60,841.1V835.78H147.85V841.1ZM147.80,841.1V833.35H150.05V841.1ZM150.00,841.1V830.81H152.25V841.1ZM152.20,841.1V828.76H154.45V841.1ZM154.40,841.1V826.29H156.65V841.1ZM156.60,841.1V822.53H158.85V841.1ZM158.80,841.1V818.18H161.05V841.1ZM161.00,841.1V812.13H163.25V841.1Z" fill="#1414e6"/>
<path d="M163.20,841.1V805.75H165.45V841.1ZM165.40,841.1V799.01H167.65V841.1ZM167.60,841.1V789.96H169.85V841.1ZM169.80,841.1V782.70H172.05V841.1ZM172.00,841.1V771.93H174.25V841.1ZM174.20,841.1V765.41H176.45V841.1ZM176.40,841.1V755.75H178.65V841.1ZM178.60,841.1V742.52H180.85V841.1ZM180.80,841.1V735.35H183.05V841.1ZM183.00,841.1V722.66H185.25V841.1ZM185.20,841.1V713.68H187.45V841.1ZM187.40,841.1V706.48H189.65V841.1ZM189.60,841.1V699.19H191.85V841.1ZM191.80,841.1V693.74H194.05V841.1ZM194.00,841.1V695.53H196.25V841.1ZM196.20,841.1V681.44H198.45V841.1ZM198.40,841.1V694.19H200.65V841.1ZM200.60,841.1V695.77H202.85V841.1ZM202.80,841.1V709.30H205.05V841.1ZM205.00,841.1V717.56H207.25V841.1ZM207.20,841.1V726.05H209.45V841.1ZM209.40,841.1V738.23H211.65V841.1ZM211.60,841.1V741.28H213.85V841.1ZM213.80,841.1V751.43H216.05V841.1ZM216.00,841.1V761.49H218.25V841.1ZM218.20,841.1V770.02H220.45V841.1ZM220.40,841.1V776.18H222.65V841.1ZM222.60,841.1V784.06H224.85V841.1ZM224.80,841.1V792.03H227.05V841.1ZM227.00,841.1V798.91H229.25V841.1Z" fill="#8a8a8a"/>
<path d="M229.20,841.1V807.38H231.45V841.1ZM231.40,841.1V812.62H233.65V841.1ZM233.60,841.1V817.62H235.85V841.1ZM235.80,841.1V822.06H238.05V841.1ZM238.00,841.1V826.00H240.25V841.1ZM240.20,841.1V828.20H242.45V841.1ZM242.40,841.1V830.35H244.65V841.1ZM244.60,841.1V832.02H246.85V841.1ZM246.80,841.1V833.69H249.05V841.1ZM249.00,841.1V835.16H251.25V841.1ZM251.20,841.1V836.11H253.45V841.1ZM253.40,841.1V837.06H255.65V841.1ZM255.60,841.1V837.72H257.85V841.1ZM257.80,841.1V838.37H260.05V841.1ZM260.00,841.1V838.89H262.25V841.1ZM262.20,841.1V839.26H264.45V841.1Z" fill="#12b41a"/>
<path d="M264.40,841.1V839.61H266.65V841.1ZM266.60,841.1V839.67H268.85V841.1ZM268.80,841.1V839.73H271.05V841.1ZM271.00,841.1V839.79H273.25V841.1ZM273.20,841.1V839.84H275.45V841.1ZM275.40,841.1V839.90H277.65V841.1ZM277.60,841.1V839.90H279.85V841.1ZM279.80,841.1V839.90H282.05V841.1ZM282.00,841.1V839.90H284.25V841.1ZM284.20,841.1V839.90H286.45V841.1ZM286.40,841.1V839.90H288.65V841.1ZM288.60,841.1V839.90H290.85V841.1ZM290.80,841.1V839.90H293.05V841.1ZM293.00,841.1V839.90H295.25V841.1Z" fill="#222"/>
<line x1="75.30" y1="697.00" x2="75.30" y2="845.30" stroke="#111" stroke-width="1.0"/>
<path d="M75.3,686.9L72.2,697.8L78.4,697.8Z" fill="#111"/>
<line x1="83.80" y1="847.20" x2="312.20" y2="847.20" stroke="#111" stroke-width="1.0"/>
<line x1="83.80" y1="847.20" x2="83.80" y2="852.40" stroke="#111" stroke-width="1.0"/>
<line x1="163.20" y1="847.20" x2="163.20" y2="852.40" stroke="#111" stroke-width="1.0"/>
<line x1="197.90" y1="847.20" x2="197.90" y2="852.40" stroke="#111" stroke-width="1.0"/>
<line x1="230.10" y1="847.20" x2="230.10" y2="852.40" stroke="#111" stroke-width="1.0"/>
<line x1="312.20" y1="847.20" x2="312.20" y2="852.40" stroke="#111" stroke-width="1.0"/>
<text x="84.50" y="867.20" font-size="11.3" fill="#111" stroke="#111" stroke-width="0.25" text-anchor="middle">−1.0</text>
<text x="164.20" y="867.20" font-size="11.3" fill="#111" stroke="#111" stroke-width="0.25" text-anchor="middle">−0.3</text>
<text x="197.90" y="867.20" font-size="11.3" fill="#111" stroke="#111" stroke-width="0.25" text-anchor="middle">0</text>
<text x="230.10" y="867.20" font-size="11.3" fill="#111" stroke="#111" stroke-width="0.25" text-anchor="middle">0.3</text>
<text x="312.80" y="867.20" font-size="11.3" fill="#111" stroke="#111" stroke-width="0.25" text-anchor="middle">1.0</text>
<text x="197.90" y="881.10" font-size="11.3" fill="#111" stroke="#111" stroke-width="0.25" text-anchor="middle">Bias</text>
<text transform="translate(62.4,769.6) rotate(-90)" font-size="11.3" text-anchor="middle" fill="#111" stroke="#111" stroke-width="0.25">Density</text>
<text x="344.20" y="635.50" font-size="18.5" fill="#111" font-weight="bold" stroke="#111" stroke-width="0.5">j</text>
<text x="394.9" y="633.06" font-size="11.35" fill="#111" stroke="#111" stroke-width="0.25">dbSNP sites overlapping with altered promoter and enhancer regions (<tspan font-style="italic">N</tspan>=714 out of total 188,542)</text>
<circle cx="407" cy="650.3" r="2.6" fill="#e0201c"/>
<text x="416.80" y="653.82" font-size="11.35" fill="#111" stroke="#111" stroke-width="0.25">Allele biased and regulomeDB score 1 and 2 sites</text>
<line x1="389.30" y1="633.60" x2="389.30" y2="851.20" stroke="#111" stroke-width="1.2"/>
<text x="380.60" y="637.10" font-size="11.3" fill="#111" stroke="#111" stroke-width="0.25" text-anchor="end">1.0</text>
<text x="380.60" y="680.62" font-size="11.3" fill="#111" stroke="#111" stroke-width="0.25" text-anchor="end">0.8</text>
<text x="380.60" y="724.14" font-size="11.3" fill="#111" stroke="#111" stroke-width="0.25" text-anchor="end">0.6</text>
<text x="380.60" y="767.66" font-size="11.3" fill="#111" stroke="#111" stroke-width="0.25" text-anchor="end">0.4</text>
<text x="380.60" y="789.42" font-size="11.3" fill="#111" stroke="#111" stroke-width="0.25" text-anchor="end">0.3</text>
<text x="380.60" y="811.18" font-size="11.3" fill="#111" stroke="#111" stroke-width="0.25" text-anchor="end">0.2</text>
<line x1="385.70" y1="633.60" x2="389.30" y2="633.60" stroke="#111" stroke-width="1.2"/>
<line x1="385.70" y1="677.12" x2="389.30" y2="677.12" stroke="#111" stroke-width="1.2"/>
<line x1="385.70" y1="720.64" x2="389.30" y2="720.64" stroke="#111" stroke-width="1.2"/>
<line x1="385.70" y1="764.16" x2="389.30" y2="764.16" stroke="#111" stroke-width="1.2"/>
<line x1="385.70" y1="807.68" x2="389.30" y2="807.68" stroke="#111" stroke-width="1.2"/>
<line x1="385.70" y1="851.20" x2="389.30" y2="851.20" stroke="#111" stroke-width="1.2"/>
<text transform="translate(355.3,736.5) rotate(-90)" font-size="11.3" text-anchor="middle" fill="#111" stroke="#111" stroke-width="0.25">Allele bias</text>
<rect x="407.50" y="860.00" width="32.50" height="6.60" fill="#a9a9a9"/>
<rect x="442.00" y="860.00" width="31.50" height="6.60" fill="#a9a9a9"/>
<rect x="475.70" y="860.00" width="25.30" height="6.60" fill="#a9a9a9"/>
<rect x="503.00" y="860.00" width="25.40" height="6.60" fill="#a9a9a9"/>
<rect x="529.80" y="860.00" width="23.40" height="6.60" fill="#a9a9a9"/>
<rect x="554.50" y="860.00" width="22.00" height="6.60" fill="#a9a9a9"/>
<rect x="578.00" y="860.00" width="20.50" height="6.60" fill="#a9a9a9"/>
<rect x="600.00" y="860.00" width="19.20" height="6.60" fill="#a9a9a9"/>
<rect x="621.40" y="860.00" width="18.50" height="6.60" fill="#a9a9a9"/>
<rect x="641.50" y="860.00" width="17.50" height="6.60" fill="#a9a9a9"/>
<rect x="660.70" y="860.00" width="14.90" height="6.60" fill="#a9a9a9"/>
<rect x="677.80" y="860.00" width="17.00" height="6.60" fill="#a9a9a9"/>
<rect x="696.60" y="860.00" width="13.40" height="6.60" fill="#a9a9a9"/>
<rect x="711.60" y="860.00" width="14.80" height="6.60" fill="#a9a9a9"/>
<rect x="727.90" y="860.00" width="10.90" height="6.60" fill="#a9a9a9"/>
<rect x="740.70" y="860.00" width="10.50" height="6.60" fill="#a9a9a9"/>
<rect x="752.60" y="860.00" width="9.60" height="6.60" fill="#a9a9a9"/>
<rect x="763.60" y="860.00" width="8.20" height="6.60" fill="#a9a9a9"/>
<rect x="773.00" y="860.00" width="7.00" height="6.60" fill="#a9a9a9"/>
<rect x="780.00" y="860.00" width="8.30" height="6.60" fill="#a9a9a9"/>
<rect x="788.30" y="860.00" width="7.70" height="6.60" fill="#a9a9a9"/>
<rect x="796.00" y="860.00" width="8.80" height="6.60" fill="#a9a9a9"/>
<rect x="806.00" y="860.00" width="19.40" height="6.60" fill="#a9a9a9"/>
<text x="423.75" y="865.66" font-size="7.6" fill="#333" stroke="#333" stroke-width="0.25" text-anchor="middle">1</text>
<text x="457.75" y="865.66" font-size="7.6" fill="#333" stroke="#333" stroke-width="0.25" text-anchor="middle">2</text>
<text x="488.35" y="865.66" font-size="7.6" fill="#333" stroke="#333" stroke-width="0.25" text-anchor="middle">3</text>
<text x="515.70" y="865.66" font-size="7.6" fill="#333" stroke="#333" stroke-width="0.25" text-anchor="middle">4</text>
<text x="541.50" y="865.66" font-size="7.6" fill="#333" stroke="#333" stroke-width="0.25" text-anchor="middle">5</text>
<text x="565.50" y="865.66" font-size="7.6" fill="#333" stroke="#333" stroke-width="0.25" text-anchor="middle">6</text>
<text x="588.25" y="865.66" font-size="7.6" fill="#333" stroke="#333" stroke-width="0.25" text-anchor="middle">7</text>
<text x="609.60" y="865.66" font-size="7.6" fill="#333" stroke="#333" stroke-width="0.25" text-anchor="middle">8</text>
<text x="630.65" y="865.66" font-size="7.6" fill="#333" stroke="#333" stroke-width="0.25" text-anchor="middle">9</text>
<text x="650.25" y="865.66" font-size="7.6" fill="#333" stroke="#333" stroke-width="0.25" text-anchor="middle">10</text>
<text x="668.15" y="865.66" font-size="7.6" fill="#333" stroke="#333" stroke-width="0.25" text-anchor="middle">11</text>
<text x="686.30" y="865.66" font-size="7.6" fill="#333" stroke="#333" stroke-width="0.25" text-anchor="middle">12</text>
<text x="703.30" y="865.66" font-size="7.6" fill="#333" stroke="#333" stroke-width="0.25" text-anchor="middle">13</text>
<text x="719.00" y="865.66" font-size="7.6" fill="#333" stroke="#333" stroke-width="0.25" text-anchor="middle">14</text>
<text x="733.35" y="865.66" font-size="7.6" fill="#333" stroke="#333" stroke-width="0.25" text-anchor="middle">15</text>
<text x="745.95" y="865.66" font-size="7.6" fill="#333" stroke="#333" stroke-width="0.25" text-anchor="middle">16</text>
<text x="757.40" y="865.66" font-size="7.6" fill="#333" stroke="#333" stroke-width="0.25" text-anchor="middle">17</text>
<text x="767.70" y="865.66" font-size="7.6" fill="#333" stroke="#333" stroke-width="0.25" text-anchor="middle">18</text>
<text x="776.50" y="865.66" font-size="7.6" fill="#333" stroke="#333" stroke-width="0.25" text-anchor="middle">19</text>
<text x="784.15" y="865.66" font-size="7.6" fill="#333" stroke="#333" stroke-width="0.25" text-anchor="middle">20</text>
<text x="792.15" y="865.66" font-size="7.6" fill="#333" stroke="#333" stroke-width="0.25" text-anchor="middle">21</text>
<text x="800.40" y="865.66" font-size="7.6" fill="#333" stroke="#333" stroke-width="0.25" text-anchor="middle">22</text>
<text x="815.70" y="865.66" font-size="7.6" fill="#333" stroke="#333" stroke-width="0.25" text-anchor="middle">X</text>
<text x="623.00" y="880.70" font-size="11.3" fill="#111" stroke="#111" stroke-width="0.25" text-anchor="middle">Chromosome</text>
<path d="M420.6,783.5h0.01M413.4,767.8h0.01M428.6,845.4h0.01M414.5,756.3h0.01M436.6,794.2h0.01M414.1,776.2h0.01M417.0,761.9h0.01M416.3,773.5h0.01M417.1,810.0h0.01M429.7,780.0h0.01M416.8,725.3h0.01M415.3,758.4h0.01M415.6,796.5h0.01M410.6,788.5h0.01M410.9,828.9h0.01M410.8,824.4h0.01M410.8,811.9h0.01M410.6,828.9h0.01M411.0,799.4h0.01M413.6,833.0h0.01M414.2,813.6h0.01M414.0,802.3h0.01M414.3,803.5h0.01M414.1,833.6h0.01M414.1,800.5h0.01M414.0,827.2h0.01M418.0,787.1h0.01M417.9,834.8h0.01M418.0,819.2h0.01M418.3,814.4h0.01M418.2,806.6h0.01M417.9,788.6h0.01M470.8,827.6h0.01M453.4,816.6h0.01M460.0,777.9h0.01M454.7,833.9h0.01M451.3,758.4h0.01M445.7,814.3h0.01M451.6,834.1h0.01M456.3,845.6h0.01M468.4,793.0h0.01M446.2,730.2h0.01M449.8,763.8h0.01M444.0,842.6h0.01M446.6,846.8h0.01M463.9,813.0h0.01M454.9,804.5h0.01M449.8,798.2h0.01M453.3,802.5h0.01M452.3,810.8h0.01M457.7,810.7h0.01M499.0,804.1h0.01M499.5,796.4h0.01M487.2,800.4h0.01M481.7,833.4h0.01M499.9,829.3h0.01M483.2,757.3h0.01M489.2,821.6h0.01M500.1,842.0h0.01M482.8,817.6h0.01M477.4,836.3h0.01M484.3,809.3h0.01M497.7,839.7h0.01M499.8,732.3h0.01M491.2,742.4h0.01M499.2,836.6h0.01M488.1,814.2h0.01M488.0,758.4h0.01M483.2,820.3h0.01M493.7,799.1h0.01M498.3,839.2h0.01M481.2,831.2h0.01M481.0,791.3h0.01M485.5,817.5h0.01M485.3,788.6h0.01M486.5,803.4h0.01M486.6,822.3h0.01M519.5,831.4h0.01M506.0,846.8h0.01M520.1,838.3h0.01M522.2,820.8h0.01M521.8,770.1h0.01M526.7,779.7h0.01M508.1,747.2h0.01M520.3,761.0h0.01M518.3,820.7h0.01M521.9,844.1h0.01M509.5,830.4h0.01M506.9,797.9h0.01M522.3,791.4h0.01M522.4,815.3h0.01M507.5,801.5h0.01M522.3,801.2h0.01M519.0,832.5h0.01M507.3,806.7h0.01M518.8,789.0h0.01M521.3,810.7h0.01M508.2,789.3h0.01M508.2,845.1h0.01M519.3,760.1h0.01M522.1,817.5h0.01M508.1,773.8h0.01M519.8,794.4h0.01M519.5,805.6h0.01M533.4,837.9h0.01M536.4,819.5h0.01M536.3,825.5h0.01M534.5,827.8h0.01M544.9,811.2h0.01M536.0,763.4h0.01M542.5,815.0h0.01M542.4,793.8h0.01M534.1,833.1h0.01M544.5,829.8h0.01M540.0,815.1h0.01M549.8,842.1h0.01M561.8,838.6h0.01M564.0,825.9h0.01M564.1,792.7h0.01M566.7,811.2h0.01M567.6,778.8h0.01M561.6,809.9h0.01M559.1,787.9h0.01M564.3,819.0h0.01M566.0,824.1h0.01M563.9,830.7h0.01M568.3,819.5h0.01M565.9,786.8h0.01M567.3,818.8h0.01M565.9,846.5h0.01M556.6,837.0h0.01M556.9,831.6h0.01M557.3,823.7h0.01M557.3,807.5h0.01M556.9,835.2h0.01M557.1,815.9h0.01M566.2,803.1h0.01M566.1,789.6h0.01M566.1,803.6h0.01M565.7,822.8h0.01M566.0,819.4h0.01M566.5,798.7h0.01M565.6,819.5h0.01M566.2,801.6h0.01M595.4,838.6h0.01M579.5,791.0h0.01M593.6,815.3h0.01M583.4,809.7h0.01M593.4,799.8h0.01M580.2,840.1h0.01M595.6,827.1h0.01M580.4,842.8h0.01M588.7,807.0h0.01M580.6,802.4h0.01M596.7,845.8h0.01M589.6,796.5h0.01M583.3,801.0h0.01M583.6,840.5h0.01M583.6,809.2h0.01M583.7,793.0h0.01M586.1,793.9h0.01M585.9,790.2h0.01M586.5,792.4h0.01M591.7,828.6h0.01M592.0,811.9h0.01M591.1,786.0h0.01M591.8,788.4h0.01M591.8,810.9h0.01M602.1,777.1h0.01M611.2,779.1h0.01M609.1,832.7h0.01M607.3,820.2h0.01M612.7,796.4h0.01M607.0,804.8h0.01M604.3,821.8h0.01M612.2,764.3h0.01M604.6,729.0h0.01M617.8,812.0h0.01M604.1,839.6h0.01M605.9,769.7h0.01M607.7,832.6h0.01M625.8,818.2h0.01M637.1,837.4h0.01M626.6,760.7h0.01M637.1,843.0h0.01M627.0,762.3h0.01M629.0,846.3h0.01M636.1,819.4h0.01M636.6,843.5h0.01M628.3,834.7h0.01M636.9,764.3h0.01M628.6,813.0h0.01M625.8,836.8h0.01M625.9,785.2h0.01M625.8,808.8h0.01M626.3,841.3h0.01M626.0,794.9h0.01M649.8,800.7h0.01M647.9,842.7h0.01M643.3,812.8h0.01M642.6,789.7h0.01M649.0,800.2h0.01M646.9,845.6h0.01M656.0,765.8h0.01M649.4,816.1h0.01M649.3,833.8h0.01M655.6,808.3h0.01M655.8,843.3h0.01M648.4,846.0h0.01M649.5,828.7h0.01M649.4,805.4h0.01M649.4,789.1h0.01M649.6,769.3h0.01M656.2,827.9h0.01M673.6,795.9h0.01M672.8,777.8h0.01M668.8,795.8h0.01M670.5,827.4h0.01M673.4,785.8h0.01M674.3,844.2h0.01M670.5,844.3h0.01M673.7,829.5h0.01M673.1,789.6h0.01M674.2,801.5h0.01M673.9,830.2h0.01M673.0,816.1h0.01M674.2,755.9h0.01M673.1,782.1h0.01M674.2,768.5h0.01M669.1,758.3h0.01M662.5,809.1h0.01M661.5,830.6h0.01M662.0,802.4h0.01M662.4,817.4h0.01M662.3,826.7h0.01M661.6,822.6h0.01M662.5,818.5h0.01M661.7,806.2h0.01M661.9,806.5h0.01M661.7,830.8h0.01M665.8,803.2h0.01M665.8,836.1h0.01M666.3,833.6h0.01M666.3,835.3h0.01M666.4,786.0h0.01M665.9,836.9h0.01M665.7,827.6h0.01M683.3,845.6h0.01M685.7,761.9h0.01M680.7,808.9h0.01M692.0,759.9h0.01M689.6,784.0h0.01M683.3,843.3h0.01M685.5,802.0h0.01M688.3,758.8h0.01M692.8,792.9h0.01M683.4,758.7h0.01M685.2,818.4h0.01M685.6,795.1h0.01M682.1,839.4h0.01M702.8,801.2h0.01M707.5,838.6h0.01M700.5,795.4h0.01M698.9,802.5h0.01M702.5,788.4h0.01M702.5,819.1h0.01M702.5,811.1h0.01M703.0,829.4h0.01M702.2,829.8h0.01M703.1,756.0h0.01M702.1,803.5h0.01M703.1,815.5h0.01M700.5,839.3h0.01M699.6,788.3h0.01M699.6,808.3h0.01M699.8,785.4h0.01M700.2,834.5h0.01M700.3,812.0h0.01M699.8,823.3h0.01M718.1,818.2h0.01M717.8,798.6h0.01M719.2,829.6h0.01M721.4,830.9h0.01M714.4,846.0h0.01M718.7,798.6h0.01M714.3,789.1h0.01M720.8,806.6h0.01M718.4,781.4h0.01M735.6,809.4h0.01M736.1,831.9h0.01M732.1,779.2h0.01M735.0,817.6h0.01M736.1,814.3h0.01M737.6,768.0h0.01M735.4,818.5h0.01M730.3,822.0h0.01M730.9,791.6h0.01M731.1,820.2h0.01M731.0,803.2h0.01M730.9,823.6h0.01M730.9,804.8h0.01M731.2,841.7h0.01M734.1,839.1h0.01M733.7,831.1h0.01M733.9,784.1h0.01M734.3,824.6h0.01M746.7,769.5h0.01M748.5,818.5h0.01M743.9,804.8h0.01M744.3,808.3h0.01M746.5,774.0h0.01M743.7,830.7h0.01M743.7,823.4h0.01M744.8,771.9h0.01M743.8,745.6h0.01M747.2,767.7h0.01M747.0,785.7h0.01M757.0,816.3h0.01M759.6,789.9h0.01M759.0,828.7h0.01M757.8,826.5h0.01M760.4,780.3h0.01M757.0,786.5h0.01M755.8,742.2h0.01M770.4,788.3h0.01M768.8,801.4h0.01M769.1,744.3h0.01M766.4,797.1h0.01M769.6,828.4h0.01M766.2,786.2h0.01M769.1,778.7h0.01M777.4,799.7h0.01M775.4,823.7h0.01M775.0,835.2h0.01M774.7,805.6h0.01M774.9,832.6h0.01M777.9,836.6h0.01M775.3,827.8h0.01M775.1,804.0h0.01M775.2,834.9h0.01M774.7,821.1h0.01M775.1,787.1h0.01M775.4,786.5h0.01M777.4,794.6h0.01M777.2,834.3h0.01M777.6,834.0h0.01M777.3,795.2h0.01M777.4,800.5h0.01M777.2,801.9h0.01M781.8,796.5h0.01M782.3,807.3h0.01M781.6,811.6h0.01M781.9,785.9h0.01M792.0,829.5h0.01M792.5,808.4h0.01M791.8,757.3h0.01M791.9,796.8h0.01M794.2,820.1h0.01M791.8,763.3h0.01M792.0,821.2h0.01M798.9,809.3h0.01M803.5,839.9h0.01M800.1,775.2h0.01M801.7,826.0h0.01M799.5,840.4h0.01M797.2,777.1h0.01M821.0,772.7h0.01M807.7,823.7h0.01M810.6,819.7h0.01M808.2,829.6h0.01M816.5,757.5h0.01M818.4,833.3h0.01M818.4,757.1h0.01M820.9,779.7h0.01M824.2,771.0h0.01M811.1,837.3h0.01M810.1,783.6h0.01M819.4,793.3h0.01M808.1,797.7h0.01M811.3,768.5h0.01M810.9,777.4h0.01M810.5,835.7h0.01M819.6,819.3h0.01" fill="none" stroke="#c2c2c2" stroke-width="2.0" stroke-linecap="round"/>
<path d="M424.9,771.0h0.01M415.1,774.5h0.01M413.1,795.1h0.01M424.6,771.6h0.01M416.5,744.6h0.01M411.0,841.6h0.01M431.7,800.3h0.01M427.0,841.0h0.01M414.8,796.7h0.01M415.0,823.9h0.01M420.3,769.6h0.01M414.3,822.6h0.01M416.5,804.9h0.01M430.2,823.5h0.01M435.4,791.5h0.01M421.9,792.8h0.01M416.4,764.4h0.01M428.5,816.3h0.01M437.0,795.0h0.01M416.0,762.5h0.01M420.5,783.6h0.01M413.9,768.0h0.01M438.8,773.8h0.01M420.4,803.3h0.01M416.0,771.4h0.01M415.4,798.3h0.01M408.6,830.1h0.01M414.3,811.0h0.01M413.8,795.8h0.01M415.5,817.3h0.01M410.5,803.9h0.01M410.7,786.1h0.01M410.6,798.8h0.01M410.6,810.5h0.01M410.2,812.4h0.01M410.6,785.6h0.01M409.9,794.9h0.01M410.0,784.3h0.01M414.0,832.7h0.01M414.4,808.2h0.01M414.2,786.8h0.01M414.0,809.8h0.01M413.9,826.6h0.01M413.3,799.1h0.01M414.3,839.3h0.01M417.9,790.8h0.01M418.1,797.6h0.01M418.0,816.3h0.01M418.0,820.8h0.01M417.7,800.5h0.01M418.3,789.8h0.01M417.5,802.2h0.01M418.1,838.0h0.01M448.5,765.5h0.01M460.1,839.9h0.01M450.1,788.5h0.01M454.7,774.4h0.01M452.7,845.1h0.01M450.6,783.8h0.01M451.1,790.2h0.01M459.9,783.6h0.01M454.9,827.3h0.01M459.8,734.0h0.01M465.2,841.0h0.01M450.2,732.0h0.01M459.4,835.6h0.01M459.9,810.2h0.01M460.1,821.1h0.01M455.1,776.8h0.01M455.6,788.0h0.01M460.1,813.8h0.01M454.6,810.7h0.01M453.8,796.0h0.01M446.1,802.6h0.01M453.1,837.2h0.01M455.0,756.0h0.01M477.3,830.9h0.01M498.9,795.8h0.01M482.0,816.4h0.01M499.7,797.4h0.01M499.4,757.7h0.01M493.5,843.4h0.01M496.7,844.9h0.01M496.3,794.4h0.01M498.7,836.7h0.01M499.8,817.5h0.01M494.7,826.8h0.01M498.7,841.9h0.01M482.4,802.4h0.01M499.3,819.8h0.01M480.6,834.6h0.01M481.0,797.3h0.01M480.9,839.9h0.01M481.0,798.2h0.01M480.6,827.0h0.01M481.5,822.7h0.01M480.9,804.6h0.01M481.2,795.6h0.01M480.5,793.3h0.01M480.7,800.9h0.01M480.6,814.3h0.01M480.8,814.9h0.01M485.8,784.9h0.01M486.5,801.1h0.01M485.7,821.4h0.01M486.3,787.6h0.01M485.9,786.0h0.01M485.9,837.7h0.01M485.9,839.3h0.01M486.2,827.7h0.01M486.4,791.4h0.01M486.0,820.3h0.01M519.3,843.2h0.01M520.5,831.7h0.01M519.8,806.7h0.01M519.2,840.2h0.01M521.7,842.5h0.01M508.6,805.8h0.01M520.4,767.0h0.01M542.9,776.5h0.01M548.8,764.0h0.01M548.1,842.7h0.01M534.9,757.6h0.01M535.5,775.9h0.01M537.2,814.3h0.01M542.2,789.8h0.01M539.6,833.1h0.01M534.2,763.2h0.01M536.5,824.6h0.01M535.5,818.1h0.01M537.3,835.1h0.01M534.4,817.9h0.01M537.6,808.8h0.01M537.1,794.7h0.01M533.6,776.2h0.01M538.9,774.6h0.01M538.2,809.3h0.01M533.5,822.4h0.01M562.0,793.0h0.01M564.4,809.9h0.01M569.6,816.5h0.01M564.5,788.9h0.01M565.9,768.2h0.01M566.9,835.0h0.01M561.9,835.1h0.01M560.5,811.4h0.01M567.1,831.0h0.01M561.0,809.9h0.01M564.1,810.7h0.01M565.7,825.8h0.01M570.8,826.2h0.01M567.4,759.3h0.01M567.4,783.3h0.01M557.0,836.3h0.01M557.0,831.6h0.01M556.9,808.0h0.01M557.3,792.0h0.01M557.0,788.6h0.01M557.3,789.7h0.01M557.3,824.3h0.01M556.5,838.5h0.01M566.0,783.8h0.01M566.2,832.2h0.01M565.9,827.5h0.01M566.3,783.9h0.01M565.9,808.0h0.01M566.1,822.0h0.01M595.4,781.2h0.01M596.5,834.8h0.01M588.3,812.8h0.01M589.4,782.6h0.01M586.8,814.9h0.01M579.8,844.8h0.01M593.6,832.0h0.01M593.0,781.8h0.01M595.0,832.2h0.01M579.4,759.3h0.01M589.2,783.8h0.01M593.4,821.5h0.01M596.3,800.7h0.01M580.1,815.3h0.01M595.4,806.6h0.01M583.6,823.0h0.01M583.7,824.3h0.01M583.3,792.4h0.01M583.2,814.2h0.01M582.9,816.8h0.01M583.5,787.1h0.01M583.2,795.6h0.01M583.5,827.0h0.01M583.0,827.2h0.01M583.2,824.9h0.01M586.0,841.9h0.01M585.6,792.3h0.01M586.2,836.0h0.01M586.0,802.1h0.01M586.2,797.5h0.01M586.2,799.8h0.01M586.0,816.0h0.01M585.8,813.0h0.01M586.3,839.9h0.01M585.8,817.8h0.01M586.2,814.3h0.01M592.1,794.1h0.01M592.0,793.1h0.01M592.1,806.0h0.01M591.7,822.0h0.01M591.5,798.0h0.01M592.3,798.8h0.01M591.7,812.2h0.01M592.5,799.6h0.01M591.7,790.2h0.01M612.1,820.1h0.01M601.8,795.4h0.01M609.4,780.6h0.01M604.5,831.4h0.01M602.3,759.4h0.01M606.7,843.1h0.01M602.3,797.1h0.01M609.5,815.1h0.01M608.5,779.8h0.01M610.8,815.7h0.01M607.0,784.8h0.01M602.9,823.3h0.01M629.9,809.1h0.01M631.8,777.7h0.01M637.1,814.3h0.01M637.0,769.1h0.01M623.2,800.4h0.01M636.3,821.4h0.01M626.4,795.7h0.01M638.6,821.4h0.01M636.3,800.7h0.01M636.6,809.8h0.01M627.3,734.5h0.01M637.5,840.5h0.01M635.8,804.2h0.01M625.9,787.7h0.01M625.4,830.5h0.01M626.5,789.8h0.01M626.2,804.1h0.01M626.1,836.9h0.01M626.1,808.5h0.01M625.7,818.8h0.01M625.8,806.6h0.01M626.2,815.5h0.01M645.2,793.9h0.01M652.9,820.0h0.01M656.2,817.2h0.01M649.8,792.9h0.01M652.6,789.6h0.01M653.9,800.1h0.01M661.9,802.6h0.01M674.2,797.9h0.01M670.2,808.4h0.01M669.5,779.1h0.01M662.2,830.5h0.01M662.1,817.6h0.01M661.9,820.3h0.01M661.9,810.4h0.01M665.8,828.6h0.01M665.7,803.3h0.01M666.1,784.0h0.01M666.2,784.4h0.01M666.4,828.4h0.01M665.8,832.4h0.01M666.2,834.5h0.01M682.7,788.3h0.01M691.2,826.7h0.01M686.0,812.6h0.01M685.2,803.2h0.01M685.4,794.4h0.01M685.5,772.2h0.01M684.4,832.9h0.01M692.7,801.3h0.01M693.1,808.6h0.01M702.3,798.4h0.01M703.2,822.8h0.01M702.6,823.0h0.01M703.3,821.9h0.01M702.4,812.7h0.01M703.7,767.4h0.01M699.8,796.2h0.01M699.6,811.9h0.01M700.0,822.3h0.01M700.0,832.1h0.01M699.6,830.0h0.01M700.1,826.9h0.01M700.0,819.7h0.01M718.6,809.0h0.01M718.4,803.9h0.01M713.7,833.3h0.01M714.5,833.4h0.01M719.8,831.6h0.01M714.8,781.7h0.01M714.2,805.4h0.01M720.7,767.3h0.01M724.0,814.7h0.01M714.1,788.1h0.01M729.4,768.1h0.01M733.7,795.1h0.01M735.1,824.6h0.01M735.2,776.2h0.01M729.4,797.6h0.01M734.8,787.9h0.01M737.1,787.3h0.01M731.0,826.3h0.01M731.1,829.5h0.01M730.6,814.0h0.01M730.9,800.0h0.01M730.9,836.4h0.01M731.0,827.4h0.01M730.8,821.4h0.01M734.2,839.2h0.01M734.1,839.4h0.01M734.3,821.8h0.01M734.2,830.1h0.01M734.1,793.4h0.01M733.8,831.5h0.01M733.8,808.4h0.01M734.1,801.5h0.01M733.6,814.9h0.01M734.5,786.9h0.01M746.7,845.7h0.01M744.1,773.9h0.01M743.0,766.5h0.01M755.4,791.6h0.01M756.8,833.1h0.01M754.5,807.7h0.01M757.8,801.2h0.01M759.3,792.3h0.01M767.1,788.2h0.01M766.9,778.5h0.01M768.7,827.0h0.01M767.1,796.2h0.01M774.5,846.7h0.01M774.3,780.1h0.01M776.2,779.3h0.01M775.0,807.8h0.01M774.7,797.6h0.01M775.4,829.3h0.01M775.2,830.8h0.01M775.4,806.5h0.01M775.2,825.9h0.01M775.3,818.4h0.01M774.5,799.2h0.01M777.4,793.5h0.01M777.7,803.0h0.01M777.7,827.3h0.01M778.0,785.9h0.01M778.2,794.8h0.01M777.3,805.7h0.01M777.4,833.5h0.01M777.1,816.0h0.01M786.8,804.5h0.01M787.2,791.9h0.01M781.8,839.9h0.01M781.1,808.2h0.01M782.1,824.7h0.01M784.9,839.8h0.01M785.7,789.2h0.01M791.8,824.4h0.01M792.3,769.4h0.01M792.6,780.1h0.01M802.6,757.4h0.01M802.0,837.6h0.01M803.4,803.6h0.01M802.5,785.7h0.01M803.5,807.6h0.01M817.6,845.8h0.01M807.6,841.7h0.01M818.4,846.1h0.01M810.6,809.9h0.01M813.1,733.8h0.01M818.3,815.1h0.01M812.9,771.8h0.01M812.3,809.3h0.01M817.9,778.8h0.01" fill="none" stroke="#858585" stroke-width="2.0" stroke-linecap="round"/>
<path d="M613.9,655.4h0.01M627,705h0.01M633,672h0.01" fill="none" stroke="#bbb" stroke-width="1.5" stroke-linecap="round"/>
<line x1="385.00" y1="785.70" x2="828.00" y2="785.70" stroke="#4a7fc1" stroke-width="1.3"/>
<text x="411.60" y="762.80" font-size="11.3" fill="#111" stroke="#111" stroke-width="0.25">ID2</text>
<line x1="422.60" y1="767.00" x2="440.00" y2="783.50" stroke="#111" stroke-width="1.6"/>
<text x="457.00" y="716.00" font-size="11.3" fill="#111" stroke="#111" stroke-width="0.25">CAPN10</text>
<line x1="478.00" y1="723.50" x2="474.80" y2="760.00" stroke="#111" stroke-width="1.6"/>
<text x="490.50" y="746.50" font-size="11.3" fill="#111" stroke="#111" stroke-width="0.25">SORBS2</text>
<line x1="513.90" y1="755.40" x2="525.70" y2="775.80" stroke="#111" stroke-width="1.6"/>
<text x="519.60" y="728.70" font-size="11.3" fill="#111" stroke="#111" stroke-width="0.25">AK024998</text>
<line x1="565.00" y1="734.50" x2="565.00" y2="777.40" stroke="#111" stroke-width="1.6"/>
<text x="549.00" y="707.80" font-size="11.3" fill="#111" stroke="#111" stroke-width="0.25">ZDHHC14</text>
<line x1="575.20" y1="716.00" x2="575.20" y2="760.00" stroke="#111" stroke-width="1.6"/>
<text x="578.50" y="740.80" font-size="11.3" fill="#111" stroke="#111" stroke-width="0.25">CFTR</text>
<line x1="593.00" y1="749.00" x2="593.00" y2="772.50" stroke="#111" stroke-width="1.6"/>
<text x="546.30" y="808.40" font-size="11.3" fill="#111" stroke="#111" stroke-width="0.25">CLDN4</text>
<line x1="567.00" y1="795.80" x2="586.70" y2="772.50" stroke="#111" stroke-width="1.6"/>
<line x1="567.00" y1="795.80" x2="584.80" y2="783.50" stroke="#111" stroke-width="1.6"/>
<text x="612.40" y="729.20" font-size="11.3" fill="#111" stroke="#111" stroke-width="0.25">MIR31HG,</text>
<text x="626.00" y="743.50" font-size="11.3" fill="#111" stroke="#111" stroke-width="0.25">MTAP</text>
<line x1="635.20" y1="749.00" x2="623.40" y2="760.00" stroke="#111" stroke-width="1.6"/>
<line x1="637.00" y1="751.00" x2="624.70" y2="772.00" stroke="#111" stroke-width="1.6"/>
<text x="602.70" y="803.50" font-size="11.3" fill="#111" stroke="#111" stroke-width="0.25">FER1L6</text>
<line x1="617.00" y1="779.30" x2="622.50" y2="793.00" stroke="#111" stroke-width="1.6"/>
<text x="649.00" y="717.70" font-size="11.3" fill="#111" stroke="#111" stroke-width="0.25">KCNE3</text>
<line x1="667.90" y1="723.00" x2="667.90" y2="751.00" stroke="#111" stroke-width="1.6"/>
<text x="694.80" y="743.50" font-size="11.3" fill="#111" stroke="#111" stroke-width="0.25">RPUSD2,</text>
<text x="700.30" y="756.70" font-size="11.3" fill="#111" stroke="#111" stroke-width="0.25">CASC5</text>
<line x1="719.60" y1="763.70" x2="729.20" y2="775.80" stroke="#111" stroke-width="1.6"/>
<text x="721.80" y="710.50" font-size="11.3" fill="#111" stroke="#111" stroke-width="0.25">SERPINB5</text>
<line x1="752.60" y1="716.10" x2="766.00" y2="724.20" stroke="#111" stroke-width="1.6"/>
<path d="M768.6,725.7L763.2,725.3L765.7,721.2Z" fill="#111"/>
<text x="745.00" y="762.80" font-size="11.3" fill="#111" stroke="#111" stroke-width="0.25">KLK1</text>
<line x1="761.60" y1="767.50" x2="775.50" y2="775.00" stroke="#111" stroke-width="1.6"/>
<path d="M778,776.4L772.5,776.5L774.6,772.2Z" fill="#111"/>
<text x="784.70" y="741.60" font-size="11.3" fill="#111" stroke="#111" stroke-width="0.25">AK307192</text>
<line x1="808.40" y1="749.00" x2="793.80" y2="761.50" stroke="#111" stroke-width="1.6"/>
<circle cx="441.5" cy="784.5" r="1.6" fill="#e0201c"/>
<circle cx="474" cy="764.8" r="1.6" fill="#e0201c"/>
<circle cx="527.6" cy="778.8" r="1.6" fill="#e0201c"/>
<circle cx="565" cy="781.5" r="1.6" fill="#e0201c"/>
<circle cx="575.2" cy="764.8" r="1.6" fill="#e0201c"/>
<circle cx="593.5" cy="776.9" r="1.6" fill="#e0201c"/>
<circle cx="586.7" cy="771.4" r="1.6" fill="#e0201c"/>
<circle cx="586.7" cy="780.7" r="1.6" fill="#e0201c"/>
<circle cx="622.5" cy="762.8" r="1.6" fill="#e0201c"/>
<circle cx="622.5" cy="776.6" r="1.6" fill="#e0201c"/>
<circle cx="616.5" cy="776.6" r="1.6" fill="#e0201c"/>
<circle cx="667.9" cy="754.9" r="1.6" fill="#e0201c"/>
<circle cx="731.1" cy="778" r="1.6" fill="#e0201c"/>
<circle cx="771" cy="725.7" r="1.6" fill="#e0201c"/>
<circle cx="780" cy="776.9" r="1.6" fill="#e0201c"/>
<circle cx="788.6" cy="765.6" r="1.6" fill="#e0201c"/>
<text x="0.00" y="918.50" font-size="18.5" fill="#111" font-weight="bold" stroke="#111" stroke-width="0.5">k</text>
<rect x="283.50" y="942.20" width="41.00" height="151.80" fill="#f9e5d5"/>
<line x1="187.40" y1="933.50" x2="304.70" y2="933.50" stroke="#333" stroke-width="1.2"/>
<line x1="187.40" y1="928.00" x2="187.40" y2="939.00" stroke="#333" stroke-width="1.2"/>
<line x1="304.70" y1="928.00" x2="304.70" y2="939.00" stroke="#333" stroke-width="1.2"/>
<text x="308.00" y="937.00" font-size="11.3" fill="#111" stroke="#111" stroke-width="0.25">2 kb</text>
<text x="82.80" y="951.90" font-size="11.3" fill="#111" stroke="#111" stroke-width="0.25">chr19:</text>
<line x1="124.70" y1="945.50" x2="124.70" y2="952.20" stroke="#111" stroke-width="1.2"/>
<text x="131.00" y="951.90" font-size="11.3" fill="#111" stroke="#111" stroke-width="0.25">51327000</text>
<line x1="242.80" y1="943.50" x2="242.80" y2="953.00" stroke="#111" stroke-width="1.0"/>
<text x="245.00" y="951.90" font-size="11.3" fill="#111" stroke="#111" stroke-width="0.25">51325000</text>
<line x1="359.50" y1="943.50" x2="359.50" y2="953.00" stroke="#111" stroke-width="1.0"/>
<text x="363.70" y="951.90" font-size="11.3" fill="#111" stroke="#111" stroke-width="0.25">51323000</text>
<rect x="294.20" y="961.30" width="42.00" height="7.30" fill="#b0352e"/>
<rect x="343.50" y="961.30" width="7.80" height="7.30" fill="#b0352e"/>
<rect x="381.70" y="961.30" width="12.60" height="7.30" fill="#b0352e"/>
<path d="M336.2,966L339.9,974.7L343.5,966M351.3,966L366.4,974.7L381.7,966" fill="none" stroke="#222" stroke-width="1.0"/>
<text x="25.60" y="972.50" font-size="11.3" fill="#8e3530" stroke="#8e3530" stroke-width="0.25">RNAseq</text>
<text x="400.00" y="974.10" font-size="11.3" fill="#111" stroke="#111" stroke-width="0.25">Tag count</text>
<text x="86.00" y="989.10" font-size="11.3" fill="#111" stroke="#111" stroke-width="0.25" text-anchor="end">2000721N</text>
<text x="86.00" y="1013.70" font-size="11.3" fill="#111" stroke="#111" stroke-width="0.25" text-anchor="end">2000721C</text>
<path d="M283.00,1016.80L283.00,1016.80L283.50,1016.80L284.00,1016.80L284.50,1016.80L285.00,1016.80L285.50,1016.80L286.00,1016.80L286.50,1016.80L287.00,1016.80L287.50,1016.80L288.00,1016.80L288.50,1016.80L289.00,1016.80L289.50,1016.80L290.00,1016.80L290.50,1016.80L291.00,1016.80L291.50,1016.80L292.00,1016.80L292.50,1016.80L293.00,1015.63L293.50,1014.59L294.00,1013.12L294.50,1011.67L295.00,1011.09L295.50,1010.43L296.00,1008.61L296.50,1007.01L297.00,1006.98L297.50,1007.79L298.00,1006.96L298.50,1006.43L299.00,1007.49L299.50,1008.30L300.00,1007.53L300.50,1006.89L301.00,1007.78L301.50,1008.56L302.00,1007.78L302.50,1006.98L303.00,1007.70L303.50,1008.45L304.00,1007.63L304.50,1006.66L305.00,1007.24L305.50,1008.03L306.00,1007.19L306.50,1006.06L307.00,1006.58L307.50,1007.47L308.00,1006.68L308.50,1005.45L309.00,1005.95L309.50,1007.00L310.00,1006.34L310.50,1005.10L311.00,1005.61L311.50,1006.82L312.00,1006.34L312.50,1005.16L313.00,1005.67L313.50,1006.99L314.00,1006.71L314.50,1005.62L315.00,1006.09L315.50,1007.44L316.00,1007.32L316.50,1006.29L317.00,1006.66L317.50,1007.95L318.00,1007.92L318.50,1006.91L319.00,1007.11L319.50,1008.30L320.00,1008.29L320.50,1007.21L321.00,1007.23L321.50,1008.30L322.00,1008.29L322.50,1007.11L323.00,1006.93L323.50,1007.94L324.00,1007.95L324.50,1006.66L325.00,1006.32L325.50,1007.35L326.00,1007.44L326.50,1006.09L327.00,1005.64L327.50,1006.74L328.00,1006.99L328.50,1005.66L329.00,1005.17L329.50,1006.36L330.00,1006.81L330.50,1005.59L331.00,1005.10L331.50,1006.35L332.00,1006.99L332.50,1005.92L333.00,1005.44L333.50,1006.68L334.00,1007.45L334.50,1006.54L335.00,1006.05L335.50,1007.20L336.00,1008.02L336.50,1016.80L337.00,1016.80L337.50,1016.80L338.00,1016.80L338.50,1016.80L339.00,1016.80L339.50,1016.80L340.00,1016.80L340.50,1016.80L341.00,1016.80L341.50,1016.80L342.00,1002.80L342.50,1002.80L343.00,1002.80L343.50,1002.80L344.00,1002.80L344.50,1002.80L345.00,1002.80L345.50,1002.80L346.00,1002.80L346.50,1002.80L347.00,1002.80L347.50,1002.80L348.00,1002.80L348.50,1002.80L349.00,1002.80L349.50,1002.80L350.00,1002.80L350.50,1002.80L351.00,1016.80L351.50,1016.80L352.00,1016.80L352.50,1016.80L353.00,1016.80L353.50,1016.80L354.00,1016.80L354.50,1016.80L355.00,1016.80L355.50,1016.80L356.00,1016.80L356.50,1016.80L357.00,1016.80L357.50,1016.80L358.00,1016.80L358.50,1016.80L359.00,1016.80L359.50,1016.80L360.00,1016.80L360.50,1016.80L361.00,1016.80L361.50,1016.80L362.00,1016.80L362.50,1016.80L363.00,1016.80L363.50,1016.80L364.00,1016.80L364.50,1016.80L365.00,1016.80L365.50,1016.80L366.00,1016.80L366.50,1016.80L367.00,1016.80L367.50,1016.80L368.00,1016.80L368.50,1016.80L369.00,1016.80L369.50,1016.80L370.00,1016.80L370.50,1016.80L371.00,1016.80L371.50,1016.80L372.00,1016.80L372.50,1016.80L373.00,1016.80L373.50,1016.80L374.00,1016.80L374.50,1016.80L375.00,1016.80L375.50,1016.80L376.00,1016.80L376.50,1016.80L377.00,1016.80L377.50,1016.80L378.00,1016.80L378.50,1016.80L379.00,1016.80L379.50,1016.80L380.00,1016.80L380.50,1016.80L381.00,1016.80L381.50,1016.80L382.00,1016.80L382.50,1006.30L383.00,1006.30L383.50,1006.30L384.00,1006.30L384.50,1006.30L385.00,1006.30L385.50,1006.30L386.00,1006.30L386.50,1006.30L387.00,1006.30L387.50,1006.30L388.00,1006.30L388.50,1006.30L389.00,1006.30L389.50,1006.30L390.00,1006.30L390.50,1006.30L391.00,1003.15L391.50,1005.02L392.00,1006.90L392.50,1008.77L393.00,1010.65L393.50,1012.52L394.00,1016.80L394.50,1016.80L395.00,1016.80L395.50,1016.80L396.00,1016.80L396.50,1016.80L397.00,1016.80L397.50,1016.80L398.00,1016.80L398.50,1016.80L399.00,1016.80L399.50,1016.80L400.00,1016.80L400.50,1016.80L401.00,1016.80L401.50,1016.80L402.00,1016.80L402.50,1016.80L403.00,1016.80L403.50,1016.80L404.00,1016.80L404.50,1016.80L405.00,1016.80L405.00,1016.80Z" fill="#111"/>
<line x1="83.70" y1="999.20" x2="407.20" y2="999.20" stroke="#111" stroke-width="1.9"/>
<line x1="83.70" y1="1016.90" x2="407.20" y2="1016.90" stroke="#111" stroke-width="1.9"/>
<path d="M411.70,981.50H409.20V998.50H411.70" fill="none" stroke="#111" stroke-width="1.0"/>
<path d="M411.70,1001.50H409.20V1016.50H411.70" fill="none" stroke="#111" stroke-width="1.0"/>
<text x="414.50" y="988.70" font-size="11.3" fill="#111" stroke="#111" stroke-width="0.25">3,000</text>
<text x="414.50" y="998.90" font-size="11.3" fill="#111" stroke="#111" stroke-width="0.25">0</text>
<text x="414.50" y="1008.50" font-size="11.3" fill="#111" stroke="#111" stroke-width="0.25">3,000</text>
<text x="414.50" y="1019.50" font-size="11.3" fill="#111" stroke="#111" stroke-width="0.25">0</text>
<text x="117.70" y="1033.30" font-size="11.3" fill="#3a3fa8" stroke="#3a3fa8" stroke-width="0.25" text-anchor="end">KLK1</text>
<line x1="123.30" y1="1029.40" x2="394.60" y2="1029.40" stroke="#2e3192" stroke-width="2.2"/>
<path d="M129.10,1027.10L131.30,1029.40L129.10,1031.70M135.50,1027.10L137.70,1029.40L135.50,1031.70M141.90,1027.10L144.10,1029.40L141.90,1031.70M148.30,1027.10L150.50,1029.40L148.30,1031.70M154.70,1027.10L156.90,1029.40L154.70,1031.70M161.10,1027.10L163.30,1029.40L161.10,1031.70M167.50,1027.10L169.70,1029.40L167.50,1031.70M173.90,1027.10L176.10,1029.40L173.90,1031.70M180.30,1027.10L182.50,1029.40L180.30,1031.70M186.70,1027.10L188.90,1029.40L186.70,1031.70M193.10,1027.10L195.30,1029.40L193.10,1031.70M199.50,1027.10L201.70,1029.40L199.50,1031.70M205.90,1027.10L208.10,1029.40L205.90,1031.70M212.30,1027.10L214.50,1029.40L212.30,1031.70M218.70,1027.10L220.90,1029.40L218.70,1031.70M225.10,1027.10L227.30,1029.40L225.10,1031.70M231.50,1027.10L233.70,1029.40L231.50,1031.70M237.90,1027.10L240.10,1029.40L237.90,1031.70M244.30,1027.10L246.50,1029.40L244.30,1031.70M250.70,1027.10L252.90,1029.40L250.70,1031.70M257.10,1027.10L259.30,1029.40L257.10,1031.70M263.50,1027.10L265.70,1029.40L263.50,1031.70M269.90,1027.10L272.10,1029.40L269.90,1031.70M276.30,1027.10L278.50,1029.40L276.30,1031.70M282.70,1027.10L284.90,1029.40L282.70,1031.70M289.10,1027.10L291.30,1029.40L289.10,1031.70M295.50,1027.10L297.70,1029.40L295.50,1031.70M301.90,1027.10L304.10,1029.40L301.90,1031.70M308.30,1027.10L310.50,1029.40L308.30,1031.70M314.70,1027.10L316.90,1029.40L314.70,1031.70M321.10,1027.10L323.30,1029.40L321.10,1031.70M327.50,1027.10L329.70,1029.40L327.50,1031.70M333.90,1027.10L336.10,1029.40L333.90,1031.70M340.30,1027.10L342.50,1029.40L340.30,1031.70M346.70,1027.10L348.90,1029.40L346.70,1031.70M353.10,1027.10L355.30,1029.40L353.10,1031.70M359.50,1027.10L361.70,1029.40L359.50,1031.70M365.90,1027.10L368.10,1029.40L365.90,1031.70M372.30,1027.10L374.50,1029.40L372.30,1031.70M378.70,1027.10L380.90,1029.40L378.70,1031.70M385.10,1027.10L387.30,1029.40L385.10,1031.70" fill="none" stroke="#3a41a0" stroke-width="1.8" stroke-linejoin="miter"/>
<rect x="123.10" y="1024.00" width="5.00" height="10.80" fill="#2e3192"/>
<rect x="235.00" y="1023.80" width="9.00" height="11.20" fill="#2e3192"/>
<rect x="318.50" y="1023.80" width="17.70" height="11.20" fill="#2e3192"/>
<rect x="342.80" y="1023.80" width="8.50" height="11.20" fill="#2e3192"/>
<rect x="382.40" y="1023.80" width="9.70" height="11.20" fill="#2e3192"/>
<rect x="392.10" y="1026.40" width="2.50" height="6.00" fill="#2e3192"/>
<text x="28.70" y="1047.30" font-size="11.3" fill="#8e3530" stroke="#8e3530" stroke-width="0.25">ChIPseq K4me3</text>
<text x="86.00" y="1061.20" font-size="11.3" fill="#111" stroke="#111" stroke-width="0.25" text-anchor="end">2000721N</text>
<text x="86.00" y="1084.50" font-size="11.3" fill="#111" stroke="#111" stroke-width="0.25" text-anchor="end">2000721C</text>
<path d="M84.00,1068.90L84.00,1068.33L84.70,1068.18L85.40,1068.27L86.10,1068.15L86.80,1068.14L87.50,1068.42L88.20,1068.44L88.90,1068.03L89.60,1068.32L90.30,1068.33L91.00,1067.95L91.70,1068.21L92.40,1068.03L93.10,1068.21L93.80,1068.13L94.50,1068.37L95.20,1068.13L95.90,1068.02L96.60,1068.17L97.30,1067.92L98.00,1067.81L98.70,1067.98L99.40,1067.49L100.10,1067.45L100.80,1067.60L101.50,1067.73L102.20,1067.32L102.90,1067.51L103.60,1067.39L104.30,1067.31L105.00,1067.39L105.70,1067.29L106.40,1067.55L107.10,1067.35L107.80,1067.53L108.50,1067.38L109.20,1067.55L109.90,1068.08L110.60,1068.20L111.30,1068.30L112.00,1067.97L112.70,1068.23L113.40,1068.14L114.10,1068.30L114.80,1068.20L115.50,1068.26L116.20,1068.27L116.90,1068.16L117.60,1068.16L118.30,1068.00L119.00,1068.11L119.70,1067.99L120.40,1068.02L121.10,1067.95L121.80,1068.11L122.50,1068.37L123.20,1068.02L123.90,1067.97L124.60,1068.00L125.30,1068.17L126.00,1068.09L126.70,1068.34L127.40,1068.03L128.10,1068.16L128.80,1068.31L129.50,1068.42L130.20,1068.02L130.90,1067.96L131.60,1068.41L132.30,1068.05L133.00,1068.24L133.70,1068.37L134.40,1068.30L135.10,1068.07L135.80,1068.01L136.50,1068.43L137.20,1068.14L137.90,1068.43L138.60,1068.09L139.30,1068.28L140.00,1068.01L140.70,1067.94L141.40,1068.05L142.10,1067.68L142.80,1067.91L143.50,1067.90L144.20,1067.55L144.90,1067.83L145.60,1067.75L146.30,1067.65L147.00,1067.54L147.70,1067.77L148.40,1067.83L149.10,1067.42L149.80,1067.69L150.50,1067.46L151.20,1067.61L151.90,1067.99L152.60,1068.07L153.30,1068.17L154.00,1068.13L154.70,1068.15L155.40,1068.17L156.10,1068.14L156.80,1067.98L157.50,1068.20L158.20,1068.23L158.90,1068.09L159.60,1068.33L160.30,1068.30L161.00,1067.96L161.70,1068.19L162.40,1068.18L163.10,1068.44L163.80,1068.24L164.50,1068.16L165.20,1068.44L165.90,1068.14L166.60,1068.13L167.30,1068.42L168.00,1068.14L168.70,1068.22L169.40,1068.11L170.10,1068.27L170.80,1068.10L171.50,1068.08L172.20,1068.44L172.90,1068.42L173.60,1068.11L174.30,1067.97L175.00,1068.32L175.70,1068.22L176.40,1068.15L177.10,1068.29L177.80,1068.27L178.50,1068.29L179.20,1068.27L179.90,1068.15L180.60,1068.30L181.30,1068.26L182.00,1068.06L182.70,1068.44L183.40,1068.17L184.10,1068.08L184.80,1068.29L185.50,1068.34L186.20,1068.05L186.90,1068.22L187.60,1068.08L188.30,1067.80L189.00,1067.50L189.70,1067.80L190.40,1067.69L191.10,1067.68L191.80,1067.43L192.50,1067.63L193.20,1067.42L193.90,1067.77L194.60,1067.68L195.30,1067.59L196.00,1067.64L196.70,1068.02L197.40,1068.30L198.10,1068.39L198.80,1068.19L199.50,1068.35L200.20,1068.05L200.90,1068.03L201.60,1068.36L202.30,1068.31L203.00,1068.05L203.70,1068.13L204.40,1068.05L205.10,1068.28L205.80,1068.39L206.50,1068.30L207.20,1068.05L207.90,1068.31L208.60,1068.28L209.30,1068.24L210.00,1068.24L210.70,1068.25L211.40,1067.99L212.10,1068.37L212.80,1068.45L213.50,1067.98L214.20,1068.01L214.90,1067.96L215.60,1068.23L216.30,1067.97L217.00,1067.99L217.70,1068.34L218.40,1068.08L219.10,1068.03L219.80,1068.12L220.50,1068.19L221.20,1068.31L221.90,1068.28L222.60,1068.34L223.30,1068.42L224.00,1068.16L224.70,1068.31L225.40,1068.04L226.10,1068.42L226.80,1067.99L227.50,1068.09L228.20,1067.98L228.90,1067.99L229.60,1067.98L230.30,1068.14L231.00,1068.42L231.70,1068.05L232.40,1068.34L233.10,1068.27L233.80,1068.09L234.50,1068.15L235.20,1068.20L235.90,1067.94L236.60,1068.10L237.30,1068.23L238.00,1068.27L238.70,1067.97L239.40,1068.16L240.10,1068.00L240.80,1068.21L241.50,1068.29L242.20,1068.12L242.90,1067.97L243.60,1068.29L244.30,1067.98L245.00,1067.91L245.70,1067.97L246.40,1067.96L247.10,1068.36L247.80,1068.05L248.50,1067.93L249.20,1068.33L249.90,1068.22L250.60,1068.22L251.30,1068.09L252.00,1067.67L252.70,1066.54L253.40,1065.28L254.10,1064.57L254.80,1063.44L255.50,1062.30L256.20,1061.20L256.90,1060.13L257.60,1058.58L258.30,1057.54L259.00,1057.29L259.70,1056.64L260.40,1056.28L261.10,1056.34L261.80,1056.74L262.50,1057.02L263.20,1057.67L263.90,1058.88L264.60,1060.07L265.30,1061.10L266.00,1062.30L266.70,1063.21L267.40,1064.30L268.10,1065.64L268.80,1066.97L269.50,1068.09L270.20,1068.16L270.90,1068.05L271.60,1067.96L272.30,1068.16L273.00,1067.95L273.70,1068.04L274.40,1068.13L275.10,1068.16L275.80,1068.10L276.50,1068.00L277.20,1068.14L277.90,1068.00L278.60,1068.12L279.30,1068.23L280.00,1068.08L280.70,1068.00L281.40,1068.31L282.10,1068.14L282.80,1068.14L283.50,1067.91L284.20,1067.88L284.90,1068.16L285.60,1067.90L286.30,1067.95L287.00,1068.22L287.70,1068.12L288.40,1068.29L289.10,1067.94L289.80,1068.02L290.50,1067.91L291.20,1067.95L291.90,1068.02L292.60,1067.98L293.30,1068.07L294.00,1068.30L294.70,1068.06L295.40,1068.35L296.10,1068.28L296.80,1067.96L297.50,1068.33L298.20,1068.30L298.90,1068.30L299.60,1067.91L300.30,1068.26L301.00,1068.34L301.70,1067.79L302.40,1068.01L303.10,1067.51L303.80,1067.45L304.50,1067.23L305.20,1067.03L305.90,1067.08L306.60,1066.89L307.30,1067.20L308.00,1066.77L308.70,1066.82L309.40,1066.65L310.10,1066.91L310.80,1066.67L311.50,1066.66L312.20,1067.18L312.90,1067.14L313.60,1067.10L314.30,1067.05L315.00,1067.43L315.70,1067.55L316.40,1067.61L317.10,1067.52L317.80,1067.55L318.50,1067.82L319.20,1067.93L319.90,1068.01L320.60,1068.12L321.30,1068.14L322.00,1068.31L322.70,1068.10L323.40,1067.86L324.10,1068.14L324.80,1067.98L325.50,1068.27L326.20,1068.00L326.90,1067.97L327.60,1068.01L328.30,1068.09L329.00,1068.11L329.70,1068.03L330.40,1067.90L331.10,1068.28L331.80,1068.30L332.50,1067.98L333.20,1067.89L333.90,1068.09L334.60,1068.13L335.30,1067.99L336.00,1068.26L336.70,1068.22L337.40,1068.18L338.10,1067.87L338.80,1067.89L339.50,1067.82L340.20,1067.53L340.90,1067.49L341.60,1067.90L342.30,1067.78L343.00,1068.02L343.70,1067.89L344.40,1068.06L345.10,1068.22L345.80,1068.24L346.50,1068.34L347.20,1068.11L347.90,1068.16L348.60,1068.26L349.30,1068.17L350.00,1068.19L350.70,1067.96L351.40,1068.20L352.10,1067.63L352.80,1067.75L353.50,1067.55L354.20,1067.48L354.90,1067.15L355.60,1067.14L356.30,1067.27L357.00,1067.31L357.70,1067.19L358.40,1067.12L359.10,1067.35L359.80,1067.18L360.50,1067.07L361.20,1067.37L361.90,1067.68L362.60,1067.86L363.30,1067.80L364.00,1068.01L364.70,1067.87L365.40,1067.92L366.10,1068.23L366.80,1068.26L367.50,1068.22L368.20,1068.26L368.90,1068.00L369.60,1067.92L370.30,1067.90L371.00,1068.22L371.70,1067.92L372.40,1068.19L373.10,1068.14L373.80,1067.99L374.50,1068.31L375.20,1068.30L375.90,1067.93L376.60,1068.20L377.30,1068.17L378.00,1068.06L378.70,1068.01L379.40,1068.35L380.10,1068.18L380.80,1068.13L381.50,1068.11L382.20,1068.24L382.90,1068.06L383.60,1067.87L384.30,1068.15L385.00,1068.08L385.70,1068.15L386.40,1067.56L387.10,1066.87L387.80,1066.64L388.50,1066.06L389.20,1065.98L389.90,1066.31L390.60,1065.82L391.30,1066.03L392.00,1065.76L392.70,1066.16L393.40,1066.77L394.10,1066.97L394.80,1067.36L395.50,1067.67L396.20,1068.32L396.90,1068.07L397.60,1067.97L398.30,1068.11L399.00,1068.18L399.70,1068.39L400.40,1068.20L401.10,1068.27L401.80,1068.09L402.50,1068.11L403.20,1068.17L403.90,1068.36L404.60,1068.13L405.30,1068.13L406.00,1068.36L406.00,1068.90Z" fill="#8c1c1a"/>
<path d="M84.00,1087.40L84.00,1086.86L84.70,1086.94L85.40,1086.76L86.10,1086.91L86.80,1086.96L87.50,1086.76L88.20,1086.45L88.90,1086.52L89.60,1086.54L90.30,1086.87L91.00,1086.68L91.70,1086.83L92.40,1086.90L93.10,1086.94L93.80,1086.87L94.50,1086.44L95.20,1086.50L95.90,1086.52L96.60,1086.52L97.30,1086.88L98.00,1086.81L98.70,1086.62L99.40,1086.56L100.10,1086.49L100.80,1086.47L101.50,1086.95L102.20,1086.64L102.90,1086.60L103.60,1086.70L104.30,1086.89L105.00,1086.72L105.70,1086.95L106.40,1086.44L107.10,1086.48L107.80,1086.67L108.50,1086.82L109.20,1086.45L109.90,1086.66L110.60,1086.47L111.30,1086.49L112.00,1086.69L112.70,1086.75L113.40,1086.64L114.10,1086.74L114.80,1086.90L115.50,1086.82L116.20,1086.51L116.90,1086.97L117.60,1086.97L118.30,1086.62L119.00,1086.83L119.70,1086.68L120.40,1086.72L121.10,1086.79L121.80,1086.40L122.50,1086.88L123.20,1086.75L123.90,1086.88L124.60,1086.62L125.30,1086.68L126.00,1086.29L126.70,1085.70L127.40,1085.61L128.10,1085.16L128.80,1084.96L129.50,1085.44L130.20,1085.46L130.90,1085.36L131.60,1085.04L132.30,1085.13L133.00,1085.36L133.70,1085.30L134.40,1085.39L135.10,1085.27L135.80,1085.87L136.50,1085.83L137.20,1086.06L137.90,1086.38L138.60,1086.56L139.30,1086.42L140.00,1086.99L140.70,1086.83L141.40,1086.42L142.10,1086.53L142.80,1086.75L143.50,1086.43L144.20,1086.63L144.90,1086.51L145.60,1086.82L146.30,1086.89L147.00,1086.73L147.70,1086.92L148.40,1086.77L149.10,1086.42L149.80,1086.80L150.50,1086.99L151.20,1086.97L151.90,1086.90L152.60,1086.53L153.30,1086.78L154.00,1086.83L154.70,1086.94L155.40,1086.41L156.10,1086.75L156.80,1086.88L157.50,1086.96L158.20,1086.97L158.90,1086.90L159.60,1086.59L160.30,1086.91L161.00,1086.98L161.70,1086.71L162.40,1086.85L163.10,1086.40L163.80,1086.93L164.50,1086.68L165.20,1086.54L165.90,1086.75L166.60,1086.41L167.30,1086.71L168.00,1086.85L168.70,1086.75L169.40,1086.98L170.10,1086.75L170.80,1086.85L171.50,1086.47L172.20,1086.50L172.90,1086.70L173.60,1086.98L174.30,1086.85L175.00,1086.85L175.70,1086.88L176.40,1086.86L177.10,1086.48L177.80,1086.91L178.50,1086.97L179.20,1086.44L179.90,1086.66L180.60,1086.41L181.30,1086.76L182.00,1086.46L182.70,1086.61L183.40,1086.53L184.10,1086.55L184.80,1086.70L185.50,1086.94L186.20,1086.87L186.90,1086.48L187.60,1086.46L188.30,1086.45L189.00,1086.80L189.70,1086.61L190.40,1086.47L191.10,1086.48L191.80,1086.29L192.50,1086.37L193.20,1086.21L193.90,1086.10L194.60,1086.34L195.30,1085.95L196.00,1085.93L196.70,1086.46L197.40,1085.92L198.10,1085.92L198.80,1086.10L199.50,1086.47L200.20,1085.99L200.90,1086.57L201.60,1086.19L202.30,1086.48L203.00,1086.96L203.70,1086.90L204.40,1086.62L205.10,1086.65L205.80,1086.55L206.50,1086.44L207.20,1086.86L207.90,1086.99L208.60,1086.44L209.30,1086.98L210.00,1086.46L210.70,1086.92L211.40,1086.50L212.10,1086.51L212.80,1086.45L213.50,1086.65L214.20,1086.45L214.90,1086.86L215.60,1086.57L216.30,1086.78L217.00,1086.44L217.70,1086.51L218.40,1086.69L219.10,1086.65L219.80,1086.95L220.50,1086.95L221.20,1086.61L221.90,1086.67L222.60,1086.44L223.30,1086.60L224.00,1086.88L224.70,1086.74L225.40,1086.50L226.10,1086.64L226.80,1086.95L227.50,1086.45L228.20,1086.45L228.90,1086.90L229.60,1086.62L230.30,1086.72L231.00,1086.47L231.70,1086.76L232.40,1086.80L233.10,1086.65L233.80,1086.36L234.50,1086.88L235.20,1086.87L235.90,1086.56L236.60,1086.40L237.30,1086.63L238.00,1086.67L238.70,1086.42L239.40,1086.46L240.10,1086.89L240.80,1086.40L241.50,1086.81L242.20,1086.74L242.90,1086.42L243.60,1086.67L244.30,1086.44L245.00,1086.82L245.70,1086.39L246.40,1086.81L247.10,1086.82L247.80,1086.62L248.50,1086.71L249.20,1086.58L249.90,1086.37L250.60,1086.48L251.30,1086.90L252.00,1086.72L252.70,1086.58L253.40,1086.61L254.10,1086.47L254.80,1085.68L255.50,1084.29L256.20,1082.55L256.90,1080.56L257.60,1079.22L258.30,1078.04L259.00,1077.91L259.70,1078.12L260.40,1078.09L261.10,1078.13L261.80,1078.31L262.50,1077.95L263.20,1078.22L263.90,1077.95L264.60,1078.32L265.30,1077.98L266.00,1078.03L266.70,1080.23L267.40,1082.43L268.10,1084.72L268.80,1086.44L269.50,1086.68L270.20,1086.50L270.90,1086.82L271.60,1086.85L272.30,1086.81L273.00,1086.41L273.70,1086.79L274.40,1086.36L275.10,1086.68L275.80,1086.55L276.50,1086.69L277.20,1086.53L277.90,1086.84L278.60,1086.66L279.30,1086.10L280.00,1086.33L280.70,1085.81L281.40,1085.90L282.10,1085.92L282.80,1086.09L283.50,1086.09L284.20,1085.53L284.90,1085.60L285.60,1085.80L286.30,1086.02L287.00,1086.14L287.70,1086.80L288.40,1086.55L289.10,1086.60L289.80,1086.56L290.50,1086.34L291.20,1086.44L291.90,1086.32L292.60,1086.83L293.30,1086.51L294.00,1086.49L294.70,1086.45L295.40,1085.86L296.10,1084.95L296.80,1084.48L297.50,1083.32L298.20,1082.85L298.90,1081.95L299.60,1081.37L300.30,1081.15L301.00,1081.06L301.70,1080.77L302.40,1080.37L303.10,1079.86L303.80,1079.30L304.50,1079.46L305.20,1079.86L305.90,1079.96L306.60,1079.81L307.30,1080.23L308.00,1080.25L308.70,1080.73L309.40,1080.87L310.10,1080.89L310.80,1081.04L311.50,1081.32L312.20,1081.71L312.90,1081.60L313.60,1082.13L314.30,1082.76L315.00,1083.16L315.70,1082.97L316.40,1083.31L317.10,1083.70L317.80,1084.24L318.50,1084.79L319.20,1085.31L319.90,1085.60L320.60,1086.00L321.30,1085.97L322.00,1086.24L322.70,1086.20L323.40,1086.48L324.10,1086.33L324.80,1086.19L325.50,1085.70L326.20,1086.07L326.90,1085.60L327.60,1085.56L328.30,1085.54L329.00,1085.20L329.70,1085.51L330.40,1085.26L331.10,1085.38L331.80,1085.31L332.50,1085.25L333.20,1085.00L333.90,1085.06L334.60,1085.05L335.30,1084.44L336.00,1084.81L336.70,1084.40L337.40,1084.46L338.10,1084.40L338.80,1084.39L339.50,1084.16L340.20,1084.15L340.90,1084.18L341.60,1084.20L342.30,1083.91L343.00,1083.47L343.70,1083.16L344.40,1082.69L345.10,1082.18L345.80,1081.04L346.50,1080.53L347.20,1080.12L347.90,1079.57L348.60,1078.66L349.30,1078.54L350.00,1077.97L350.70,1077.40L351.40,1076.90L352.10,1076.82L352.80,1076.39L353.50,1076.23L354.20,1076.67L354.90,1076.36L355.60,1077.07L356.30,1076.96L357.00,1078.23L357.70,1079.02L358.40,1079.39L359.10,1080.19L359.80,1081.34L360.50,1082.03L361.20,1083.01L361.90,1083.80L362.60,1085.06L363.30,1085.35L364.00,1085.60L364.70,1085.78L365.40,1085.65L366.10,1085.64L366.80,1085.97L367.50,1085.69L368.20,1085.70L368.90,1085.85L369.60,1086.14L370.30,1085.83L371.00,1085.65L371.70,1086.02L372.40,1085.81L373.10,1085.66L373.80,1085.84L374.50,1086.18L375.20,1085.82L375.90,1086.05L376.60,1085.69L377.30,1085.80L378.00,1086.02L378.70,1085.66L379.40,1085.82L380.10,1086.00L380.80,1085.70L381.50,1084.87L382.20,1083.74L382.90,1082.63L383.60,1081.64L384.30,1080.50L385.00,1079.44L385.70,1078.68L386.40,1078.41L387.10,1078.79L387.80,1078.95L388.50,1078.57L389.20,1078.70L389.90,1078.67L390.60,1078.64L391.30,1078.85L392.00,1079.17L392.70,1080.28L393.40,1080.88L394.10,1081.83L394.80,1082.99L395.50,1084.16L396.20,1084.39L396.90,1085.23L397.60,1086.17L398.30,1087.00L399.00,1086.49L399.70,1086.63L400.40,1086.63L401.10,1086.99L401.80,1086.56L402.50,1086.98L403.20,1086.71L403.90,1086.91L404.60,1086.78L405.30,1086.47L406.00,1086.55L406.00,1087.40Z" fill="#8c1c1a"/>
<line x1="83.70" y1="1068.90" x2="407.20" y2="1068.90" stroke="#111" stroke-width="1.9"/>
<line x1="83.70" y1="1087.40" x2="407.20" y2="1087.40" stroke="#111" stroke-width="1.9"/>
<path d="M411.70,1052.00H409.20V1068.50H411.70" fill="none" stroke="#111" stroke-width="1.0"/>
<path d="M411.70,1071.50H409.20V1087.00H411.70" fill="none" stroke="#111" stroke-width="1.0"/>
<text x="414.50" y="1058.50" font-size="11.3" fill="#111" stroke="#111" stroke-width="0.25">80</text>
<text x="414.50" y="1068.90" font-size="11.3" fill="#111" stroke="#111" stroke-width="0.25">0</text>
<text x="414.50" y="1077.90" font-size="11.3" fill="#111" stroke="#111" stroke-width="0.25">80</text>
<text x="414.50" y="1088.30" font-size="11.3" fill="#111" stroke="#111" stroke-width="0.25">0</text>
<text x="485.30" y="919.00" font-size="18.5" fill="#111" font-weight="bold" stroke="#111" stroke-width="0.5">l</text>
<rect x="523.20" y="906.70" width="158.80" height="93.30" fill="#fcf2ec"/>
<text x="501.80" y="924.70" font-size="11.3" fill="#111" stroke="#111" stroke-width="0.25">2000721C</text>
<line x1="576.80" y1="920.70" x2="629.90" y2="920.70" stroke="#111" stroke-width="1.5"/>
<line x1="576.80" y1="916.20" x2="576.80" y2="925.20" stroke="#111" stroke-width="1.5"/>
<line x1="629.90" y1="916.20" x2="629.90" y2="925.20" stroke="#111" stroke-width="1.5"/>
<text x="634.50" y="924.20" font-size="11.3" fill="#111" stroke="#111" stroke-width="0.25">200 bases</text>
<text x="501.80" y="942.30" font-size="11.3" fill="#8e3530" stroke="#8e3530" stroke-width="0.25">RNAseq</text>
<path d="M525.20,955.00L525.20,954.67L525.80,953.93L526.40,954.76L527.00,954.17L527.60,954.78L528.20,954.61L528.80,953.86L529.40,954.64L530.00,954.20L530.60,954.37L531.20,954.37L531.80,954.32L532.40,954.62L533.00,953.97L533.60,954.70L534.20,954.55L534.80,954.76L535.40,954.50L536.00,954.35L536.60,953.85L537.20,954.37L537.80,954.63L538.40,954.47L539.00,953.73L539.60,954.65L540.20,954.09L540.80,954.32L541.40,953.77L542.00,953.78L542.60,953.11L543.20,952.98L543.80,952.51L544.40,951.95L545.00,951.95L545.60,952.07L546.20,951.84L546.80,950.65L547.40,950.81L548.00,950.81L548.60,949.75L549.20,949.82L549.80,949.37L550.40,948.92L551.00,949.21L551.60,948.84L552.20,948.04L552.80,948.53L553.40,947.65L554.00,948.07L554.60,947.23L555.20,946.96L555.80,946.47L556.40,946.32L557.00,946.41L557.60,946.47L558.20,946.31L558.80,945.80L559.40,945.69L560.00,946.00L560.60,945.04L561.20,945.31L561.80,944.98L562.40,945.34L563.00,945.18L563.60,945.29L564.20,944.83L564.80,944.78L565.40,944.56L566.00,944.58L566.60,944.10L567.20,944.01L567.80,944.70L568.40,944.46L569.00,944.66L569.60,944.14L570.20,943.80L570.80,944.55L571.40,943.96L572.00,944.40L572.60,944.75L573.20,944.06L573.80,944.55L574.40,944.78L575.00,944.58L575.60,944.84L576.20,944.73L576.80,944.75L577.40,944.84L578.00,944.73L578.60,945.10L579.20,945.35L579.80,945.44L580.40,945.54L581.00,945.26L581.60,945.54L582.20,945.22L582.80,945.65L583.40,945.58L584.00,945.43L584.60,946.37L585.20,946.20L585.80,945.86L586.40,945.40L587.00,945.00L587.60,944.61L588.20,944.79L588.80,943.96L589.40,944.71L590.00,943.66L590.60,944.12L591.20,943.28L591.80,943.95L592.40,942.85L593.00,942.88L593.60,942.48L594.20,942.72L594.80,942.95L595.40,941.99L596.00,942.34L596.60,942.53L597.20,941.87L597.80,941.90L598.40,941.84L599.00,942.08L599.60,942.03L600.20,941.50L600.80,941.54L601.40,941.79L602.00,941.40L602.60,941.03L603.20,940.96L603.80,941.13L604.40,941.39L605.00,941.61L605.60,941.93L606.20,942.14L606.80,942.07L607.40,942.60L608.00,942.16L608.60,942.36L609.20,942.64L609.80,943.42L610.40,943.26L611.00,943.37L611.60,943.88L612.20,943.19L612.80,943.58L613.40,944.01L614.00,943.99L614.60,944.67L615.20,944.82L615.80,944.71L616.40,944.67L617.00,944.87L617.60,945.53L618.20,944.95L618.80,944.68L619.40,944.87L620.00,944.71L620.60,944.69L621.20,945.47L621.80,945.42L622.40,945.20L623.00,944.79L623.60,945.43L624.20,944.88L624.80,945.00L625.40,945.36L626.00,945.27L626.60,944.88L627.20,945.00L627.80,945.42L628.40,944.81L629.00,945.40L629.60,945.17L630.20,944.52L630.80,944.57L631.40,945.05L632.00,945.01L632.60,944.63L633.20,944.34L633.80,944.44L634.40,944.12L635.00,944.27L635.60,944.21L636.20,944.46L636.80,944.73L637.40,944.70L638.00,944.67L638.60,944.66L639.20,944.38L639.80,944.98L640.40,945.22L641.00,944.58L641.60,945.08L642.20,944.96L642.80,945.29L643.40,944.61L644.00,945.20L644.60,945.22L645.20,944.74L645.80,945.08L646.40,945.35L647.00,944.78L647.60,945.29L648.20,945.39L648.80,944.82L649.40,945.04L650.00,945.12L650.60,945.66L651.20,945.13L651.80,945.39L652.40,945.12L653.00,945.51L653.60,945.02L654.20,944.93L654.80,945.26L655.40,944.92L656.00,944.72L656.60,944.43L657.20,944.43L657.80,944.49L658.40,945.06L659.00,944.51L659.60,944.36L660.20,944.89L660.80,944.44L661.40,943.96L662.00,943.85L662.60,943.76L663.20,944.51L663.80,943.93L664.40,943.59L665.00,943.73L665.60,943.99L666.20,944.20L666.80,943.24L667.40,943.23L668.00,943.36L668.60,943.58L669.20,943.04L669.80,942.98L670.40,943.00L671.00,943.05L671.60,943.25L672.20,943.20L672.80,943.19L673.40,943.28L674.00,943.14L674.60,943.59L675.20,943.04L675.80,943.46L676.40,943.70L677.00,943.66L677.60,943.58L678.20,943.65L678.80,943.56L679.40,944.50L680.00,944.63L680.60,944.82L681.20,945.19L681.50,955.00Z" fill="#111"/>
<line x1="525.20" y1="955.60" x2="681.50" y2="955.60" stroke="#111" stroke-width="1.6"/>
<line x1="523.20" y1="969.80" x2="682.00" y2="969.80" stroke="#2e3192" stroke-width="2.2"/>
<path d="M525.40,966.20L528.20,969.80L525.40,973.40M531.10,966.20L533.90,969.80L531.10,973.40M536.80,966.20L539.60,969.80L536.80,973.40M542.50,966.20L545.30,969.80L542.50,973.40M548.20,966.20L551.00,969.80L548.20,973.40M553.90,966.20L556.70,969.80L553.90,973.40M559.60,966.20L562.40,969.80L559.60,973.40M565.30,966.20L568.10,969.80L565.30,973.40M571.00,966.20L573.80,969.80L571.00,973.40M576.70,966.20L579.50,969.80L576.70,973.40M582.40,966.20L585.20,969.80L582.40,973.40M588.10,966.20L590.90,969.80L588.10,973.40M593.80,966.20L596.60,969.80L593.80,973.40M599.50,966.20L602.30,969.80L599.50,973.40M605.20,966.20L608.00,969.80L605.20,973.40M610.90,966.20L613.70,969.80L610.90,973.40M616.60,966.20L619.40,969.80L616.60,973.40M622.30,966.20L625.10,969.80L622.30,973.40M628.00,966.20L630.80,969.80L628.00,973.40M633.70,966.20L636.50,969.80L633.70,973.40M639.40,966.20L642.20,969.80L639.40,973.40M645.10,966.20L647.90,969.80L645.10,973.40M650.80,966.20L653.60,969.80L650.80,973.40M656.50,966.20L659.30,969.80L656.50,973.40M662.20,966.20L665.00,969.80L662.20,973.40M667.90,966.20L670.70,969.80L667.90,973.40M673.60,966.20L676.40,969.80L673.60,973.40" fill="none" stroke="#6674c4" stroke-width="1.8" stroke-linejoin="miter"/>
<rect x="656.00" y="964.60" width="25.50" height="10.40" fill="#2e3192"/>
<text x="684.80" y="973.40" font-size="11.3" fill="#3a3fa8" stroke="#3a3fa8" stroke-width="0.25">KLK1</text>
<text x="490.80" y="988.50" font-size="11.3" fill="#8e3530" stroke="#8e3530" stroke-width="0.25">ChIPseq K4me3</text>
<path d="M525.20,1000.00L525.20,999.21L526.00,999.21L526.80,999.26L527.60,999.02L528.40,999.25L529.20,999.08L530.00,998.94L530.80,999.16L531.60,999.00L532.40,998.96L533.20,999.10L534.00,998.98L534.80,998.86L535.60,998.91L536.40,998.81L537.20,998.95L538.00,998.91L538.80,998.92L539.60,998.78L540.40,998.63L541.20,998.71L542.00,998.63L542.80,998.72L543.60,998.59L544.40,998.76L545.20,998.68L546.00,998.54L546.80,998.50L547.60,998.57L548.40,998.65L549.20,998.57L550.00,998.16L550.80,997.71L551.60,997.12L552.40,996.97L553.20,996.51L554.00,996.26L554.80,996.26L555.60,995.91L556.40,995.63L557.20,995.52L558.00,995.15L558.80,994.75L559.60,994.74L560.40,994.33L561.20,994.19L562.00,993.77L562.80,993.39L563.60,993.32L564.40,993.10L565.20,992.79L566.00,992.37L566.80,992.25L567.60,991.95L568.40,991.54L569.20,991.13L570.00,991.00L570.80,990.73L571.60,990.38L572.40,990.26L573.20,989.84L574.00,989.68L574.80,989.28L575.60,988.89L576.40,988.89L577.20,988.46L578.00,988.17L578.80,988.08L579.60,987.81L580.40,987.36L581.20,987.13L582.00,987.16L582.80,986.76L583.60,986.45L584.40,986.44L585.20,986.10L586.00,986.14L586.80,985.94L587.60,985.74L588.40,985.66L589.20,985.49L590.00,985.59L590.80,985.41L591.60,985.14L592.40,985.15L593.20,985.15L594.00,985.13L594.80,984.91L595.60,985.00L596.40,985.12L597.20,984.85L598.00,984.95L598.80,984.88L599.60,984.91L600.40,984.85L601.20,984.94L602.00,985.07L602.80,984.97L603.60,985.19L604.40,985.04L605.20,985.33L606.00,985.17L606.80,985.22L607.60,985.37L608.40,985.39L609.20,985.63L610.00,985.58L610.80,985.78L611.60,985.94L612.40,985.82L613.20,986.09L614.00,986.20L614.80,986.15L615.60,986.40L616.40,986.41L617.20,986.71L618.00,986.68L618.80,987.02L619.60,987.26L620.40,987.15L621.20,987.57L622.00,987.51L622.80,987.67L623.60,987.95L624.40,988.30L625.20,988.46L626.00,988.59L626.80,988.73L627.60,988.87L628.40,988.96L629.20,989.34L630.00,989.61L630.80,989.68L631.60,990.01L632.40,990.22L633.20,990.28L634.00,990.44L634.80,990.83L635.60,990.92L636.40,991.06L637.20,991.25L638.00,991.58L638.80,991.64L639.60,992.07L640.40,992.11L641.20,992.31L642.00,992.49L642.80,992.82L643.60,993.15L644.40,993.38L645.20,993.44L646.00,993.73L646.80,993.77L647.60,994.12L648.40,994.10L649.20,994.45L650.00,994.70L650.80,994.83L651.60,994.93L652.40,995.08L653.20,995.32L654.00,995.55L654.80,995.59L655.60,995.59L656.40,995.85L657.20,995.87L658.00,996.28L658.80,996.13L659.60,996.30L660.40,996.54L661.20,996.68L662.00,996.82L662.80,996.84L663.60,997.20L664.40,997.11L665.20,997.23L666.00,997.39L666.80,997.35L667.60,997.43L668.40,997.71L669.20,997.61L670.00,997.77L670.80,997.85L671.60,997.89L672.40,998.14L673.20,997.99L674.00,998.08L674.80,997.94L675.60,998.15L676.40,997.99L677.20,998.04L678.00,998.09L678.80,998.03L679.60,998.30L680.40,998.15L681.20,998.16L681.50,1000.00Z" fill="#8c1c1a"/>
<line x1="525.20" y1="1000.30" x2="681.50" y2="1000.30" stroke="#111" stroke-width="1.8"/>
<text x="498.50" y="1017.90" font-size="11.3" fill="#111" stroke="#111" stroke-width="0.25">chr19:51,323,947</text>
<line x1="592.00" y1="1006.00" x2="592.00" y2="1022.60" stroke="#111" stroke-width="1.5"/>
<text x="596.60" y="1017.90" font-size="11.3" fill="#111" stroke="#111" stroke-width="0.25">rs2659104</text>
<text x="534.20" y="1033.50" font-size="11.3" fill="#111" stroke="#111" stroke-width="0.25" text-anchor="end">hg19</text>
<text x="534.20" y="1042.00" font-size="11.3" fill="#111" stroke="#111" stroke-width="0.25" text-anchor="end">Consensus</text>
<text x="534.20" y="1075.50" font-size="11.3" fill="#111" stroke="#111" stroke-width="0.25" text-anchor="end">2000721C</text>
<text x="534.20" y="1087.50" font-size="11.3" fill="#111" stroke="#111" stroke-width="0.25" text-anchor="end">K4me3</text>
<text x="534.20" y="1098.00" font-size="11.3" fill="#111" stroke="#111" stroke-width="0.25" text-anchor="end">ChIPseq</text>
<text x="534.20" y="1109.40" font-size="11.3" fill="#111" stroke="#111" stroke-width="0.25" text-anchor="end">alignment</text>
<text x="541.64 547.12 552.60 558.08 563.56 569.04 574.52 580.00 585.48 590.96 596.44 601.92 607.40 612.88 618.36 623.84 629.32 634.80 640.28 645.76 651.24 656.72 662.20 667.68 673.16 678.64" y="1032.47" font-size="6.9" font-weight="bold" fill="#3a3a3a" text-anchor="middle">GAGGGGTGAAAAAGGCGGAGGGGAGG</text>
<rect x="588.22" y="1034.70" width="5.48" height="7.60" fill="#f2b8b0"/>
<text x="541.64 547.12 552.60 558.08 563.56 569.04 574.52 580.00 585.48 590.96 596.44 601.92 607.40 612.88 618.36 623.84 629.32 634.80 640.28 645.76 651.24 656.72 662.20 667.68 673.16 678.64" y="1040.97" font-size="6.9" font-weight="bold" fill="#3a3a3a" text-anchor="middle">GAGGGGTGAGAAAGGCGGAGGGGAGG</text>
<rect x="588.92" y="1052.20" width="4.08" height="73.00" fill="#e2cf70"/>
<text x="541.64 547.12 552.60 558.08 563.56 607.40 612.88 618.36 623.84 629.32 634.80 640.28 645.76 651.24 656.72 662.20 667.68 673.16 678.64" y="1051.17" font-size="6.9" font-weight="bold" fill="#3dbb86" text-anchor="middle">GAGGGAGGCGGAGGGGAGG</text>
<text x="590.96" y="1058.07" font-size="6.9" fill="#5a4a00" text-anchor="middle" font-weight="bold">G</text>
<text x="541.64 547.12 552.60 558.08 563.56 569.04 574.52 580.00 585.48 596.44 601.92 607.40 612.88 618.36 623.84 629.32 634.80 640.28 645.76 651.24 656.72 662.20 667.68 673.16 678.64" y="1058.40" font-size="6.9" font-weight="bold" fill="#cf5566" text-anchor="middle">GAGGGGTGAAAAGGCGGAGGGGAGG</text>
<rect x="571.78" y="1059.36" width="5.48" height="7.60" fill="#d2bc50"/>
<text x="574.52" y="1065.30" font-size="6.9" fill="#4a3a00" text-anchor="middle" font-weight="bold">G</text>
<text x="590.96" y="1065.30" font-size="6.9" fill="#5a4a00" text-anchor="middle" font-weight="bold">G</text>
<text x="541.64 547.12 552.60 558.08 563.56 569.04 580.00 585.48 596.44 601.92 607.40 612.88 618.36 623.84 629.32 634.80 640.28 645.76 651.24 656.72 662.20 667.68 673.16 678.64" y="1065.63" font-size="6.9" font-weight="bold" fill="#3dbb86" text-anchor="middle">GAGGGGGAAAAGGCGGAGGGGAGG</text>
<text x="590.96" y="1072.53" font-size="6.9" fill="#5a4a00" text-anchor="middle" font-weight="bold">G</text>
<text x="541.64 547.12 552.60 558.08 563.56 569.04 574.52 580.00 585.48 596.44 601.92 607.40 612.88 618.36 623.84 629.32 634.80 640.28 645.76 651.24 656.72 662.20 667.68 673.16 678.64" y="1072.86" font-size="6.9" font-weight="bold" fill="#3dbb86" text-anchor="middle">GAGGGGTGAAAAGGCGGAGGGGAGG</text>
<text x="590.96" y="1079.76" font-size="6.9" fill="#5a4a00" text-anchor="middle" font-weight="bold">G</text>
<text x="541.64 547.12 552.60 558.08 563.56 569.04 574.52 580.00 585.48 596.44 601.92 607.40 612.88 618.36 623.84 629.32 634.80 640.28 645.76 651.24 656.72 662.20 667.68 673.16 678.64" y="1080.09" font-size="6.9" font-weight="bold" fill="#3dbb86" text-anchor="middle">GAGGGGTGAAAAGGCGGAGGGGAGG</text>
<text x="590.96" y="1086.99" font-size="6.9" fill="#5a4a00" text-anchor="middle" font-weight="bold">G</text>
<text x="541.64 547.12 552.60 558.08 563.56 569.04 574.52 580.00 585.48 596.44 601.92 607.40 612.88 618.36 623.84 629.32 634.80 640.28 645.76 651.24 656.72 662.20 667.68 673.16 678.64" y="1087.32" font-size="6.9" font-weight="bold" fill="#cf5566" text-anchor="middle">GAGGGGTGAAAAGGCGGAGGGGAGG</text>
<text x="590.96" y="1094.22" font-size="6.9" fill="#5a4a00" text-anchor="middle" font-weight="bold">G</text>
<text x="541.64 547.12 552.60 558.08 563.56 569.04 574.52 580.00 585.48 596.44 601.92 607.40 612.88 618.36 623.84 629.32 634.80 640.28 645.76 651.24 656.72 662.20 667.68 673.16 678.64" y="1094.55" font-size="6.9" font-weight="bold" fill="#cf5566" text-anchor="middle">GAGGGGTGAAAAGGCGGAGGGGAGG</text>
<text x="590.96" y="1101.45" font-size="6.9" fill="#5a4a00" text-anchor="middle" font-weight="bold">G</text>
<text x="541.64 547.12 552.60 558.08 563.56 569.04 574.52 580.00 585.48 596.44 601.92 607.40 612.88 618.36 623.84 629.32 634.80 640.28 645.76 651.24 656.72 662.20 667.68 673.16 678.64" y="1101.78" font-size="6.9" font-weight="bold" fill="#cf5566" text-anchor="middle">GAGGGGTGAAAAGGCGGAGGGGAGG</text>
<text x="590.96" y="1108.68" font-size="6.9" fill="#5a4a00" text-anchor="middle" font-weight="bold">G</text>
<text x="541.64 547.12 552.60 558.08 563.56 569.04 574.52 580.00 585.48 596.44 601.92 607.40 612.88 618.36 623.84 629.32 634.80 640.28 645.76 651.24 656.72 662.20 667.68 673.16 678.64" y="1109.01" font-size="6.9" font-weight="bold" fill="#cf5566" text-anchor="middle">GAGGGGTGAAAAGGCGGAGGGGAGG</text>
<text x="590.96" y="1115.91" font-size="6.9" fill="#5a4a00" text-anchor="middle" font-weight="bold">G</text>
<text x="541.64 547.12 552.60 558.08 563.56 569.04 574.52 580.00 585.48 596.44 601.92 607.40 612.88 618.36 623.84 629.32 634.80 640.28 645.76 651.24 656.72 662.20 667.68 673.16 678.64" y="1116.24" font-size="6.9" font-weight="bold" fill="#cf5566" text-anchor="middle">GAGGGGTGAAAAGGCGGAGGGGAGG</text>
<text x="590.96" y="1123.14" font-size="6.9" fill="#5a4a00" text-anchor="middle" font-weight="bold">G</text>
<text x="541.64 547.12 552.60 558.08 563.56 569.04 574.52 580.00 585.48 596.44 601.92 607.40 612.88 618.36 623.84 629.32 634.80 640.28 645.76 651.24 656.72 662.20 667.68 673.16 678.64" y="1123.47" font-size="6.9" font-weight="bold" fill="#3dbb86" text-anchor="middle">GAGGGGTGAAAAGGCGGAGGGGAGG</text>
<text x="731.00" y="917.00" font-size="18.5" fill="#111" font-weight="bold" stroke="#111" stroke-width="0.5">m</text>
<rect x="758.20" y="920.00" width="5.40" height="5.40" fill="#c0665f"/>
<text x="766.60" y="926.00" font-size="11.3" fill="#111" stroke="#111" stroke-width="0.25">G-allele (SNP)</text>
<rect x="758.20" y="935.00" width="5.40" height="5.40" fill="#4a90cc"/>
<text x="766.60" y="940.80" font-size="11.3" fill="#111" stroke="#111" stroke-width="0.25">A-allele (reference)</text>
<line x1="771.40" y1="960.00" x2="771.40" y2="1083.80" stroke="#111" stroke-width="2.0"/>
<line x1="770.40" y1="1083.80" x2="854.30" y2="1083.80" stroke="#111" stroke-width="2.0"/>
<line x1="771.40" y1="1083.80" x2="771.40" y2="1087.30" stroke="#111" stroke-width="2.0"/>
<line x1="812.70" y1="1083.80" x2="812.70" y2="1087.30" stroke="#111" stroke-width="2.0"/>
<line x1="854.30" y1="1083.80" x2="854.30" y2="1087.30" stroke="#111" stroke-width="2.0"/>
<line x1="768.00" y1="1083.80" x2="771.40" y2="1083.80" stroke="#111" stroke-width="1.4"/>
<text x="764.20" y="1087.30" font-size="11.3" fill="#111" stroke="#111" stroke-width="0.25" text-anchor="end">0</text>
<line x1="768.00" y1="1052.85" x2="771.40" y2="1052.85" stroke="#111" stroke-width="1.4"/>
<text x="764.20" y="1056.35" font-size="11.3" fill="#111" stroke="#111" stroke-width="0.25" text-anchor="end">10</text>
<line x1="768.00" y1="1021.90" x2="771.40" y2="1021.90" stroke="#111" stroke-width="1.4"/>
<text x="764.20" y="1025.40" font-size="11.3" fill="#111" stroke="#111" stroke-width="0.25" text-anchor="end">20</text>
<line x1="768.00" y1="990.95" x2="771.40" y2="990.95" stroke="#111" stroke-width="1.4"/>
<text x="764.20" y="994.45" font-size="11.3" fill="#111" stroke="#111" stroke-width="0.25" text-anchor="end">30</text>
<line x1="768.00" y1="960.00" x2="771.40" y2="960.00" stroke="#111" stroke-width="1.4"/>
<text x="764.20" y="963.50" font-size="11.3" fill="#111" stroke="#111" stroke-width="0.25" text-anchor="end">40</text>
<rect x="785.70" y="1080.70" width="15.50" height="3.10" fill="#4a90cc"/>
<rect x="785.70" y="1077.61" width="15.50" height="3.10" fill="#c0665f"/>
<line x1="794.00" y1="1074.70" x2="794.00" y2="1080.70" stroke="#111" stroke-width="1.2"/>
<line x1="790.00" y1="1074.70" x2="798.00" y2="1074.70" stroke="#111" stroke-width="1.2"/>
<line x1="790.00" y1="1080.70" x2="798.00" y2="1080.70" stroke="#111" stroke-width="1.2"/>
<rect x="825.10" y="1076.37" width="16.00" height="7.43" fill="#4a90cc"/>
<rect x="825.10" y="1006.42" width="16.00" height="69.95" fill="#c0665f"/>
<line x1="834.20" y1="978.00" x2="834.20" y2="1033.60" stroke="#111" stroke-width="1.3"/>
<line x1="830.20" y1="978.00" x2="838.20" y2="978.00" stroke="#111" stroke-width="1.3"/>
<line x1="830.20" y1="1033.60" x2="838.20" y2="1033.60" stroke="#111" stroke-width="1.3"/>
<text x="791.00" y="1099.70" font-size="11.3" fill="#111" stroke="#111" stroke-width="0.25" text-anchor="middle">Normal</text>
<text x="834.70" y="1099.70" font-size="11.3" fill="#111" stroke="#111" stroke-width="0.25" text-anchor="middle">Cancer</text>
<text x="815.00" y="1116.50" font-size="11.3" fill="#111" stroke="#111" stroke-width="0.25" text-anchor="middle">2000721</text>
<text transform="translate(742,1025.7) rotate(-90)" font-size="11.3" text-anchor="middle" fill="#111" stroke="#111" stroke-width="0.25">ChIP DNA (K27ac per input)</text></svg>
</body></html>
